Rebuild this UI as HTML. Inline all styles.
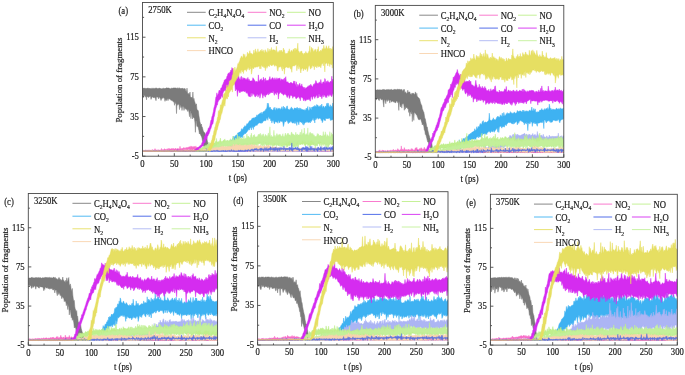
<!DOCTYPE html><html><head><meta charset="utf-8"><style>html,body{margin:0;padding:0;background:#fff;width:685px;height:375px;overflow:hidden;position:relative}</style></head><body><svg width="685" height="375" viewBox="0 0 685 375" style="position:absolute;left:0;top:0;filter:blur(0.5px)">
<rect width="685" height="375" fill="#fff"/>
<clipPath id="ca"><rect x="142.50" y="2.50" width="190.80" height="153.70"/></clipPath>
<g clip-path="url(#ca)">
<path transform="scale(0.1)" vector-effect="non-scaling-stroke" fill="#7b7b7b" stroke="#7b7b7b" stroke-width="0.5" d="M1425 880l5 0 5 3 5-2 5 2 5-1 5 2 5-2 5 3 5 1 5-6 5 1 5 2 5 3 5-1 5-4 5 6 5-3 5-2 5 5 5-4 5 3 5-3 5 1 5 0 5-2 5 0 5-1 5 0 5 4 5 1 5-2 5 0 5-3 5-1 5 5 5 1 5-1 5 3 5 2 5-6 5 4 5-8 5 4 5 3 5-7 5 6 5-3 5-6 5 4 5 0 5 0 5-1 5 0 5 3 5 5 5 0 5-5 5-1 5 0 5 1 5-4 5 0 5 0 5 0 5 0 5 1 5-1 5 5 5-6 5 6 5-7 5 7 5-2 5-3 5 3 5 5 5-6 5 5 5 2 5-5 5-3 5 16 5-11 5 3 5-4 5 11 5 20 5-1 5-33 5 43 5 16 5 2 5-11 5 21 5-32 4 50 5 3 5 8 5-11 5 26 5-76 5 85 5-22 5 25 5 14 5 17 5 12 5-13 5 49 5 18 5-4 5 11 5 44 5 29 5 32 5 16 5 18 5-10 5 30 5 2 5 22 5 21 5 1 5 7 5 7 5 21 5 3 5-20 5 56 5 21 5 18 5 33 5 25 5 9 5 10 5-1 5 2 5-2 5 1 5 0 5-1 5 1 5 0 5 0 5 0 5 0 5 0 5 0 5-1 5 1 5 0 5 0 5 0 5 0 5 0 5-1 5 1 5 0 5 0 5 0 5 0 5 0 5 0 5 0 5 0 5-1 5 1 5-2 5 2 5 0 5 0 5 0 5 0 5 0 5 0 5 0 5 0 5 0 5 0 5 0 5 0 5 0 5-1 5 1 5 0 5 0 5-1 5 1 5 0 5 0 5 0 5-1 5 1 5 0 5 0 5 0 5 0 5 0 5 0 5 0 5-1 5 0 5 0 5 1 5 0 5 0 5 0 5-1 5 1 5 0 5 0 5 0 5 0 5 0 5 0 5 0 5 0 5 0 5 1 5 0 5-1 5 1 5 0 5-1 5 1 5-1 5 0 5 0 5 0 5 0 5-1 5 1 5 0 5 0 5 0 5 0 5 0 5 0 5 0 5 0 5 0 5 0 5 0 5 0 5 0 5 0 5 0 5 0 5 0 5 0 5 0 5 0 5 0 5 0 5 0 5 0 5-1 5 1 5 0 5-1 5 1 5 0 5 0 5 0 5 0 5 0 5 0 5 0 5 0 5-1 5 1 5-1 5 1 5 0 5 0 5-1 5 1 5 0 5 0 5-1 5 1 5-1 5 1 5 0 5 0 5 0 4-1 5 1 5 0 5 0 5 0 5 0 5 0 5-1 5-1 5 2 5-2 5 1 5 1 5-1 5 1 5 0 5 0 5 0 5 0 5 0 5 0 5-1 5 1 5 0 5 0 5 0 5 0 5 0 5-1 5 1 5 0 5 0 5-1 5 1 5 0 5 0 5-1 5 1 5 0 5 0 5 0 5 1 5-1 5 0 5 0 5 0 5 0 5 1 5-1 5 1 5 0 5-1 5 1 5-1 5 1 5-1 5 0 5 0 5 1 5-1 5 0 5 0 5 0 5 0 5 0 5-1 5 1 5 0 5 1 5 0 5-1 5 1 5 0 5 0 5-1 5-1 5 1 5 1 5 0 5 0 5 0 5 0 5-1 5 0 5 0 5 1 5 0 5-1 5 0 5 1 5 0 5-1 5 0 5 1 5 0 5 0L3333 1512l-5 1 -5 1 -5-1 -5-1 -5 1 -5-1 -5 2 -5-1 -5-1 -5 0 -5 1 -5-1 -5 0 -5 0 -5 0 -5 1 -5 0 -5 0 -5 0 -5 0 -5 0 -5-1 -5 1 -5-1 -5 0 -5 1 -5-1 -5 0 -5 0 -5 1 -5-1 -5 2 -5-2 -5 1 -5 0 -5 1 -5-2 -5 1 -5-1 -5 2 -5-2 -5 1 -5 1 -5-2 -5 0 -5 1 -5 1 -5 0 -5-2 -5 0 -5 0 -5 0 -5 1 -5 1 -5-2 -5 0 -5 1 -5-1 -5 0 -5 0 -5 0 -5 1 -5 0 -5-1 -5 0 -5 1 -5-1 -5 0 -5 0 -5 0 -5 1 -5-1 -5 1 -5 0 -5 0 -5-1 -5 0 -5 1 -5-1 -5 0 -5 1 -5 0 -5-1 -5 1 -5-1 -5 0 -5 0 -5 1 -5-1 -5 1 -5-1 -5 0 -5 1 -5-1 -5 0 -4 1 -5-1 -5 0 -5 0 -5 0 -5 0 -5 0 -5 0 -5 0 -5 0 -5 0 -5 0 -5 2 -5-1 -5-1 -5 0 -5 1 -5-1 -5 0 -5 0 -5 0 -5 0 -5 0 -5 0 -5 0 -5 0 -5 2 -5-1 -5 1 -5-2 -5 0 -5 0 -5 1 -5-1 -5 1 -5-1 -5 0 -5 1 -5-1 -5 0 -5 0 -5 0 -5 0 -5 0 -5 0 -5 0 -5 2 -5-2 -5 1 -5 0 -5-1 -5 0 -5 0 -5 0 -5 0 -5 0 -5 2 -5-1 -5-1 -5 0 -5 2 -5-2 -5 1 -5-1 -5 1 -5 0 -5-1 -5 1 -5-1 -5 1 -5-1 -5 1 -5-1 -5 1 -5 0 -5-1 -5 0 -5 0 -5 0 -5 1 -5-1 -5 0 -5 0 -5 1 -5-1 -5 1 -5-1 -5 0 -5 0 -5 2 -5-2 -5 1 -5-1 -5 1 -5-1 -5 1 -5 0 -5-1 -5 0 -5 1 -5-1 -5 0 -5 0 -5 0 -5 1 -5-1 -5 1 -5 0 -5-1 -5 1 -5-1 -5 0 -5 0 -5 1 -5-1 -5 0 -5 0 -5 0 -5 0 -5 1 -5-1 -5 0 -5 1 -5-1 -5 0 -5 1 -5-1 -5 1 -5-1 -5 0 -5 0 -5 1 -5-1 -5 0 -5 0 -5 0 -5 1 -5-1 -5 1 -5 0 -5-1 -5 1 -5 0 -5 0 -5 0 -5 0 -5-1 -5 1 -5 1 -5-2 -5 2 -5-2 -5-1 -5 0 -5 0 -5 3 -5 0 -5-10 -5 3 -5 7 -5-10 -5-34 -5-14 -5 9 -5-6 -5-40 -5-15 -5-26 -5-14 -5-8 -5-12 -5-14 -5 10 -5-36 -5-20 -5-22 -5 3 -5-1 -5-48 -5-8 -5 115 -5-102 -5-36 -5-8 -5-1 -5-5 -5 19 -5-55 -5-6 -5 57 -5-73 -4 0 -5 54 -5-40 -5-28 -5-3 -5 18 -5-21 -5 1 -5-4 -5 1 -5-16 -5 4 -5 26 -5-34 -5-7 -5 3 -5 38 -5-48 -5 20 -5-19 -5-5 -5 43 -5-58 -5 7 -5-11 -5 19 -5-19 -5 102 -5-118 -5 18 -5-22 -5 39 -5-45 -5 14 -5-15 -5 5 -5-13 -5 3 -5 4 -5-13 -5 2 -5-9 -5 6 -5-10 -5 25 -5-23 -5 6 -5 16 -5-5 -5-9 -5 22 -5-25 -5-11 -5 0 -5 0 -5 2 -5 6 -5 5 -5 14 -5-17 -5-5 -5-13 -5 1 -5 18 -5-17 -5-2 -5-1 -5-1 -5 39 -5-20 -5-12 -5 1 -5-3 -5 6 -5-6 -5-5 -5 5 -5 9 -5 12 -5-32 -5 0 -5 6 -5-1 -5 9 -5-11 -5 5 -5-13 -5 41 -5-45 -5 19 -5-8 -5-9 -5-5 -5 24 -5-21 -5 7z"/>
<path transform="scale(0.1)" vector-effect="non-scaling-stroke" fill="#f86cc8" stroke="#f86cc8" stroke-width="0.5" d="M1425 1506l5-2 5 0 5 1 5 0 5-7 5 3 5 5 5-5 5 4 5-2 5 3 5-1 5-8 5 8 5-3 5 1 5-1 5 0 5-3 5-3 5 3 5 3 5 0 5-3 5-13 5 12 5 2 5 0 5 2 5-3 5 4 5-6 5 4 5 1 5 0 5-1 5-1 5-16 5 14 5 1 5-5 5 5 5-4 5-8 5 3 5 5 5 1 5 2 5-12 5 4 5 6 5-4 5-11 5 12 5-3 5 0 5-2 5-3 5 5 5 2 5-12 5 12 5-5 5 5 5-4 5-7 5 9 5 2 5-7 5 2 5-1 5 2 5 1 5 0 5-26 5 28 5-7 5 4 5-3 5 1 5-5 5-5 5 10 5-9 5 7 5-1 5-8 5 7 5-11 5 8 5-5 5-2 5-5 5 3 5-2 4 8 5-17 5 13 5-10 5 7 5 3 5-2 5-7 5 1 5 8 5 2 5-15 5 23 5-11 5 14 5-15 5 10 5 7 5 3 5-3 5 0 5 3 5 0 5 4 5 4 5 1 5-9 5 6 5-4 5 8 5 1 5-1 5-1 5 1 5 0 5-2 5 1 5 2 5-9 5 8 5-4 5 6 5-1 5 1 5 2 5-3 5 0 5 2 5-4 5 6 5 1 5-1 5 0 5-1 5 1 5-2 5 0 5 2 5-1 5 1 5 0 5 0 5-2 5 4 5-2 5 2 5-1 5 1 5 0 5 1 5-1 5-5 5 4 5 1 5-2 5 3 5 0 5-2 5 3 5 0 5-6 5 6 5 0 5 0 5-1 5-1 5 0 5 1 5 0 5 0 5 1 5 0 5-1 5 0 5 0 5-1 5 2 5-3 5 0 5 2 5 0 5 0 5 1 5-3 5 2 5 2 5-3 5-7 5 5 5 0 5 2 5 2 5-7 5 7 5-3 5 3 5-4 5-4 5 7 5-1 5 2 5 0 5-1 5-4 5 3 5-1 5 1 5 0 5-1 5 2 5-2 5 2 5 0 5-2 5 2 5 0 5 0 5-1 5-1 5 1 5 1 5-2 5 3 5 0 5-1 5 0 5 1 5-3 5-2 5 5 5 0 5-2 5 1 5-2 5 2 5 1 5-1 5-3 5 1 5 4 5-3 5-1 5 3 5 0 5-1 5 1 5 0 5-3 5 3 5 1 5 0 5-1 5 1 5-2 5 1 5 0 5 1 5-1 5 0 5 0 5-1 5 1 5 1 5 0 5-2 5 1 5 0 5-1 5-3 5 3 5 1 4-1 5 1 5-2 5 0 5 1 5 0 5-1 5 1 5-3 5 3 5 1 5-4 5 4 5-1 5 0 5 1 5 0 5-1 5-1 5 1 5 0 5-1 5 1 5-2 5 2 5 0 5-1 5 1 5 1 5 0 5 0 5 0 5-2 5 0 5 2 5-1 5-1 5 1 5 1 5-1 5 0 5 1 5-3 5 2 5-1 5 1 5 0 5 0 5-2 5 0 5 2 5-1 5 1 5-2 5 2 5 0 5 0 5 1 5 0 5 0 5 0 5-1 5-3 5 4 5-1 5 1 5-3 5 3 5-2 5 2 5-3 5 2 5 1 5-1 5-2 5 3 5-1 5 1 5 0 5 0 5-3 5 3 5-2 5 2 5-3 5 4 5-5 5 2 5 2 5-2 5 1 5 1 5-1 5 2 5 0 5-1L3333 1514l-5-2 -5 2 -5 0 -5 0 -5-2 -5 0 -5 2 -5-2 -5 2 -5-1 -5 1 -5-2 -5 1 -5 1 -5 0 -5 0 -5 0 -5-2 -5 0 -5 0 -5 0 -5 0 -5 2 -5 0 -5 0 -5-1 -5 1 -5-1 -5 0 -5 1 -5-2 -5 2 -5 0 -5-2 -5 1 -5-1 -5 0 -5 0 -5 2 -5-3 -5 3 -5-2 -5 2 -5-2 -5 2 -5-2 -5 1 -5 0 -5 0 -5 0 -5 0 -5-1 -5 0 -5-1 -5 2 -5-1 -5 0 -5 0 -5 0 -5 2 -5-1 -5 0 -5 1 -5-2 -5 2 -5-1 -5 1 -5-1 -5 0 -5 0 -5 1 -5-2 -5 1 -5 0 -5-1 -5 1 -5 0 -5-1 -5 0 -5 1 -5-1 -5-1 -5 1 -5 2 -5-1 -5 0 -5 0 -5 0 -5 0 -5 0 -5 1 -5 0 -5-1 -5 1 -5 0 -4 0 -5 0 -5-1 -5 0 -5 0 -5 0 -5 0 -5 0 -5 0 -5 0 -5 1 -5-1 -5 1 -5 0 -5-1 -5 0 -5 1 -5-1 -5 1 -5-1 -5 0 -5 0 -5 1 -5-1 -5 0 -5 1 -5 0 -5-1 -5-1 -5 1 -5 1 -5 0 -5-1 -5 1 -5-1 -5 1 -5-1 -5-1 -5 0 -5 2 -5 0 -5-1 -5-1 -5 2 -5-2 -5 2 -5-1 -5 0 -5-1 -5 0 -5 1 -5-2 -5 3 -5-1 -5-2 -5 0 -5 1 -5 2 -5-1 -5-1 -5 1 -5-2 -5 3 -5-1 -5 0 -5-1 -5 1 -5 1 -5-1 -5 0 -5-1 -5 2 -5-2 -5 0 -5 0 -5 0 -5 2 -5 0 -5 0 -5 0 -5 0 -5 0 -5 0 -5 0 -5-1 -5 1 -5-1 -5 0 -5 0 -5 1 -5 0 -5 0 -5-1 -5-1 -5 1 -5-1 -5 2 -5-2 -5 0 -5 2 -5-2 -5 0 -5 0 -5 2 -5-1 -5-1 -5 1 -5-1 -5 0 -5 2 -5 0 -5-2 -5 2 -5-2 -5 2 -5-2 -5 0 -5 2 -5-3 -5 3 -5 0 -5 0 -5 0 -5-2 -5 2 -5-1 -5-2 -5 3 -5-3 -5 0 -5 2 -5 0 -5 0 -5-2 -5 0 -5 2 -5-3 -5 2 -5-2 -5 0 -5 1 -5 0 -5 0 -5-1 -5 4 -5 0 -5-3 -5-1 -5 0 -5 1 -5 2 -5-7 -5 8 -5 0 -5-7 -5 0 -5 7 -5-7 -5 1 -5 5 -5-6 -5-1 -5 8 -5 0 -5 0 -5-5 -5 2 -5-3 -5 0 -5 5 -5-3 -5-7 -5 6 -5 0 -5-9 -5 1 -5 2 -5 0 -5-2 -5-6 -5 8 -5-4 -5 0 -5-7 -5-2 -5 16 -5-4 -5-12 -5 10 -5-1 -5 9 -4-6 -5-10 -5 2 -5-1 -5 5 -5 13 -5-12 -5-2 -5-3 -5 0 -5 6 -5-4 -5 2 -5-1 -5 3 -5 1 -5 4 -5 9 -5-14 -5 0 -5 1 -5 13 -5-14 -5 1 -5 2 -5-1 -5-3 -5 7 -5-3 -5 11 -5-9 -5 9 -5-9 -5-4 -5 6 -5 7 -5-11 -5-3 -5 6 -5 8 -5-9 -5-1 -5 6 -5-5 -5 3 -5 6 -5 0 -5-9 -5 5 -5-1 -5-2 -5 3 -5 1 -5-5 -5 7 -5-5 -5 6 -5 0 -5 0 -5-5 -5 4 -5-4 -5 5 -5-3 -5-1 -5 2 -5 0 -5-2 -5 4 -5-6 -5 5 -5-3 -5 0 -5-2 -5 3 -5-1 -5 0 -5 4 -5-5 -5 2 -5 2 -5-1 -5 2 -5-1 -5 1 -5-1 -5-2 -5 1 -5 2 -5-3 -5 3 -5-3 -5 1 -5 2 -5 0 -5 0z"/>
<path transform="scale(0.1)" vector-effect="non-scaling-stroke" fill="#3eb2f2" stroke="#3eb2f2" stroke-width="0.5" d="M1425 1510l5 0 5 0 5 0 5 0 5 0 5 0 5-2 5 2 5-1 5 1 5 0 5 0 5 0 5 0 5 0 5 0 5-1 5 0 5 0 5 0 5 0 5 0 5 0 5 0 5 0 5 0 5 0 5 0 5 0 5 0 5 0 5 0 5 0 5 0 5 1 5 0 5 0 5-1 5 0 5 1 5 0 5 0 5-1 5 0 5 0 5 0 5 0 5 0 5 0 5 0 5 0 5 0 5 0 5 0 5 0 5 0 5 0 5-1 5 1 5 0 5-1 5 1 5 0 5 0 5 0 5 0 5-1 5 1 5 0 5 0 5 0 5 0 5 0 5 0 5 0 5 0 5 0 5-1 5 1 5-1 5 1 5 0 5 0 5 0 5 0 5-1 5 1 5-1 5 1 5 0 5 0 5-1 5 1 5 0 5-1 4 0 5 0 5 0 5 1 5-1 5 0 5 0 5 0 5 0 5 0 5 0 5 1 5-1 5 0 5 0 5 0 5 0 5 0 5 0 5 0 5-1 5 1 5 0 5-1 5 1 5 0 5 0 5 0 5-1 5 0 5 1 5 0 5 0 5-1 5 1 5 0 5 0 5 0 5 0 5 0 5 0 5 0 5 0 5 0 5 0 5-1 5 1 5 0 5 0 5 0 5 0 5 0 5 0 5 0 5 0 5 0 5 0 5-1 5 1 5 0 5 0 5 0 5 0 5 0 5 0 5 0 5 0 5-1 5 0 5 1 5 0 5 0 5-1 5-12 5-17 5-10 5-12 5-13 5-4 5-9 5-2 5-25 5 0 5-6 5-5 5-14 5 0 5-18 5 18 5-9 5-11 5-3 5-5 5 2 5-11 5-13 5 1 5-4 5-5 5 0 5-4 5-4 5-19 5-7 5 11 5-4 5-12 5-12 5 2 5-15 5 12 5-9 5-6 5-16 5 5 5-9 5-4 5-8 5-12 5-2 5 1 5-5 5-6 5-10 5-8 5 9 5-10 5 3 5 2 5-11 5 1 5-3 5-2 5-20 5 16 5-15 5-5 5-2 5-3 5-6 5 3 5-10 5-2 5 15 5-5 5-14 5-3 5-2 5-2 5-7 5-1 5-16 5 3 5-18 5-43 5 43 5-41 5 44 5-4 5 5 5-6 5 24 5-6 5 9 5 4 5-6 5 4 5-24 5 22 5-27 5 33 5-7 5-14 5-6 5 14 5 3 5-11 5-2 5 0 5 10 5 2 5-9 5 6 5-24 5 18 5 16 5-40 5 35 5-21 5-2 5 19 4-3 5-6 5-21 5-3 5 29 5 8 5-4 5 6 5 1 5-15 5 11 5-26 5 15 5-2 5 11 5 4 5 0 5-18 5 1 5 8 5-7 5-3 5 15 5-20 5 21 5-14 5 17 5-2 5-17 5 22 5-18 5 20 5-11 5 10 5-7 5 7 5-2 5-3 5 8 5-2 5-7 5-15 5 21 5-14 5-22 5 43 5-6 5 1 5-34 5 11 5 10 5 9 5-29 5 6 5-8 5-1 5-1 5-2 5-10 5 7 5 4 5 2 5-23 5 14 5-7 5 8 5 12 5-6 5-3 5-9 5 16 5-9 5-20 5 31 5 6 5-16 5 1 5 16 5 0 5-15 5-3 5 8 5-35 5 23 5-26 5 3 5 26 5 11 5-3 5-20 5 24 5-2 5-11 5 20 5-48 5 51L3333 1191l-5 5 -5 5 -5-1 -5-3 -5 9 -5-5 -5-24 -5 5 -5 4 -5-6 -5 10 -5-13 -5 12 -5-8 -5 2 -5 24 -5-8 -5 5 -5-10 -5-6 -5 28 -5 11 -5-33 -5 12 -5-19 -5-2 -5-6 -5 5 -5 2 -5 7 -5-17 -5 7 -5 3 -5 0 -5 13 -5-21 -5 52 -5-35 -5 11 -5-20 -5-2 -5 17 -5 3 -5 10 -5-6 -5 21 -5-11 -5 4 -5 3 -5-1 -5-9 -5 8 -5 1 -5-6 -5-1 -5 11 -5 5 -5 3 -5 16 -5-29 -5 21 -5-21 -5 2 -5 1 -5-7 -5 1 -5-9 -5 9 -5 28 -5-22 -5-7 -5-7 -5 42 -5-33 -5-10 -5 24 -5-22 -5 22 -5-12 -5 7 -5 0 -5 1 -5-8 -5-7 -5-1 -5-5 -5 17 -5-8 -5 7 -5 11 -5-13 -5-11 -5-13 -5 8 -5 10 -4 1 -5-5 -5 4 -5 30 -5 17 -5-37 -5-12 -5-3 -5 1 -5-1 -5-5 -5 15 -5 6 -5-20 -5-4 -5 28 -5-16 -5 1 -5 5 -5-3 -5-7 -5 12 -5 14 -5-13 -5-20 -5 1 -5 0 -5 24 -5-28 -5 7 -5-19 -5-8 -5 4 -5-16 -5-4 -5 36 -5-15 -5-7 -5 7 -5 20 -5 0 -5-11 -5 12 -5-1 -5 5 -5 1 -5 15 -5-3 -5 7 -5 0 -5-4 -5 2 -5-3 -5 3 -5 2 -5 10 -5 0 -5 13 -5-5 -5 3 -5 2 -5 7 -5 6 -5-6 -5 32 -5-32 -5 13 -5-11 -5 35 -5-27 -5 4 -5 2 -5 22 -5-8 -5 4 -5 8 -5 8 -5 8 -5 3 -5 11 -5 0 -5 0 -5 4 -5 6 -5 4 -5 5 -5 21 -5 0 -5-10 -5 10 -5 3 -5 5 -5 0 -5 35 -5 1 -5-13 -5 7 -5 13 -5 10 -5 17 -5 3 -5 25 -5 33 -5-15 -5 15 -5-20 -5 0 -5 3 -5-2 -5 7 -5 9 -5 3 -5-2 -5-2 -5-3 -5 0 -5 0 -5 4 -5-1 -5 1 -5 0 -5 0 -5 0 -5 0 -5 1 -5-1 -5 0 -5 0 -5 0 -5 0 -5 0 -5 0 -5 0 -5 0 -5 0 -5 0 -5 0 -5 0 -5 0 -5 0 -5 0 -5 0 -5 0 -5 0 -5 0 -5 0 -5 1 -5-1 -5 0 -5 0 -5 0 -5 0 -5 0 -5 0 -5 0 -5 0 -5 0 -5 0 -5 0 -5-1 -5 0 -5 0 -5 1 -5 0 -5 0 -5 0 -5 0 -5-1 -5 1 -5 0 -5 0 -5 0 -5 0 -5 0 -5 0 -5 0 -5 0 -5 0 -5 0 -5 0 -5 0 -5 0 -5 0 -5 0 -5 0 -5 0 -5 0 -5 0 -5 0 -5 0 -5 0 -4 0 -5 0 -5 0 -5 0 -5 0 -5 0 -5 1 -5-1 -5 1 -5 0 -5-1 -5 1 -5-1 -5 1 -5 0 -5 0 -5 0 -5 0 -5 0 -5 0 -5 0 -5 0 -5 0 -5 0 -5 0 -5 0 -5 0 -5 0 -5 0 -5 0 -5 0 -5-1 -5 0 -5 0 -5 0 -5 1 -5 0 -5 0 -5 0 -5 0 -5 0 -5-1 -5 1 -5 0 -5 0 -5 0 -5 0 -5 0 -5 0 -5 0 -5 0 -5 0 -5 1 -5 0 -5-1 -5 0 -5 0 -5 0 -5 1 -5 0 -5-1 -5 0 -5 0 -5 0 -5 0 -5 0 -5 0 -5 0 -5 0 -5 0 -5 0 -5 0 -5 0 -5 0 -5 0 -5 1 -5-1 -5 0 -5 0 -5 0 -5 0 -5 0 -5 0 -5 0 -5 0 -5 0 -5 0 -5 1 -5 0 -5 0 -5 0 -5-1 -5 1 -5 0 -5 0 -5 0z"/>
<path transform="scale(0.1)" vector-effect="non-scaling-stroke" fill="#acb5f4" stroke="#acb5f4" stroke-width="0.5" d="M1425 1511l5-1 5 0 5-2 5 2 5 0 5 0 5-2 5 1 5 1 5-1 5 1 5 0 5 0 5-1 5 0 5 1 5 0 5 0 5 0 5-2 5 2 5-1 5 0 5 1 5 0 5-1 5 0 5 0 5-3 5 4 5-1 5 0 5 0 5-1 5 1 5 0 5-4 5 4 5 0 5-1 5 1 5 0 5 0 5-1 5 1 5 0 5 0 5 0 5-1 5 0 5 0 5 1 5 0 5-1 5 1 5-1 5 2 5-1 5 0 5-2 5 2 5 0 5-1 5 1 5-1 5 1 5 0 5 0 5-1 5 0 5 0 5 0 5 0 5-1 5 1 5 1 5 0 5 0 5 0 5 0 5 0 5-2 5 2 5-1 5 1 5-1 5 0 5 0 5 0 5 1 5 0 5 0 5-3 5 3 5 0 4-2 5 2 5-1 5 1 5 0 5 0 5 0 5-1 5 1 5 0 5-2 5-3 5 5 5 0 5-2 5 2 5 0 5 0 5-3 5-2 5 4 5 0 5 0 5-1 5 1 5 1 5-1 5-1 5 1 5-1 5 1 5 0 5 1 5 0 5 0 5-2 5 1 5 0 5-2 5 2 5 0 5 0 5-1 5 1 5 0 5 0 5-2 5 2 5-1 5 0 5 0 5 0 5-1 5 1 5 0 5-2 5 1 5-1 5 1 5-3 5 2 5-1 5 0 5 0 5 1 5-1 5 2 5-1 5 1 5-1 5-4 5 3 5-2 5-3 5 4 5 2 5-1 5 1 5 0 5-1 5 1 5 0 5 0 5-1 5-3 5 4 5 0 5 0 5-4 5 4 5-5 5 2 5 2 5 0 5 0 5 0 5 1 5-1 5-2 5 0 5 2 5-1 5 0 5-1 5 1 5-1 5 0 5-1 5-2 5 3 5-3 5 2 5 0 5 0 5 1 5-2 5-13 5 11 5 3 5-2 5 1 5 0 5 1 5 0 5-2 5-6 5 6 5 1 5-1 5-7 5 6 5 2 5-8 5 4 5-1 5 4 5-2 5-4 5 1 5 3 5-2 5 1 5-4 5 2 5 2 5-5 5 4 5 2 5 0 5 0 5-4 5 4 5 0 5-2 5-8 5 5 5-2 5 4 5-4 5 2 5 6 5 0 5-1 5-1 5-9 5 10 5 0 5-1 5 2 5-8 5 1 5 9 5-2 5-11 5 9 5-2 5 2 5-1 5-1 5-6 5 3 5 4 5 0 5-2 5 0 5 0 5-5 5 4 5 3 5-2 5-16 4 16 5-5 5 4 5-4 5 5 5-4 5 0 5 7 5-6 5-1 5 0 5 4 5-1 5-4 5 5 5 0 5 0 5-2 5 2 5-1 5 3 5-1 5-2 5 1 5-6 5 2 5 3 5 0 5 0 5 0 5-2 5-2 5 2 5-3 5 5 5-10 5 6 5-4 5-1 5 3 5-2 5-8 5 8 5 3 5-14 5 15 5 0 5-7 5 1 5 6 5-8 5 4 5 0 5 4 5-1 5 3 5-1 5 0 5-6 5-8 5-4 5 16 5-6 5 1 5 8 5-17 5 14 5-5 5 2 5-3 5 1 5 1 5-16 5 15 5 5 5 0 5-7 5 2 5 3 5-18 5 10 5 2 5 4 5-7 5-4 5-9 5 16 5-1 5 1 5-13 5 9 5 3 5 2 5-1 5 2 5-6L3333 1505l-5 1 -5 1 -5 7 -5-2 -5-3 -5 0 -5 5 -5-9 -5 4 -5 5 -5-5 -5-4 -5 2 -5 7 -5-6 -5 3 -5 3 -5-3 -5 2 -5-2 -5 3 -5-4 -5 0 -5 1 -5 1 -5 2 -5 0 -5-4 -5 4 -5 0 -5-1 -5 1 -5 0 -5 0 -5 0 -5-1 -5-1 -5 2 -5 0 -5-1 -5 1 -5-3 -5 2 -5-1 -5 1 -5 1 -5 0 -5 0 -5-3 -5-1 -5-1 -5 3 -5 2 -5 0 -5 0 -5 0 -5 0 -5 0 -5 0 -5 0 -5 0 -5 0 -5 0 -5-2 -5-1 -5 2 -5 1 -5 0 -5 0 -5-1 -5 0 -5 1 -5 0 -5 0 -5 0 -5 0 -5 0 -5-1 -5-1 -5 1 -5 1 -5-1 -5-1 -5-1 -5 3 -5 0 -5 0 -5 0 -5 0 -5-2 -5 0 -5-1 -5 3 -5 0 -5-2 -4 2 -5 0 -5 0 -5 0 -5 0 -5 0 -5 0 -5 0 -5 0 -5-1 -5 1 -5-1 -5 1 -5-1 -5 1 -5-1 -5 1 -5 0 -5 0 -5 0 -5 0 -5 0 -5 0 -5 0 -5 0 -5 0 -5 0 -5 0 -5 0 -5 0 -5 0 -5 0 -5 0 -5-1 -5 1 -5 0 -5 0 -5-1 -5 0 -5 1 -5-2 -5 0 -5 2 -5 0 -5 0 -5-2 -5-1 -5-2 -5 5 -5-4 -5 1 -5-1 -5 4 -5-2 -5 1 -5-2 -5 3 -5-2 -5-1 -5 1 -5 2 -5-2 -5 0 -5 0 -5 2 -5 0 -5 0 -5 0 -5-1 -5-2 -5 3 -5-2 -5-1 -5-1 -5 1 -5 0 -5 0 -5-1 -5 4 -5-4 -5 2 -5 2 -5 0 -5 0 -5 0 -5-1 -5 1 -5-3 -5 3 -5-2 -5 2 -5-3 -5 3 -5-2 -5 0 -5 0 -5 0 -5 1 -5-1 -5 0 -5 0 -5-1 -5 0 -5 2 -5-1 -5 2 -5-1 -5-1 -5 0 -5 0 -5 2 -5 0 -5-1 -5 1 -5-2 -5-1 -5 0 -5 1 -5 1 -5-1 -5 0 -5 0 -5 0 -5 1 -5-1 -5 1 -5 1 -5-2 -5 0 -5 0 -5 0 -5 0 -5 0 -5 1 -5 0 -5-1 -5 2 -5-1 -5 0 -5 1 -5 0 -5 0 -5 0 -5 0 -5 0 -5 0 -5 0 -5-1 -5 0 -5 1 -5-1 -5 1 -5 0 -5 0 -5 0 -5 0 -5 0 -5 0 -5 0 -5 0 -5 0 -5 0 -5 0 -5 0 -5 0 -5 0 -5 0 -5 0 -5 0 -5 0 -5 0 -5 0 -5 0 -5 0 -5 0 -5 0 -5 0 -5 0 -5 0 -5 0 -5 0 -5 0 -5 0 -5 0 -5 0 -5 0 -5 0 -5 0 -5 0 -5 0 -5-1 -4 1 -5 0 -5 0 -5-1 -5 1 -5-1 -5 0 -5 1 -5-1 -5 1 -5-1 -5 1 -5-1 -5 0 -5 0 -5 1 -5 0 -5-1 -5 1 -5 0 -5 0 -5 0 -5 0 -5 0 -5-1 -5 0 -5 0 -5 0 -5 0 -5 0 -5 0 -5 0 -5 0 -5 1 -5 0 -5 0 -5 0 -5 0 -5-1 -5 0 -5 1 -5-1 -5 1 -5 0 -5-1 -5 0 -5 0 -5 0 -5 1 -5-1 -5 1 -5-1 -5 0 -5 1 -5-1 -5 0 -5 0 -5 0 -5 0 -5 0 -5 1 -5-1 -5 0 -5 0 -5 1 -5-1 -5 0 -5 1 -5-1 -5 0 -5 0 -5 0 -5 0 -5 0 -5 0 -5 0 -5 1 -5-1 -5 1 -5 0 -5 0 -5-1 -5 0 -5 1 -5-1 -5 0 -5 0 -5 0 -5 1 -5 0 -5 0 -5 0 -5-1 -5 0 -5 1 -5 0z"/>
<path transform="scale(0.1)" vector-effect="non-scaling-stroke" fill="#bfef8c" stroke="#bfef8c" stroke-width="0.5" d="M1425 1511l5 0 5-3 5 2 5 0 5-2 5-2 5 4 5 0 5-2 5 2 5-1 5 0 5 1 5-2 5 2 5 0 5-1 5-3 5 2 5 1 5 1 5-1 5 0 5 1 5-1 5 0 5 1 5 0 5 0 5-1 5-1 5 1 5 0 5 0 5 1 5-6 5 5 5 0 5-3 5 3 5-2 5 2 5 0 5 0 5-1 5 1 5-1 5 0 5 0 5 0 5 0 5-1 5-1 5 1 5 0 5 0 5-1 5 1 5-2 5 3 5-1 5-1 5 1 5-2 5 1 5 0 5 0 5-1 5 2 5 1 5-2 5 1 5-5 5 3 5 1 5-1 5 0 5-2 5-4 5 6 5 0 5 1 5-4 5 2 5-1 5-1 5 3 5 0 5-1 5-2 5 2 5-1 5-4 5 4 5 1 4-2 5 1 5 0 5-2 5 3 5-1 5 1 5-1 5-5 5 1 5 4 5-1 5 0 5 1 5 0 5-1 5 1 5-2 5-3 5-6 5-5 5-6 5 3 5-4 5-8 5 0 5 1 5-8 5 2 5-10 5-3 5 0 5-1 5 0 5-14 5 6 5 3 5-27 5 13 5 8 5-13 5 12 5-13 5 8 5 1 5-18 5 16 5-4 5-2 5 2 5-18 5 15 5-44 5 32 5 5 5 2 5-9 5 8 5-7 5-14 5-20 5 28 5 5 5 6 5-1 5-6 5-14 5 11 5-11 5-10 5 27 5-6 5 1 5 1 5-6 5 12 5 1 5-4 5-9 5-6 5-13 5 23 5-2 5-8 5 14 5 2 5-32 5 24 5-1 5-6 5 2 5-8 5-3 5 12 5-9 5 17 5-16 5-10 5 13 5 15 5-11 5 13 5-5 5-7 5-10 5-3 5 14 5 6 5-4 5-6 5 0 5-6 5 7 5-12 5-3 5-4 5 0 5 2 5 16 5 0 5-10 5-3 5-56 5 53 5 12 5 3 5-15 5 11 5-4 5 7 5-2 5-19 5 8 5-5 5 10 5-14 5 17 5 2 5-4 5 2 5-6 5-35 5 38 5-11 5 16 5-4 5 5 5 0 5-13 5-13 5 0 5 8 5 17 5-9 5 6 5 9 5-28 5 29 5 2 5 1 5-13 5 5 5 1 5-20 5 21 5-10 5 16 5-9 5-28 5 20 5-5 5 23 5-9 5-5 5-2 5-7 5 20 5 2 5-3 5-11 5 14 5 2 5-13 5 10 5-1 5-2 5-10 5 6 5 8 5-3 5 2 4-1 5-7 5 13 5-2 5 1 5-10 5 6 5-17 5 18 5-3 5 4 5-19 5 10 5 5 5-12 5 15 5-13 5 16 5-13 5-3 5-29 5 34 5-22 5 13 5 11 5-18 5 6 5 8 5-12 5-30 5 21 5 15 5-26 5 34 5-27 5 26 5-8 5-23 5 31 5-2 5 2 5 4 5-2 5 0 5-1 5 0 5-15 5 14 5-7 5 13 5-4 5-30 5 1 5-2 5 32 5-9 5-11 5 9 5-1 5 12 5 0 5-3 5-9 5-14 5 6 5 9 5-17 5 10 5 1 5 1 5 2 5-2 5 9 5-5 5 5 5-23 5 18 5 1 5 3 5-22 5 20 5-7 5 3 5 8 5-8 5-2 5 12 5-1 5-3 5-9 5 7 5-13 5-6 5 20 5 7 5 2L3333 1441l-5 0 -5 6 -5 5 -5-9 -5-3 -5-3 -5 7 -5-5 -5 23 -5-9 -5 1 -5-8 -5 2 -5 3 -5-11 -5 1 -5 2 -5-5 -5 18 -5-21 -5 0 -5 4 -5 9 -5-18 -5 1 -5 20 -5 12 -5-18 -5-6 -5-4 -5 6 -5 14 -5 2 -5-7 -5 7 -5-4 -5 5 -5-15 -5 10 -5-6 -5 4 -5-11 -5 12 -5-7 -5 12 -5 3 -5-14 -5 29 -5-26 -5 0 -5 8 -5-15 -5-2 -5 0 -5 14 -5 7 -5-18 -5 11 -5-13 -5-5 -5 7 -5 1 -5-5 -5 0 -5 10 -5-7 -5 1 -5-4 -5 3 -5 33 -5-37 -5 25 -5-18 -5 21 -5-18 -5-3 -5 23 -5 0 -5-22 -5 32 -5-33 -5 16 -5-10 -5-4 -5 2 -5 1 -5-1 -5 10 -5-2 -5-7 -5 13 -5 9 -5 4 -5-19 -5-10 -4 2 -5 18 -5-23 -5 8 -5-5 -5 20 -5-13 -5 9 -5-2 -5-10 -5-6 -5-2 -5 11 -5 6 -5-8 -5-1 -5-7 -5 8 -5 0 -5-10 -5 11 -5-6 -5 10 -5-11 -5 13 -5-10 -5-7 -5 10 -5-10 -5 4 -5 0 -5-2 -5-1 -5 0 -5 18 -5-4 -5-15 -5 7 -5 12 -5-10 -5-12 -5-6 -5 1 -5-1 -5 22 -5-18 -5 5 -5 11 -5-14 -5-8 -5 2 -5 5 -5-3 -5 5 -5-6 -5 27 -5-27 -5 2 -5 18 -5-2 -5-14 -5 17 -5-10 -5 11 -5-17 -5 1 -5 14 -5-2 -5-2 -5-5 -5-3 -5 24 -5-27 -5 3 -5-3 -5 18 -5-8 -5-8 -5 47 -5-48 -5 1 -5 2 -5 13 -5-4 -5 10 -5-7 -5 3 -5-1 -5-2 -5 0 -5 0 -5 17 -5-15 -5 4 -5-14 -5 9 -5 48 -5-51 -5 3 -5-2 -5 0 -5-2 -5 48 -5-30 -5-16 -5 2 -5-3 -5-1 -5 30 -5 4 -5-24 -5-1 -5 47 -5-56 -5 3 -5 51 -5-49 -5-2 -5 0 -5 4 -5-6 -5 5 -5-2 -5-4 -5 35 -5-17 -5-14 -5 6 -5-1 -5-8 -5 3 -5 3 -5-5 -5 4 -5 24 -5-3 -5-19 -5 29 -5-20 -5-3 -5 25 -5-25 -5 0 -5 28 -5-19 -5-3 -5 4 -5-6 -5-1 -5 10 -5 2 -5-6 -5-3 -5 16 -5-10 -5 22 -5-21 -5 4 -5 2 -5 1 -5 0 -5 7 -5-5 -5 26 -5-23 -5 8 -5-3 -5 3 -5 1 -5 0 -5 6 -5 0 -5 0 -5 5 -5-1 -5 0 -5 1 -5 0 -5-1 -5-1 -5 2 -5 1 -5-2 -5 0 -5 1 -5-2 -5 1 -5 1 -5 0 -5 3 -5-3 -4 0 -5-1 -5 1 -5-1 -5 0 -5 4 -5-3 -5 0 -5-1 -5 1 -5 0 -5 0 -5 3 -5-3 -5 0 -5-1 -5 4 -5-2 -5 0 -5-1 -5 0 -5 1 -5 2 -5-3 -5 2 -5-1 -5 0 -5 1 -5 0 -5-1 -5 0 -5 0 -5 2 -5-2 -5 1 -5-1 -5 0 -5 1 -5-1 -5 0 -5 2 -5-2 -5 0 -5 1 -5 0 -5 0 -5-1 -5 1 -5 1 -5-1 -5 0 -5 0 -5 1 -5 0 -5 0 -5-1 -5 0 -5 0 -5 0 -5 1 -5 0 -5 0 -5 0 -5 0 -5 0 -5 0 -5 0 -5 0 -5 0 -5-1 -5 0 -5 1 -5 0 -5 0 -5 0 -5 0 -5 0 -5-1 -5 1 -5 0 -5-1 -5 1 -5 0 -5 0 -5-1 -5 1 -5-1 -5 1 -5 0 -5 0 -5 0 -5 0 -5 0 -5 0 -5 0 -5 0z"/>
<path transform="scale(0.1)" vector-effect="non-scaling-stroke" fill="#c3f09a" stroke="#c3f09a" stroke-width="0.5" d="M1425 1511l5 0 5 0 5 0 5 0 5 0 5 1 5-1 5 1 5-1 5 1 5-1 5 1 5-1 5-1 5 0 5 0 5 0 5 0 5 0 5-1 5-3 5 5 5-1 5 0 5-3 5 3 5 0 5-1 5 0 5 0 5 0 5 0 5 0 5-1 5 1 5-1 5 1 5-3 5 3 5 0 5-1 5 1 5-1 5 1 5-1 5 0 5 1 5 0 5 0 5-5 5 4 5-1 5 0 5-1 5 1 5-2 5 0 5 2 5 0 5 0 5 0 5 0 5-1 5-1 5 2 5-1 5 0 5 0 5 1 5 0 5-3 5 2 5 0 5-1 5 1 5-1 5-1 5-1 5 2 5 1 5 0 5-2 5 2 5-2 5 2 5 0 5 0 5 0 5 0 5 0 5-1 5 2 5 0 5 0 5 0 4-1 5 0 5-1 5 1 5 0 5-3 5 1 5 3 5-2 5 1 5-2 5 2 5-1 5 1 5 0 5-2 5 1 5 1 5-2 5 1 5 0 5 0 5-1 5 1 5 1 5-1 5-1 5-1 5-2 5-8 5 3 5-3 5 0 5-3 5-1 5-1 5-2 5-2 5-9 5-2 5 8 5-3 5-2 5-5 5-4 5 5 5-1 5-6 5-1 5-5 5 0 5-6 5 1 5-3 5 0 5-12 5 8 5-7 5-18 5-4 5 19 5-2 5-4 5-11 5-9 5 18 5-6 5-2 5 0 5-9 5 6 5-14 5 7 5 4 5-14 5 6 5 4 5-6 5 10 5 3 5-3 5 0 5-5 5-7 5 3 5-46 5 27 5 23 5 0 5-12 5-19 5 15 5-3 5-6 5-45 5 56 5-2 5-32 5 23 5-20 5 25 5-5 5 1 5-7 5 11 5-1 5 4 5-33 5 35 5-9 5-4 5 2 5-5 5-39 5 41 5-20 5 3 5 2 5 8 5 4 5 5 5-33 5 1 5 25 5 0 5-8 5-18 5 15 5-20 5 22 5 2 5 1 5-3 5 3 5-5 5-11 5-12 5 13 5-16 5 11 5-18 5 31 5 4 5-22 5 2 5 15 5-24 5 26 5 3 5-8 5-16 5 14 5-1 5 10 5-2 5-18 5-17 5 32 5-22 5-71 5 86 5 17 5-18 5 19 5-5 5 0 5-1 5-63 5 65 5-16 5 10 5 14 5-27 5-14 5 29 5-20 5 16 5-13 5-3 5 2 5 0 5 13 5 6 5-4 5-7 5-17 5 33 5-6 5 7 5-22 5-18 4 13 5 11 5 0 5-20 5 2 5-5 5 16 5 1 5 0 5 5 5-2 5-29 5-1 5 16 5 5 5-3 5 9 5 3 5-3 5 5 5-32 5 28 5 0 5-11 5 15 5-4 5 1 5 2 5-13 5-20 5 29 5 4 5-59 5 53 5-9 5-7 5 9 5-60 5 65 5-3 5 10 5-1 5-16 5 19 5-75 5 75 5-5 5-7 5-16 5-3 5 10 5 11 5-12 5 13 5-11 5 26 5-14 5 8 5 10 5 2 5-1 5-3 5 0 5-27 5 15 5-12 5 18 5 0 5 4 5-10 5 6 5 4 5 1 5-1 5-3 5-41 5 46 5-14 5 13 5-43 5 21 5 23 5 7 5-23 5 6 5 16 5-9 5 8 5-51 5 49 5 3 5-41 5 24 5-8 5 3 5 14L3333 1433l-5 16 -5-34 -5 9 -5 4 -5-1 -5 4 -5-4 -5 19 -5 5 -5 19 -5-36 -5 47 -5 13 -5-56 -5 2 -5 27 -5-32 -5-8 -5 7 -5-4 -5 12 -5 1 -5 24 -5-41 -5-5 -5-4 -5 3 -5-5 -5 3 -5-2 -5 6 -5 41 -5-44 -5 26 -5 2 -5 43 -5-45 -5-25 -5 7 -5-9 -5 2 -5-16 -5 3 -5-2 -5 5 -5-3 -5 7 -5 6 -5 10 -5-21 -5 4 -5 17 -5-9 -5 11 -5-12 -5-8 -5 11 -5-17 -5 3 -5 9 -5-9 -5-2 -5-7 -5 28 -5 1 -5-14 -5 31 -5-37 -5 36 -5-32 -5-2 -5 15 -5-13 -5 23 -5-16 -5 86 -5-62 -5-28 -5 45 -5-12 -5 8 -5-39 -5-1 -5 50 -5-29 -5-19 -5-4 -5-2 -5 2 -5 5 -5 1 -5 19 -5-11 -5-12 -5 22 -4-2 -5-4 -5-7 -5 38 -5-36 -5 3 -5 35 -5-45 -5 29 -5 16 -5-25 -5 25 -5-47 -5 13 -5 5 -5 19 -5-19 -5-1 -5 33 -5-30 -5-6 -5 1 -5-6 -5 8 -5-5 -5 18 -5 35 -5-47 -5-13 -5 38 -5-31 -5-2 -5 21 -5-21 -5-6 -5 4 -5 19 -5 4 -5-26 -5 1 -5 4 -5-1 -5 37 -5-46 -5-1 -5 38 -5 3 -5-17 -5-15 -5 31 -5-48 -5 13 -5-8 -5 9 -5-4 -5-2 -5 4 -5 22 -5-19 -5 11 -5-2 -5-12 -5 17 -5-15 -5 23 -5-19 -5-1 -5 3 -5 32 -5-31 -5 4 -5-3 -5 8 -5 74 -5-64 -5 1 -5-15 -5-1 -5 41 -5-44 -5 42 -5-36 -5 1 -5 10 -5-5 -5-12 -5 18 -5-8 -5 24 -5 5 -5-28 -5-2 -5-10 -5 22 -5-17 -5 1 -5 21 -5 40 -5-39 -5 6 -5 4 -5-16 -5 31 -5-22 -5-3 -5 6 -5-8 -5 3 -5-11 -5 10 -5 3 -5 17 -5-18 -5 2 -5 40 -5-48 -5-2 -5 19 -5-16 -5-4 -5 19 -5-1 -5-17 -5 7 -5 8 -5-4 -5 0 -5 13 -5-6 -5-1 -5 7 -5 1 -5-5 -5-1 -5 4 -5 5 -5-2 -5 6 -5-2 -5-3 -5 1 -5 8 -5 5 -5-9 -5 4 -5 4 -5 6 -5-8 -5 2 -5 2 -5 1 -5 1 -5 3 -5 0 -5-1 -5 2 -5 1 -5 5 -5-1 -5-1 -5 3 -5-1 -5 4 -5-1 -5 2 -5 0 -5 0 -5 0 -5 2 -5-1 -5-2 -5 1 -5 0 -5 2 -5 0 -5-2 -5 0 -5-1 -5 1 -5 0 -5 1 -5-1 -5-1 -5 1 -5 0 -5-1 -5 1 -5 1 -5-1 -5 1 -5-1 -4-1 -5 0 -5 3 -5-3 -5 0 -5 3 -5-2 -5-1 -5 0 -5 1 -5-1 -5 0 -5 0 -5 0 -5-1 -5 2 -5-1 -5 0 -5-1 -5 1 -5 1 -5 0 -5 0 -5-1 -5 0 -5 0 -5 1 -5 1 -5-2 -5 1 -5-1 -5 3 -5-2 -5 2 -5-2 -5-1 -5 0 -5 0 -5 2 -5 0 -5-1 -5 0 -5 0 -5 0 -5 0 -5 2 -5-1 -5 1 -5-1 -5 1 -5 0 -5-1 -5 0 -5 1 -5-1 -5 1 -5 0 -5 0 -5-1 -5 0 -5 0 -5 0 -5 1 -5-1 -5 1 -5-1 -5 0 -5 1 -5 0 -5 0 -5 0 -5 0 -5 0 -5 0 -5 0 -5 0 -5 0 -5 0 -5 0 -5 0 -5 0 -5 0 -5 0 -5 0 -5 0 -5 0 -5 0 -5 0 -5 0 -5 0 -5 0 -5 0 -5 0 -5 0 -5 0 -5 0z"/>
<path transform="scale(0.1)" vector-effect="non-scaling-stroke" fill="#f8d4ae" stroke="#f8d4ae" stroke-width="0.5" d="M1425 1511l5 0 5-2 5 2 5 0 5 0 5-1 5 0 5 0 5 0 5 0 5-1 5 1 5-1 5 1 5 0 5 0 5-1 5 0 5-2 5 1 5 0 5 1 5-1 5 1 5 0 5 0 5 0 5-1 5 1 5-1 5-1 5 1 5 0 5 1 5-1 5 0 5 0 5 0 5-1 5 0 5-1 5 0 5 0 5-1 5 1 5-1 5 1 5 0 5 0 5 1 5 0 5 0 5 0 5 0 5 1 5 0 5-1 5 0 5 0 5 0 5 0 5 0 5 0 5-2 5 1 5 0 5 0 5 1 5-1 5 0 5-1 5 2 5-1 5 0 5 0 5 0 5-1 5-1 5 2 5-2 5 1 5 0 5-4 5 3 5 1 5 0 5 0 5 1 5-1 5-4 5 4 5 0 5-1 5 1 5-1 4-2 5 2 5 1 5 0 5-1 5 1 5-2 5 1 5 1 5-1 5 0 5-1 5 0 5-1 5 0 5-2 5 1 5 1 5 0 5-3 5 2 5-4 5 2 5-1 5 0 5-3 5-4 5 4 5-3 5 2 5-1 5-4 5 3 5 0 5-5 5 1 5-1 5 2 5-1 5-6 5 1 5 0 5-4 5 3 5 0 5 0 5 0 5-5 5 0 5 1 5-1 5-2 5-2 5 3 5-1 5 0 5-1 5 0 5-1 5 1 5-5 5-1 5-6 5 10 5-5 5-9 5 10 5 0 5 0 5 2 5-3 5-3 5 4 5 0 5-2 5 0 5-3 5 5 5-5 5-3 5 6 5-1 5 2 5-11 5 7 5-4 5-18 5 20 5-4 5 2 5-6 5-12 5 5 5 8 5-3 5-3 5 6 5 1 5-2 5-11 5 12 5 4 5-3 5 0 5-1 5 6 5-6 5 4 5 1 5-12 5 14 5-14 5 6 5 4 5-1 5-2 5 1 5-8 5 3 5 1 5 7 5-7 5-8 5 7 5-2 5 9 5 1 5-8 5-5 5 8 5 5 5 0 5-3 5 2 5 5 5-5 5 5 5-1 5-1 5-3 5-7 5 10 5 2 5 1 5 2 5 1 5-8 5 6 5-6 5 0 5 7 5-3 5 2 5-11 5 9 5-13 5 12 5-4 5-3 5 7 5 5 5 4 5 2 5 1 5-3 5-1 5 2 5-6 5 8 5-5 5 1 5-1 5 8 5-2 5 3 5 2 5-3 5 0 5 3 5 1 5 3 5 0 5 2 5-1 5-3 5-3 5 4 5-2 5-4 5 0 5 4 4 2 5 0 5 3 5-2 5 2 5-3 5-4 5 8 5-2 5 6 5-7 5-2 5 3 5 4 5-2 5 2 5-4 5 4 5 0 5-1 5 0 5 1 5-7 5 3 5 3 5-2 5 1 5-8 5 6 5-1 5-2 5 0 5-4 5 5 5-1 5 2 5 0 5-1 5 2 5 1 5-1 5 1 5-2 5-1 5-5 5 1 5 4 5 0 5 0 5-1 5 1 5 3 5-1 5 1 5-2 5-3 5 5 5-8 5 4 5 4 5-1 5 0 5-4 5 3 5 2 5-4 5 4 5-6 5 4 5-2 5 1 5-3 5 4 5 0 5-1 5 1 5 1 5-2 5 2 5-1 5 3 5 2 5-2 5 0 5 0 5 2 5-5 5 4 5-3 5 4 5 0 5-1 5 5 5 2 5 0 5 0L3333 1512l-5 2 -5 0 -5-2 -5-1 -5-2 -5 5 -5-2 -5-1 -5-3 -5-1 -5 1 -5-2 -5 2 -5-2 -5 1 -5 3 -5 3 -5-8 -5-1 -5 1 -5 1 -5 0 -5-1 -5-2 -5 3 -5-3 -5 0 -5 2 -5-1 -5 0 -5 0 -5 0 -5 10 -5-9 -5 5 -5-2 -5-2 -5 2 -5-2 -5 2 -5-1 -5-1 -5 4 -5-4 -5 4 -5-4 -5-3 -5 0 -5 3 -5-1 -5-2 -5 7 -5-5 -5 1 -5 4 -5-3 -5 0 -5-1 -5 0 -5 1 -5-1 -5 3 -5-1 -5-4 -5 3 -5 2 -5-2 -5 5 -5-4 -5 1 -5 0 -5 0 -5 1 -5 1 -5 0 -5 2 -5-2 -5 1 -5 0 -5-2 -5 1 -5-1 -5 4 -5-1 -5 1 -5-1 -5-1 -5-2 -5-2 -5 3 -5 0 -5-4 -5 3 -5 0 -5 0 -4-4 -5 0 -5 0 -5 4 -5-3 -5 1 -5-1 -5 2 -5 3 -5 1 -5-4 -5 3 -5 0 -5-3 -5 3 -5-3 -5-2 -5 3 -5-1 -5-1 -5 6 -5-4 -5-3 -5 0 -5 3 -5-4 -5 1 -5 7 -5-3 -5 2 -5-7 -5 8 -5-9 -5-1 -5 2 -5-1 -5 5 -5 4 -5-3 -5 0 -5 1 -5 0 -5-2 -5 4 -5 0 -5 0 -5-2 -5 2 -5-3 -5-2 -5 5 -5-4 -5 0 -5 0 -5 0 -5 0 -5 2 -5-5 -5 7 -5-4 -5-3 -5-5 -5-2 -5 5 -5 0 -5 9 -5-8 -5 2 -5 6 -5-8 -5 8 -5 0 -5-12 -5 7 -5 0 -5-8 -5 0 -5 1 -5 1 -5 2 -5 9 -5-6 -5-4 -5 3 -5-2 -5 1 -5 1 -5-5 -5 2 -5 5 -5-2 -5-5 -5 1 -5 3 -5-4 -5-1 -5 7 -5-1 -5 7 -5-12 -5 12 -5 0 -5-10 -5 5 -5-5 -5 1 -5 4 -5 1 -5 3 -5 1 -5 0 -5-2 -5-3 -5 5 -5 0 -5-4 -5-5 -5 9 -5-9 -5 0 -5-1 -5 5 -5-2 -5-2 -5 0 -5-3 -5 9 -5-3 -5-1 -5 1 -5 0 -5 2 -5-3 -5-1 -5-1 -5 4 -5 5 -5-6 -5 0 -5 1 -5 5 -5-4 -5-5 -5 3 -5 1 -5 0 -5-2 -5 0 -5 4 -5-2 -5 5 -5-8 -5 3 -5-1 -5 0 -5 2 -5 1 -5-3 -5 2 -5-2 -5 3 -5 1 -5-4 -5 0 -5 1 -5 1 -5-1 -5 0 -5 0 -5 3 -5-2 -5 0 -5 1 -5 0 -5-1 -5 0 -5 1 -5 0 -5 0 -5 0 -5 1 -5 0 -5 0 -5 0 -5 0 -5 0 -5 1 -5 0 -5-1 -5 0 -5 2 -4-2 -5 0 -5 0 -5 1 -5 1 -5-1 -5 1 -5-1 -5 0 -5 0 -5-1 -5 2 -5 0 -5 0 -5-2 -5 0 -5 1 -5 0 -5 1 -5 0 -5-1 -5 0 -5 1 -5 0 -5 0 -5 0 -5-1 -5 0 -5 0 -5 1 -5-1 -5 0 -5 1 -5-1 -5 1 -5 0 -5 0 -5 0 -5 0 -5 0 -5 0 -5 0 -5 0 -5 0 -5-1 -5 1 -5 0 -5-1 -5 0 -5 1 -5-1 -5 1 -5 0 -5-1 -5 0 -5 1 -5-1 -5 1 -5 0 -5 0 -5 0 -5 0 -5 0 -5 0 -5 0 -5 0 -5 0 -5 0 -5 0 -5 0 -5 0 -5 0 -5 0 -5 0 -5 0 -5 0 -5 0 -5 0 -5 0 -5 0 -5 0 -5 0 -5 0 -5 0 -5 0 -5 0 -5 0 -5 0 -5 0 -5 0 -5 0 -5 0 -5 0 -5 0 -5 0 -5 0z"/>
<path transform="scale(0.1)" vector-effect="non-scaling-stroke" fill="#3f5fe6" stroke="#3f5fe6" stroke-width="0.5" opacity="0.85" d="M1425 1508l5 4 5 0 5 0 5 0 5-1 5-3 5 3 5 1 5 0 5-3 5 3 5-1 5 1 5 0 5 0 5-1 5 0 5 1 5-2 5 2 5-4 5 0 5 3 5-1 5-5 5 5 5 0 5-2 5 2 5-1 5 2 5-3 5 2 5-5 5 3 5 2 5 0 5-1 5 1 5 1 5-1 5-2 5 2 5-2 5 2 5-2 5 3 5-3 5 0 5 0 5 1 5 1 5-6 5 3 5 3 5-4 5 4 5-1 5 0 5 1 5-3 5 4 5 0 5-8 5 3 5 4 5-1 5-4 5-1 5-7 5 10 5 1 5 2 5-1 5-1 5 2 5 0 5-1 5 0 5-1 5-2 5 0 5-3 5 4 5 3 5 0 5 0 5 1 5-1 5-2 5 1 5-4 5 4 5-7 5 4 4 1 5 3 5-3 5 0 5 0 5 3 5-3 5 2 5-2 5 3 5-1 5-13 5 10 5-3 5 6 5 1 5-4 5 3 5-6 5 6 5-1 5-2 5 3 5-1 5 0 5-4 5 3 5 2 5-3 5 1 5 1 5-1 5-1 5-11 5 13 5-1 5 0 5-6 5 7 5-5 5 6 5-3 5 3 5-1 5 1 5 0 5-4 5 4 5-3 5 2 5-1 5 0 5-3 5 1 5-4 5 7 5 0 5 2 5 0 5-1 5 0 5 1 5-1 5-5 5 6 5-5 5 2 5-2 5 5 5 0 5-7 5 4 5 2 5-1 5-2 5 3 5-4 5 3 5-3 5-2 5 5 5 0 5-13 5 13 5 1 5-3 5-4 5 4 5 0 5 3 5 0 5-2 5 0 5 3 5 0 5 0 5-8 5 1 5 2 5 4 5-9 5 0 5 4 5 3 5-2 5 0 5 3 5-1 5-3 5-2 5-3 5 3 5 2 5-5 5 1 5 2 5-7 5 4 5 3 5 0 5-3 5 0 5-8 5 3 5-1 5-1 5 4 5-1 5-9 5 3 5 2 5-8 5 0 5 15 5-10 5 10 5-2 5-3 5 4 5-14 5 2 5-4 5-1 5 7 5 5 5-7 5 6 5 2 5-3 5-15 5 7 5 13 5-7 5-13 5 18 5-3 5 0 5-10 5 6 5-4 5-14 5 4 5 7 5 12 5-1 5-14 5 12 5-10 5 12 5-14 5 13 5-19 5 22 5-14 5 2 5 7 5-3 5-7 5 7 5-8 5 13 5-16 5 13 5-10 5 7 5 2 5 1 5-24 5 24 5-6 5 4 4 2 5-6 5 5 5-5 5 5 5 0 5 1 5-17 5 11 5-5 5 4 5 2 5-52 5 44 5 14 5-7 5-1 5 3 5-5 5-2 5 1 5 2 5 9 5-20 5 22 5-12 5 7 5 5 5-1 5 2 5 0 5-1 5-9 5-4 5 1 5-2 5-3 5 8 5 0 5 0 5-19 5 28 5-24 5 24 5-22 5 18 5-5 5 6 5 5 5-31 5 25 5 2 5-24 5 23 5-1 5 3 5-9 5 3 5 5 5 1 5-2 5 3 5-4 5 1 5-13 5-1 5 10 5 4 5-1 5-9 5-11 5 13 5 7 5-1 5-4 5 3 5-10 5 12 5-18 5 20 5-2 5-17 5 11 5 1 5 2 5 4 5-9 5-2 5 4 5 5 5-4 5-8 5 10 5-19 5 22 5-21L3333 1514l-5-17 -5-3 -5 1 -5 1 -5 18 -5-16 -5-7 -5-1 -5 6 -5-5 -5 5 -5 5 -5-9 -5-2 -5 2 -5 22 -5-15 -5-3 -5-1 -5 2 -5-8 -5 7 -5-3 -5 12 -5 0 -5-3 -5-5 -5 0 -5-1 -5 7 -5 10 -5 1 -5-15 -5 4 -5-10 -5 0 -5 21 -5-11 -5-10 -5 15 -5-10 -5-2 -5-4 -5 10 -5 4 -5-9 -5 0 -5 3 -5-3 -5 4 -5 13 -5-18 -5 18 -5-14 -5 8 -5-12 -5-4 -5 8 -5-3 -5-5 -5 3 -5 12 -5 7 -5-13 -5-3 -5-4 -5 13 -5 6 -5-12 -5 0 -5-7 -5 6 -5-3 -5-2 -5-3 -5-2 -5 0 -5 2 -5 5 -5-6 -5 23 -5-15 -5 6 -5-1 -5-9 -5-1 -5 17 -5-10 -5-8 -5-1 -5 10 -5-14 -5 13 -5-5 -5 2 -4 12 -5-17 -5-2 -5 10 -5-3 -5-2 -5-4 -5 3 -5 3 -5-5 -5 3 -5 17 -5-11 -5-7 -5 0 -5 19 -5-5 -5-12 -5 1 -5 9 -5-4 -5-5 -5 10 -5 0 -5-10 -5 6 -5-8 -5 2 -5-3 -5 10 -5-4 -5-4 -5 2 -5 5 -5-4 -5 8 -5-11 -5 13 -5-13 -5 6 -5 4 -5-11 -5 3 -5 15 -5 0 -5-15 -5-2 -5 7 -5-6 -5 16 -5-13 -5 3 -5-5 -5 0 -5 7 -5 2 -5-6 -5 4 -5-4 -5-1 -5 0 -5 0 -5 0 -5 3 -5 10 -5-8 -5 1 -5-4 -5 0 -5 10 -5 1 -5-9 -5 8 -5-7 -5-2 -5 5 -5 5 -5-1 -5-5 -5 6 -5-1 -5 1 -5 0 -5-5 -5 5 -5 0 -5-2 -5 1 -5 1 -5 0 -5-2 -5 2 -5 0 -5 0 -5 0 -5-2 -5 0 -5 2 -5 0 -5 0 -5 0 -5 0 -5 0 -5-3 -5 3 -5-3 -5 1 -5-1 -5 1 -5 2 -5 0 -5-2 -5 2 -5 0 -5-3 -5 3 -5-3 -5 3 -5-1 -5 1 -5 0 -5-1 -5-1 -5 0 -5 0 -5 1 -5-1 -5 0 -5 1 -5 1 -5-3 -5 3 -5-2 -5 0 -5 1 -5-1 -5 2 -5-3 -5 0 -5 3 -5-2 -5-2 -5 3 -5 0 -5-2 -5 1 -5 2 -5 0 -5 0 -5-3 -5 3 -5-3 -5 3 -5-1 -5 1 -5-4 -5 0 -5 1 -5 1 -5 2 -5-3 -5 2 -5-1 -5 2 -5-2 -5-1 -5 2 -5 1 -5-3 -5 3 -5-3 -5 3 -5 0 -5-3 -5 2 -5-1 -5-1 -5 1 -5 1 -5 1 -5-3 -5 2 -5 1 -5 0 -5-1 -5 0 -5 1 -5-3 -5 0 -5 3 -5-2 -4-1 -5 1 -5 2 -5-1 -5-1 -5 1 -5-1 -5 1 -5-1 -5 2 -5 0 -5-1 -5 1 -5 0 -5-2 -5 2 -5-1 -5-2 -5 3 -5-2 -5 0 -5 2 -5 0 -5-1 -5 0 -5 1 -5-2 -5 0 -5 1 -5 1 -5-2 -5 1 -5 1 -5 0 -5 0 -5 0 -5 0 -5 0 -5-2 -5 0 -5 1 -5 1 -5 0 -5-2 -5 1 -5 1 -5-2 -5 2 -5 0 -5 0 -5-1 -5-1 -5 2 -5 0 -5-1 -5 1 -5 0 -5 0 -5-2 -5 0 -5 1 -5 1 -5 0 -5 0 -5-1 -5 1 -5-2 -5 1 -5 1 -5 0 -5 0 -5 0 -5-1 -5 1 -5-2 -5 2 -5 0 -5 0 -5 0 -5 0 -5 0 -5 0 -5 0 -5 0 -5 0 -5 0 -5 0 -5 0 -5 0 -5 0 -5 0 -5 0 -5 0 -5 0 -5 0 -5 0z"/>
<path transform="scale(0.1)" vector-effect="non-scaling-stroke" fill="#d52cf0" stroke="#d52cf0" stroke-width="0.5" d="M1425 1510l5 0 5 0 5 0 5 0 5 0 5 0 5 0 5-1 5 1 5-1 5 1 5 0 5 0 5-1 5 1 5-1 5 1 5 0 5 0 5 0 5-1 5 0 5 0 5 0 5 0 5 0 5 0 5-1 5 1 5 0 5 0 5 0 5-1 5 0 5 1 5 0 5 0 5-1 5 0 5 0 5 1 5-1 5 1 5 0 5 0 5 0 5 0 5 0 5 0 5 0 5 0 5 0 5 0 5 0 5 0 5 0 5-1 5 1 5-1 5 1 5 0 5-1 5 0 5 0 5 0 5 1 5-1 5 0 5 0 5 0 5 0 5 0 5 0 5 0 5 0 5 0 5 0 5 0 5 0 5 0 5 0 5-1 5 1 5 0 5 0 5 0 5 0 5 0 5 0 5 0 5 0 5 0 5 0 5 0 5 0 4 0 5-1 5 1 5 0 5 0 5 0 5-1 5-4 5-3 5-3 5-3 5-4 5-4 5-3 5-4 5-2 5-6 5-2 5-6 5-3 5-8 5 2 5-10 5-14 5-9 5-8 5-19 5-5 5-19 5-14 5-3 5-15 5-15 5-6 5-5 5-13 5-19 5 3 5-14 5-14 5-27 5-25 5-5 5-30 5-10 5-23 5-19 5-35 5-16 5-19 5-42 5-34 5-6 5-36 5 33 5-16 5-9 5-28 5-8 5 8 5-4 5-25 5 1 5-7 5-25 5 1 5-21 5-8 5-21 5 4 5-10 5-3 5-2 5-24 5-6 5-21 5-4 5-2 5 3 5-15 5 0 5-19 5 11 5-35 5 9 5 3 5 25 5 21 5 8 5 9 5 12 5-25 5 41 5-54 5 64 5-1 5-38 5 20 5 17 5 6 5 4 5-28 5-6 5 33 5 0 5-21 5 8 5 4 5-6 5 1 5 6 5 10 5 1 5-14 5 14 5-25 5 38 5-23 5 12 5 10 5 0 5 0 5-3 5 2 5-4 5-29 5 9 5 4 5 16 5 0 5 20 5-13 5 3 5-1 5 1 5 10 5-77 5 72 5-13 5-4 5-10 5-5 5-1 5 22 5-10 5 5 5-33 5 15 5 5 5 33 5-46 5 28 5-3 5 1 5 3 5-7 5 6 5-12 5-9 5-20 5 31 5-3 5-2 5-8 5-7 5 0 5 11 5 9 5-2 5-18 5 16 5 1 5 1 5-18 5 10 5 9 5-9 5-6 5 9 5-12 5 26 5-2 5-14 5 14 5-4 5-5 5-1 5 14 5-27 5 36 5-37 4-11 5 51 5 1 5 4 5-7 5 11 5 4 5 5 5-5 5-1 5-8 5 6 5 0 5 8 5-1 5-5 5-21 5 34 5-33 5 45 5-14 5-23 5 49 5-2 5-23 5 22 5-15 5-6 5-11 5 26 5 4 5-2 5-21 5 28 5-1 5 4 5 10 5 12 5-21 5 21 5-12 5-1 5-3 5-8 5 1 5-12 5 10 5-13 5 0 5 2 5-14 5 15 5 1 5 10 5 1 5-22 5-5 5-6 5 15 5-23 5-23 5 9 5 14 5 15 5-12 5 6 5-11 5-4 5 4 5 4 5-35 5 30 5 14 5-1 5-16 5-1 5-3 5 17 5-50 5 10 5 39 5-14 5-8 5 18 5-24 5 20 5-9 5 12 5-7 5-5 5-7 5 12 5-60 5 57 5-29 5 17L3333 939l-5-4 -5 14 -5 19 -5-5 -5-23 -5 14 -5-8 -5 4 -5 15 -5-21 -5 11 -5-10 -5 31 -5-19 -5 19 -5-17 -5-10 -5 5 -5 17 -5-26 -5 7 -5 16 -5 20 -5-30 -5 12 -5-17 -5 14 -5-25 -5 1 -5 36 -5-27 -5 30 -5-31 -5 5 -5 11 -5 0 -5 18 -5-18 -5-4 -5 0 -5 11 -5 21 -5-24 -5-7 -5 10 -5 38 -5-10 -5-15 -5 10 -5-11 -5 11 -5-8 -5 13 -5-17 -5 21 -5 6 -5-21 -5 7 -5 11 -5-9 -5-28 -5 9 -5-11 -5 2 -5 1 -5 35 -5-31 -5 7 -5-19 -5 5 -5 3 -5 5 -5 5 -5 5 -5-3 -5-17 -5-6 -5 2 -5 4 -5-6 -5 21 -5-21 -5-2 -5-10 -5 4 -5-2 -5 27 -5 6 -5-27 -5-10 -5 14 -5 14 -5-9 -5-18 -5 1 -4-13 -5 1 -5 5 -5 8 -5 1 -5-11 -5 0 -5-8 -5 3 -5-15 -5 4 -5 1 -5 9 -5 8 -5 48 -5-61 -5-5 -5-6 -5 28 -5-12 -5-2 -5-8 -5 28 -5-13 -5-28 -5-1 -5 19 -5-13 -5 11 -5-10 -5 15 -5-13 -5 22 -5-18 -5 27 -5-8 -5-13 -5 18 -5 2 -5-6 -5 28 -5-8 -5-20 -5 13 -5-19 -5 44 -5-26 -5-17 -5-8 -5 5 -5 28 -5 18 -5-39 -5 10 -5 5 -5 13 -5-33 -5 8 -5 12 -5-2 -5 13 -5-2 -5-11 -5-21 -5 9 -5-15 -5 12 -5 23 -5-34 -5 2 -5 39 -5-9 -5 3 -5 0 -5-5 -5-19 -5-19 -5 12 -5-10 -5 2 -5-15 -5-4 -5 13 -5-10 -5-1 -5 3 -5 0 -5 1 -5 5 -5-10 -5 16 -5-5 -5 8 -5-20 -5-7 -5 15 -5 49 -5-64 -5-5 -5-7 -5 22 -5-64 -5-10 -5 7 -5-15 -5-14 -5-7 -5 2 -5 0 -5 5 -5 7 -5 15 -5 30 -5 12 -5-36 -5 4 -5 35 -5-15 -5 17 -5-2 -5 30 -5-17 -5 13 -5 2 -5 12 -5 9 -5 45 -5-18 -5 3 -5 21 -5 9 -5 4 -5 4 -5 2 -5 13 -5 8 -5 29 -5 1 -5 19 -5 12 -5 21 -5 27 -5 30 -5 12 -5 38 -5 27 -5 6 -5 6 -5 19 -5 16 -5 9 -5 20 -5 12 -5 16 -5 3 -5 16 -5-1 -5 36 -5-12 -5 13 -5 16 -5 18 -5-4 -5 10 -5 13 -5 11 -5 0 -5 6 -5 6 -5 3 -5 6 -5 1 -5 1 -5 4 -5 4 -5 9 -5-2 -5 2 -5 4 -5 5 -5-2 -5 2 -5 0 -5 1 -5 1 -5-1 -5 1 -5-1 -5 0 -5 1 -5-1 -4 1 -5 0 -5 0 -5 0 -5-1 -5 1 -5-1 -5 1 -5 0 -5-1 -5 1 -5 0 -5 0 -5 0 -5 0 -5-1 -5 1 -5 0 -5-1 -5 1 -5 0 -5 0 -5 0 -5 0 -5 0 -5 0 -5 0 -5 0 -5 0 -5 0 -5 0 -5 0 -5 0 -5 0 -5 0 -5 1 -5-1 -5 0 -5 1 -5 0 -5 0 -5-1 -5 0 -5 0 -5 1 -5 0 -5-1 -5 1 -5-1 -5 0 -5 2 -5-1 -5 0 -5-1 -5 0 -5 1 -5-1 -5 1 -5-1 -5 0 -5 0 -5 1 -5 0 -5-1 -5 0 -5 1 -5 0 -5 0 -5 0 -5 0 -5 0 -5 0 -5 0 -5 0 -5 0 -5 0 -5 1 -5-1 -5 0 -5 0 -5 0 -5 0 -5 0 -5 0 -5 1 -5 0 -5-1 -5 0 -5 1 -5 0 -5-1 -5 0 -5 1 -5 0 -5-1 -5 1z"/>
<path transform="scale(0.1)" vector-effect="non-scaling-stroke" fill="#e6df62" stroke="#e6df62" stroke-width="0.5" d="M1425 1510l5-1 5 1 5 0 5 0 5 0 5 0 5-1 5 1 5-1 5 0 5 1 5 0 5 0 5 0 5 0 5-1 5-1 5 1 5 1 5 0 5 0 5 0 5 0 5-1 5 1 5 0 5 0 5 0 5-1 5 0 5 0 5 1 5-1 5 0 5 0 5 0 5 1 5-1 5 0 5 0 5 0 5 0 5 0 5 0 5 0 5 0 5 0 5-2 5 2 5 0 5 0 5 0 5 0 5 0 5 0 5-1 5 1 5 0 5 0 5 0 5 0 5 0 5 0 5 0 5-1 5 0 5 0 5 1 5 0 5 0 5 0 5 0 5-1 5 1 5 0 5 0 5 0 5 0 5-1 5 1 5 0 5 0 5-1 5 0 5 1 5-1 5 1 5 0 5-1 5 0 5 0 5 1 5-1 5 0 5 1 4-1 5 0 5 1 5-1 5 0 5 0 5 0 5 0 5 0 5 0 5 0 5 0 5 0 5 0 5 0 5-1 5 1 5 0 5 0 5 0 5 0 5 0 5 0 5-1 5 1 5 0 5 0 5-1 5 1 5 0 5 0 5 0 5 0 5 0 5-2 5-9 5-10 5-11 5-14 5-2 5-16 5-12 5-25 5-8 5-23 5-23 5-8 5-35 5-11 5-29 5-8 5-28 5-15 5-10 5-34 5-4 5-64 5 20 5-28 5-1 5-51 5 9 5-9 5-20 5-25 5-8 5-30 5-26 5-3 5 1 5-20 5-15 5-2 5-50 5 30 5-11 5-4 5-14 5-42 5 5 5-10 5 3 5-11 5-10 5-36 5-4 5-64 5 59 5-29 5-40 5 38 5-6 5-13 5-9 5-19 5-26 5 6 5-17 5-10 5-12 5-23 5-3 5-18 5 5 5 11 5 7 5-44 5 8 5 25 5-27 5 35 5-3 5-12 5 0 5-41 5 8 5 7 5 5 5-18 5-18 5 33 5-10 5 4 5 7 5 10 5-14 5-5 5-31 5 32 5-2 5-42 5 20 5 8 5 10 5 1 5-40 5 38 5-8 5-1 5 5 5-19 5 3 5 15 5-28 5 21 5-5 5 17 5-27 5 29 5-1 5-30 5 13 5 11 5 5 5-2 5-41 5 25 5 9 5-8 5-18 5 16 5 1 5-33 5 29 5-5 5 4 5-7 5 5 5-1 5 2 5 2 5 14 5-55 5 61 5 0 5-9 5 3 5 9 5-23 5 20 5-20 5 11 5-15 5 17 5 4 5-6 5-34 5 19 5 0 5 32 5 7 4-7 5 2 5 0 5-3 5 3 5-26 5 21 5-41 5 28 5 10 5-11 5-13 5 3 5 18 5-14 5-18 5 4 5 22 5-36 5 31 5-30 5 20 5-10 5 4 5-64 5 83 5-5 5 20 5-2 5-14 5 17 5-20 5 0 5 30 5-11 5 10 5 7 5-16 5 2 5 2 5-21 5 19 5-6 5 8 5-3 5-5 5-14 5 0 5-55 5 71 5-9 5-47 5 6 5 27 5-22 5 28 5 2 5-5 5-13 5-4 5 5 5 20 5 5 5-31 5 21 5-46 5 58 5-12 5 5 5-4 5-13 5 16 5-12 5-18 5 8 5-8 5-33 5 24 5 12 5 2 5-10 5-24 5 14 5 13 5 3 5 1 5-31 5 41 5-15 5 19 5-21 5 15 5-3 5-1 5-27 5 26L3333 638l-5-4 -5 48 -5-43 -5 9 -5-5 -5-6 -5 29 -5-23 -5-7 -5-5 -5 29 -5-23 -5-8 -5-2 -5 14 -5-13 -5 91 -5-97 -5 2 -5 35 -5-24 -5 1 -5 2 -5 17 -5 24 -5-23 -5 11 -5-5 -5-8 -5 18 -5-10 -5-7 -5 24 -5-27 -5 18 -5-9 -5-8 -5 45 -5-40 -5 6 -5-9 -5 2 -5 24 -5-24 -5 34 -5-3 -5-28 -5-4 -5 2 -5 15 -5 29 -5 14 -5-37 -5 5 -5 3 -5 14 -5-17 -5 6 -5 0 -5 19 -5-30 -5 0 -5 12 -5 4 -5 35 -5-31 -5-30 -5-4 -5 27 -5-42 -5 11 -5 20 -5 26 -5-62 -5 3 -5 5 -5 3 -5 4 -5 1 -5-4 -5 2 -5 8 -5 56 -5-36 -5 2 -5-1 -5-23 -5 9 -5-2 -5 9 -5-4 -5-2 -5-4 -5 0 -5 5 -4-2 -5 6 -5 62 -5-64 -5 13 -5-34 -5 54 -5-18 -5-14 -5-19 -5 8 -5 1 -5 2 -5-4 -5 12 -5 33 -5-13 -5-37 -5-3 -5-7 -5-1 -5 13 -5-6 -5-7 -5-12 -5 9 -5 3 -5 9 -5-5 -5-3 -5-4 -5-6 -5 26 -5-14 -5 6 -5 4 -5 4 -5 15 -5-22 -5 8 -5 38 -5-35 -5 6 -5-23 -5 19 -5-7 -5-3 -5-10 -5-1 -5 38 -5-34 -5 33 -5-31 -5 0 -5 7 -5-1 -5 4 -5 3 -5-6 -5 8 -5-3 -5 0 -5-2 -5 14 -5 6 -5-12 -5 0 -5 45 -5 20 -5-85 -5 32 -5-15 -5 28 -5-23 -5-6 -5 22 -5-19 -5 15 -5 23 -5-13 -5-4 -5 0 -5 3 -5 5 -5 30 -5-37 -5 21 -5-17 -5-3 -5 36 -5-27 -5 14 -5 9 -5 26 -5 7 -5-6 -5 20 -5 5 -5 11 -5 12 -5 7 -5 8 -5 19 -5 6 -5 7 -5 7 -5 61 -5-31 -5 7 -5 7 -5 4 -5 9 -5 7 -5 10 -5 35 -5-14 -5 34 -5-2 -5-6 -5 10 -5 16 -5 55 -5-24 -5 15 -5 18 -5 16 -5 24 -5 22 -5 8 -5 18 -5 33 -5 7 -5 27 -5 8 -5 19 -5 16 -5 25 -5 9 -5 20 -5 27 -5 11 -5 40 -5 7 -5 15 -5 26 -5 7 -5 3 -5 24 -5 0 -5 13 -5 15 -5-5 -5 8 -5-8 -5 0 -5 2 -5 2 -5 0 -5 1 -5 0 -5-1 -5 0 -5 2 -5-2 -5 0 -5 1 -5-1 -5 1 -5 0 -5 0 -5 0 -5 0 -5 0 -5 0 -5 0 -5 0 -5 0 -5 0 -5 0 -5 0 -5 0 -5 0 -5 0 -5 0 -5 0 -5 0 -5 0 -5 0 -5 0 -5 0 -5 0 -4 0 -5 0 -5 0 -5 0 -5 0 -5 0 -5 0 -5 0 -5 0 -5 0 -5 0 -5 0 -5 0 -5 0 -5 0 -5 0 -5 1 -5-1 -5 0 -5 0 -5 0 -5 1 -5-1 -5 0 -5 1 -5-1 -5 1 -5 0 -5-1 -5 1 -5 0 -5 0 -5-1 -5 0 -5 1 -5-1 -5 1 -5-1 -5 0 -5 0 -5 1 -5 0 -5 0 -5 0 -5 0 -5 0 -5 0 -5 0 -5 0 -5 0 -5 0 -5-1 -5 0 -5 1 -5 0 -5 0 -5 0 -5 0 -5 0 -5 0 -5 0 -5 0 -5 0 -5 0 -5 0 -5 0 -5 0 -5 1 -5 0 -5-1 -5 1 -5-1 -5 0 -5 0 -5 0 -5 0 -5 0 -5 0 -5 0 -5 0 -5 0 -5 0 -5 0 -5 0 -5 0 -5 0 -5 1 -5-1 -5 0 -5 0 -5 0 -5 0 -5 0 -5 0 -5 0 -5 0z"/>
</g>
<rect x="142.50" y="2.50" width="190.80" height="153.70" fill="none" stroke="#484848" stroke-width="0.9"/>
<path d="M142.50 156.20v-3.0 M158.40 156.20v-1.6 M174.30 156.20v-3.0 M190.20 156.20v-1.6 M206.10 156.20v-3.0 M222.00 156.20v-1.6 M237.90 156.20v-3.0 M253.80 156.20v-1.6 M269.70 156.20v-3.0 M285.60 156.20v-1.6 M301.50 156.20v-3.0 M317.40 156.20v-1.6 M333.30 156.20v-3.0 M142.50 156.20h3.0 M142.50 136.37h1.6 M142.50 116.54h3.0 M142.50 96.70h1.6 M142.50 76.87h3.0 M142.50 57.04h1.6 M142.50 37.21h3.0 M142.50 17.37h1.6" stroke="#484848" stroke-width="0.9" fill="none"/>
<g font-family='"Liberation Serif", serif' fill="#1a1a1a" stroke="#1a1a1a" stroke-width="0.2"><text transform="translate(142.50,166.50) scale(0.84,1)" font-size="10.35" text-anchor="middle" >0</text><text transform="translate(174.30,166.50) scale(0.84,1)" font-size="10.35" text-anchor="middle" >50</text><text transform="translate(206.10,166.50) scale(0.84,1)" font-size="10.35" text-anchor="middle" >100</text><text transform="translate(237.90,166.50) scale(0.84,1)" font-size="10.35" text-anchor="middle" >150</text><text transform="translate(269.70,166.50) scale(0.84,1)" font-size="10.35" text-anchor="middle" >200</text><text transform="translate(301.50,166.50) scale(0.84,1)" font-size="10.35" text-anchor="middle" >250</text><text transform="translate(333.30,166.50) scale(0.84,1)" font-size="10.35" text-anchor="middle" >300</text><text transform="translate(138.90,159.20) scale(0.84,1)" font-size="10.35" text-anchor="end" >-5</text><text transform="translate(138.90,119.54) scale(0.84,1)" font-size="10.35" text-anchor="end" >35</text><text transform="translate(138.90,79.87) scale(0.84,1)" font-size="10.35" text-anchor="end" >75</text><text transform="translate(138.90,40.21) scale(0.84,1)" font-size="10.35" text-anchor="end" >115</text><text transform="translate(237.90,181.20) scale(0.84,1)" font-size="10.35" text-anchor="middle" >t (ps)</text><text x="0" y="0" font-size="8.3" text-anchor="middle" transform="translate(121.80,80.10) rotate(-90) scale(1.06,1)">Population of fragments</text><text transform="translate(123.20,14.30) scale(0.84,1)" font-size="10.35" text-anchor="middle" >(a)</text><text transform="translate(148.20,12.90) scale(0.84,1)" font-size="10.35" text-anchor="start" >2750K</text><path d="M187.00 12.30h18.7" stroke="#7b7b7b" stroke-width="0.9"/><text transform="translate(208.50,16.00) scale(0.84,1)" font-size="10.35"><tspan y="0">C</tspan><tspan font-size="6.67" y="2.2">2</tspan><tspan y="0">H</tspan><tspan font-size="6.67" y="2.2">4</tspan><tspan y="0">N</tspan><tspan font-size="6.67" y="2.2">4</tspan><tspan y="0">O</tspan><tspan font-size="6.67" y="2.2">4</tspan></text><path d="M247.70 12.30h18.7" stroke="#f86cc8" stroke-width="0.9"/><text transform="translate(269.20,16.00) scale(0.84,1)" font-size="10.35"><tspan y="0">NO</tspan><tspan font-size="6.67" y="2.2">2</tspan></text><path d="M287.00 12.30h18.7" stroke="#bfef8c" stroke-width="0.9"/><text transform="translate(308.50,16.00) scale(0.84,1)" font-size="10.35"><tspan y="0">NO</tspan></text><path d="M187.00 25.20h18.7" stroke="#3eb2f2" stroke-width="0.9"/><text transform="translate(208.50,28.90) scale(0.84,1)" font-size="10.35"><tspan y="0">CO</tspan><tspan font-size="6.67" y="2.2">2</tspan></text><path d="M247.70 25.20h18.7" stroke="#3f5fe6" stroke-width="0.9"/><text transform="translate(269.20,28.90) scale(0.84,1)" font-size="10.35"><tspan y="0">CO</tspan></text><path d="M287.00 25.20h18.7" stroke="#d52cf0" stroke-width="0.9"/><text transform="translate(308.50,28.90) scale(0.84,1)" font-size="10.35"><tspan y="0">H</tspan><tspan font-size="6.67" y="2.2">2</tspan><tspan y="0">O</tspan></text><path d="M187.00 37.80h18.7" stroke="#e6df62" stroke-width="0.9"/><text transform="translate(208.50,41.50) scale(0.84,1)" font-size="10.35"><tspan y="0">N</tspan><tspan font-size="6.67" y="2.2">2</tspan></text><path d="M247.70 37.80h18.7" stroke="#acb5f4" stroke-width="0.9"/><text transform="translate(269.20,41.50) scale(0.84,1)" font-size="10.35"><tspan y="0">H</tspan><tspan font-size="6.67" y="2.2">2</tspan></text><path d="M287.00 37.80h18.7" stroke="#c3f09a" stroke-width="0.9"/><text transform="translate(308.50,41.50) scale(0.84,1)" font-size="10.35"><tspan y="0">NH</tspan><tspan font-size="6.67" y="2.2">3</tspan></text><path d="M187.00 50.60h18.7" stroke="#f8d4ae" stroke-width="0.9"/><text transform="translate(208.50,54.30) scale(0.84,1)" font-size="10.35"><tspan y="0">HNCO</tspan></text></g>
<clipPath id="cb"><rect x="375.30" y="5.40" width="188.50" height="151.90"/></clipPath>
<g clip-path="url(#cb)">
<path transform="scale(0.1)" vector-effect="non-scaling-stroke" fill="#7b7b7b" stroke="#7b7b7b" stroke-width="0.5" d="M3753 898l5 2 5 1 5-1 5 0 5-5 5 6 5-2 5 2 5-5 5 3 5 1 5-1 5 1 5-4 5 1 5-2 5 0 5 3 5-2 5 3 5 0 5-1 5-2 5 2 5-4 5 0 5 4 5-3 5 5 5-2 5-2 5-2 5 1 5 6 5-2 5 0 5-4 5 1 5-3 5 2 5 0 5 3 5-4 5-1 5 0 5 3 5-3 5 0 5 2 5 0 5 2 5-2 5-1 5 11 5 9 5-19 5 12 5-14 5 31 5 7 5-14 5 20 5-4 5-3 5-28 5 23 5-5 5 0 5-1 5 24 5-4 5 10 5-17 5-1 5 8 5-7 5 4 5 3 5 8 5-28 5 8 5 39 5-33 5 38 5-3 5 9 5 3 5 4 5 11 5 25 5 14 5 16 5 3 5 36 5 9 5 17 5 4 5 31 5 33 5 5 5 28 5 23 5 30 5 2 5 32 5 19 5 22 5 14 5 20 5 11 5 23 5 16 5 3 5 41 5 17 5 16 5 4 5 4 5 4 5 2 5-1 5 0 5 1 5 0 5-1 5 0 5 1 5-1 5 1 5 0 5-1 5 1 5 0 5-1 5 1 5-1 5 0 5 0 5 1 5 0 5-1 5 0 5 0 5 1 5 0 5 0 5-1 5 1 5-1 5 1 5 0 5-1 5 1 5 0 5 0 5 0 5 0 5 0 5 0 5 0 5 0 5 0 5 0 5 0 5 0 5-1 5 1 5 0 5 0 5 0 5 0 5 0 5 0 5-1 5 1 5 0 5-1 5 1 5 0 5 0 5 0 5 0 5 0 5-1 5 1 5 0 5 0 5 0 5 0 5 0 5 0 5 0 5 0 5 0 5 0 5-1 5 1 5 0 5 0 5 0 5 0 5 0 5 0 5-1 5 1 5 0 5-1 5 1 5 0 5 0 5 0 5 0 5 0 5 0 5 0 5 0 5 0 5-1 5 1 5 0 5 0 5 0 5 0 5-2 5 2 5-3 5 3 5 0 5 0 5-1 5 1 5 0 5 0 5 0 5 0 5 0 5 0 5 0 5 0 5 0 5 0 5 0 5 0 5 0 5 0 5 0 5 0 5-1 5 0 5 1 5 0 5-1 5 1 5 0 5-1 5 1 5 0 5-1 5 1 5 0 5 0 5-1 5 0 5 0 5 1 5 0 5-1 5 1 5-1 5 0 5 1 5 0 5-1 5 0 5 1 5 0 5 0 5 0 5 0 5 0 5 0 5 0 5 0 5-1 5 1 5 0 5-1 5 1 5 0 5-1 5 0 5 1 5 0 5-1 5 1 5 0 5 0 5 0 5 0 5 0 5 0 5-1 5 1 5 0 5 0 5 0 5 0 5-1 5 0 5 1 5 0 5-1 5 1 5-1 5 1 5 0 5-1 5 1 5 0 5 0 5-1 5 0 5 1 5 0 5-2 5 2 5 0 5-1 5 0 5 0 5 1 5-1 5 0 5 0 5 0 5 1 5-1 5 1 5-1 5 1 5-1 5 0 5 1 5-1 5 0 5 0 5 0 5 0 5 0 5 0 5 0 5 0 5 1 5 0 5-1 5 1 5 0 5 0 5-1 5-1 5 1 5 1 5-1 5 1 5-1 5 1 5-1 5 1 5-1 5 0 5 1 5 0 5-1 5 1 5 0 5 0 5 0L5638 1523l-5 1 -5 0 -5 0 -5 0 -5 1 -5-1 -5-1 -5 1 -5 0 -5 0 -5 1 -5-1 -5 0 -5 0 -5 0 -5 0 -5-1 -5 1 -5 1 -5-1 -5 0 -5 0 -5-1 -5 1 -5-1 -5 1 -5 0 -5 1 -5 0 -5-2 -5 0 -5 0 -5 1 -5 0 -5-1 -5 1 -5-1 -5 1 -5 1 -5-2 -5 0 -5 0 -5 0 -5 2 -5-1 -5-1 -5 2 -5-2 -5 0 -5 1 -5-1 -5 2 -5-2 -5 0 -5 0 -5 2 -5-1 -5 1 -5-1 -5 0 -5 0 -5 0 -5-1 -5 1 -5-1 -5 1 -5-1 -5 1 -5 0 -5 0 -5 0 -5 0 -5 0 -5 0 -5 0 -5 1 -5-1 -5 0 -5 1 -5-1 -5 0 -5 0 -5 0 -5 0 -5 0 -5 0 -5 0 -5 0 -5 0 -5 1 -5-1 -5 0 -5 0 -5 1 -5 1 -5-2 -5 0 -5 0 -5 0 -5 0 -5 0 -5 1 -5-1 -5 1 -5-1 -5 0 -5 0 -5 0 -5 0 -5 0 -5 0 -5 0 -5 0 -5 0 -5 0 -5 0 -5 0 -5 0 -5 0 -5 0 -5 0 -5 0 -5 0 -5-1 -5 1 -5 0 -5 0 -5-1 -5 0 -5 0 -5 2 -5-1 -5 0 -5 0 -5 0 -5-1 -5 1 -5 1 -5-2 -5 1 -5 0 -5 0 -5 1 -5-2 -5 2 -5-2 -5 1 -5 0 -5 0 -5 0 -5 0 -5 0 -5 1 -5-1 -5 0 -5 0 -5 0 -5 1 -5-1 -5 2 -5 0 -5-2 -5 0 -5 0 -5 0 -5 0 -5 2 -5-1 -5 0 -5-1 -5 0 -5 0 -5 0 -5 0 -5 0 -5 0 -5 0 -5 1 -5-1 -5 0 -5 0 -5 1 -5-1 -5 0 -5 2 -5-1 -5-1 -5 0 -5 0 -5 0 -5 0 -5 0 -5 0 -5 0 -5 0 -5 0 -5 1 -5-1 -5 0 -5 0 -5 0 -5 0 -5 1 -5 0 -5-1 -5 0 -5 0 -5 1 -5 0 -5-1 -5 0 -5 0 -5 2 -5 0 -5-1 -5-1 -5 0 -5 1 -5 0 -5-1 -5 1 -5 1 -5-2 -5 2 -5-2 -5 0 -5 1 -5-1 -5 0 -5 0 -5 0 -5 0 -5 2 -5-3 -5 0 -5 1 -5 0 -5 1 -5-1 -5 0 -5 2 -5 0 -5-2 -5 2 -5-2 -5 0 -5 0 -5 0 -5 0 -5 0 -5 0 -5 1 -5-1 -5 0 -5 0 -5 0 -5 0 -5 1 -5-2 -5 0 -5 0 -5 3 -5-6 -5 6 -5-29 -5-13 -5-3 -5-29 -5-9 -5 3 -5-27 -5 1 -5-14 -5-23 -5-17 -5-23 -5 3 -5-41 -5-3 -5-40 -5-14 -5-13 -5 15 -5-26 -5-15 -5-17 -5-1 -5-1 -5 11 -5-9 -5 2 -5-16 -5-10 -5-25 -5 9 -5-19 -5 2 -5-7 -5-6 -5 82 -5-58 -5-30 -5 100 -5-113 -5 38 -5-20 -5-1 -5 43 -5-61 -5 23 -5-37 -5 1 -5-12 -5-2 -5 5 -5-19 -5 31 -5-31 -5 42 -5-55 -5-13 -5 4 -5-4 -5 46 -5-42 -5 19 -5 12 -5-41 -5-18 -5 93 -5-88 -5 11 -5-12 -5-5 -5 0 -5 19 -5-1 -5-17 -5 14 -5-18 -5 14 -5-11 -5 0 -5 8 -5 3 -5-20 -5 0 -5 30 -5-33 -5 8 -5-11 -5 2 -5 18 -5-12 -5-7 -5 41 -5-30 -5-5 -5-6 -5 75 -5-39 -5-39 -5 3 -5-1 -5 6 -5-13 -5-4 -5 2 -5 20 -5-3 -5-9 -5-10 -5 6 -5-6 -5 17 -5-11 -5-5z"/>
<path transform="scale(0.1)" vector-effect="non-scaling-stroke" fill="#f86cc8" stroke="#f86cc8" stroke-width="0.5" d="M3753 1515l5-1 5 0 5-2 5 2 5 0 5-3 5-3 5-1 5-9 5 13 5 1 5-1 5 0 5-12 5 12 5-3 5-6 5 8 5-1 5-2 5 1 5 1 5 0 5-4 5-2 5 6 5-2 5 1 5-2 5-3 5 2 5 2 5-5 5 4 5-3 5-10 5 11 5 1 5-2 5-3 5 3 5 1 5-3 5 2 5-17 5 15 5-3 5 4 5 0 5-6 5 5 5-42 5 40 5-4 5-2 5 5 5 0 5-22 5 19 5 4 5-5 5 1 5 6 5-3 5 4 5-12 5 9 5 2 5-5 5 4 5-1 5-14 5 16 5-14 5 10 5 5 5-5 5 3 5 0 5-21 5 0 5 7 5-13 5 23 5-5 5 8 5-2 5-8 5-3 5-3 5 12 5-18 5 5 5 13 5-1 5-4 5 3 5-21 5 13 5 11 5-8 5 12 5-7 5 8 5-3 5-1 5 8 5-8 5 15 5-1 5-1 5 4 5-1 5-3 5-1 5 6 5 0 5-1 5 0 5 1 5-5 5-5 5 7 5-1 5 5 5-1 5 1 5-6 5 6 5-1 5 1 5-6 5 5 5 0 5-3 5 4 5-1 5-1 5-1 5 1 5-2 5 2 5 0 5-5 5 2 5 0 5 4 5 0 5-3 5 2 5 1 5 1 5-3 5-1 5 3 5-2 5-6 5 9 5-4 5-1 5 3 5 2 5-1 5-1 5 3 5-2 5-4 5 5 5-7 5 6 5 0 5 0 5 1 5-4 5 2 5 0 5 3 5-3 5 3 5-4 5 3 5 1 5-4 5 3 5 1 5 0 5-1 5 0 5 1 5 0 5-6 5-2 5 8 5-1 5-1 5 2 5 0 5-1 5 1 5-2 5 3 5 0 5-4 5 2 5 0 5 1 5 2 5-1 5 1 5-1 5 1 5-4 5 1 5 1 5 1 5 0 5-1 5 0 5-4 5 4 5 1 5-4 5 4 5 0 5-1 5-5 5 5 5 0 5 0 5-1 5 2 5 0 5-1 5 0 5 1 5-1 5 1 5-1 5-1 5-3 5 5 5 0 5 0 5-3 5-1 5 4 5 0 5 1 5 0 5-5 5 3 5 2 5-1 5 0 5 1 5-5 5 4 5 1 5-2 5 2 5 0 5 0 5 0 5-6 5 6 5 1 5-3 5 2 5 1 5 0 5-2 5 2 5 0 5-1 5 1 5-3 5 3 5-1 5 0 5 0 5 0 5-4 5 5 5 0 5-3 5 2 5 0 5 1 5-1 5 0 5-1 5-1 5-1 5 2 5 0 5 2 5 0 5-1 5 1 5 0 5-3 5 1 5-1 5 3 5 0 5-1 5 1 5-2 5 2 5-2 5-1 5 3 5-4 5 4 5-5 5 5 5-1 5-1 5 3 5-1 5-3 5 4 5-5 5 5 5-2 5 2 5 0 5 0 5 0 5-1 5 1 5 0 5 0 5 0 5-1 5 1 5 0 5-3 5-1 5 0 5 2 5 3 5-3 5-2 5 4 5 0 5 1 5-3 5 1 5 1 5-3 5 2 5 2 5-1 5 0 5 0 5 0 5 1 5-1 5 1 5-1 5 0 5-4 5 2 5 2 5-1 5 0 5 1 5 0 5 0 5-2 5 0 5 2 5 0 5 0 5-1 5-1L5638 1524l-5 1 -5-1 -5 1 -5-1 -5 0 -5-1 -5 3 -5-3 -5 3 -5-2 -5 0 -5 1 -5-1 -5 1 -5 0 -5 1 -5-1 -5 1 -5-2 -5 2 -5-2 -5 1 -5 1 -5-1 -5-1 -5 2 -5-1 -5 1 -5-2 -5 1 -5 1 -5 0 -5-2 -5 0 -5 2 -5 0 -5-2 -5 0 -5 0 -5 1 -5 1 -5 0 -5-1 -5 0 -5-1 -5 0 -5 1 -5-1 -5 0 -5 0 -5 1 -5-1 -5 2 -5-1 -5 1 -5-2 -5 0 -5 0 -5 1 -5-1 -5 1 -5 1 -5-1 -5-1 -5 0 -5 0 -5 1 -5-1 -5 2 -5-2 -5-1 -5 3 -5-1 -5-1 -5 1 -5-1 -5-1 -5 3 -5-2 -5 1 -5-2 -5 0 -5 1 -5 0 -5-1 -5 0 -5 1 -5 1 -5 0 -5 0 -5-1 -5 0 -5 2 -5-2 -5-1 -5 0 -5 2 -5-2 -5 0 -5 3 -5-3 -5 2 -5-1 -5 0 -5 0 -5 0 -5 1 -5-1 -5 1 -5 0 -5 1 -5-2 -5-1 -5 3 -5-3 -5 1 -5 1 -5-1 -5 1 -5 0 -5-1 -5-1 -5 1 -5 1 -5-1 -5 0 -5 2 -5-2 -5 1 -5 0 -5 1 -5-4 -5 1 -5 1 -5-2 -5 0 -5 3 -5 1 -5-2 -5 0 -5 1 -5-3 -5 3 -5-1 -5-2 -5 1 -5 1 -5 0 -5-1 -5-2 -5 0 -5 1 -5 1 -5-1 -5 4 -5-3 -5 0 -5 0 -5-1 -5 1 -5 0 -5-1 -5 1 -5 0 -5 0 -5 2 -5 1 -5-3 -5 3 -5-2 -5 2 -5-3 -5 0 -5 1 -5-1 -5 0 -5-2 -5 1 -5-1 -5 5 -5-4 -5-1 -5 1 -5 4 -5-4 -5 0 -5-1 -5 3 -5-2 -5-1 -5 1 -5 0 -5-1 -5 0 -5 1 -5 1 -5-1 -5-1 -5 2 -5 3 -5-2 -5-1 -5-1 -5-1 -5 0 -5 0 -5-1 -5 6 -5-5 -5 0 -5 1 -5-2 -5 1 -5 0 -5 0 -5 0 -5 1 -5-2 -5 0 -5 1 -5 1 -5 4 -5-5 -5 1 -5-1 -5 5 -5-5 -5-1 -5 0 -5 1 -5-1 -5 3 -5-2 -5 1 -5 4 -5-3 -5-3 -5 1 -5 4 -5 1 -5-6 -5 2 -5 1 -5 1 -5 1 -5-4 -5 5 -5-1 -5-2 -5-2 -5 2 -5 1 -5-1 -5 1 -5 2 -5-4 -5 3 -5-2 -5 0 -5 3 -5 0 -5-1 -5-2 -5 0 -5-1 -5 0 -5 4 -5-2 -5 2 -5-7 -5 7 -5-9 -5 5 -5-3 -5 5 -5-8 -5-3 -5-4 -5 8 -5 5 -5-4 -5 6 -5 1 -5-5 -5-1 -5-3 -5 1 -5-3 -5 12 -5-14 -5 12 -5-8 -5 1 -5-2 -5 11 -5-7 -5 7 -5-4 -5 4 -5-8 -5 5 -5-7 -5 10 -5-13 -5 7 -5 1 -5-6 -5 0 -5 0 -5 3 -5 8 -5-7 -5-5 -5 1 -5-2 -5-1 -5 5 -5-4 -5-2 -5 13 -5-6 -5-1 -5-5 -5 6 -5-6 -5 1 -5-2 -5 8 -5-5 -5 2 -5-2 -5 6 -5-6 -5 5 -5-2 -5-5 -5 3 -5 6 -5-2 -5-1 -5-5 -5 2 -5 0 -5-1 -5 3 -5 8 -5-7 -5-1 -5 2 -5-4 -5 6 -5 0 -5-2 -5-2 -5 3 -5 1 -5 5 -5-11 -5 8 -5-7 -5-1 -5 1 -5 1 -5 1 -5-1 -5 6 -5 3 -5-7 -5 3 -5-3 -5 1 -5 0 -5 0 -5 0 -5 3 -5 1 -5-2z"/>
<path transform="scale(0.1)" vector-effect="non-scaling-stroke" fill="#3eb2f2" stroke="#3eb2f2" stroke-width="0.5" d="M3753 1521l5 0 5 0 5 0 5-1 5 1 5-1 5 0 5 1 5-1 5 0 5 0 5 0 5 0 5-1 5 1 5 0 5 0 5 0 5 0 5 0 5 0 5 0 5 0 5 0 5-1 5 0 5 1 5-1 5 0 5 1 5-1 5 0 5 0 5 0 5 1 5 0 5 0 5 0 5 0 5 0 5 0 5 0 5-1 5 1 5 0 5-1 5 0 5 1 5-1 5 0 5 0 5 0 5-1 5 2 5-1 5 0 5 1 5-1 5 0 5 0 5 0 5-1 5 1 5 0 5 0 5 0 5-1 5 0 5 0 5 1 5-1 5 0 5 0 5 0 5 0 5 0 5 1 5-1 5 0 5 0 5 0 5 0 5 0 5 0 5 0 5 0 5 0 5 0 5-1 5 0 5 1 5-1 5 1 5 0 5 0 5-1 5 0 5 0 5 0 5 0 5 0 5 0 5 0 5-1 5 1 5 0 5 0 5-1 5 1 5 0 5-1 5 0 5 0 5 0 5 0 5 0 5 0 5 0 5 0 5 0 5-1 5 1 5 0 5 0 5-1 5 1 5 0 5 0 5 0 5 0 5 0 5 0 5-1 5 0 5 0 5 0 5 0 5 0 5 0 5 0 5 0 5 0 5 0 5 0 5-1 5 0 5 1 5 0 5 0 5-1 5 1 5 0 5 0 5 0 5 0 5 0 5 0 5-10 5-3 5-9 5-10 5-6 5-10 5-5 5-12 5-7 5 2 5-48 5 38 5-17 5 4 5-1 5-4 5-16 5-3 5-16 5 13 5-6 5-7 5 2 5-10 5-8 5-4 5 5 5-2 5-7 5-13 5-1 5-3 5-5 5-2 5-1 5-9 5-4 5 1 5-6 5-2 5-3 5-23 5 18 5-2 5-8 5-28 5 20 5-1 5-23 5 10 5-5 5-20 5-14 5 11 5 1 5-8 5-23 5 3 5-12 5 30 5-6 5-10 5 2 5-3 5 4 5 1 5-6 5-5 5-4 5-8 5-69 5 55 5 24 5-11 5 10 5-4 5-11 5 6 5-23 5 19 5 0 5-2 5 5 5-6 5-10 5-12 5 0 5-11 5 5 5 7 5 0 5-1 5-24 5 18 5-3 5-8 5-24 5 37 5-10 5-34 5 20 5 19 5-8 5-4 5-16 5 10 5-19 5 16 5-3 5-9 5 5 5 2 5-21 5 14 5 6 5-10 5 8 5 0 5-1 5-5 5-9 5 10 5 3 5 0 5-3 5-4 5-20 5 7 5 3 5 2 5-8 5 3 5-3 5 1 5 4 5 5 5 0 5-19 5 17 5-15 5 8 5 9 5-5 5-6 5 7 5-8 5 7 5-5 5 7 5 0 5-12 5-5 5 11 5-3 5-4 5-33 5 29 5 11 5-2 5-24 5 24 5-11 5-8 5 34 5 0 5-2 5 4 5-9 5 5 5-2 5-6 5-13 5 1 5 2 5-6 5-12 5 15 5 0 5 5 5-9 5 4 5-15 5 13 5-2 5-13 5 8 5 4 5-20 5 15 5 10 5-59 5 23 5 40 5-24 5 21 5-6 5 8 5-14 5 2 5 6 5 4 5-9 5 6 5-3 5-14 5 3 5 7 5 1 5 0 5-7 5 10 5-4 5-13 5 12 5-3 5 3 5 0 5-3 5-6 5-6L5638 1179l-5 10 -5 6 -5-4 -5 6 -5-3 -5 10 -5 7 -5 17 -5-11 -5-19 -5-3 -5 2 -5 10 -5-4 -5 7 -5-3 -5 1 -5-1 -5-7 -5 1 -5 2 -5 5 -5 13 -5-1 -5 4 -5-13 -5 15 -5-20 -5 9 -5-10 -5 3 -5 2 -5 3 -5 2 -5 14 -5-11 -5-13 -5-5 -5 1 -5 85 -5-68 -5-8 -5 17 -5-9 -5 9 -5-1 -5-6 -5 8 -5 1 -5 0 -5 3 -5-5 -5 36 -5-13 -5-23 -5 12 -5-9 -5-11 -5 18 -5-5 -5-6 -5 6 -5 32 -5-45 -5 0 -5-4 -5 15 -5 11 -5-16 -5 5 -5 8 -5 68 -5-74 -5-14 -5 23 -5-14 -5 6 -5-9 -5 24 -5-24 -5 2 -5-6 -5-5 -5-1 -5-5 -5-6 -5 1 -5 10 -5-8 -5 27 -5-20 -5 22 -5 13 -5-32 -5-2 -5 7 -5 3 -5 1 -5 12 -5-18 -5 23 -5-7 -5 6 -5-11 -5 4 -5-9 -5 1 -5-2 -5 3 -5 0 -5-4 -5 7 -5 7 -5 3 -5 17 -5-10 -5 1 -5 8 -5 16 -5-8 -5 1 -5 6 -5-9 -5 20 -5-18 -5-5 -5 7 -5-1 -5 13 -5 47 -5-56 -5 52 -5-47 -5 18 -5-17 -5 26 -5 1 -5 8 -5 13 -5-25 -5 17 -5-6 -5 12 -5-15 -5 9 -5 2 -5 11 -5-7 -5-8 -5 2 -5-1 -5 12 -5-7 -5 26 -5-13 -5 14 -5-13 -5 7 -5-4 -5 4 -5-1 -5-7 -5 22 -5-10 -5 22 -5-23 -5 27 -5 2 -5-7 -5-2 -5 16 -5-11 -5-1 -5 2 -5 8 -5 14 -5 1 -5 4 -5-17 -5 12 -5 2 -5-3 -5 4 -5-1 -5 0 -5 4 -5 5 -5-3 -5 8 -5-1 -5 5 -5 7 -5 5 -5 0 -5-5 -5 2 -5 9 -5 8 -5-6 -5 1 -5 5 -5 11 -5 3 -5 14 -5 7 -5 9 -5 24 -5-5 -5 10 -5 4 -5-2 -5 3 -5-3 -5 3 -5 0 -5 2 -5 3 -5-1 -5 0 -5-1 -5 0 -5 0 -5 0 -5 0 -5 0 -5 0 -5 0 -5 0 -5 0 -5 0 -5 0 -5 0 -5 0 -5 0 -5 0 -5 0 -5 0 -5 0 -5 0 -5 0 -5 0 -5 0 -5 0 -5 0 -5 0 -5 1 -5-1 -5 0 -5 0 -5 0 -5 0 -5 0 -5 1 -5 0 -5 0 -5 0 -5 0 -5 0 -5 0 -5 0 -5 0 -5 0 -5 0 -5 0 -5 0 -5 0 -5 0 -5 1 -5 0 -5 0 -5 0 -5 0 -5-1 -5 1 -5 0 -5 1 -5-1 -5 0 -5 0 -5 0 -5 0 -5 0 -5 1 -5-1 -5 0 -5 1 -5 0 -5 0 -5 0 -5 0 -5 0 -5 0 -5 1 -5-1 -5 0 -5 0 -5 0 -5 0 -5 0 -5 1 -5 0 -5-1 -5 0 -5 1 -5 0 -5-1 -5 1 -5-1 -5 1 -5 0 -5 0 -5 0 -5 0 -5 0 -5 0 -5 0 -5 0 -5 0 -5 0 -5 0 -5 0 -5 1 -5-1 -5 0 -5 1 -5-1 -5 1 -5 0 -5-1 -5 0 -5 1 -5-1 -5 1 -5-1 -5 0 -5 0 -5 1 -5 0 -5 0 -5 0 -5 0 -5 0 -5-1 -5 0 -5 0 -5 0 -5 0 -5 1 -5 0 -5 0 -5-1 -5 1 -5 0 -5 0 -5 0 -5 0 -5 0 -5 0 -5 1 -5-1 -5 0 -5 0 -5 0 -5 0 -5 0 -5 1 -5 0 -5-1 -5 0 -5 0 -5 0 -5 0 -5 1 -5-1 -5 1 -5-1 -5 1z"/>
<path transform="scale(0.1)" vector-effect="non-scaling-stroke" fill="#acb5f4" stroke="#acb5f4" stroke-width="0.5" d="M3753 1522l5 1 5-2 5 1 5 1 5 0 5 0 5-1 5 1 5 0 5-1 5 1 5 0 5-1 5 1 5 0 5-1 5-1 5 1 5-3 5 3 5-2 5 1 5 0 5 0 5 1 5-1 5-1 5 0 5 1 5-5 5 4 5-2 5 3 5 0 5-2 5 1 5 1 5-1 5-1 5 1 5-1 5 1 5 0 5 0 5 0 5-1 5-1 5 0 5 1 5-1 5 2 5 0 5-1 5 1 5 0 5-2 5 0 5-2 5-2 5 2 5 2 5-5 5 4 5 2 5-3 5 1 5 1 5 1 5 0 5-2 5 0 5 1 5-3 5 1 5 2 5-4 5 4 5-2 5 0 5 1 5 1 5-1 5-1 5 0 5 1 5-3 5 0 5 1 5 1 5 1 5-5 5 3 5-1 5 2 5-2 5 2 5 0 5 1 5-1 5-3 5 2 5-3 5 3 5 0 5 1 5 0 5 0 5 0 5 0 5-1 5 0 5 1 5 0 5 0 5-1 5-2 5 1 5 2 5-3 5 2 5-5 5 4 5 0 5 1 5 1 5-1 5-1 5 1 5 0 5 0 5-1 5-2 5 2 5 1 5-3 5 3 5-1 5 0 5 0 5-1 5 2 5 0 5 0 5-1 5-1 5 1 5-1 5 1 5 0 5-2 5 2 5 1 5 0 5-1 5-1 5-1 5 2 5 0 5-1 5 1 5 0 5-5 5 2 5 3 5-2 5-3 5 5 5-2 5 0 5 1 5 0 5-2 5-3 5 3 5 0 5 0 5-2 5 1 5-9 5 4 5 6 5-4 5 0 5-1 5 1 5 2 5-5 5 7 5 0 5 1 5 0 5 0 5-5 5 3 5 1 5 1 5 0 5-9 5 8 5-2 5 0 5-10 5 6 5-2 5-7 5 3 5 4 5-3 5-5 5-3 5 3 5-9 5 8 5-7 5 0 5-24 5 14 5 8 5-4 5-26 5 18 5 7 5 2 5 0 5-4 5-13 5 0 5 7 5-3 5 1 5-8 5 4 5-12 5 1 5 3 5 3 5 1 5-22 5 14 5 2 5 0 5-6 5 2 5-8 5-7 5 10 5-3 5-1 5-4 5-6 5-1 5-14 5-19 5 22 5 1 5-3 5-7 5-11 5 13 5-6 5-18 5 5 5-17 5 7 5 1 5 5 5-11 5-11 5-14 5 6 5-6 5 14 5-3 5-3 5-18 5 19 5-24 5 18 5 1 5-2 5-16 5 14 5-6 5-9 5 12 5-4 5 6 5 2 5-1 5 1 5-1 5-6 5-1 5-3 5 1 5-5 5 0 5-8 5 2 5 10 5 13 5-15 5-2 5 9 5 5 5-2 5-10 5 4 5-6 5 11 5 3 5-5 5 2 5-6 5-12 5 22 5 0 5-11 5 6 5-5 5 11 5 1 5-2 5-41 5 25 5 11 5 14 5-3 5-1 5 3 5-14 5 9 5-10 5 18 5-4 5-21 5 26 5 5 5-7 5 8 5 1 5-5 5-12 5 10 5 9 5-4 5 0 5-23 5 16 5 1 5-1 5 1 5-4 5 0 5 3 5-5 5 8 5 0 5-8 5 5 5-1 5-1 5-1 5 0 5 3 5-35 5 33 5 6 5 1 5-10 5 2 5 5 5-12 5 17 5-4 5-11 5 1L5638 1426l-5-3 -5 15 -5-5 -5-9 -5 3 -5 1 -5-1 -5-9 -5 10 -5-11 -5 3 -5 2 -5 0 -5-1 -5 6 -5-7 -5 5 -5 4 -5-9 -5 5 -5 19 -5-13 -5-8 -5-1 -5-4 -5 30 -5-32 -5 8 -5 20 -5-19 -5 21 -5-8 -5-12 -5 37 -5-27 -5-14 -5 10 -5-3 -5 4 -5-8 -5 4 -5 3 -5 17 -5-19 -5 0 -5-6 -5-9 -5 16 -5-17 -5 0 -5 1 -5-3 -5 14 -5-16 -5 7 -5-2 -5-8 -5-3 -5 9 -5-7 -5-3 -5 49 -5-34 -5-16 -5-2 -5 5 -5-1 -5 3 -5 1 -5 1 -5-5 -5-4 -5 4 -5 9 -5-10 -5 57 -5-56 -5-2 -5 11 -5-6 -5-5 -5 5 -5-1 -5 20 -5 4 -5-14 -5 11 -5-22 -5-1 -5-1 -5 6 -5 2 -5 30 -5-43 -5 4 -5 8 -5-6 -5 8 -5-2 -5 2 -5 4 -5-8 -5 3 -5 4 -5-3 -5 6 -5 40 -5-28 -5-10 -5 11 -5 10 -5 5 -5-3 -5 0 -5 7 -5 7 -5 9 -5-3 -5 9 -5 8 -5-5 -5-7 -5 6 -5-4 -5 1 -5 9 -5-3 -5 15 -5-10 -5 2 -5 23 -5-19 -5 9 -5-2 -5 4 -5 2 -5-8 -5 25 -5-16 -5-4 -5-2 -5 1 -5-4 -5 5 -5 5 -5-6 -5 26 -5-3 -5-17 -5 13 -5-10 -5 9 -5-8 -5 1 -5 18 -5-15 -5 5 -5-5 -5 0 -5-1 -5 1 -5 2 -5 6 -5 7 -5 0 -5-9 -5 1 -5 2 -5 6 -5-7 -5 1 -5 2 -5-1 -5 0 -5 2 -5 3 -5-1 -5 0 -5 1 -5 0 -5-1 -5 1 -5-2 -5 2 -5 0 -5 0 -5-1 -5-1 -5 2 -5-1 -5 1 -5 0 -5-3 -5-1 -5 2 -5 1 -5-1 -5 1 -5 1 -5-4 -5 2 -5 2 -5-2 -5-1 -5 3 -5 0 -5 0 -5-2 -5 2 -5 0 -5 0 -5 0 -5-1 -5 0 -5 1 -5-1 -5 1 -5-1 -5 1 -5-1 -5 0 -5 1 -5 0 -5 0 -5 0 -5-1 -5 1 -5-1 -5 1 -5-2 -5 2 -5 0 -5-1 -5 1 -5 0 -5 0 -5 0 -5 0 -5 0 -5-1 -5 1 -5-2 -5 2 -5-1 -5 1 -5 0 -5 0 -5-1 -5 1 -5 0 -5 0 -5-1 -5 1 -5 0 -5 0 -5-1 -5 1 -5 0 -5 0 -5 0 -5-1 -5 0 -5 1 -5-1 -5 1 -5-1 -5-1 -5 1 -5-1 -5 1 -5 0 -5-1 -5 2 -5 0 -5-1 -5-1 -5 2 -5 0 -5-1 -5-1 -5 2 -5-3 -5 0 -5 2 -5 1 -5-1 -5 0 -5 1 -5-2 -5 1 -5-1 -5 2 -5-1 -5 0 -5-1 -5 2 -5-1 -5 0 -5 1 -5 0 -5 0 -5 0 -5 0 -5 0 -5-1 -5 0 -5 1 -5 0 -5 0 -5-1 -5 1 -5 0 -5 0 -5 0 -5 0 -5 0 -5-1 -5 0 -5 0 -5 0 -5 0 -5 1 -5-1 -5 1 -5-1 -5 1 -5-1 -5 1 -5 0 -5 0 -5 0 -5 0 -5-1 -5 0 -5 0 -5 0 -5 1 -5 0 -5-1 -5 0 -5 0 -5 0 -5 0 -5 1 -5 0 -5 0 -5 0 -5-1 -5 1 -5 0 -5 0 -5 0 -5-1 -5 1 -5-1 -5 1 -5 0 -5 0 -5 0 -5 0 -5 0 -5 0 -5 0 -5 0 -5 0 -5 0 -5 0 -5 0 -5 0 -5 0 -5 0 -5-1 -5 1 -5 0 -5 0 -5 0 -5 0z"/>
<path transform="scale(0.1)" vector-effect="non-scaling-stroke" fill="#bfef8c" stroke="#bfef8c" stroke-width="0.5" d="M3753 1522l5 1 5 0 5-1 5 1 5 0 5 0 5-1 5-2 5 2 5 0 5-1 5 1 5 0 5 0 5-4 5 1 5 2 5 0 5-2 5 2 5 0 5-1 5-1 5-3 5 4 5-4 5 4 5-1 5 1 5 0 5 0 5-1 5 0 5-1 5-1 5 2 5-1 5 0 5 0 5-1 5 2 5-1 5 1 5-1 5 0 5 0 5-1 5 0 5 1 5 0 5-1 5 1 5-2 5 0 5 1 5-1 5 2 5 0 5 1 5-1 5 0 5-1 5 0 5 0 5 0 5 0 5-1 5 1 5 0 5-1 5 1 5 0 5-1 5 1 5 0 5 0 5-1 5 0 5 1 5 0 5-3 5 4 5-1 5-3 5 4 5-4 5 4 5 0 5-6 5 6 5-1 5 0 5 0 5 0 5-3 5 3 5 1 5-3 5-2 5 1 5 2 5-3 5-4 5-2 5-7 5 0 5-3 5-1 5-3 5-6 5-8 5 2 5-1 5-6 5 2 5-4 5-1 5-10 5-4 5 5 5-10 5 13 5-4 5 4 5-4 5-4 5-5 5 7 5-3 5-5 5-1 5-12 5 15 5-7 5 3 5-14 5 4 5 9 5 2 5-12 5 8 5-4 5 3 5-5 5-1 5 0 5 2 5-3 5-22 5 22 5-1 5-8 5 1 5-4 5 7 5-2 5 0 5-5 5-27 5 25 5 5 5-2 5-6 5-3 5-9 5 18 5-6 5-21 5 21 5 5 5-6 5-3 5-35 5 49 5-7 5-21 5 14 5 2 5 1 5-37 5 32 5-18 5-64 5 77 5 1 5 2 5-3 5 0 5-15 5 26 5-10 5 6 5-27 5 1 5 13 5 9 5 0 5-17 5 12 5-3 5 3 5 3 5-18 5 19 5-13 5 12 5-12 5 2 5 6 5-8 5-6 5-9 5-51 5 74 5-27 5 8 5 12 5-1 5-61 5 56 5-17 5-10 5 18 5-24 5 23 5 11 5-4 5-10 5 14 5-1 5-3 5-2 5-8 5-4 5 13 5 4 5-34 5 26 5-4 5-41 5 55 5-12 5 0 5 3 5-17 5 26 5 4 5-11 5 9 5-2 5-23 5 13 5-1 5-8 5-3 5 12 5-2 5 2 5-19 5 2 5-3 5 22 5-8 5 5 5 5 5-5 5-14 5 18 5 7 5-19 5 5 5 2 5 1 5-4 5-8 5 22 5-13 5-16 5-39 5 73 5 5 5-20 5 21 5-8 5-8 5 11 5-21 5 19 5-2 5 4 5-15 5 3 5 2 5 2 5 3 5 5 5-5 5-14 5-28 5 24 5 22 5-12 5-42 5 47 5 1 5 8 5 0 5-21 5-2 5 20 5-10 5 12 5-2 5-37 5 11 5 16 5 17 5-28 5 26 5-17 5 12 5 3 5-27 5 5 5-1 5 17 5-20 5-28 5-17 5 45 5 0 5 23 5-23 5 29 5 2 5-9 5-13 5 17 5 0 5 4 5 4 5-20 5 23 5-2 5-7 5-17 5 22 5 2 5-8 5-8 5 5 5-10 5 19 5-12 5-8 5 17 5-21 5 23 5-12 5 11 5-6 5-2 5-11 5 11 5-6 5-34 5 34 5-2 5-16 5 1 5 25 5-24 5-4 5 15 5 17 5-2 5 9L5638 1465l-5-7 -5-10 -5-3 -5 8 -5-6 -5 60 -5-64 -5 0 -5 71 -5-76 -5 16 -5-14 -5 7 -5 13 -5-17 -5 20 -5-16 -5-2 -5 12 -5-6 -5 25 -5-21 -5-2 -5-2 -5 11 -5-4 -5-6 -5 7 -5 4 -5 2 -5-7 -5 15 -5-10 -5-5 -5 16 -5-17 -5-4 -5 25 -5-16 -5 7 -5-17 -5 11 -5-9 -5 2 -5-3 -5-2 -5-1 -5 2 -5-5 -5 19 -5-8 -5-12 -5 4 -5 15 -5-16 -5 17 -5-15 -5 6 -5-2 -5 6 -5-9 -5 6 -5 24 -5-12 -5-20 -5 7 -5 17 -5-6 -5-7 -5-6 -5 2 -5-12 -5 5 -5-4 -5 2 -5-4 -5 9 -5-15 -5 30 -5-6 -5 21 -5-35 -5 4 -5-9 -5 13 -5-10 -5 20 -5 13 -5-26 -5 49 -5-46 -5-4 -5-4 -5 74 -5-72 -5 25 -5-29 -5 16 -5-10 -5-5 -5 6 -5-12 -5 6 -5 32 -5-33 -5-4 -5 7 -5 7 -5-6 -5-6 -5-6 -5 23 -5 30 -5-48 -5 4 -5-7 -5 4 -5-11 -5 30 -5-24 -5 6 -5-3 -5-3 -5 6 -5-4 -5 10 -5 0 -5-2 -5 17 -5-8 -5 0 -5 12 -5-11 -5 45 -5-33 -5 0 -5-13 -5-8 -5 3 -5-10 -5 4 -5 0 -5-8 -5 15 -5 20 -5-18 -5-3 -5 17 -5 9 -5-33 -5 7 -5-8 -5 9 -5-9 -5 12 -5-3 -5 4 -5 30 -5-37 -5 32 -5-25 -5 0 -5 1 -5 17 -5-18 -5 1 -5 1 -5 11 -5 6 -5 8 -5-21 -5-4 -5 6 -5-4 -5 1 -5-9 -5 6 -5-6 -5 2 -5 2 -5 2 -5-2 -5-1 -5 0 -5 21 -5-5 -5-13 -5 7 -5-2 -5 14 -5-27 -5 1 -5 5 -5 4 -5-8 -5 14 -5-9 -5 19 -5-11 -5 19 -5-12 -5-8 -5 1 -5 5 -5-8 -5 8 -5-8 -5 9 -5-10 -5 8 -5 8 -5 17 -5-36 -5 32 -5-17 -5-11 -5 3 -5-5 -5 12 -5-10 -5 3 -5-5 -5 21 -5-13 -5 15 -5-14 -5 30 -5-30 -5 7 -5 12 -5-8 -5-10 -5 21 -5-8 -5 0 -5-3 -5-1 -5 0 -5 1 -5 2 -5 20 -5-19 -5-4 -5 1 -5-1 -5 7 -5 19 -5-22 -5 2 -5 4 -5 1 -5-2 -5 6 -5-2 -5 4 -5-3 -5 10 -5-8 -5 5 -5-6 -5 9 -5 3 -5-8 -5 25 -5-23 -5 3 -5 3 -5 6 -5-3 -5 10 -5-3 -5 2 -5 0 -5-1 -5 5 -5 2 -5 0 -5-3 -5 1 -5 0 -5 1 -5-1 -5-1 -5 2 -5-2 -5 3 -5-1 -5-1 -5 0 -5-1 -5 2 -5-1 -5 2 -5-1 -5-2 -5 3 -5-3 -5-1 -5 0 -5 1 -5-1 -5 0 -5 1 -5 1 -5-2 -5 1 -5 0 -5 0 -5-1 -5 0 -5 4 -5-3 -5 1 -5-1 -5 0 -5 3 -5 0 -5-2 -5 0 -5 1 -5-1 -5 2 -5-3 -5 0 -5 0 -5 0 -5-1 -5 2 -5-1 -5 0 -5 1 -5 2 -5-2 -5 0 -5 0 -5-1 -5 2 -5-2 -5 0 -5 0 -5 1 -5-1 -5 1 -5 0 -5 1 -5-1 -5 2 -5-2 -5 0 -5 0 -5 0 -5 0 -5 2 -5-1 -5-1 -5 2 -5-1 -5 1 -5-1 -5 0 -5 1 -5 0 -5 0 -5-1 -5 1 -5 0 -5-1 -5 1 -5-1 -5 0 -5 1 -5 0 -5 0 -5 0 -5 0 -5 0 -5 0z"/>
<path transform="scale(0.1)" vector-effect="non-scaling-stroke" fill="#c3f09a" stroke="#c3f09a" stroke-width="0.5" d="M3753 1522l5 0 5 0 5-1 5-2 5 3 5 1 5-3 5 3 5 0 5-2 5 0 5 1 5 0 5 0 5-1 5 1 5-2 5 2 5 0 5 0 5-2 5 0 5 1 5 0 5 0 5 0 5 1 5-3 5 1 5 1 5 0 5 0 5-2 5 2 5-5 5 4 5 1 5-1 5 1 5-5 5 5 5-1 5-1 5 1 5-1 5 1 5 0 5-2 5 0 5 1 5 0 5-1 5 1 5-1 5 0 5-1 5-1 5 2 5-2 5 2 5 0 5-3 5 3 5-1 5-1 5 3 5-1 5-1 5 2 5-1 5-1 5 2 5-1 5 0 5 1 5-4 5 1 5 0 5 2 5-8 5 7 5 0 5-4 5 3 5 1 5 1 5-1 5 1 5 0 5-4 5 4 5-3 5 2 5-2 5 1 5 0 5 1 5-1 5 0 5-2 5 1 5 2 5-1 5 1 5-1 5 0 5 0 5 1 5-1 5-1 5 2 5-4 5 4 5-1 5-6 5 4 5-1 5-3 5-4 5 1 5-1 5 1 5 0 5-4 5 1 5 0 5-12 5 5 5 4 5-1 5-12 5 6 5 3 5-2 5-5 5 2 5-6 5-3 5 0 5 5 5-6 5 4 5-6 5-9 5 9 5-5 5-11 5 10 5-4 5 0 5 4 5-8 5-2 5-3 5-3 5 2 5 6 5-6 5-2 5-15 5 1 5 19 5-5 5 4 5-15 5 1 5 8 5 1 5-11 5 4 5-4 5-12 5-8 5 14 5-19 5 25 5-1 5 2 5-9 5-3 5 5 5 6 5-10 5 6 5-7 5-13 5 21 5-8 5-12 5-10 5 16 5-5 5 9 5-38 5 24 5-1 5 3 5 4 5-3 5 1 5 2 5-6 5 7 5-6 5-3 5 1 5-4 5 1 5 1 5-15 5 3 5 7 5 1 5-38 5 20 5-3 5-8 5 8 5 5 5 9 5 0 5-13 5 3 5-23 5 22 5-5 5 10 5 9 5-24 5-10 5 23 5 10 5 0 5-8 5-23 5 8 5 15 5 4 5-1 5 3 5 2 5-1 5-14 5 7 5 6 5-4 5 2 5 3 5-5 5-21 5 24 5-3 5 5 5-16 5 10 5 5 5-15 5 6 5 2 5-6 5-9 5 4 5-13 5 30 5-7 5-13 5 22 5 0 5-5 5 7 5-17 5 0 5 18 5-10 5-37 5 29 5 10 5 9 5 3 5-6 5-5 5 12 5 0 5 5 5-16 5-27 5 24 5 2 5 8 5-6 5 9 5-2 5 0 5 1 5-7 5-9 5 4 5 4 5-11 5 10 5-35 5 40 5-3 5-19 5 10 5 6 5-9 5 11 5-1 5-17 5 22 5-7 5 4 5-29 5 13 5 11 5 2 5 5 5 2 5-16 5 16 5 9 5 5 5 2 5-11 5 4 5-11 5 1 5-4 5-3 5-13 5 5 5 4 5 11 5-12 5 8 5 2 5-14 5 7 5-23 5 29 5-11 5-16 5 18 5 4 5 4 5-8 5-7 5-5 5 23 5-24 5 13 5 4 5-25 5 34 5-12 5-5 5 1 5-14 5 22 5-22 5 19 5-20 5 12 5-9 5 20 5-4 5-23 5 29 5-3 5-24 5-12 5 38 5-11 5 9 5-18 5-4L5638 1465l-5-3 -5 27 -5-5 -5-29 -5-4 -5 28 -5-24 -5-2 -5-5 -5 25 -5-22 -5 0 -5 7 -5 13 -5-24 -5 21 -5-4 -5 33 -5-44 -5 8 -5 3 -5-7 -5 7 -5 7 -5 2 -5-9 -5-5 -5 7 -5-2 -5-7 -5 1 -5 10 -5-15 -5-2 -5 17 -5-6 -5-4 -5-7 -5 20 -5 5 -5 12 -5-17 -5-6 -5-4 -5-2 -5 1 -5 4 -5 1 -5-1 -5-2 -5 14 -5-5 -5 4 -5-9 -5 3 -5 4 -5-10 -5 9 -5 10 -5-7 -5-15 -5 14 -5-13 -5 8 -5-12 -5 13 -5-7 -5-3 -5 4 -5-13 -5-4 -5 11 -5 22 -5-12 -5-2 -5 21 -5-36 -5 0 -5 0 -5 15 -5 30 -5-34 -5 1 -5 0 -5 1 -5 7 -5-13 -5-2 -5 8 -5 31 -5-15 -5-22 -5 9 -5 6 -5-10 -5 24 -5-18 -5 7 -5-18 -5 23 -5-18 -5 10 -5-10 -5-8 -5 6 -5 4 -5 14 -5 6 -5-32 -5-4 -5 19 -5-20 -5 40 -5-29 -5 6 -5-9 -5-4 -5-9 -5 12 -5 20 -5-16 -5-10 -5 19 -5-18 -5 12 -5-11 -5 0 -5-3 -5 35 -5-37 -5 3 -5 15 -5-2 -5-14 -5 13 -5-14 -5 2 -5 25 -5-6 -5-13 -5 13 -5-16 -5 1 -5 12 -5-14 -5 10 -5-1 -5 6 -5-14 -5 13 -5-1 -5-8 -5-6 -5 8 -5 3 -5-9 -5 0 -5-5 -5 0 -5 7 -5-2 -5 10 -5-5 -5 12 -5-7 -5-8 -5 9 -5 18 -5-24 -5 4 -5 9 -5-11 -5 9 -5-1 -5-1 -5 0 -5 0 -5 0 -5-2 -5 12 -5-10 -5 29 -5-22 -5-3 -5 33 -5-33 -5 5 -5 7 -5-3 -5 8 -5-5 -5 4 -5-7 -5 2 -5 1 -5 9 -5-9 -5 5 -5-4 -5 1 -5 22 -5-28 -5 4 -5 19 -5-15 -5-3 -5 2 -5 11 -5-6 -5 4 -5 4 -5-4 -5 2 -5 5 -5-6 -5 0 -5-1 -5 3 -5 4 -5-2 -5-3 -5 1 -5 4 -5-3 -5 14 -5-5 -5-8 -5 19 -5-10 -5-5 -5 7 -5 3 -5 1 -5-9 -5 1 -5 2 -5 5 -5-5 -5 4 -5 0 -5-1 -5 1 -5 1 -5 4 -5 1 -5 0 -5-2 -5 7 -5 0 -5 3 -5-8 -5-2 -5 3 -5 0 -5 2 -5-4 -5 3 -5 2 -5-2 -5 2 -5-1 -5 2 -5 0 -5-1 -5 2 -5-2 -5 1 -5-1 -5 4 -5 0 -5-5 -5 0 -5 0 -5 4 -5-2 -5 3 -5-5 -5 4 -5 1 -5-2 -5-1 -5 0 -5 2 -5-1 -5-1 -5 0 -5-1 -5 1 -5 0 -5-1 -5 0 -5 1 -5 0 -5 0 -5 0 -5 2 -5-2 -5-1 -5 1 -5 0 -5 0 -5 2 -5-2 -5 0 -5 0 -5-1 -5 1 -5 0 -5 1 -5-1 -5 1 -5 2 -5-3 -5 0 -5-1 -5 0 -5 2 -5-1 -5 1 -5 0 -5-1 -5 3 -5-3 -5 0 -5 0 -5 1 -5-1 -5 0 -5 0 -5 1 -5 0 -5 1 -5-1 -5 0 -5 0 -5 2 -5 0 -5-2 -5 2 -5 0 -5 0 -5-1 -5 0 -5 0 -5 0 -5 1 -5 0 -5 0 -5-1 -5 1 -5-1 -5 1 -5-1 -5 0 -5 0 -5 1 -5-1 -5 0 -5 1 -5 0 -5-1 -5 0 -5 0 -5 1 -5 0 -5 0 -5-1 -5 1 -5 0 -5 0 -5 0 -5 0 -5 0 -5 0 -5 0 -5 0 -5 0z"/>
<path transform="scale(0.1)" vector-effect="non-scaling-stroke" fill="#f8d4ae" stroke="#f8d4ae" stroke-width="0.5" d="M3753 1522l5 1 5-1 5 0 5 0 5-1 5 1 5 0 5 0 5-1 5 1 5 0 5 0 5 0 5 0 5 0 5 0 5-1 5 0 5 0 5 0 5-1 5 1 5-1 5 0 5-1 5 2 5 0 5-2 5 0 5 1 5 0 5 0 5 0 5 1 5-1 5 0 5 0 5-1 5 1 5-1 5 1 5-1 5 1 5 0 5 0 5-4 5 3 5-1 5 2 5-1 5 0 5 0 5 0 5-1 5 1 5 0 5-1 5 0 5 1 5-1 5-2 5 3 5 0 5-1 5 0 5 1 5-1 5 1 5-1 5-1 5 1 5 0 5 0 5 0 5 0 5 0 5 1 5 0 5-1 5-1 5 1 5 0 5 0 5 1 5-4 5 3 5 0 5-2 5 2 5 0 5-1 5-1 5 0 5 0 5 0 5 1 5-3 5 1 5 2 5 0 5-1 5 0 5 1 5-3 5 2 5 0 5 0 5-2 5 2 5 0 5 0 5 0 5-1 5-5 5 5 5 0 5 0 5 0 5-2 5-2 5 0 5 2 5-2 5 1 5-1 5 0 5 0 5-3 5 3 5-2 5 0 5 2 5-5 5 3 5-4 5 4 5-1 5-2 5 1 5 0 5-5 5 4 5-4 5 4 5 0 5-2 5 0 5-1 5-2 5 2 5-1 5 0 5 1 5-2 5 0 5 0 5 0 5-4 5 3 5-8 5 5 5 2 5 1 5-2 5-2 5-1 5-2 5 3 5 0 5-2 5 1 5-2 5-1 5 0 5 0 5 0 5-2 5-1 5-1 5 0 5-2 5-4 5 3 5-1 5-6 5 3 5 1 5-1 5 1 5-1 5 0 5-1 5 0 5-1 5-2 5 1 5-4 5 5 5-13 5 8 5-17 5 19 5-2 5-3 5 7 5-11 5-3 5 12 5 4 5-1 5 0 5-8 5 9 5 0 5 0 5-8 5 1 5 7 5 0 5-3 5 6 5-3 5-7 5 6 5 2 5 1 5-1 5-6 5 0 5 2 5 2 5 0 5-2 5-6 5-2 5 7 5 2 5 3 5-6 5 7 5-3 5 3 5 1 5-8 5 3 5 4 5-7 5 2 5 5 5-1 5-4 5 5 5-12 5 14 5-1 5 2 5-2 5-1 5 0 5 3 5-3 5-1 5 3 5-16 5 13 5-1 5 3 5-1 5 0 5 0 5-10 5 7 5-1 5 6 5-8 5 5 5 1 5 0 5 0 5-3 5-5 5-1 5 4 5-1 5 1 5-8 5 10 5-3 5 2 5 2 5-2 5 4 5 0 5-1 5 0 5 5 5-3 5 1 5 2 5 0 5 0 5 0 5-1 5 2 5-3 5-3 5-6 5 8 5 0 5 1 5-2 5-1 5 1 5-5 5 0 5-18 5 20 5-3 5-6 5 3 5-14 5 17 5 2 5-5 5 0 5 1 5 0 5 3 5 2 5 1 5-7 5 2 5 5 5-1 5 0 5 1 5 2 5 5 5-7 5 6 5 1 5 0 5-2 5 1 5 1 5 1 5 1 5-1 5-3 5-1 5 1 5-5 5 5 5 1 5 1 5-9 5 10 5 1 5-1 5-7 5 5 5 3 5-2 5-2 5-1 5 0 5-7 5 2 5 1 5 0 5-14 5 17 5 1 5-7 5 5 5 3 5-6L5638 1523l-5-2 -5 5 -5-6 -5 1 -5 1 -5-4 -5 8 -5-5 -5 4 -5-9 -5 5 -5 1 -5 1 -5 0 -5 0 -5 3 -5-1 -5 1 -5 0 -5-1 -5-3 -5 4 -5 0 -5-7 -5 2 -5 1 -5 1 -5 2 -5-3 -5 1 -5 2 -5 0 -5 0 -5-2 -5 3 -5 0 -5 0 -5-4 -5 3 -5 1 -5-1 -5-7 -5-1 -5-1 -5 10 -5-13 -5 7 -5 0 -5-2 -5 3 -5 1 -5-9 -5 5 -5 0 -5 3 -5-7 -5 1 -5-2 -5 4 -5-3 -5 3 -5 2 -5 0 -5-2 -5 2 -5 7 -5-3 -5 3 -5-4 -5 1 -5 0 -5 3 -5 0 -5-4 -5 4 -5 0 -5 0 -5-4 -5-1 -5 5 -5-5 -5-2 -5 3 -5-3 -5 5 -5-7 -5 0 -5 9 -5-11 -5 11 -5-12 -5-1 -5 5 -5 4 -5-2 -5-2 -5 0 -5 6 -5-5 -5-2 -5 9 -5-9 -5 2 -5-2 -5 2 -5-3 -5 7 -5-4 -5 0 -5 2 -5 0 -5-2 -5-2 -5 1 -5 1 -5 2 -5 2 -5-2 -5 4 -5-4 -5-1 -5 6 -5 0 -5 0 -5-9 -5 0 -5 1 -5 7 -5-6 -5-2 -5 0 -5-1 -5 3 -5 6 -5-5 -5 1 -5-3 -5 5 -5 3 -5-4 -5-2 -5 3 -5 1 -5-8 -5 3 -5 7 -5-8 -5 6 -5 2 -5 0 -5-9 -5 5 -5-4 -5 2 -5 5 -5-7 -5-2 -5 0 -5-1 -5 0 -5 4 -5 1 -5 1 -5-6 -5 2 -5 0 -5 2 -5 1 -5 1 -5-5 -5-3 -5 1 -5 0 -5-1 -5 1 -5 1 -5-5 -5 7 -5-3 -5 3 -5-5 -5 9 -5 1 -5-11 -5 5 -5-3 -5 13 -5-16 -5 3 -5 2 -5 5 -5-8 -5 1 -5-1 -5 2 -5-1 -5-1 -5 4 -5-2 -5 2 -5 5 -5-7 -5 0 -5 7 -5-5 -5-1 -5 4 -5-4 -5 0 -5-1 -5 1 -5-1 -5 1 -5 1 -5 0 -5-1 -5-1 -5 4 -5-3 -5 2 -5 0 -5 0 -5 1 -5-1 -5 0 -5 2 -5-2 -5 4 -5-2 -5-1 -5 1 -5 0 -5 0 -5-1 -5 1 -5-1 -5 2 -5 0 -5-1 -5 0 -5 1 -5 0 -5 3 -5 0 -5-1 -5 3 -5-3 -5 1 -5-1 -5 4 -5-4 -5 2 -5-2 -5 1 -5 1 -5 0 -5-1 -5 0 -5 0 -5 0 -5 0 -5 2 -5-1 -5 0 -5 2 -5 0 -5-1 -5-1 -5 0 -5 0 -5 0 -5 0 -5 0 -5 1 -5 0 -5-1 -5 1 -5-1 -5 0 -5 0 -5 2 -5 0 -5-2 -5 1 -5 0 -5 0 -5 0 -5 1 -5-1 -5 0 -5 1 -5 0 -5 0 -5 0 -5 0 -5 0 -5 0 -5 0 -5 0 -5 0 -5-1 -5 0 -5 0 -5 1 -5-1 -5 1 -5-1 -5 1 -5 0 -5 0 -5-1 -5 1 -5 0 -5-1 -5 1 -5-1 -5 0 -5 1 -5 0 -5-1 -5 1 -5-1 -5 0 -5 1 -5 0 -5-1 -5 1 -5-1 -5 1 -5 0 -5 0 -5 0 -5 0 -5 0 -5 0 -5 0 -5 0 -5 0 -5 0 -5 0 -5 0 -5 0 -5 0 -5 0 -5 0 -5 0 -5 0 -5 0 -5 0 -5 0 -5 0 -5 0 -5 0 -5 0 -5 0 -5 0 -5 0 -5 0 -5 0 -5 0 -5 0 -5 0 -5 0 -5 0 -5 0 -5 0 -5 0 -5 0 -5 0 -5 0 -5 0 -5 0 -5 0 -5 0 -5 0 -5 0 -5 0z"/>
<path transform="scale(0.1)" vector-effect="non-scaling-stroke" fill="#3f5fe6" stroke="#3f5fe6" stroke-width="0.5" opacity="0.85" d="M3753 1521l5 2 5 0 5-1 5 0 5 1 5-2 5 2 5-1 5 1 5-2 5 2 5-4 5 3 5-2 5 2 5-3 5-5 5 8 5 0 5-2 5-3 5 4 5 1 5-1 5-7 5 6 5 2 5 0 5 0 5 0 5-2 5 2 5-1 5 1 5-1 5-2 5 2 5-1 5 1 5 0 5 1 5-2 5 1 5-5 5 5 5 0 5 1 5-5 5-2 5 6 5-1 5 0 5 0 5-2 5 1 5 3 5-10 5 5 5 4 5 0 5-2 5 2 5 0 5-7 5 8 5-6 5 5 5-1 5-2 5 3 5-2 5-1 5 2 5 1 5-3 5 3 5-3 5-4 5 6 5-2 5 3 5 0 5-2 5-5 5-12 5 9 5 8 5-2 5 1 5-2 5 1 5-5 5-1 5 7 5 0 5-1 5-1 5-3 5 6 5 0 5-5 5 4 5-4 5 5 5-3 5 3 5-5 5 0 5 3 5 0 5 0 5-5 5 6 5-5 5-12 5 8 5 7 5 0 5-2 5 0 5 3 5-3 5 3 5 0 5 0 5-11 5 11 5-2 5-3 5 4 5-6 5 7 5-9 5 4 5-1 5 5 5-1 5 0 5-2 5 2 5 2 5-3 5-9 5 11 5-7 5 2 5-1 5 5 5-3 5 3 5-5 5-6 5 10 5-1 5 1 5 2 5 1 5 0 5-5 5 2 5 3 5-2 5 1 5-3 5-1 5 1 5 3 5-2 5-2 5-11 5 11 5-7 5 9 5-17 5 17 5-1 5 1 5-2 5 1 5-1 5-2 5-5 5-2 5 8 5-5 5-1 5 8 5-1 5 2 5-4 5 4 5-2 5-5 5 6 5-3 5-11 5 13 5 1 5-1 5-7 5 5 5 4 5-20 5 2 5-5 5 21 5-3 5-1 5-3 5 5 5-2 5-12 5 12 5 4 5-3 5-16 5 13 5-6 5 7 5-1 5 4 5-2 5 0 5-5 5-13 5 16 5-1 5-4 5 3 5 2 5-3 5-25 5 18 5 13 5-4 5 3 5 0 5 0 5 0 5 1 5-13 5 6 5-12 5 17 5-11 5 4 5 6 5-4 5 2 5-16 5 11 5 4 5 2 5-1 5 3 5-9 5-1 5 8 5-1 5-24 5 22 5 0 5 0 5 4 5-8 5 7 5-1 5-26 5 28 5-2 5 0 5-2 5-6 5 1 5-17 5 10 5 9 5-11 5 14 5-4 5-2 5 5 5-4 5 0 5 3 5-16 5 17 5-7 5 0 5 8 5-7 5 4 5 2 5-11 5 11 5-3 5-2 5 1 5-1 5 2 5 1 5 1 5-1 5-12 5-4 5 11 5 3 5-4 5-6 5 10 5 3 5-11 5-15 5 27 5-7 5 1 5 0 5 3 5-8 5 7 5 4 5-2 5-15 5 11 5-4 5 8 5-1 5 0 5 2 5-7 5 7 5-4 5 4 5 1 5 0 5-9 5 0 5-9 5-2 5 6 5 10 5 2 5 0 5 1 5-11 5 9 5 1 5-2 5 3 5-1 5-3 5-3 5 4 5-3 5 4 5-13 5 7 5 6 5 3 5 2 5-4 5-12 5 16 5 1 5-14 5 1 5 8 5 0 5 0 5-9 5 5 5-2 5-4 5 7 5 1 5 5 5-7L5638 1508l-5-3 -5 10 -5-3 -5 9 -5 4 -5-17 -5-1 -5-1 -5 12 -5-5 -5 12 -5-13 -5 14 -5-16 -5 3 -5-2 -5 7 -5-8 -5-1 -5 5 -5-7 -5 1 -5-3 -5-1 -5 3 -5 3 -5-2 -5-4 -5 1 -5-1 -5-1 -5 2 -5 7 -5-3 -5-3 -5 3 -5-3 -5 3 -5 11 -5-17 -5 6 -5-6 -5 1 -5 2 -5-3 -5 3 -5-3 -5 13 -5-4 -5-7 -5 0 -5 0 -5 10 -5-9 -5 4 -5 7 -5 6 -5-18 -5 10 -5-12 -5 1 -5 9 -5-4 -5 0 -5-1 -5 6 -5 0 -5 1 -5 0 -5-13 -5 23 -5-22 -5 0 -5 1 -5 4 -5-6 -5 11 -5-10 -5 2 -5-1 -5 3 -5-2 -5-1 -5 9 -5 0 -5-7 -5 2 -5 2 -5 0 -5 0 -5 7 -5-4 -5-6 -5 5 -5-5 -5 10 -5-12 -5 11 -5-10 -5 19 -5-16 -5-1 -5-2 -5 4 -5 3 -5 1 -5 6 -5-11 -5 17 -5-18 -5 12 -5-11 -5 1 -5-1 -5 1 -5 9 -5-10 -5 6 -5 3 -5-7 -5 3 -5-1 -5-1 -5-2 -5 3 -5 0 -5-2 -5 4 -5-1 -5-4 -5 12 -5-11 -5 8 -5-8 -5 2 -5-2 -5 3 -5-3 -5 0 -5 10 -5-7 -5 1 -5 1 -5 5 -5-2 -5 7 -5-12 -5-3 -5 0 -5 3 -5-2 -5 0 -5-1 -5 6 -5-5 -5 4 -5-1 -5 1 -5 0 -5 2 -5-5 -5 13 -5 0 -5-12 -5 10 -5-4 -5-2 -5-4 -5 0 -5 12 -5-10 -5 0 -5 10 -5-10 -5 10 -5-4 -5-4 -5 0 -5 5 -5 2 -5 1 -5-4 -5-7 -5 2 -5 9 -5-3 -5-7 -5 0 -5 8 -5-7 -5 0 -5 9 -5-10 -5 10 -5-5 -5 5 -5-7 -5-3 -5 0 -5 4 -5 0 -5 0 -5 5 -5-9 -5 6 -5-6 -5 0 -5 10 -5 0 -5-8 -5 0 -5 1 -5 2 -5 3 -5 2 -5-3 -5-5 -5 1 -5 2 -5 1 -5-3 -5 0 -5 0 -5 7 -5-3 -5-5 -5 8 -5 0 -5 0 -5-7 -5 1 -5 0 -5 6 -5-8 -5 7 -5-1 -5-5 -5 6 -5 1 -5-8 -5 8 -5-7 -5 7 -5-7 -5 0 -5 7 -5-4 -5 1 -5-1 -5-2 -5 0 -5 3 -5-4 -5 6 -5-2 -5-4 -5 7 -5-7 -5 2 -5-2 -5 0 -5 0 -5 1 -5 6 -5-3 -5-1 -5 0 -5 0 -5-2 -5 4 -5-1 -5 1 -5-2 -5 0 -5 1 -5-2 -5 0 -5 4 -5-2 -5 3 -5-4 -5 4 -5-2 -5-2 -5 0 -5 3 -5-3 -5 0 -5 4 -5-2 -5-2 -5 2 -5 0 -5 0 -5 2 -5-1 -5-2 -5-1 -5 1 -5 3 -5-3 -5 3 -5 0 -5 0 -5-3 -5 3 -5-2 -5 1 -5 0 -5 0 -5-1 -5 1 -5-2 -5 3 -5-2 -5 2 -5-2 -5-1 -5 2 -5 1 -5-2 -5 0 -5-1 -5 3 -5 0 -5 0 -5 0 -5-3 -5 3 -5-2 -5-1 -5 2 -5 1 -5-1 -5-1 -5 0 -5 2 -5-1 -5 1 -5-3 -5 3 -5-2 -5 1 -5-1 -5 2 -5-3 -5 1 -5 1 -5-1 -5 2 -5 0 -5 0 -5-2 -5 2 -5-1 -5-1 -5 2 -5 0 -5-2 -5 0 -5 0 -5 0 -5 2 -5-2 -5 2 -5 0 -5 0 -5-1 -5 1 -5 0 -5 0 -5 0 -5-1 -5 1 -5-1 -5 1 -5-1z"/>
<path transform="scale(0.1)" vector-effect="non-scaling-stroke" fill="#d52cf0" stroke="#d52cf0" stroke-width="0.5" d="M3753 1521l5 0 5 0 5 0 5 0 5 0 5-1 5 1 5 0 5 0 5 0 5 0 5 0 5 0 5 0 5 0 5 1 5-1 5 1 5-1 5 0 5 0 5 1 5-1 5 1 5 0 5-1 5 1 5 0 5 0 5-1 5 1 5 0 5-1 5 1 5-1 5 0 5 0 5 0 5 0 5 0 5 0 5 0 5 0 5 0 5 0 5-1 5 1 5 0 5 0 5 0 5 0 5 0 5 0 5 0 5 0 5 0 5 0 5 0 5 0 5 1 5-1 5 1 5-1 5 0 5 0 5 0 5 0 5-1 5 1 5 0 5 0 5 0 5 0 5 0 5 0 5 0 5 0 5 0 5 0 5 0 5 0 5 0 5-1 5 0 5 1 5 0 5 0 5 0 5 0 5 0 5-1 5 1 5 0 5 0 5 0 5 0 5 0 5 0 5 0 5-8 5-9 5-10 5-10 5-17 5-8 5-12 5-6 5-10 5-12 5-12 5-12 5-8 5-14 5-9 5-34 5 9 5-27 5-5 5-3 5-25 5-7 5-22 5-3 5-22 5-7 5-29 5-8 5-12 5-24 5-20 5-32 5-19 5 2 5-15 5-17 5-9 5-10 5-7 5-29 5 0 5-10 5-8 5-16 5-3 5-14 5-40 5 3 5-10 5-6 5-15 5-29 5 9 5-18 5-14 5-13 5-35 5 15 5-20 5-7 5-8 5-16 5-8 5-5 5-26 5 22 5 22 5-5 5 20 5-2 5 1 5-13 5 31 5 12 5 11 5-12 5 8 5-14 5 17 5 8 5 23 5-8 5-4 5 5 5-6 5 9 5-8 5 3 5-15 5 17 5 3 5-9 5 39 5-3 5 1 5 5 5 11 5-7 5 6 5 9 5-32 5-37 5 40 5 8 5 30 5-6 5-3 5 3 5-33 5 36 5-12 5 19 5-4 5 1 5-20 5 20 5-4 5 8 5 1 5-23 5 19 5-2 5 18 5 6 5 3 5-2 5 3 5-17 5 26 5-6 5 0 5-25 5 25 5-6 5-9 5 10 5-16 5 12 5-9 5-28 5-8 5 39 5 20 5 1 5 0 5 0 5 5 5 3 5-26 5 19 5 1 5-8 5 5 5-5 5 2 5 7 5-3 5-6 5-9 5-15 5 6 5 9 5-39 5 54 5 0 5-3 5-13 5-3 5 14 5-1 5-7 5 16 5-11 5 2 5 6 5-12 5-5 5 1 5 13 5-2 5-4 5 11 5-5 5-17 5 23 5-8 5 2 5 1 5-11 5-3 5 7 5-1 5 0 5 5 5-22 5 27 5-4 5-25 5 25 5-14 5 23 5-14 5 14 5-4 5-12 5 10 5 2 5-10 5-5 5 6 5-5 5 4 5-5 5-1 5 10 5-13 5 7 5 2 5 11 5 2 5 2 5-11 5 9 5-13 5 9 5 5 5-6 5-18 5 21 5 0 5-8 5-30 5 44 5-67 5 38 5 13 5 9 5-17 5 13 5-2 5-6 5 3 5 3 5-5 5 8 5-8 5-47 5 47 5 8 5-11 5 12 5-4 5 0 5-9 5 7 5-8 5 11 5-3 5-14 5 15 5-41 5 36 5 4 5-12 5 4 5-5 5 5 5 9 5-22 5 20 5 0 5-6 5-2 5 12 5 0 5-1 5-7 5-10L5638 1066l-5-53 -5 5 -5 24 -5-27 -5 11 -5-12 -5 2 -5 6 -5 12 -5-20 -5 6 -5-11 -5-6 -5 5 -5 3 -5 3 -5 5 -5-7 -5 2 -5-8 -5 5 -5 21 -5-26 -5 2 -5 1 -5-5 -5 5 -5 4 -5-3 -5-2 -5 6 -5-11 -5 1 -5-1 -5-1 -5 1 -5-2 -5 3 -5 1 -5-1 -5 2 -5 4 -5-3 -5 16 -5-16 -5 1 -5 2 -5 15 -5-15 -5 16 -5-18 -5 43 -5-35 -5-8 -5 4 -5 1 -5-3 -5-2 -5 4 -5-7 -5 5 -5 0 -5-1 -5 1 -5-4 -5 31 -5-41 -5 3 -5-3 -5 7 -5 4 -5 2 -5 1 -5 9 -5 21 -5-22 -5 2 -5-3 -5 7 -5 12 -5-13 -5 9 -5-13 -5 10 -5-16 -5 18 -5-19 -5 12 -5 0 -5 13 -5-16 -5-4 -5 4 -5 1 -5 20 -5-22 -5 35 -5-37 -5 16 -5-12 -5-5 -5 10 -5 13 -5 14 -5-27 -5 18 -5-4 -5-26 -5 15 -5-2 -5-7 -5 1 -5 18 -5-16 -5 16 -5-9 -5-3 -5 5 -5 15 -5-20 -5 2 -5 16 -5-3 -5 3 -5-19 -5 15 -5-16 -5 1 -5 14 -5-7 -5-3 -5 6 -5-8 -5-1 -5-5 -5 4 -5-10 -5 24 -5-28 -5 1 -5 15 -5-8 -5 17 -5-22 -5 13 -5-11 -5 7 -5 9 -5-7 -5 15 -5-20 -5 6 -5-8 -5 14 -5-6 -5 18 -5-38 -5-6 -5 3 -5-5 -5 24 -5-25 -5 2 -5-6 -5 5 -5 9 -5-15 -5 11 -5-13 -5 6 -5 8 -5-18 -5 18 -5 14 -5-23 -5-7 -5-7 -5 3 -5 3 -5-2 -5 35 -5-53 -5-5 -5 13 -5-12 -5-15 -5-3 -5-13 -5 24 -5-6 -5-18 -5 31 -5-33 -5-6 -5-1 -5 17 -5-8 -5-13 -5-30 -5 0 -5 1 -5 14 -5-17 -5-2 -5-21 -5 18 -5-17 -5-15 -5 3 -5-4 -5 6 -5-21 -5-2 -5 2 -5 12 -5-5 -5 31 -5-3 -5 10 -5 21 -5 2 -5 20 -5 53 -5-49 -5 22 -5-5 -5 23 -5 4 -5 10 -5 9 -5 36 -5-16 -5 18 -5 7 -5 6 -5 18 -5 17 -5-5 -5 11 -5 17 -5 8 -5 5 -5 14 -5 25 -5 13 -5 20 -5 19 -5 18 -5 19 -5 24 -5 12 -5 6 -5 19 -5 5 -5 6 -5 12 -5 11 -5 21 -5 12 -5 8 -5 25 -5 6 -5 12 -5 8 -5 13 -5 14 -5 13 -5 0 -5 12 -5 10 -5 13 -5 8 -5 7 -5 0 -5 2 -5 3 -5 0 -5 1 -5 0 -5 0 -5 0 -5 0 -5 0 -5 0 -5 0 -5 0 -5 0 -5 0 -5 0 -5-1 -5 0 -5 0 -5 0 -5 0 -5 0 -5 0 -5 1 -5 0 -5 0 -5-1 -5 1 -5 0 -5 0 -5 0 -5 0 -5 0 -5-1 -5 1 -5 0 -5 0 -5 0 -5 0 -5 0 -5 0 -5 0 -5 0 -5 0 -5 0 -5 0 -5 0 -5 0 -5 0 -5 0 -5 0 -5 0 -5 0 -5 0 -5 0 -5 0 -5 0 -5 0 -5 0 -5 0 -5 0 -5 0 -5 0 -5 0 -5 0 -5 0 -5 0 -5 0 -5 0 -5 0 -5 0 -5 0 -5 0 -5 0 -5 0 -5 0 -5 0 -5 0 -5 0 -5 0 -5 0 -5 0 -5 0 -5 0 -5 0 -5 0 -5 0 -5 0 -5 0 -5 0 -5 0 -5 0 -5 0 -5 0 -5 0 -5 0 -5 0 -5 0 -5 1 -5-1 -5 0 -5 0 -5 0 -5 0z"/>
<path transform="scale(0.1)" vector-effect="non-scaling-stroke" fill="#e6df62" stroke="#e6df62" stroke-width="0.5" d="M3753 1521l5 0 5 1 5-1 5 0 5 0 5 1 5 0 5 0 5 0 5-1 5 0 5 0 5 1 5-1 5 0 5 0 5 0 5 0 5 0 5 0 5 0 5 0 5 0 5 0 5 0 5 0 5 0 5 0 5 0 5 0 5 0 5 0 5 0 5 0 5 0 5 0 5 0 5 0 5 0 5 0 5 0 5 0 5-1 5 1 5 0 5 0 5 0 5-1 5 1 5 0 5 0 5 0 5 0 5-1 5 0 5 0 5 0 5 0 5 1 5-1 5 0 5 0 5 0 5 0 5 0 5 0 5 0 5-1 5 1 5 0 5 0 5-1 5 1 5 0 5 0 5 0 5-1 5 1 5 0 5-1 5 1 5 0 5 0 5-1 5 1 5-1 5 1 5-2 5 1 5 1 5 0 5 0 5-1 5 0 5 1 5-1 5 1 5-1 5 0 5 1 5 0 5-1 5 0 5 0 5 0 5 1 5 0 5-1 5 1 5 0 5 0 5 0 5-1 5 0 5 1 5-1 5-1 5-12 5-12 5-10 5-13 5-15 5-15 5-19 5-15 5-5 5-11 5-26 5-6 5-6 5-15 5-28 5 6 5-13 5-12 5-18 5-8 5-15 5-27 5-5 5-48 5 12 5-19 5-20 5-15 5-13 5-12 5-16 5-51 5 30 5-26 5-1 5-56 5 23 5-13 5-23 5 0 5-17 5-29 5 7 5-21 5 0 5-12 5-22 5-10 5-11 5-17 5-19 5-22 5-8 5-45 5 4 5-7 5-25 5-3 5-14 5-1 5-9 5-2 5-9 5-9 5-40 5 15 5-3 5-34 5 10 5 15 5-22 5 3 5-3 5-32 5 20 5-5 5-9 5 11 5-8 5-47 5 34 5 11 5 12 5 5 5-48 5 4 5 25 5-20 5 2 5 14 5 0 5-25 5-27 5 34 5-1 5-20 5 24 5 6 5-11 5-25 5 33 5 3 5-71 5 56 5 28 5-47 5 21 5-13 5 29 5 13 5 2 5-5 5-13 5 17 5-6 5-9 5-42 5 60 5-15 5-9 5 19 5-8 5 3 5 28 5-21 5 3 5 24 5-20 5 20 5-18 5-29 5 1 5 15 5 6 5-15 5 18 5 9 5-19 5 24 5-17 5 3 5 24 5-5 5 7 5-39 5 13 5 19 5-1 5-25 5-1 5 17 5-11 5 3 5 2 5 0 5-44 5 11 5-73 5 73 5 0 5 22 5-3 5 9 5-3 5-23 5 23 5-27 5-16 5 27 5 1 5-12 5 22 5-47 5 39 5-11 5 13 5-11 5-39 5 26 5-10 5 2 5 22 5-43 5-3 5 40 5-22 5 13 5 2 5 0 5 8 5-58 5 39 5 13 5-5 5-43 5 4 5 38 5-51 5 50 5-36 5 16 5 2 5 14 5 6 5 4 5-50 5 37 5 11 5 18 5-4 5 6 5-26 5 19 5 1 5 1 5-3 5-53 5 45 5-6 5 20 5-3 5 8 5-3 5-3 5-43 5 47 5 6 5 2 5 6 5 2 5 1 5-6 5-5 5-3 5 14 5-3 5-1 5 0 5-1 5-5 5 3 5-9 5 28 5-16 5 23 5-27 5 29 5-23 5 18 5-21 5 26 5-1 5-18 5 10 5 0 5-39 5 35 5-3 5 2 5-1L5638 758l-5-26 -5 21 -5-8 -5 6 -5 0 -5 5 -5-14 -5 2 -5-1 -5 7 -5 33 -5-37 -5 19 -5-18 -5 16 -5 38 -5 30 -5-102 -5 34 -5-13 -5-1 -5-14 -5-6 -5-2 -5 1 -5 9 -5 17 -5-13 -5-10 -5 0 -5 13 -5-16 -5 7 -5 8 -5-11 -5 19 -5-31 -5 25 -5-33 -5-1 -5 4 -5 0 -5-1 -5-6 -5 0 -5 9 -5-4 -5 2 -5 10 -5-4 -5-6 -5-4 -5-2 -5-2 -5 18 -5-17 -5 0 -5 2 -5-17 -5 10 -5-4 -5 2 -5 2 -5 13 -5 9 -5-8 -5 21 -5 9 -5-31 -5 12 -5 12 -5-4 -5-17 -5 10 -5-6 -5 52 -5-63 -5 9 -5 33 -5 1 -5-29 -5 26 -5-6 -5-11 -5 49 -5-37 -5-9 -5 3 -5 3 -5-8 -5 44 -5-26 -5-6 -5 131 -5-131 -5 17 -5-12 -5 33 -5-34 -5 94 -5-66 -5 4 -5 14 -5 3 -5-32 -5-9 -5 13 -5 14 -5 0 -5-2 -5-7 -5 31 -5-14 -5 2 -5 9 -5-23 -5 7 -5 33 -5-44 -5 23 -5-17 -5-2 -5 16 -5 0 -5-34 -5 6 -5 0 -5-2 -5 25 -5-9 -5 12 -5-4 -5-11 -5 5 -5 1 -5 7 -5-10 -5 4 -5-17 -5-8 -5 2 -5 29 -5-15 -5-28 -5 69 -5-55 -5 37 -5-32 -5 15 -5-12 -5-10 -5-4 -5 26 -5 1 -5-18 -5 28 -5-31 -5-21 -5-4 -5 12 -5-17 -5 2 -5 1 -5 2 -5-12 -5 18 -5-3 -5 42 -5-47 -5 8 -5-3 -5 9 -5-10 -5 40 -5-38 -5 32 -5-5 -5-12 -5-2 -5-14 -5 3 -5-3 -5 22 -5 1 -5-5 -5 9 -5-23 -5 22 -5-24 -5 4 -5 14 -5-11 -5 35 -5-26 -5 14 -5 7 -5 15 -5-3 -5 17 -5 14 -5-4 -5 11 -5 2 -5 19 -5 5 -5 17 -5 21 -5-3 -5 19 -5 27 -5 31 -5-15 -5 34 -5-3 -5 18 -5-6 -5 22 -5 2 -5 25 -5 8 -5 13 -5-7 -5 22 -5 24 -5 15 -5 23 -5 9 -5 12 -5 9 -5 32 -5 11 -5 2 -5 20 -5 8 -5 17 -5 13 -5 15 -5 36 -5-13 -5 26 -5 6 -5 11 -5 21 -5 5 -5 9 -5 23 -5 2 -5 17 -5 7 -5 23 -5 14 -5 14 -5 10 -5 21 -5-1 -5 1 -5-4 -5-1 -5 3 -5-1 -5-1 -5 0 -5 0 -5 1 -5-1 -5 0 -5 0 -5 1 -5-1 -5 0 -5 0 -5 0 -5 0 -5 0 -5 0 -5 0 -5 0 -5 0 -5 0 -5 0 -5 0 -5 0 -5 0 -5 0 -5 0 -5 1 -5 0 -5-1 -5 0 -5 0 -5 0 -5 0 -5 1 -5-1 -5 1 -5 0 -5-1 -5 0 -5 0 -5 0 -5 0 -5 0 -5 0 -5 0 -5 0 -5 0 -5 1 -5-1 -5 1 -5 0 -5 0 -5 0 -5 0 -5 0 -5 0 -5 0 -5 0 -5 0 -5 0 -5 0 -5 0 -5 0 -5 0 -5 0 -5 0 -5 0 -5 0 -5 0 -5 1 -5-1 -5 1 -5 0 -5 0 -5-1 -5 1 -5 0 -5 0 -5 0 -5 0 -5 0 -5 0 -5 1 -5-1 -5 0 -5 0 -5 0 -5-1 -5 1 -5 0 -5 0 -5 0 -5 0 -5 0 -5 0 -5 0 -5 0 -5 0 -5 0 -5 0 -5 0 -5 0 -5 0 -5 0 -5 0 -5 0 -5 1 -5-1 -5 0 -5 1 -5-1 -5 1 -5-1 -5 0 -5 0 -5 1 -5 0 -5-1z"/>
</g>
<rect x="375.30" y="5.40" width="188.50" height="151.90" fill="none" stroke="#484848" stroke-width="0.9"/>
<path d="M375.30 157.30v-3.0 M391.01 157.30v-1.6 M406.72 157.30v-3.0 M422.43 157.30v-1.6 M438.13 157.30v-3.0 M453.84 157.30v-1.6 M469.55 157.30v-3.0 M485.26 157.30v-1.6 M500.97 157.30v-3.0 M516.67 157.30v-1.6 M532.38 157.30v-3.0 M548.09 157.30v-1.6 M563.80 157.30v-3.0 M375.30 157.30h3.0 M375.30 137.70h1.6 M375.30 118.10h3.0 M375.30 98.50h1.6 M375.30 78.90h3.0 M375.30 59.30h1.6 M375.30 39.70h3.0 M375.30 20.10h1.6" stroke="#484848" stroke-width="0.9" fill="none"/>
<g font-family='"Liberation Serif", serif' fill="#1a1a1a" stroke="#1a1a1a" stroke-width="0.2"><text transform="translate(375.30,167.60) scale(0.84,1)" font-size="10.35" text-anchor="middle" >0</text><text transform="translate(406.72,167.60) scale(0.84,1)" font-size="10.35" text-anchor="middle" >50</text><text transform="translate(438.13,167.60) scale(0.84,1)" font-size="10.35" text-anchor="middle" >100</text><text transform="translate(469.55,167.60) scale(0.84,1)" font-size="10.35" text-anchor="middle" >150</text><text transform="translate(500.97,167.60) scale(0.84,1)" font-size="10.35" text-anchor="middle" >200</text><text transform="translate(532.38,167.60) scale(0.84,1)" font-size="10.35" text-anchor="middle" >250</text><text transform="translate(563.80,167.60) scale(0.84,1)" font-size="10.35" text-anchor="middle" >300</text><text transform="translate(371.70,160.30) scale(0.84,1)" font-size="10.35" text-anchor="end" >-5</text><text transform="translate(371.70,121.10) scale(0.84,1)" font-size="10.35" text-anchor="end" >35</text><text transform="translate(371.70,81.90) scale(0.84,1)" font-size="10.35" text-anchor="end" >75</text><text transform="translate(371.70,42.70) scale(0.84,1)" font-size="10.35" text-anchor="end" >115</text><text transform="translate(469.55,182.30) scale(0.84,1)" font-size="10.35" text-anchor="middle" >t (ps)</text><text x="0" y="0" font-size="8.3" text-anchor="middle" transform="translate(354.60,82.10) rotate(-90) scale(1.06,1)">Population of fragments</text><text transform="translate(358.70,17.20) scale(0.84,1)" font-size="10.35" text-anchor="middle" >(b)</text><text transform="translate(381.00,15.80) scale(0.84,1)" font-size="10.35" text-anchor="start" >3000K</text><path d="M419.26 15.20h18.7" stroke="#7b7b7b" stroke-width="0.9"/><text transform="translate(440.76,18.90) scale(0.84,1)" font-size="10.35"><tspan y="0">C</tspan><tspan font-size="6.67" y="2.2">2</tspan><tspan y="0">H</tspan><tspan font-size="6.67" y="2.2">4</tspan><tspan y="0">N</tspan><tspan font-size="6.67" y="2.2">4</tspan><tspan y="0">O</tspan><tspan font-size="6.67" y="2.2">4</tspan></text><path d="M479.23 15.20h18.7" stroke="#f86cc8" stroke-width="0.9"/><text transform="translate(500.73,18.90) scale(0.84,1)" font-size="10.35"><tspan y="0">NO</tspan><tspan font-size="6.67" y="2.2">2</tspan></text><path d="M518.06 15.20h18.7" stroke="#bfef8c" stroke-width="0.9"/><text transform="translate(539.56,18.90) scale(0.84,1)" font-size="10.35"><tspan y="0">NO</tspan></text><path d="M419.26 28.10h18.7" stroke="#3eb2f2" stroke-width="0.9"/><text transform="translate(440.76,31.80) scale(0.84,1)" font-size="10.35"><tspan y="0">CO</tspan><tspan font-size="6.67" y="2.2">2</tspan></text><path d="M479.23 28.10h18.7" stroke="#3f5fe6" stroke-width="0.9"/><text transform="translate(500.73,31.80) scale(0.84,1)" font-size="10.35"><tspan y="0">CO</tspan></text><path d="M518.06 28.10h18.7" stroke="#d52cf0" stroke-width="0.9"/><text transform="translate(539.56,31.80) scale(0.84,1)" font-size="10.35"><tspan y="0">H</tspan><tspan font-size="6.67" y="2.2">2</tspan><tspan y="0">O</tspan></text><path d="M419.26 40.70h18.7" stroke="#e6df62" stroke-width="0.9"/><text transform="translate(440.76,44.40) scale(0.84,1)" font-size="10.35"><tspan y="0">N</tspan><tspan font-size="6.67" y="2.2">2</tspan></text><path d="M479.23 40.70h18.7" stroke="#acb5f4" stroke-width="0.9"/><text transform="translate(500.73,44.40) scale(0.84,1)" font-size="10.35"><tspan y="0">H</tspan><tspan font-size="6.67" y="2.2">2</tspan></text><path d="M518.06 40.70h18.7" stroke="#c3f09a" stroke-width="0.9"/><text transform="translate(539.56,44.40) scale(0.84,1)" font-size="10.35"><tspan y="0">NH</tspan><tspan font-size="6.67" y="2.2">3</tspan></text><path d="M419.26 53.50h18.7" stroke="#f8d4ae" stroke-width="0.9"/><text transform="translate(440.76,57.20) scale(0.84,1)" font-size="10.35"><tspan y="0">HNCO</tspan></text></g>
<clipPath id="cc"><rect x="28.30" y="193.50" width="189.30" height="151.70"/></clipPath>
<g clip-path="url(#cc)">
<path transform="scale(0.1)" vector-effect="non-scaling-stroke" fill="#7b7b7b" stroke="#7b7b7b" stroke-width="0.5" d="M283 2781l5-2 5 2 5-2 5 2 5-2 5-6 5 3 5-2 5 3 5 0 5 4 5-3 5 2 5-3 5-2 5 0 5 2 5 0 5 1 5-3 5 2 5-1 5 4 5-3 5 0 5 5 5-1 5-3 5 0 5 1 5-2 5 1 5-3 5 1 5-3 5 2 5 0 5-1 5 3 5 0 5-3 5 0 5 0 5 2 5 3 5 0 5-4 5 4 5 0 5-6 5-2 5 11 5-7 5-1 5 10 5 6 5-5 5 7 5 4 5-4 5-16 5 1 5 17 5-3 5 12 5 3 5-9 5-3 5-24 5 36 5-4 5 11 5 4 5 8 5-23 5 18 5-42 5 30 5 9 5-32 5-10 5 80 5-8 5-8 5 23 5 55 5-23 5-10 5 66 5 41 5 16 5-2 5 63 5 28 4 0 5 37 5-27 5 63 5-7 5 57 5 14 5-15 5 25 5 25 5-20 5 36 5 18 5 17 5 8 5 11 5 6 5 17 5 25 5 11 5 1 5-1 5 0 5 1 5 0 5 0 5-1 5-1 5 2 5 0 5-2 5 2 5 0 5 0 5 0 5 0 5 0 5 0 5 0 5 0 5 0 5 0 5-1 5 1 5-1 5 1 5 0 5 0 5 0 5 0 5 0 5 0 5 0 5 0 5-1 5 1 5-1 5 0 5 0 5 1 5 0 5-2 5 2 5 0 5 0 5 0 5 0 5 0 5 0 5 0 5 0 5 0 5 0 5 0 5 0 5 0 5-1 5 1 5-1 5 1 5 0 5-1 5 1 5 0 5 0 5 0 5 0 5-1 5 1 5 0 5 0 5-1 5 1 5 0 5 0 5 0 5-1 5 1 5 0 5-1 5 1 5 0 5 0 5 0 5-1 5 0 5 1 5 0 5 0 5 0 5 0 5-1 5 1 5-1 5 1 5-1 5 1 5 0 5 0 5 0 5 0 5 0 5 0 5 0 5 0 5 0 5 0 5-1 5 1 5 0 5 0 5 0 5-1 5 1 5 0 5 0 5 0 5 0 5 0 5 0 5 0 5 0 5-1 5 1 5-1 5 1 5-2 5 2 5-1 5 1 5-1 5 0 5 1 5 0 5 0 5-1 5 1 5-1 5 1 5-1 5 1 5-1 5 1 5-1 5 0 5 1 5 0 5-1 5 1 5 0 5 0 5 0 5 0 5-1 5 0 5 0 5 1 5 0 5 0 5 0 5-1 5 1 5 0 5 0 5-1 5 0 5 1 5-2 5 1 5 0 4 0 5 1 5-1 5-1 5 1 5 0 5 0 5 1 5 0 5-1 5 0 5 0 5 1 5 0 5 0 5 0 5 0 5 0 5 0 5-1 5 1 5 0 5 0 5 0 5 0 5-3 5 3 5 0 5 0 5 0 5 0 5-1 5 1 5 0 5 0 5 0 5 0 5-1 5 0 5 0 5 1 5 0 5 0 5 0 5 0 5 0 5-1 5 1 5 0 5 0 5 0 5 0 5 0 5 0 5-1 5 0 5 1 5 0 5-1 5 1 5 0 5-1 5 1 5 0 5 0 5 0 5-1 5 1 5 0 5-1 5 1 5 0 5 0 5-1 5 1 5 0 5 0 5 0 5-1 5 0 5 0 5 1 5 0 5 0 5 0 5 0 5-1 5 0 5 0 5 0 5 1 5 0 5-1 5 0 5 0L2176 3402l-5 1 -5-1 -5 0 -5 0 -5 1 -5 0 -5 2 -5-3 -5 0 -5 0 -5 0 -5 0 -5 2 -5 0 -5 0 -5-1 -5 0 -5 0 -5 0 -5 0 -5 0 -5 1 -5-1 -5-1 -5 2 -5 0 -5-1 -5 0 -5 0 -5 0 -5-1 -5 0 -5 3 -5-2 -5 0 -5 1 -5 0 -5-1 -5 0 -5-1 -5 0 -5 1 -5 0 -5 1 -5 0 -5 0 -5-1 -5-1 -5 0 -5 1 -5 0 -5 0 -5 0 -5 0 -5 1 -5-1 -5-1 -5 3 -5 0 -5-1 -5-1 -5 0 -5 0 -5 0 -5 0 -5 0 -5 1 -5-1 -5 1 -5 0 -5-1 -5 0 -5 0 -5 0 -5 0 -5 0 -5 0 -5 0 -5 0 -5 0 -5 0 -5 0 -5 0 -5-1 -5 0 -5 1 -5 0 -5 0 -5 0 -5 1 -5-1 -5 1 -5-2 -5 1 -4-1 -5 0 -5 0 -5 2 -5-2 -5 1 -5 0 -5 0 -5-1 -5 1 -5 1 -5-1 -5 2 -5-2 -5 0 -5-1 -5 1 -5 0 -5 0 -5 0 -5 0 -5 0 -5 1 -5-1 -5 0 -5 0 -5 0 -5 0 -5 0 -5-1 -5 0 -5 0 -5 1 -5 0 -5 1 -5-1 -5-1 -5 1 -5 0 -5 0 -5 0 -5 0 -5 0 -5 2 -5-2 -5 0 -5 0 -5 0 -5 0 -5 0 -5 0 -5 1 -5-1 -5 0 -5 0 -5 0 -5 0 -5 0 -5 0 -5 1 -5 0 -5 0 -5-1 -5 0 -5 1 -5-1 -5 0 -5 1 -5-1 -5 2 -5-2 -5 0 -5 0 -5 0 -5 0 -5 0 -5-1 -5 1 -5 0 -5-1 -5 2 -5 0 -5-1 -5-1 -5 1 -5 0 -5-1 -5 2 -5 0 -5 0 -5-1 -5 2 -5-1 -5-1 -5 1 -5-1 -5 1 -5-2 -5 2 -5 1 -5-1 -5-1 -5 0 -5 0 -5 0 -5-1 -5 2 -5-1 -5-1 -5 1 -5 0 -5 0 -5 0 -5 0 -5 1 -5-1 -5 1 -5-1 -5 0 -5 1 -5-1 -5-1 -5 1 -5 0 -5 0 -5-1 -5 1 -5 1 -5 0 -5-1 -5 0 -5 0 -5 0 -5 0 -5 0 -5-1 -5 1 -5 1 -5-1 -5 1 -5-1 -5 0 -5 0 -5 1 -5 0 -5 0 -5 1 -5-1 -5-1 -5 0 -5 0 -5 0 -5 0 -5 0 -5 0 -5 1 -5-1 -5 0 -5 0 -5 0 -5 0 -5 0 -5-1 -5 1 -5 2 -5-2 -5 0 -5 0 -5 2 -5-2 -5 0 -5-1 -5-1 -5 0 -5-1 -5 5 -5 0 -5-9 -5 9 -5-15 -5-8 -5-5 -5-8 -5-5 -5-13 -5-16 -5 70 -5-76 -5-19 -5-29 -4-4 -5-12 -5 15 -5-53 -5-25 -5-18 -5 19 -5-46 -5 21 -5-38 -5-39 -5 3 -5 45 -5-79 -5-17 -5 43 -5-44 -5-25 -5 30 -5-39 -5-4 -5-15 -5 18 -5-33 -5-3 -5-14 -5 3 -5 18 -5-21 -5-24 -5 14 -5-13 -5-14 -5-7 -5 22 -5-32 -5 44 -5-22 -5-34 -5 0 -5-2 -5 30 -5-38 -5 3 -5 7 -5-2 -5-12 -5-6 -5 10 -5-8 -5 4 -5 6 -5-14 -5 8 -5-5 -5 2 -5-8 -5 3 -5 2 -5-10 -5-2 -5 26 -5-14 -5 27 -5-26 -5-13 -5 2 -5-2 -5 0 -5 0 -5-2 -5-5 -5 20 -5-5 -5 1 -5-20 -5 12 -5-11 -5 6 -5 27 -5-23 -5-12 -5 2 -5 9 -5 6 -5-20 -5 17 -5 13 -5-4 -5-27 -5 6 -5-2 -5-1 -5-6 -5 0z"/>
<path transform="scale(0.1)" vector-effect="non-scaling-stroke" fill="#f86cc8" stroke="#f86cc8" stroke-width="0.5" d="M283 3393l5-2 5 1 5-7 5 5 5 2 5-3 5 3 5-5 5 4 5-2 5 1 5-1 5-1 5-1 5-5 5 7 5-2 5 1 5-6 5 0 5 7 5-8 5 7 5 0 5-1 5-6 5 3 5 2 5-2 5-2 5-5 5 7 5 2 5-6 5-1 5-1 5 2 5 4 5-1 5-2 5 1 5 1 5-3 5-2 5-2 5 6 5-7 5-5 5 9 5-4 5-2 5 10 5-3 5 3 5-5 5-7 5-5 5 16 5-17 5 12 5 2 5-2 5-3 5-1 5-21 5 29 5-13 5 13 5-1 5-10 5 3 5 8 5-6 5-24 5 21 5 4 5-6 5-1 5 8 5-5 5 1 5-19 5 15 5 9 5 2 5-12 5 1 5 12 5-8 5 11 5-3 5 4 5 2 5 0 4 2 5 1 5-2 5 2 5 1 5 2 5-3 5 3 5 0 5-1 5-4 5 1 5-2 5 3 5-7 5 9 5-1 5-1 5 3 5-8 5 4 5-5 5-8 5 17 5-5 5 4 5 1 5-1 5-4 5 5 5-1 5-2 5 1 5-5 5-1 5 0 5 2 5 5 5 1 5 0 5-1 5-1 5 3 5 0 5-3 5 0 5 0 5-1 5 0 5 0 5-4 5-1 5 6 5-8 5 8 5 2 5-2 5-1 5-9 5 4 5 6 5-2 5 3 5-2 5-7 5 10 5-2 5 2 5-15 5 15 5-4 5 3 5 1 5 0 5 0 5 0 5-4 5 4 5 0 5 0 5-2 5 2 5 0 5-1 5-4 5 4 5-4 5 3 5 0 5 0 5 0 5-2 5 5 5-3 5 3 5 0 5-1 5 1 5-3 5 1 5 1 5-7 5 4 5 0 5 3 5 1 5-5 5 3 5-7 5 7 5-3 5 1 5 3 5-1 5-3 5 3 5 0 5-3 5 5 5 0 5-2 5 2 5-7 5 3 5 0 5 4 5-2 5 2 5 0 5-2 5-1 5 0 5 2 5-3 5 1 5-4 5-2 5 9 5 0 5-1 5-2 5 2 5-5 5 6 5 1 5 0 5-8 5 6 5 2 5 0 5-7 5 2 5 3 5 3 5 0 5-3 5 3 5-2 5 0 5 3 5-2 5-1 5 2 5 0 5 1 5-1 5-2 5 3 5-1 5-3 5 4 5-1 5-4 5 5 5-4 5 2 5 2 5 1 5-1 5 1 5-1 5 1 5-2 5 2 5-2 5 1 5 1 5-4 5 3 5-1 4-1 5 1 5-2 5 4 5 1 5-2 5-1 5 0 5 3 5-2 5 1 5 0 5 1 5-2 5 1 5-1 5 0 5-1 5 2 5 0 5 0 5 0 5-1 5 0 5-2 5 3 5 0 5 0 5 1 5-1 5 0 5 0 5-2 5 1 5 1 5 1 5 0 5 0 5 0 5 0 5-5 5 5 5 0 5-1 5 1 5 0 5 1 5-2 5 0 5-1 5-4 5 5 5 1 5-4 5 3 5 1 5 0 5 0 5-3 5 3 5-1 5 0 5 0 5 0 5-3 5 4 5-1 5-1 5 2 5 0 5 0 5 0 5-3 5 0 5 3 5 1 5 0 5 0 5 0 5-2 5 2 5-1 5 1 5 0 5-2 5-1 5 3 5-1 5-2 5 0 5 3 5-1 5-1 5 1 5 1L2176 3404l-5-2 -5 1 -5-1 -5 1 -5 1 -5-1 -5 0 -5 2 -5-1 -5 1 -5-2 -5 0 -5 0 -5 0 -5 0 -5 0 -5 2 -5-2 -5 2 -5-2 -5 2 -5 0 -5-1 -5 0 -5-1 -5 0 -5 2 -5-2 -5 2 -5-3 -5 0 -5 1 -5-1 -5 1 -5-1 -5 3 -5-1 -5-2 -5 1 -5 0 -5-1 -5 2 -5 0 -5-2 -5 0 -5 1 -5 2 -5-2 -5 1 -5 0 -5-1 -5 0 -5 0 -5 2 -5-3 -5 0 -5 2 -5-1 -5 2 -5-1 -5-1 -5 0 -5 0 -5 0 -5 1 -5-2 -5 0 -5 0 -5 0 -5 0 -5 0 -5 0 -5 0 -5 0 -5 0 -5 0 -5 3 -5-2 -5 0 -5 0 -5 0 -5 1 -5 0 -5-2 -5 1 -5 0 -5-1 -5 3 -5-2 -5 2 -5 0 -5-3 -5 2 -5 1 -4-2 -5-1 -5 0 -5 1 -5 2 -5 0 -5-3 -5 1 -5 0 -5-2 -5 1 -5 1 -5-1 -5 0 -5 0 -5 3 -5-3 -5 2 -5-2 -5 1 -5-1 -5 2 -5-1 -5-2 -5 0 -5 1 -5 3 -5-3 -5-1 -5 0 -5 4 -5-2 -5-2 -5 3 -5 1 -5 0 -5-5 -5 0 -5 1 -5 1 -5-1 -5 1 -5-1 -5-2 -5 3 -5 3 -5-4 -5-1 -5 1 -5-1 -5-1 -5 4 -5-4 -5 0 -5-1 -5 2 -5 0 -5 1 -5-2 -5 2 -5 0 -5-3 -5 0 -5 1 -5 4 -5-2 -5-2 -5-1 -5 1 -5 0 -5 0 -5 0 -5 0 -5 1 -5-2 -5 0 -5 0 -5 0 -5-1 -5 1 -5 0 -5 1 -5 6 -5-5 -5-1 -5 6 -5-4 -5-2 -5 1 -5 1 -5-1 -5 0 -5 0 -5 0 -5-1 -5 0 -5 1 -5 3 -5-3 -5-1 -5 0 -5 0 -5-1 -5-1 -5 1 -5-1 -5 1 -5 7 -5 0 -5-6 -5 6 -5-3 -5 1 -5 0 -5-2 -5-1 -5 0 -5 0 -5 1 -5-1 -5-2 -5 1 -5 3 -5 3 -5-4 -5 4 -5-5 -5 3 -5-3 -5-2 -5 3 -5 3 -5-6 -5 1 -5 2 -5-1 -5 1 -5-1 -5-1 -5 0 -5 1 -5 1 -5 2 -5-4 -5 0 -5 4 -5-4 -5 0 -5 3 -5-3 -5 6 -5-6 -5 0 -5 3 -5 3 -5-4 -5 2 -5-2 -5-3 -5 3 -5 4 -5-2 -5-3 -5-1 -5 2 -5 4 -5-2 -5-3 -5 0 -5 5 -5-4 -5 2 -5 0 -5-2 -5 0 -5-1 -5 1 -5 1 -5 3 -5 0 -5-5 -5 5 -5-1 -5-5 -5 4 -5 2 -5-5 -5 1 -5-3 -5 4 -4-5 -5 5 -5-5 -5 4 -5 4 -5-7 -5 5 -5-2 -5-5 -5-4 -5 7 -5-3 -5-3 -5 1 -5 2 -5-5 -5 14 -5-6 -5-10 -5 16 -5-13 -5 13 -5-11 -5 11 -5 0 -5 0 -5-10 -5-2 -5 12 -5-12 -5-1 -5 13 -5-15 -5 6 -5 4 -5-9 -5 1 -5 2 -5-1 -5 0 -5-1 -5 9 -5 0 -5 0 -5-3 -5-5 -5 12 -5 0 -5-9 -5 1 -5-4 -5 8 -5-7 -5 1 -5 7 -5-3 -5-5 -5 4 -5-6 -5 1 -5 1 -5 1 -5-1 -5-1 -5-2 -5 3 -5 5 -5-5 -5 2 -5 1 -5-2 -5 6 -5 4 -5-8 -5 3 -5-5 -5 2 -5 0 -5 0 -5 5 -5-2 -5-1 -5-3 -5 4 -5 5 -5-7 -5 3 -5-3 -5-1 -5 2 -5 0 -5-1 -5 2 -5-2 -5 5z"/>
<path transform="scale(0.1)" vector-effect="non-scaling-stroke" fill="#3eb2f2" stroke="#3eb2f2" stroke-width="0.5" d="M283 3400l5 0 5 0 5 0 5 0 5 0 5 0 5 0 5 0 5 0 5 0 5 0 5 0 5 0 5 0 5 0 5 0 5 0 5 0 5 0 5 0 5 0 5 0 5-3 5 3 5 0 5-1 5 0 5 1 5-1 5 0 5 0 5 1 5-1 5 0 5 0 5 0 5 0 5 0 5 0 5 0 5 0 5 0 5 0 5 0 5 0 5 0 5-1 5 1 5 1 5 0 5 0 5 0 5 0 5 0 5 0 5 0 5 0 5 0 5 0 5 0 5 0 5 0 5 0 5-1 5 0 5 0 5-1 5 1 5 0 5 0 5 0 5 0 5 0 5 0 5 0 5 0 5-1 5 1 5 0 5 0 5 0 5 0 5 0 5 0 5 0 5 0 5 0 5 0 5-1 5 1 5 0 5 0 5 0 5 0 4 0 5 0 5 0 5-1 5 1 5-1 5 0 5 1 5-1 5 0 5 0 5 0 5 0 5 0 5 0 5 0 5 0 5-1 5 1 5-1 5 0 5 1 5 0 5 0 5 0 5 0 5 0 5 0 5 0 5 0 5 0 5 0 5 0 5 0 5 0 5 0 5 0 5 0 5 0 5 0 5-1 5 1 5 0 5 0 5 0 5 0 5 0 5-6 5-12 5-13 5-19 5-11 5-20 5-9 5-23 5-29 5 21 5-8 5-8 5-22 5 6 5-7 5-19 5 2 5-18 5 2 5-34 5 9 5-15 5 5 5 0 5-19 5-11 5 14 5-11 5-3 5-4 5-13 5-37 5 3 5-13 5 0 5-3 5-8 5-27 5 8 5-3 5-34 5 30 5-60 5 11 5 36 5 0 5 3 5 4 5-21 5 1 5 20 5 3 5 6 5-1 5-15 5 5 5 12 5 8 5 2 5 4 5 5 5-16 5 9 5-5 5 10 5-20 5-9 5 25 5-64 5 56 5 10 5 1 5-3 5 2 5-49 5 36 5 2 5-13 5-1 5 22 5 1 5-1 5-9 5 3 5-6 5-8 5 8 5-5 5 4 5-33 5 29 5-12 5 5 5-7 5 5 5 0 5-61 5 60 5-25 5-12 5 16 5-10 5 24 5-7 5-36 5 42 5-27 5 3 5 16 5-14 5-14 5 25 5-76 5 67 5-14 5 8 5-4 5-21 5 23 5-25 5 22 5 7 5 4 5-24 5 28 5-5 5 0 5 10 5-2 5 6 5-20 5-60 5 62 5 8 5-3 5 5 5 0 5-28 5 14 5 10 5 7 5 6 5-12 4 11 5-19 5 13 5-28 5 4 5 22 5-5 5 0 5-18 5 11 5 14 5-36 5 37 5 11 5-18 5 1 5 14 5-34 5 39 5-1 5-14 5 15 5-38 5 40 5 12 5-8 5 10 5-12 5-8 5 5 5 8 5 3 5-16 5 15 5-13 5-3 5-20 5 11 5 6 5 3 5-40 5 40 5 9 5 5 5-21 5-35 5 41 5-2 5-9 5 3 5-29 5 13 5-10 5 25 5 7 5-3 5-2 5 3 5-1 5 1 5 5 5-20 5 26 5-6 5-45 5 43 5-7 5-9 5 20 5 2 5-7 5-13 5-1 5-59 5 27 5 11 5-15 5 41 5-21 5-27 5 12 5 29 5-5 5 15 5 5 5-1 5 2 5 7 5-3 5 2 5-6 5 5 5-5 5-8 5-2L2176 3141l-5 1 -5-4 -5 24 -5-19 -5 11 -5-2 -5 5 -5 2 -5-11 -5-1 -5-3 -5-25 -5 23 -5 8 -5-26 -5 10 -5 13 -5 5 -5 1 -5-9 -5-22 -5 13 -5 5 -5 51 -5-38 -5-8 -5-3 -5-4 -5 16 -5-18 -5 17 -5 9 -5-19 -5 57 -5-56 -5-8 -5 9 -5-17 -5 50 -5-2 -5-37 -5 11 -5-17 -5 2 -5 9 -5-4 -5 21 -5-29 -5 49 -5-45 -5 13 -5 7 -5 40 -5-53 -5-2 -5 9 -5-3 -5-13 -5 19 -5-14 -5 9 -5 12 -5-14 -5 5 -5-6 -5 7 -5-6 -5 3 -5 4 -5 1 -5-17 -5 51 -5-41 -5-14 -5 7 -5 12 -5 2 -5-14 -5-1 -5 2 -5 6 -5-22 -5 5 -5 1 -5-5 -5-11 -5-5 -5 45 -5-27 -5-14 -5-5 -5 15 -5-2 -5 15 -4-20 -5 6 -5-5 -5-4 -5-17 -5 5 -5 29 -5-23 -5-8 -5 1 -5 27 -5-31 -5 9 -5 28 -5-2 -5-23 -5-5 -5 1 -5 3 -5-3 -5-1 -5 11 -5 3 -5 2 -5-14 -5-1 -5-2 -5 10 -5 11 -5 8 -5-25 -5 13 -5-3 -5 10 -5 5 -5 2 -5-7 -5 9 -5 44 -5-34 -5-1 -5-10 -5 34 -5-29 -5 1 -5 11 -5-19 -5 6 -5 4 -5 28 -5-12 -5-5 -5-18 -5 5 -5-3 -5 15 -5-13 -5 35 -5-19 -5 15 -5-19 -5 6 -5 9 -5 22 -5 26 -5-44 -5-6 -5-3 -5 12 -5 11 -5-9 -5 5 -5-11 -5-5 -5 14 -5 5 -5-14 -5 30 -5-21 -5 1 -5-2 -5 2 -5 2 -5-4 -5-6 -5 1 -5-14 -5 29 -5-31 -5 57 -5-51 -5 4 -5-15 -5 2 -5 13 -5-6 -5-13 -5 8 -5 1 -5-1 -5 8 -5 2 -5 6 -5 0 -5 10 -5-10 -5 42 -5 28 -5-32 -5-5 -5 52 -5-26 -5 24 -5-10 -5-6 -5 14 -5 18 -5-24 -5 10 -5 8 -5-8 -5 5 -5 6 -5 7 -5 21 -5-3 -5-13 -5 6 -5 12 -5 5 -5 10 -5 14 -5 21 -5 21 -5 5 -5 6 -5-3 -5 12 -5-3 -5 4 -5 4 -5 3 -5 2 -5 2 -5 0 -5-1 -5 1 -5 0 -5 0 -5 0 -5 0 -5 0 -5 0 -5 0 -5 0 -5 1 -5-1 -5 1 -5-1 -5 0 -5 0 -5 0 -5 0 -5 0 -5 0 -5 0 -5 1 -5-2 -5 1 -5 0 -5 0 -5 0 -5 0 -5 0 -5 0 -5 0 -5 0 -5 1 -5-1 -5 0 -5 0 -5 0 -5 1 -5 0 -5 0 -5 0 -5 0 -5 0 -5 0 -5 0 -4 0 -5 0 -5 0 -5 0 -5 0 -5 0 -5-1 -5 1 -5-1 -5 0 -5 1 -5 0 -5-1 -5 1 -5 0 -5 0 -5-1 -5 0 -5 1 -5 0 -5 0 -5 0 -5 0 -5 0 -5 0 -5 0 -5 0 -5 0 -5 0 -5 0 -5 0 -5 0 -5 0 -5 0 -5 1 -5-1 -5 1 -5 0 -5-1 -5 0 -5 1 -5-1 -5 0 -5 0 -5 0 -5 0 -5 0 -5 0 -5 0 -5 0 -5 1 -5-1 -5 0 -5 0 -5 0 -5 0 -5 0 -5 1 -5-1 -5 0 -5 0 -5 0 -5 0 -5 0 -5 0 -5 0 -5 0 -5 0 -5 0 -5 0 -5 0 -5 1 -5 0 -5 0 -5 0 -5-1 -5 1 -5-1 -5 1 -5-1 -5 1 -5-1 -5 1 -5-1 -5 0 -5 1 -5 0 -5 0 -5 0 -5 0 -5 0 -5 1 -5-1 -5 0 -5 0z"/>
<path transform="scale(0.1)" vector-effect="non-scaling-stroke" fill="#acb5f4" stroke="#acb5f4" stroke-width="0.5" d="M283 3402l5-1 5 0 5 0 5-1 5 2 5-1 5 0 5-1 5 1 5 0 5 0 5-1 5 1 5-2 5 1 5 1 5 0 5-1 5 0 5 0 5 1 5 0 5 0 5 0 5 0 5 0 5 0 5-1 5 1 5 0 5-2 5-1 5 3 5-1 5 0 5 0 5 0 5-3 5 3 5 0 5 0 5-4 5 3 5 1 5 0 5 0 5 0 5 0 5 0 5 0 5-2 5 3 5-1 5 0 5-2 5 1 5 1 5 0 5 0 5 0 5-1 5 1 5 0 5-2 5 1 5 1 5-1 5-1 5 1 5-3 5 4 5-1 5-1 5 1 5 0 5 0 5 0 5-1 5 1 5-1 5 1 5 0 5-1 5 1 5-1 5 1 5 0 5-1 5-3 5 2 5 1 5 0 5-3 5 2 4 0 5 0 5 1 5 0 5 0 5 0 5 1 5 0 5 0 5 0 5-2 5 2 5-1 5 0 5 0 5-4 5 2 5 3 5-3 5-1 5 1 5 1 5 1 5-3 5 1 5 1 5-1 5-3 5 2 5 1 5-1 5 0 5 0 5 0 5 0 5 0 5 0 5-2 5 2 5-5 5 5 5 0 5-3 5 3 5 0 5-1 5 2 5-2 5 2 5-7 5 6 5-6 5 6 5 0 5 1 5-3 5 3 5-2 5 1 5-3 5 1 5 0 5-3 5 2 5-6 5 3 5-2 5 1 5-2 5 0 5-1 5-3 5 2 5-1 5-1 5-5 5 3 5-3 5-2 5 1 5 4 5-3 5-6 5 2 5 5 5 0 5 0 5-5 5 5 5-7 5 3 5 2 5-2 5 0 5-9 5 5 5 0 5-15 5 13 5 5 5-1 5-6 5-2 5 4 5-17 5-6 5 18 5-5 5 3 5-4 5 0 5-22 5 27 5-4 5 5 5-26 5 17 5 2 5 4 5 0 5-4 5 0 5-2 5-10 5 15 5-5 5 1 5-11 5-2 5-2 5 5 5-6 5 9 5-22 5-6 5-2 5 13 5-3 5-26 5 16 5 4 5-8 5-3 5 0 5-14 5 9 5-15 5-15 5 26 5-15 5 5 5-2 5-1 5-11 5 3 5-5 5-7 5-35 5 36 5-10 5 6 5-6 5-20 5 22 5-1 5-5 5-30 5-2 5 10 5-32 5 21 5 0 5 3 5 2 5-20 5-20 5 4 5 26 5 11 5-9 5-18 5 21 5 3 5-18 5 20 5-7 5 6 5-27 5 4 5-10 4 24 5-5 5 6 5 0 5-6 5 3 5-4 5 5 5 0 5-7 5 7 5-8 5 8 5-1 5 5 5-2 5-1 5 0 5-1 5 3 5-8 5 3 5-36 5 40 5-26 5 12 5 10 5-21 5 17 5 1 5 2 5 0 5 2 5-16 5 11 5 3 5-19 5 18 5 3 5-14 5 9 5 7 5-18 5-24 5 44 5-20 5-19 5 16 5 21 5-16 5 4 5 12 5-1 5-10 5 11 5-10 5 3 5 7 5-56 5 56 5-28 5 24 5 11 5-9 5-21 5 16 5-8 5 15 5-5 5 2 5 1 5-46 5 41 5-18 5 9 5-8 5 15 5-11 5 20 5-34 5 27 5-15 5 4 5 5 5 12 5-4 5-9 5 5 5-5 5 17 5-5 5-9 5 14 5 0 5 1L2176 3279l-5 12 -5 2 -5 63 -5-52 -5-17 -5-4 -5-5 -5 38 -5 7 -5-44 -5-2 -5-5 -5 13 -5 6 -5-19 -5 33 -5-37 -5 41 -5-38 -5-4 -5 14 -5-3 -5-9 -5 10 -5 0 -5 2 -5 44 -5-42 -5 7 -5-7 -5 12 -5 12 -5-31 -5 4 -5-9 -5 8 -5-6 -5 45 -5-34 -5 0 -5-8 -5 10 -5-13 -5 9 -5-5 -5 13 -5 18 -5-30 -5-4 -5-1 -5 2 -5 26 -5-25 -5 9 -5-15 -5 7 -5-7 -5 4 -5 4 -5 2 -5 1 -5 19 -5-31 -5 26 -5-21 -5-3 -5 6 -5-1 -5-8 -5 1 -5 3 -5 3 -5 34 -5-34 -5-2 -5 0 -5 6 -5 3 -5 7 -5-15 -5 5 -5-8 -5-4 -5 5 -5-4 -5 11 -5-7 -5 4 -5-9 -5 14 -5 25 -5-37 -5 10 -5 26 -4-29 -5 7 -5-10 -5 6 -5 3 -5 6 -5 10 -5-20 -5 0 -5 0 -5 1 -5 11 -5-12 -5 7 -5 3 -5-10 -5 21 -5-16 -5-5 -5 10 -5-2 -5 16 -5-9 -5 5 -5 8 -5 5 -5-4 -5 1 -5 15 -5 0 -5 0 -5-2 -5-2 -5 1 -5 15 -5 2 -5-10 -5 34 -5-25 -5 25 -5-9 -5 1 -5-6 -5 16 -5 13 -5-24 -5 1 -5 7 -5 18 -5-11 -5 5 -5 4 -5 0 -5-1 -5 10 -5-6 -5 12 -5-4 -5 5 -5 5 -5 0 -5-9 -5 4 -5 1 -5-2 -5 14 -5-13 -5 6 -5 0 -5 0 -5 4 -5-6 -5 7 -5 0 -5-6 -5 0 -5 8 -5-12 -5 2 -5 10 -5-7 -5-5 -5 4 -5-1 -5 2 -5 7 -5-7 -5 3 -5 4 -5-10 -5 1 -5 6 -5-1 -5 4 -5 0 -5-5 -5-1 -5 6 -5-6 -5 2 -5-4 -5 0 -5 2 -5-1 -5-1 -5 7 -5-7 -5 0 -5 0 -5-1 -5 3 -5 6 -5-9 -5 0 -5 2 -5 7 -5-7 -5 0 -5 1 -5 0 -5 0 -5 4 -5 2 -5-4 -5-1 -5 0 -5 1 -5 4 -5-4 -5 2 -5 2 -5-2 -5 0 -5 0 -5-1 -5 3 -5-3 -5 0 -5 0 -5 1 -5 0 -5 1 -5 0 -5-1 -5 2 -5 0 -5-3 -5 1 -5-2 -5 1 -5 0 -5 0 -5 1 -5-1 -5 0 -5 0 -5 2 -5-3 -5 4 -5 0 -5-1 -5 1 -5-3 -5 0 -5 1 -5-1 -5 3 -5-1 -5 1 -5-1 -5 0 -5 0 -5 1 -5 0 -5-1 -5 0 -5 1 -5-1 -5 1 -5-1 -5 1 -5 0 -5-1 -5 0 -5 1 -5-1 -5 0 -5 1 -5-2 -5 0 -4 2 -5 0 -5-2 -5 1 -5-1 -5 2 -5-2 -5 1 -5 0 -5 1 -5-1 -5 0 -5 0 -5 0 -5 0 -5 1 -5-1 -5 0 -5 0 -5 1 -5-1 -5 0 -5 0 -5 0 -5 0 -5 1 -5 0 -5 0 -5-1 -5 1 -5-1 -5 1 -5-1 -5 1 -5 0 -5 0 -5-1 -5 0 -5 0 -5 1 -5 0 -5 0 -5 0 -5 0 -5 0 -5 0 -5 0 -5-1 -5 0 -5 1 -5 0 -5 0 -5-1 -5 0 -5 1 -5-1 -5 1 -5 0 -5-1 -5 0 -5 0 -5 1 -5-1 -5 0 -5 1 -5 0 -5 0 -5 0 -5 0 -5-1 -5 0 -5 1 -5 0 -5-1 -5 0 -5 0 -5 0 -5 0 -5 0 -5 0 -5 0 -5 0 -5 0 -5 0 -5 1 -5 0 -5 0 -5 0 -5 0 -5 0 -5-1 -5 0 -5 1 -5 0 -5 0z"/>
<path transform="scale(0.1)" vector-effect="non-scaling-stroke" fill="#bfef8c" stroke="#bfef8c" stroke-width="0.5" d="M283 3401l5 1 5-1 5 1 5 0 5-1 5 1 5-2 5 1 5 0 5-1 5 1 5 0 5-1 5-2 5 3 5 0 5 0 5-2 5 1 5 0 5-1 5 1 5-3 5 2 5 0 5-1 5 0 5 1 5 1 5 0 5-2 5 2 5-1 5 0 5-1 5-4 5 2 5 2 5-1 5 1 5-1 5-5 5 6 5 0 5-1 5-3 5 1 5 3 5-1 5-3 5 2 5 1 5-2 5 1 5 1 5 1 5-1 5 1 5 0 5-1 5 0 5-4 5 4 5 0 5 0 5-1 5-2 5 2 5-1 5 2 5 0 5-1 5-2 5 3 5-1 5-1 5 1 5-2 5 3 5 0 5-2 5 0 5 2 5-3 5 2 5 0 5-2 5 2 5-6 5-3 5 1 5-12 5 4 5-6 4-1 5 0 5-3 5-11 5 1 5 1 5-23 5-10 5 22 5-17 5-2 5 11 5-10 5 2 5-7 5 2 5 6 5-2 5-1 5-13 5-4 5 5 5 1 5 1 5-12 5 0 5 7 5-19 5 12 5-3 5-7 5 10 5-8 5 9 5-2 5-3 5-22 5 17 5 7 5-4 5-12 5 1 5 11 5-8 5 9 5-4 5 3 5-11 5 10 5-3 5 3 5-5 5-8 5 12 5 2 5-23 5 20 5 3 5-1 5 1 5 0 5-24 5 22 5 1 5-44 5 48 5-2 5-21 5 20 5-1 5-5 5-26 5 21 5-9 5 11 5-13 5 13 5-16 5 8 5 15 5-51 5-9 5 56 5-6 5 5 5 0 5-5 5-6 5-4 5 13 5 5 5-22 5 19 5-2 5 0 5-28 5 16 5 2 5-5 5 3 5 13 5-11 5 8 5-5 5-2 5-9 5 5 5 21 5 2 5-18 5-13 5 32 5-37 5 4 5 27 5-8 5 3 5-11 5 12 5-22 5 24 5-5 5 0 5-1 5-21 5-7 5 1 5 23 5-9 5-5 5 0 5-5 5 17 5-8 5 11 5-8 5 5 5-32 5 31 5-29 5 26 5-13 5 1 5 14 5-3 5-4 5-17 5-8 5 18 5 2 5-10 5 11 5 9 5-1 5-13 5 16 5-25 5 23 5-23 5 19 5-1 5 5 5-5 5 0 5 3 5-9 5 11 5-40 5 23 5 6 5-22 5 14 5 14 5-4 5 0 5-1 5-6 5 5 5-32 5 15 5 13 5-19 5 19 5-9 5 14 5 2 5 0 5-8 5 17 5 1 4-10 5-31 5 29 5 3 5-28 5 13 5 15 5-6 5-13 5 5 5 17 5-26 5 23 5-17 5 18 5-3 5 0 5-6 5 16 5-12 5-3 5 3 5 2 5 8 5-11 5 7 5-44 5 27 5 18 5-6 5 9 5-33 5 28 5-2 5-13 5 20 5 2 5-16 5 15 5-11 5 5 5 3 5-4 5 11 5-24 5 16 5-1 5 3 5-70 5 52 5 27 5-18 5 18 5-3 5-69 5 51 5 14 5-6 5 4 5-51 5 62 5-37 5 39 5-11 5-7 5-13 5 9 5 7 5-11 5 23 5 6 5-6 5 3 5-13 5-28 5 34 5-2 5-2 5 10 5-9 5 7 5-5 5 9 5-4 5 0 5 6 5-4 5 0 5 9 5-4 5-4 5-10 5 5 5-4 5 2L2176 3337l-5 15 -5-3 -5 17 -5 17 -5-38 -5 34 -5-33 -5 0 -5 2 -5-4 -5 10 -5-1 -5 23 -5-25 -5 2 -5 2 -5-10 -5 8 -5 11 -5-10 -5-8 -5 41 -5-42 -5 60 -5-48 -5-11 -5-6 -5 15 -5 25 -5-41 -5 0 -5 8 -5-7 -5 2 -5-3 -5 30 -5-25 -5-1 -5 15 -5-10 -5-5 -5-3 -5-2 -5 21 -5-23 -5-3 -5 4 -5 4 -5-3 -5 13 -5 15 -5-7 -5-5 -5-15 -5-8 -5 13 -5-12 -5-1 -5 74 -5-77 -5 13 -5 5 -5-2 -5-11 -5 8 -5-15 -5 0 -5 7 -5-8 -5 10 -5 13 -5-20 -5 10 -5-7 -5 23 -5 1 -5-27 -5-2 -5-2 -5 18 -5-8 -5 12 -5 1 -5-15 -5-8 -5 23 -5-23 -5 6 -5 12 -5-21 -5 20 -5 10 -5-20 -5 2 -4 65 -5-71 -5 12 -5-19 -5-2 -5 27 -5-19 -5 6 -5-9 -5 4 -5 6 -5-6 -5 57 -5-57 -5-4 -5 18 -5-11 -5-2 -5 7 -5-6 -5-2 -5 32 -5 8 -5-40 -5 8 -5-3 -5-1 -5 4 -5-6 -5 7 -5 13 -5-15 -5-11 -5 12 -5-5 -5 3 -5-1 -5 10 -5-5 -5 5 -5-13 -5 24 -5 2 -5-24 -5 14 -5-5 -5-9 -5-3 -5 11 -5 0 -5 2 -5 5 -5-10 -5 25 -5-17 -5-1 -5 4 -5 3 -5 35 -5-52 -5 8 -5-2 -5 30 -5-36 -5 6 -5 2 -5-1 -5 23 -5-24 -5 7 -5 6 -5 2 -5 20 -5-22 -5 10 -5-17 -5 2 -5 5 -5-4 -5 6 -5 4 -5 2 -5 10 -5-12 -5 11 -5-8 -5-11 -5 16 -5-17 -5-7 -5 7 -5-10 -5 61 -5-48 -5-1 -5-6 -5 3 -5-4 -5 25 -5-25 -5 18 -5-20 -5 19 -5-3 -5-13 -5 32 -5-15 -5-19 -5 1 -5 20 -5 5 -5-9 -5 12 -5-30 -5 30 -5-30 -5 20 -5-16 -5 3 -5 11 -5-17 -5 3 -5 0 -5 17 -5-9 -5-8 -5 3 -5-3 -5 20 -5-18 -5 6 -5 9 -5 7 -5-3 -5-23 -5 7 -5 2 -5-10 -5 4 -5-2 -5 10 -5-10 -5 0 -5 16 -5 5 -5-22 -5 7 -5-5 -5 0 -5-3 -5 11 -5-6 -5-3 -5 3 -5 0 -5 12 -5-13 -5 2 -5 11 -5-7 -5 16 -5-10 -5-11 -5 2 -5 3 -5 15 -5-6 -5 2 -5 13 -5-10 -5 11 -5-17 -5 40 -5-38 -5 1 -5 7 -5-7 -5 41 -5-33 -5-2 -5 8 -5-3 -5 2 -5 5 -5 6 -5-6 -5 10 -5-4 -5 3 -5 0 -4 1 -5 3 -5 1 -5 3 -5 0 -5 1 -5 4 -5-2 -5 1 -5-1 -5 2 -5-1 -5 0 -5-1 -5 0 -5 2 -5-1 -5 1 -5-2 -5 0 -5 3 -5-1 -5-1 -5 0 -5 1 -5 1 -5 0 -5-3 -5 1 -5 0 -5-1 -5 0 -5 3 -5-2 -5 2 -5-2 -5 1 -5-1 -5-1 -5 1 -5-1 -5 1 -5 1 -5-1 -5 2 -5-3 -5 0 -5 0 -5 3 -5-2 -5-1 -5 0 -5 0 -5 1 -5-1 -5 1 -5 0 -5 2 -5-2 -5 0 -5 2 -5-2 -5 2 -5-1 -5 0 -5 1 -5-2 -5 1 -5-1 -5 1 -5 1 -5-1 -5 1 -5 0 -5-1 -5 1 -5-1 -5 1 -5-1 -5 1 -5 0 -5 0 -5 0 -5-1 -5 1 -5 0 -5 0 -5 0 -5 0 -5 0 -5 0 -5 0 -5 0 -5 0 -5 0z"/>
<path transform="scale(0.1)" vector-effect="non-scaling-stroke" fill="#c3f09a" stroke="#c3f09a" stroke-width="0.5" d="M283 3402l5 0 5-2 5 1 5 0 5 0 5 0 5 0 5-1 5-1 5 2 5-2 5 1 5-2 5 3 5 0 5 0 5 0 5-2 5 1 5 1 5-2 5 0 5 1 5 0 5-1 5 1 5-2 5 1 5 0 5 1 5-1 5 1 5 0 5-2 5 2 5 0 5 0 5 0 5 0 5 0 5 0 5 0 5 0 5 0 5-1 5 1 5-1 5-5 5 4 5 2 5 0 5-1 5-1 5 1 5-2 5 1 5 0 5 0 5 0 5-4 5 3 5 0 5 0 5-1 5 1 5 1 5-3 5 3 5-1 5 0 5 0 5 0 5-2 5 1 5 1 5-1 5-2 5 0 5 0 5 3 5-2 5 1 5 1 5-2 5 1 5 0 5 0 5 0 5 0 5-4 5 3 5-1 5 0 5-1 4 0 5 1 5-4 5 4 5 0 5 0 5 1 5-2 5-2 5 0 5-8 5 4 5-3 5 0 5-2 5-8 5 3 5-1 5 2 5-3 5 2 5-2 5-5 5 0 5 3 5-6 5 4 5 0 5-2 5-9 5 7 5-2 5-1 5-9 5-8 5 14 5-10 5 0 5 2 5 3 5-4 5 3 5-6 5-3 5 3 5 2 5-3 5-15 5 9 5 4 5-25 5 16 5 3 5-1 5-32 5 30 5-3 5-11 5 10 5-2 5-17 5 14 5-6 5-1 5 4 5-9 5-2 5-53 5 60 5 3 5-1 5 0 5-1 5-13 5 11 5-7 5-4 5 2 5 5 5-2 5-1 5 1 5-4 5-19 5 15 5-5 5 4 5 3 5 4 5-10 5 9 5-19 5 10 5 8 5-8 5 9 5-12 5 4 5 9 5-24 5 10 5 0 5-7 5 7 5 4 5-9 5-26 5 16 5 18 5-33 5 25 5 3 5 2 5-4 5-9 5 3 5-6 5 2 5 8 5-4 5-27 5 13 5 5 5 3 5-41 5 37 5 11 5-18 5-24 5 14 5 20 5 1 5-33 5 42 5-34 5-5 5 29 5 0 5-11 5 17 5-19 5-1 5 15 5 3 5-4 5 4 5-3 5-4 5 8 5-15 5-4 5 16 5 0 5-38 5 29 5 8 5 1 5-33 5 23 5-37 5 33 5 6 5-7 5 16 5-12 5 8 5-12 5 13 5-43 5 30 5 3 5-3 5-2 5 8 5-3 5 12 5 1 5-7 5-7 5 12 5-4 5 12 5-5 5 1 5-27 5 12 5 10 5 3 5-23 5 13 4 4 5-11 5 8 5-20 5 22 5-14 5-22 5 35 5-38 5 33 5-4 5-10 5-4 5 29 5-22 5 4 5 10 5-9 5 15 5 4 5-23 5 18 5-14 5 17 5-17 5-4 5 14 5-12 5-6 5 10 5-16 5-13 5 18 5-36 5 43 5-10 5-1 5 8 5 8 5-58 5 50 5-26 5 32 5-6 5 1 5-5 5-26 5 35 5-8 5 7 5-2 5 0 5-17 5 11 5 2 5-17 5 8 5 5 5-26 5-27 5 59 5 4 5-9 5 9 5-24 5 12 5-23 5 30 5-28 5-4 5 29 5-27 5 26 5-2 5 9 5-28 5 19 5-23 5 31 5-1 5 0 5-16 5 11 5-23 5 36 5-1 5-5 5 3 5-11 5-7 5 8 5 5 5-17 5 16 5 5L2176 3309l-5 3 -5 2 -5 9 -5-12 -5 28 -5-2 -5-9 -5-17 -5 1 -5 1 -5 3 -5 11 -5-9 -5 8 -5 38 -5-55 -5-4 -5 7 -5 1 -5-1 -5 0 -5-6 -5 6 -5-6 -5 7 -5-2 -5 4 -5 11 -5 12 -5-26 -5 26 -5-6 -5-8 -5-15 -5-1 -5-2 -5 7 -5-3 -5-5 -5 14 -5-9 -5 0 -5 3 -5-3 -5 35 -5-28 -5 7 -5-11 -5 60 -5-49 -5 6 -5 13 -5-28 -5 24 -5-10 -5 10 -5-12 -5 10 -5-7 -5-8 -5-10 -5 18 -5-17 -5 18 -5 0 -5-11 -5 4 -5 37 -5-36 -5 15 -5-9 -5 3 -5 5 -5-5 -5 6 -5 0 -5-12 -5 22 -5-4 -5-18 -5 4 -5 17 -5-16 -5 9 -5-13 -5-2 -5 15 -5-20 -5 10 -5-5 -5 6 -5-4 -5 12 -5-10 -4 14 -5-2 -5-12 -5 1 -5 32 -5-9 -5-21 -5 31 -5-31 -5 30 -5-3 -5-33 -5 2 -5 1 -5-2 -5 4 -5-9 -5 7 -5 0 -5 2 -5-6 -5 23 -5-19 -5 3 -5-1 -5 5 -5-3 -5 2 -5-11 -5 11 -5-8 -5 6 -5-8 -5 6 -5 31 -5-30 -5 5 -5 14 -5-9 -5-10 -5 25 -5-13 -5-16 -5 8 -5 13 -5-20 -5-1 -5 28 -5-20 -5-2 -5 20 -5-14 -5 1 -5-7 -5 23 -5-21 -5 2 -5 7 -5 8 -5-17 -5 9 -5-9 -5 12 -5-10 -5 18 -5-25 -5-4 -5 4 -5 15 -5-16 -5 6 -5 5 -5-2 -5-8 -5 15 -5-11 -5 3 -5 8 -5 7 -5 14 -5-28 -5 1 -5 12 -5 5 -5-5 -5 10 -5-8 -5-7 -5 14 -5 7 -5-6 -5-10 -5 14 -5-10 -5 7 -5 21 -5-33 -5 49 -5-54 -5 1 -5 1 -5 0 -5 4 -5 8 -5-11 -5-5 -5 7 -5-5 -5 0 -5 7 -5 7 -5-1 -5-10 -5 15 -5-12 -5 3 -5 2 -5 21 -5-23 -5 7 -5 24 -5-26 -5-2 -5 1 -5 9 -5-14 -5 46 -5-38 -5-2 -5 3 -5-5 -5 10 -5 6 -5-13 -5 14 -5-12 -5 3 -5 30 -5-15 -5-9 -5 1 -5-2 -5-1 -5 6 -5-5 -5 10 -5-4 -5-5 -5 8 -5 3 -5-3 -5-4 -5 1 -5 2 -5 0 -5 0 -5 1 -5 1 -5 5 -5-3 -5 0 -5 14 -5-13 -5 4 -5-1 -5 1 -5-2 -5-1 -5 18 -5-16 -5 1 -5 0 -5 1 -5 2 -5-1 -5 1 -5 3 -5 2 -5-2 -5 0 -5 3 -5 0 -5-1 -5 4 -5-2 -5 1 -5 0 -5 0 -5 0 -5 2 -4-4 -5 1 -5 0 -5 2 -5-1 -5-1 -5 2 -5-1 -5 0 -5 0 -5 1 -5-1 -5 2 -5-1 -5-1 -5 1 -5-1 -5 0 -5 0 -5 0 -5 4 -5-4 -5 0 -5 1 -5 0 -5 0 -5 1 -5-1 -5 1 -5-1 -5 3 -5-3 -5 2 -5-2 -5 1 -5 0 -5 0 -5 1 -5 0 -5 0 -5-1 -5 1 -5-1 -5 2 -5 0 -5-1 -5 1 -5 0 -5-1 -5 0 -5 1 -5 0 -5 0 -5-1 -5 0 -5 0 -5 0 -5 1 -5 0 -5-1 -5 0 -5-1 -5 2 -5-1 -5 0 -5 1 -5 0 -5 0 -5 0 -5 0 -5 0 -5-1 -5 1 -5 0 -5 0 -5-1 -5 0 -5 0 -5 0 -5 0 -5 0 -5 0 -5 1 -5-1 -5 1 -5-1 -5 1 -5 0 -5 0 -5 0 -5-1 -5 1 -5 0 -5 0 -5 0z"/>
<path transform="scale(0.1)" vector-effect="non-scaling-stroke" fill="#f8d4ae" stroke="#f8d4ae" stroke-width="0.5" d="M283 3401l5 0 5 0 5 0 5 0 5-1 5 1 5 0 5 0 5 0 5-1 5 0 5 0 5 0 5-1 5 1 5 1 5-1 5 1 5 0 5-1 5 1 5 0 5 0 5 0 5 0 5-1 5 1 5-1 5-1 5 1 5-1 5 0 5-1 5 0 5-1 5 2 5 0 5-1 5 0 5 1 5 0 5-1 5 1 5 0 5 0 5-1 5 1 5-1 5 0 5 0 5-1 5 1 5 0 5-1 5-1 5 1 5-1 5-1 5 2 5-1 5 1 5-1 5-3 5 3 5 1 5 0 5 0 5-1 5 0 5 0 5 0 5 1 5 0 5 0 5-2 5 2 5-1 5-1 5 1 5 0 5-1 5-1 5 3 5-2 5 1 5 0 5-1 5 0 5 0 5 0 5-1 5-2 5-1 5 1 4-2 5 0 5 0 5-1 5-1 5-2 5-1 5 0 5-1 5-1 5 0 5 1 5-2 5 0 5 0 5-2 5 1 5-3 5-17 5 10 5-2 5 3 5 0 5-6 5 4 5-1 5-9 5 5 5-1 5-5 5 7 5-5 5-1 5-4 5-6 5 8 5 5 5 0 5-5 5-3 5 5 5-4 5-3 5 10 5-11 5 9 5 4 5-4 5 0 5 2 5-7 5-7 5 9 5 4 5-7 5 8 5-9 5-2 5 10 5 0 5-1 5-1 5 1 5-2 5-3 5 2 5-5 5-3 5 2 5 2 5 1 5-4 5 4 5-10 5 10 5 0 5 0 5 0 5 1 5-1 5 4 5-9 5 6 5 0 5 3 5-3 5 5 5-18 5 18 5-1 5-11 5 1 5 2 5 5 5 0 5 3 5-2 5 0 5-8 5 7 5 0 5 3 5 2 5-6 5 3 5-1 5 2 5-4 5 3 5 2 5-1 5 2 5 0 5 0 5 1 5-5 5 3 5 1 5-2 5 1 5 0 5-2 5-5 5-1 5 1 5-2 5-1 5 8 5-2 5 0 5-5 5 8 5-2 5-5 5 5 5 0 5-7 5 5 5 2 5-9 5 7 5-6 5 3 5 1 5-2 5 2 5-2 5-39 5 35 5 5 5 0 5-1 5 1 5-3 5 1 5-2 5 1 5-3 5 3 5-32 5 35 5-4 5-2 5-8 5 10 5-4 5 3 5-4 5 2 5-5 5 8 5-3 5 3 5-24 5 20 5 10 5-4 5 4 5 2 5 0 5 2 5-1 5-12 5 14 5-1 5-6 5 3 5-2 5 3 5-1 4-1 5-11 5 10 5-7 5 7 5-4 5-5 5 7 5 3 5-7 5 11 5 6 5-2 5-6 5 7 5-9 5 5 5 2 5-6 5 1 5-3 5 2 5 1 5 1 5 1 5 2 5-4 5 3 5-5 5 2 5-2 5 5 5-5 5 4 5 0 5-29 5 33 5 1 5-7 5-1 5-2 5-2 5 8 5-4 5-2 5-1 5-2 5 7 5-3 5 0 5 1 5-5 5 1 5 6 5-2 5-6 5-1 5 9 5-2 5-1 5 10 5 0 5-9 5 8 5-5 5 6 5-3 5-2 5-19 5 14 5 3 5-7 5 4 5-16 5 17 5 1 5 1 5-2 5 0 5 4 5 5 5 2 5-4 5-2 5 2 5-8 5 7 5-5 5 6 5-2 5-3 5 4 5 2 5-8 5 2L2176 3399l-5 6 -5-1 -5 1 -5-1 -5-1 -5 0 -5 2 -5-1 -5 1 -5-3 -5 3 -5 0 -5 0 -5-3 -5 3 -5 0 -5 0 -5-4 -5-4 -5-2 -5-1 -5 3 -5-2 -5 1 -5 1 -5 4 -5 1 -5 3 -5-3 -5 3 -5-3 -5 3 -5 0 -5 0 -5-1 -5-3 -5-1 -5 5 -5-9 -5 9 -5-6 -5-1 -5 1 -5 0 -5 6 -5-6 -5 4 -5-8 -5 1 -5 5 -5-4 -5 4 -5 4 -5 0 -5-2 -5 2 -5-2 -5 2 -5 0 -5-1 -5-4 -5 5 -5-1 -5 1 -5-2 -5-4 -5 0 -5 4 -5-3 -5 5 -5-7 -5 3 -5-7 -5-1 -5 2 -5 2 -5 6 -5 2 -5-6 -5 6 -5 0 -5 0 -5 0 -5-5 -5 5 -5-6 -5 0 -5 1 -5-6 -5 8 -5-7 -5 0 -5-5 -5 5 -4 3 -5 0 -5 0 -5-3 -5 6 -5 2 -5-2 -5 0 -5-3 -5 1 -5-3 -5 1 -5 1 -5 0 -5 1 -5-1 -5-2 -5 6 -5-13 -5-1 -5 12 -5-7 -5-2 -5 7 -5-11 -5 0 -5 0 -5 17 -5-12 -5 1 -5-3 -5 7 -5-5 -5 9 -5-7 -5 4 -5-9 -5 3 -5 4 -5-6 -5 0 -5 6 -5-7 -5 1 -5 13 -5-13 -5 6 -5-1 -5 1 -5 4 -5-3 -5-2 -5-1 -5 2 -5 1 -5 7 -5-3 -5 3 -5 1 -5-11 -5 6 -5-3 -5 2 -5 3 -5-4 -5 1 -5-4 -5 10 -5 0 -5-5 -5 0 -5 3 -5 2 -5-2 -5 2 -5-4 -5 0 -5 4 -5-3 -5 2 -5-2 -5 3 -5-5 -5 3 -5-1 -5 0 -5 3 -5 0 -5-5 -5-3 -5 3 -5-4 -5 2 -5 6 -5-6 -5-1 -5 6 -5-1 -5-2 -5 4 -5-6 -5 7 -5-3 -5-2 -5 5 -5-7 -5 1 -5 4 -5-3 -5-2 -5-2 -5 3 -5 3 -5-7 -5 6 -5-2 -5-4 -5 1 -5-1 -5-2 -5 5 -5-2 -5 0 -5-1 -5 5 -5 1 -5 4 -5-1 -5-6 -5 7 -5 0 -5-2 -5 1 -5 1 -5-7 -5 0 -5 1 -5-1 -5 2 -5-2 -5 3 -5-3 -5 3 -5-3 -5 1 -5 0 -5 3 -5-9 -5 1 -5 11 -5-7 -5-2 -5 5 -5-6 -5-2 -5 7 -5-7 -5 0 -5 8 -5-6 -5 2 -5-3 -5 1 -5 1 -5 8 -5-7 -5 2 -5-1 -5 7 -5-5 -5-1 -5 2 -5 1 -5 3 -5-4 -5 0 -5 2 -5-2 -5 2 -5-1 -5 0 -5 2 -5 1 -5 0 -5-3 -5 1 -5 1 -5-1 -5 0 -5 1 -4-1 -5 0 -5 0 -5 1 -5 0 -5 1 -5 0 -5 0 -5-1 -5 0 -5 1 -5 0 -5 0 -5 0 -5-1 -5 1 -5-1 -5 0 -5 0 -5 0 -5 0 -5 0 -5 0 -5 0 -5 0 -5 1 -5-1 -5 0 -5 0 -5 0 -5 0 -5 0 -5-1 -5 1 -5 0 -5 1 -5-1 -5 1 -5-1 -5 0 -5 1 -5 0 -5 0 -5 0 -5 0 -5 0 -5-1 -5 1 -5 0 -5 0 -5 0 -5 0 -5 0 -5 0 -5 0 -5 0 -5 0 -5 0 -5 0 -5 0 -5 0 -5 0 -5 0 -5 0 -5 0 -5 0 -5 0 -5 0 -5 0 -5 0 -5 0 -5 0 -5 0 -5 0 -5 0 -5 0 -5 0 -5 0 -5 0 -5 0 -5 0 -5 0 -5 0 -5 0 -5 0 -5 0 -5 0 -5 0 -5 0 -5 0 -5 0 -5 0 -5 0 -5 0 -5 0z"/>
<path transform="scale(0.1)" vector-effect="non-scaling-stroke" fill="#3f5fe6" stroke="#3f5fe6" stroke-width="0.5" opacity="0.85" d="M283 3396l5 3 5 1 5 2 5-6 5 6 5-1 5 1 5 0 5 0 5-4 5 4 5 0 5-1 5-3 5 5 5-3 5 3 5-5 5 4 5-1 5-2 5 1 5 1 5-1 5-2 5 4 5-2 5 1 5 0 5 1 5 0 5-2 5 0 5 1 5-2 5 1 5 1 5-1 5-1 5 1 5 1 5-4 5 2 5 1 5 1 5-1 5 1 5 0 5 0 5-1 5 1 5-6 5 5 5-4 5 4 5-2 5 0 5 0 5 1 5-3 5 1 5 2 5-3 5 4 5 1 5-2 5 1 5 0 5-4 5 2 5 0 5-2 5 3 5-1 5-14 5 14 5-1 5 1 5-3 5 1 5 2 5-3 5 3 5-3 5-2 5-15 5 20 5-7 5 6 5-1 5 0 5 0 5 0 5-3 4 1 5 2 5-5 5 4 5 2 5-2 5 0 5 1 5-3 5 0 5 3 5-3 5-4 5 2 5 5 5 0 5-7 5 0 5-3 5 10 5-3 5 2 5 0 5-1 5 0 5 1 5-2 5 1 5-3 5 3 5-3 5 3 5 0 5 1 5-4 5 0 5 1 5-1 5 1 5 3 5-2 5-3 5 4 5-10 5 11 5-1 5-1 5-1 5 3 5-2 5-4 5 3 5 2 5-1 5 0 5 0 5-5 5-2 5 6 5-3 5 2 5-1 5 2 5-3 5-13 5 10 5 6 5-2 5 0 5 0 5 2 5-6 5 7 5-8 5 3 5 3 5 1 5-2 5 0 5-6 5 6 5 1 5-8 5 5 5-3 5 0 5 6 5-2 5-1 5-4 5 5 5 2 5-17 5 9 5 4 5-3 5 4 5-9 5 1 5 5 5 3 5-4 5 4 5 1 5-5 5 4 5-13 5 7 5-1 5 1 5 7 5-1 5-8 5 7 5-20 5 6 5 8 5 7 5-7 5 6 5 1 5-1 5-16 5 16 5-4 5-8 5 4 5 6 5-1 5-1 5 2 5-11 5 10 5 3 5-6 5 4 5-1 5 1 5-3 5-9 5 7 5 4 5-1 5-5 5 4 5-15 5 18 5-2 5-2 5 2 5-11 5 5 5-3 5-9 5 6 5 7 5-16 5-10 5 28 5-14 5 8 5 3 5 3 5-19 5 19 5-1 5 5 5-3 5 0 5 1 5 1 5 0 5-13 5 9 5-5 5 2 5 8 5-17 5 13 5-7 5 9 5-3 5-4 5 4 5-9 5 8 5-12 5 12 5 2 5 1 4-4 5 3 5 2 5-2 5-16 5 12 5-8 5 8 5 7 5 1 5-6 5 5 5-6 5 2 5 5 5-9 5-3 5 3 5 5 5 0 5-3 5-3 5-26 5 23 5 10 5-5 5 5 5-3 5-5 5 6 5 4 5-6 5 1 5 5 5-6 5 4 5 2 5-4 5-12 5 14 5-1 5-2 5 1 5-5 5-4 5 3 5-21 5 27 5-6 5 4 5 3 5-1 5 0 5-10 5 10 5-7 5 9 5-3 5-3 5 2 5-1 5-14 5 16 5-6 5 7 5-11 5-9 5 23 5-11 5 2 5 8 5-2 5-4 5 1 5 3 5-1 5-7 5 8 5-18 5 12 5 5 5 0 5-2 5 1 5 2 5-4 5 1 5-17 5 21 5-10 5-5 5 16 5-14 5 11 5-9L2176 3385l-5 0 -5 1 -5 0 -5 12 -5-13 -5 10 -5-5 -5 7 -5-13 -5 1 -5-1 -5 14 -5-14 -5 1 -5 4 -5 5 -5-5 -5-5 -5 0 -5 0 -5 2 -5 0 -5-2 -5 3 -5 11 -5-6 -5-6 -5 1 -5 2 -5 8 -5 1 -5-12 -5 16 -5-16 -5 10 -5-10 -5-1 -5 6 -5-1 -5 6 -5-7 -5-6 -5 2 -5 18 -5-18 -5 0 -5 4 -5-2 -5 4 -5 12 -5-5 -5 1 -5-10 -5-4 -5 3 -5 1 -5-1 -5 7 -5-7 -5-1 -5 2 -5 11 -5 5 -5 0 -5-19 -5 7 -5-7 -5 6 -5-4 -5 9 -5 0 -5-2 -5 0 -5-5 -5 2 -5-4 -5-1 -5 3 -5 1 -5 1 -5-4 -5 0 -5 0 -5 1 -5-1 -5 6 -5-8 -5 0 -5 4 -5-2 -5 11 -5-11 -5 17 -5-20 -4 12 -5-4 -5-1 -5-7 -5 5 -5 1 -5-2 -5 1 -5 15 -5-16 -5 1 -5-2 -5 1 -5-2 -5 2 -5-2 -5 8 -5-4 -5 1 -5 0 -5 5 -5-7 -5 2 -5-2 -5 15 -5-18 -5-1 -5-1 -5 1 -5 19 -5-14 -5-7 -5 1 -5 3 -5-1 -5 4 -5 2 -5-7 -5 3 -5 9 -5-11 -5-1 -5 8 -5 2 -5-8 -5-1 -5 1 -5 15 -5-13 -5-2 -5 4 -5 6 -5-3 -5-6 -5 8 -5-5 -5-1 -5 7 -5 1 -5-4 -5 10 -5-13 -5 2 -5-3 -5 5 -5-5 -5 7 -5-8 -5 0 -5 4 -5 2 -5-2 -5 1 -5-4 -5-1 -5 4 -5-1 -5-2 -5 0 -5 2 -5-3 -5 1 -5 1 -5-2 -5 4 -5-1 -5 1 -5 4 -5 0 -5-3 -5 4 -5-5 -5 0 -5 4 -5-3 -5-2 -5 3 -5 7 -5 1 -5-9 -5 0 -5-1 -5 1 -5 0 -5-2 -5 8 -5 4 -5-9 -5 7 -5-5 -5 2 -5-4 -5-2 -5 4 -5-3 -5 2 -5-2 -5 4 -5 6 -5-2 -5-8 -5 9 -5-3 -5-4 -5 7 -5-10 -5 2 -5 4 -5-2 -5 1 -5 3 -5-3 -5-4 -5 9 -5-3 -5 4 -5-8 -5 6 -5-7 -5 0 -5 0 -5 9 -5-6 -5-2 -5 0 -5 2 -5-2 -5 4 -5-3 -5 1 -5-1 -5 2 -5 3 -5 0 -5-5 -5 2 -5-3 -5-1 -5 3 -5 0 -5 5 -5 1 -5-8 -5 2 -5-2 -5 1 -5-1 -5 0 -5 3 -5 3 -5 2 -5-7 -5 2 -5-2 -5 6 -5 0 -5-3 -5-2 -5 1 -5-2 -5 1 -5 2 -5-1 -5 5 -5 0 -5-1 -5 1 -5-5 -5 3 -5 0 -4-3 -5 5 -5-6 -5 3 -5-1 -5-2 -5 4 -5-1 -5 3 -5-2 -5 0 -5-1 -5-2 -5 2 -5-2 -5 1 -5 3 -5 0 -5-3 -5 3 -5-3 -5 0 -5 4 -5-4 -5 2 -5 2 -5 0 -5-1 -5-1 -5 0 -5 0 -5 1 -5-1 -5 0 -5-2 -5 4 -5-1 -5-1 -5 0 -5-1 -5 3 -5-2 -5 2 -5-1 -5 0 -5 1 -5-2 -5 2 -5-3 -5 3 -5 0 -5-1 -5 1 -5-2 -5 0 -5 2 -5 0 -5-2 -5 2 -5-1 -5 1 -5-2 -5 0 -5 2 -5 0 -5-2 -5 0 -5 2 -5 0 -5 0 -5-1 -5 1 -5-2 -5 2 -5 0 -5 0 -5 0 -5 0 -5 0 -5 0 -5 0 -5-1 -5 1 -5-1 -5 0 -5 1 -5 0 -5-1 -5 1 -5 0 -5 0 -5 0 -5 0 -5-1 -5 1z"/>
<path transform="scale(0.1)" vector-effect="non-scaling-stroke" fill="#d52cf0" stroke="#d52cf0" stroke-width="0.5" d="M283 3400l5 0 5 0 5 1 5-1 5 0 5 0 5 0 5 0 5 0 5-1 5 1 5 0 5 0 5 0 5 0 5 0 5 0 5 0 5 0 5-1 5 0 5 0 5 0 5 0 5 1 5 0 5 0 5 0 5 0 5 0 5 0 5-1 5 0 5 0 5 1 5-1 5 1 5 0 5-1 5 0 5 1 5-1 5 0 5 0 5 0 5 0 5 0 5 0 5 0 5 0 5 0 5 0 5 0 5 0 5 0 5 0 5 0 5 0 5 0 5 1 5-1 5 0 5 0 5 0 5 0 5 0 5 0 5 0 5 0 5 0 5 0 5-1 5 1 5-1 5 1 5 0 5 0 5-1 5 1 5 0 5-1 5 1 5 0 5-1 5-1 5 1 5-6 5-2 5-10 5 0 5-9 5-10 5-20 5-2 4-18 5-25 5-1 5-12 5-14 5-19 5-23 5 6 5-18 5-13 5-20 5-6 5-29 5 0 5-12 5-18 5-13 5-16 5-11 5-18 5-12 5-20 5-14 5-13 5-16 5-9 5-14 5-28 5 0 5-6 5-34 5 4 5-29 5 3 5-22 5-4 5-20 5-4 5-37 5 12 5-7 5-10 5-20 5-15 5 6 5-18 5-8 5-14 5-5 5-25 5 4 5-23 5-33 5 15 5 1 5 1 5 5 5 7 5-1 5-25 5 21 5-5 5 35 5 5 5-16 5 12 5-37 5 37 5 5 5 11 5-3 5-1 5 5 5 2 5 2 5-8 5 11 5-27 5 34 5 2 5 3 5-23 5 27 5 4 5-22 5 36 5-24 5-1 5 27 5 4 5 8 5 2 5 10 5 2 5-8 5 3 5-5 5 4 5 5 5-2 5-12 5-9 5 15 5-38 5 38 5 15 5-8 5 5 5-5 5 0 5-4 5 17 5-4 5 0 5-15 5 10 5 5 5 4 5-6 5 6 5-6 5 0 5-4 5 6 5-32 5 40 5-3 5 7 5 0 5-16 5 7 5 23 5 2 5-8 5 7 5 14 5-10 5-8 5-12 5 11 5 10 5-11 5-2 5-12 5-2 5-6 5 11 5 0 5 9 5 4 5-6 5 0 5-32 5 42 5-7 5-9 5 13 5-13 5 16 5 6 5 2 5-22 5 22 5-35 5 43 5-17 5 17 5-20 5 15 5 3 5-13 5 7 5-13 5 1 5 7 5-14 5 13 5-4 5-23 5 11 5-28 5 29 5-5 5-9 5 15 5-1 5-4 5 13 5-35 5 26 4-8 5-8 5 5 5-13 5 1 5-1 5 1 5-32 5 39 5 3 5-6 5-16 5 15 5-2 5-2 5 2 5 4 5-17 5-8 5 17 5-6 5-33 5 5 5 23 5 4 5 5 5 1 5-29 5 34 5 6 5-35 5 13 5 29 5-17 5 18 5-2 5-20 5 10 5 1 5 12 5-19 5 22 5 3 5-39 5 15 5-29 5 30 5 5 5-5 5 7 5-14 5 24 5 11 5-6 5-2 5 14 5 0 5-23 5 9 5 26 5-9 5 3 5-19 5 10 5-2 5 11 5 4 5-6 5-10 5 11 5-16 5-17 5 31 5-22 5 22 5-11 5-43 5-5 5 21 5 10 5-22 5-3 5 21 5-38 5 14 5 9 5-14 5 5 5 10 5-54 5 51 5-7 5-12 5-5 5-29L2176 2873l-5 23 -5-6 -5-13 -5 11 -5 11 -5 14 -5 10 -5-30 -5 26 -5-27 -5 31 -5-15 -5 39 -5-33 -5 10 -5-22 -5 5 -5 37 -5-28 -5 16 -5 6 -5 3 -5-11 -5 2 -5 3 -5-2 -5 38 -5-1 -5-18 -5-22 -5 8 -5-12 -5 14 -5-6 -5 13 -5-10 -5 3 -5-8 -5 1 -5-10 -5 5 -5-7 -5-4 -5 52 -5-52 -5-11 -5-2 -5-5 -5 5 -5 13 -5-8 -5 7 -5 5 -5-1 -5 14 -5-19 -5 10 -5-20 -5 10 -5 16 -5 1 -5 7 -5 86 -5-105 -5-1 -5-23 -5 24 -5-25 -5 5 -5 1 -5-12 -5-2 -5 10 -5-2 -5 2 -5-15 -5 23 -5-11 -5 6 -5-11 -5 12 -5 67 -5-48 -5-27 -5 4 -5 33 -5-47 -5 7 -5 27 -5 4 -5-18 -5 8 -5-4 -5 13 -4 6 -5 10 -5-8 -5 6 -5-18 -5 9 -5-17 -5 2 -5 9 -5 19 -5-11 -5 12 -5 25 -5-15 -5-16 -5-6 -5-4 -5 8 -5 8 -5-5 -5 12 -5-8 -5 40 -5-36 -5 20 -5-27 -5 33 -5-23 -5-6 -5 1 -5 0 -5-11 -5-10 -5-10 -5 16 -5 10 -5-27 -5 8 -5 6 -5-20 -5 2 -5 5 -5-9 -5-3 -5-6 -5 9 -5 2 -5-7 -5 11 -5-5 -5 27 -5-32 -5 14 -5 1 -5-3 -5 18 -5-31 -5 3 -5-3 -5-7 -5-8 -5 1 -5 17 -5-15 -5-7 -5 16 -5-14 -5-3 -5-4 -5 7 -5-6 -5 22 -5 0 -5 15 -5-36 -5 8 -5 3 -5-11 -5 7 -5 22 -5-24 -5-9 -5-7 -5 7 -5 9 -5 3 -5 6 -5-18 -5-11 -5-1 -5 4 -5 7 -5-12 -5 38 -5-36 -5 23 -5-17 -5 16 -5-11 -5-5 -5-5 -5-14 -5 5 -5 7 -5-9 -5-14 -5 20 -5-11 -5-17 -5-10 -5 4 -5 2 -5-11 -5-1 -5 7 -5 0 -5 1 -5 0 -5-19 -5-8 -5 18 -5-25 -5 44 -5-53 -5 8 -5 17 -5 8 -5-31 -5 32 -5-46 -5-3 -5-5 -5 27 -5-26 -5-9 -5 1 -5 0 -5 18 -5-6 -5 21 -5 10 -5 7 -5 13 -5 19 -5 4 -5-3 -5 12 -5 3 -5 14 -5 37 -5-18 -5 17 -5 0 -5 22 -5 12 -5-1 -5 8 -5 13 -5 9 -5 41 -5-15 -5 13 -5 11 -5 10 -5 10 -5 18 -5 13 -5 12 -5 25 -5 9 -5 12 -5 20 -5 13 -5 11 -5 17 -5 16 -5 9 -5 18 -5 13 -5 13 -5 15 -5 22 -5 8 -5 9 -5 12 -5 21 -5 11 -5 11 -5 8 -5 26 -4-9 -5 9 -5 6 -5 1 -5 1 -5 2 -5-1 -5 2 -5-1 -5 0 -5 0 -5 0 -5 0 -5 0 -5 1 -5-1 -5 1 -5-1 -5 0 -5 0 -5 0 -5 0 -5 1 -5 0 -5-1 -5 1 -5 0 -5-1 -5 0 -5 1 -5 0 -5 1 -5-1 -5 0 -5 0 -5 1 -5-1 -5 0 -5 0 -5 0 -5 0 -5 0 -5 0 -5 0 -5 0 -5 0 -5 0 -5-1 -5 0 -5 1 -5 0 -5 0 -5 0 -5 0 -5 0 -5 0 -5 1 -5-1 -5 0 -5 0 -5 0 -5 0 -5 1 -5 0 -5 0 -5-1 -5 0 -5 0 -5 0 -5 0 -5 0 -5 1 -5-1 -5 0 -5 0 -5 1 -5 0 -5 0 -5-1 -5 1 -5 0 -5 0 -5 0 -5 0 -5 0 -5 0 -5 0 -5 0 -5 0 -5 0 -5 0 -5 0 -5 0 -5 0 -5 0z"/>
<path transform="scale(0.1)" vector-effect="non-scaling-stroke" fill="#e6df62" stroke="#e6df62" stroke-width="0.5" d="M283 3400l5 0 5 0 5 0 5 0 5 0 5 0 5 0 5-1 5 1 5 0 5 0 5 1 5-1 5 1 5-1 5 0 5 1 5 0 5-1 5 0 5 0 5 0 5 0 5 0 5 0 5 0 5 0 5 0 5 0 5 0 5 0 5 0 5-1 5 0 5 1 5 0 5 0 5 0 5-1 5 1 5 0 5 0 5 0 5 0 5 0 5 0 5-1 5 1 5 0 5 0 5 0 5 0 5 0 5 0 5-2 5 2 5-1 5 0 5 1 5 0 5-1 5 1 5 0 5 0 5 0 5 0 5 0 5-1 5 1 5 0 5 0 5 0 5-1 5 1 5 0 5-1 5 0 5 0 5 0 5 0 5 0 5 0 5 0 5 0 5 0 5 0 5 0 5 0 5 0 5 0 5 0 5 0 5 0 5-1 4 1 5 0 5 0 5 0 5-1 5 1 5-1 5 1 5-1 5 0 5 0 5 1 5-1 5 0 5 0 5 0 5 0 5 0 5 0 5 0 5 1 5-1 5 1 5 0 5-6 5-25 5-19 5-37 5-16 5-17 5-16 5-60 5 11 5-28 5-24 5-57 5 14 5-29 5-12 5-21 5-20 5-21 5-26 5-21 5-30 5-16 5-21 5-12 5-15 5-32 5-10 5-19 5-29 5-26 5 2 5-26 5-21 5-18 5-20 5-16 5-23 5-8 5-10 5-13 5-29 5-3 5 1 5-26 5 6 5-19 5-19 5-22 5-8 5-1 5 4 5 29 5-28 5 5 5 14 5-26 5 30 5-7 5-19 5 5 5 10 5-5 5 11 5 5 5-8 5 2 5 4 5-24 5 29 5-44 5 29 5 15 5-7 5 1 5-10 5-10 5 13 5-3 5-27 5 26 5 0 5-4 5-3 5-26 5 25 5-9 5 17 5-24 5 35 5-57 5 36 5 9 5-14 5-15 5 30 5-17 5 20 5 2 5 2 5-30 5 28 5-10 5-20 5 3 5 5 5 3 5 3 5-5 5 3 5 4 5-32 5 25 5-3 5 12 5-13 5-11 5 29 5-15 5 5 5-37 5 36 5 2 5-1 5-9 5-15 5-29 5-5 5 28 5 26 5-16 5 24 5 4 5 10 5-2 5-2 5-23 5 0 5 28 5-19 5-5 5-36 5 19 5 40 5-11 5-4 5-22 5 19 5-87 5 16 5 70 5-12 5 8 5-45 5 43 5-4 5-8 5-1 5 6 5 13 5-12 5 1 5 11 5-2 5 3 5 6 5-6 4-5 5-24 5-16 5 17 5 7 5-6 5-31 5 51 5-11 5 5 5-16 5 18 5-10 5-23 5-3 5 21 5-32 5 21 5-36 5 33 5-46 5 59 5-27 5 9 5 17 5-47 5 17 5 14 5-7 5-25 5 30 5-12 5-6 5 14 5 1 5-26 5 22 5 1 5 6 5 5 5-58 5 55 5 7 5 7 5-16 5-2 5-33 5 16 5 16 5-12 5 10 5-1 5-6 5-13 5-14 5 13 5 16 5-23 5-12 5 27 5-1 5 19 5 2 5 2 5-21 5 8 5-1 5 9 5-27 5 25 5-18 5 15 5-21 5 24 5-1 5-10 5 6 5 0 5-34 5 47 5 8 5-20 5 28 5-1 5-83 5 67 5 24 5-11 5-80 5 75 5-14 5-44 5 67 5-38 5-23L2176 2676l-5-57 -5 0 -5-12 -5 8 -5 12 -5 37 -5 0 -5-22 -5 23 -5-40 -5 16 -5 12 -5-31 -5-9 -5 3 -5 7 -5-18 -5-6 -5 14 -5-12 -5 3 -5-12 -5 19 -5-5 -5-1 -5 5 -5 45 -5-40 -5 15 -5-28 -5 6 -5 18 -5-18 -5-5 -5 13 -5-14 -5 11 -5 38 -5-56 -5 30 -5 53 -5-84 -5 10 -5 29 -5-37 -5 1 -5 39 -5-18 -5 10 -5 15 -5-14 -5 28 -5-41 -5-1 -5 32 -5-18 -5 6 -5-26 -5 0 -5-10 -5 31 -5-23 -5 6 -5 7 -5-14 -5 4 -5 3 -5 1 -5 2 -5 15 -5 14 -5-5 -5-16 -5-5 -5 7 -5 52 -5-32 -5-24 -5 7 -5 0 -5 0 -5 6 -5 14 -5-3 -5 51 -5-54 -5 5 -5 38 -5-23 -5 9 -5 18 -5-48 -5 6 -5 8 -4 13 -5-12 -5 58 -5-28 -5-26 -5-4 -5 14 -5-1 -5 54 -5-78 -5 5 -5 18 -5-19 -5-3 -5 31 -5-15 -5-11 -5 6 -5 9 -5-2 -5 0 -5 8 -5 12 -5 6 -5-23 -5 16 -5-21 -5 20 -5-9 -5 26 -5-32 -5-6 -5 2 -5 17 -5-23 -5-6 -5-4 -5 0 -5-8 -5 7 -5 16 -5-28 -5-6 -5 24 -5 11 -5-28 -5 14 -5 35 -5 4 -5-42 -5 16 -5-18 -5-14 -5 13 -5 7 -5-17 -5-4 -5 37 -5-36 -5 10 -5-1 -5 0 -5-3 -5 26 -5-19 -5 9 -5 0 -5-13 -5 45 -5-30 -5-2 -5 8 -5-21 -5 14 -5-25 -5 3 -5 9 -5-6 -5 4 -5-11 -5 9 -5-13 -5 21 -5-20 -5 19 -5-20 -5-3 -5 15 -5-13 -5 1 -5 41 -5-36 -5 8 -5-5 -5 20 -5-14 -5-6 -5 2 -5 5 -5 13 -5 12 -5-33 -5 21 -5-10 -5-10 -5 3 -5-8 -5 23 -5-26 -5 7 -5-3 -5 12 -5-9 -5 13 -5 10 -5-8 -5-18 -5 22 -5-24 -5 16 -5 20 -5 14 -5-1 -5 9 -5 50 -5-28 -5 5 -5 7 -5 11 -5 21 -5 12 -5 35 -5 17 -5-4 -5 20 -5 20 -5 15 -5 23 -5 16 -5 28 -5 40 -5-11 -5 20 -5 15 -5 28 -5 29 -5 22 -5 55 -5-7 -5 39 -5 1 -5 25 -5 48 -5-1 -5 27 -5 23 -5 19 -5 24 -5 63 -5-16 -5 30 -5-3 -5-5 -5 6 -5-3 -5 0 -5 1 -5 0 -5 1 -5-1 -5 0 -5 0 -5 0 -5 0 -5 0 -5 0 -5 0 -5 0 -5 0 -5 0 -5 0 -5 0 -5 0 -5 0 -5 0 -5 0 -5 1 -5-1 -5 1 -5-1 -4 1 -5 0 -5-1 -5 0 -5 1 -5 0 -5 0 -5 0 -5 1 -5-1 -5 0 -5 0 -5 0 -5 0 -5 0 -5 0 -5 0 -5 0 -5 0 -5 0 -5 0 -5 1 -5-1 -5 0 -5 0 -5 0 -5 0 -5 0 -5 0 -5 1 -5-1 -5 0 -5 1 -5 0 -5 0 -5-1 -5 0 -5 0 -5 1 -5-1 -5 0 -5 1 -5-1 -5 1 -5-1 -5 0 -5 0 -5 1 -5-1 -5 1 -5 0 -5 0 -5 0 -5 0 -5 0 -5 0 -5 0 -5-1 -5 0 -5 1 -5-1 -5 1 -5-1 -5 1 -5 0 -5 0 -5 0 -5-1 -5 1 -5-1 -5 1 -5 0 -5 0 -5 0 -5 0 -5 0 -5 0 -5 0 -5 1 -5-1 -5 0 -5 0 -5 0 -5 0 -5 0 -5 0 -5 0 -5 0 -5 0 -5 0 -5 0 -5 0 -5 0 -5 0 -5 0z"/>
</g>
<rect x="28.30" y="193.50" width="189.30" height="151.70" fill="none" stroke="#484848" stroke-width="0.9"/>
<path d="M28.30 345.20v-3.0 M44.07 345.20v-1.6 M59.85 345.20v-3.0 M75.62 345.20v-1.6 M91.40 345.20v-3.0 M107.17 345.20v-1.6 M122.95 345.20v-3.0 M138.72 345.20v-1.6 M154.50 345.20v-3.0 M170.27 345.20v-1.6 M186.05 345.20v-3.0 M201.82 345.20v-1.6 M217.60 345.20v-3.0 M28.30 345.20h3.0 M28.30 325.63h1.6 M28.30 306.05h3.0 M28.30 286.48h1.6 M28.30 266.90h3.0 M28.30 247.33h1.6 M28.30 227.75h3.0 M28.30 208.18h1.6" stroke="#484848" stroke-width="0.9" fill="none"/>
<g font-family='"Liberation Serif", serif' fill="#1a1a1a" stroke="#1a1a1a" stroke-width="0.2"><text transform="translate(28.30,355.50) scale(0.84,1)" font-size="10.35" text-anchor="middle" >0</text><text transform="translate(59.85,355.50) scale(0.84,1)" font-size="10.35" text-anchor="middle" >50</text><text transform="translate(91.40,355.50) scale(0.84,1)" font-size="10.35" text-anchor="middle" >100</text><text transform="translate(122.95,355.50) scale(0.84,1)" font-size="10.35" text-anchor="middle" >150</text><text transform="translate(154.50,355.50) scale(0.84,1)" font-size="10.35" text-anchor="middle" >200</text><text transform="translate(186.05,355.50) scale(0.84,1)" font-size="10.35" text-anchor="middle" >250</text><text transform="translate(217.60,355.50) scale(0.84,1)" font-size="10.35" text-anchor="middle" >300</text><text transform="translate(24.70,348.20) scale(0.84,1)" font-size="10.35" text-anchor="end" >-5</text><text transform="translate(24.70,309.05) scale(0.84,1)" font-size="10.35" text-anchor="end" >35</text><text transform="translate(24.70,269.90) scale(0.84,1)" font-size="10.35" text-anchor="end" >75</text><text transform="translate(24.70,230.75) scale(0.84,1)" font-size="10.35" text-anchor="end" >115</text><text transform="translate(122.95,370.20) scale(0.84,1)" font-size="10.35" text-anchor="middle" >t (ps)</text><text x="0" y="0" font-size="8.3" text-anchor="middle" transform="translate(7.60,270.10) rotate(-90) scale(1.06,1)">Population of fragments</text><text transform="translate(9.00,205.30) scale(0.84,1)" font-size="10.35" text-anchor="middle" >(c)</text><text transform="translate(34.00,203.90) scale(0.84,1)" font-size="10.35" text-anchor="start" >3250K</text><path d="M72.45 203.30h18.7" stroke="#7b7b7b" stroke-width="0.9"/><text transform="translate(93.95,207.00) scale(0.84,1)" font-size="10.35"><tspan y="0">C</tspan><tspan font-size="6.67" y="2.2">2</tspan><tspan y="0">H</tspan><tspan font-size="6.67" y="2.2">4</tspan><tspan y="0">N</tspan><tspan font-size="6.67" y="2.2">4</tspan><tspan y="0">O</tspan><tspan font-size="6.67" y="2.2">4</tspan></text><path d="M132.67 203.30h18.7" stroke="#f86cc8" stroke-width="0.9"/><text transform="translate(154.17,207.00) scale(0.84,1)" font-size="10.35"><tspan y="0">NO</tspan><tspan font-size="6.67" y="2.2">2</tspan></text><path d="M171.66 203.30h18.7" stroke="#bfef8c" stroke-width="0.9"/><text transform="translate(193.16,207.00) scale(0.84,1)" font-size="10.35"><tspan y="0">NO</tspan></text><path d="M72.45 216.20h18.7" stroke="#3eb2f2" stroke-width="0.9"/><text transform="translate(93.95,219.90) scale(0.84,1)" font-size="10.35"><tspan y="0">CO</tspan><tspan font-size="6.67" y="2.2">2</tspan></text><path d="M132.67 216.20h18.7" stroke="#3f5fe6" stroke-width="0.9"/><text transform="translate(154.17,219.90) scale(0.84,1)" font-size="10.35"><tspan y="0">CO</tspan></text><path d="M171.66 216.20h18.7" stroke="#d52cf0" stroke-width="0.9"/><text transform="translate(193.16,219.90) scale(0.84,1)" font-size="10.35"><tspan y="0">H</tspan><tspan font-size="6.67" y="2.2">2</tspan><tspan y="0">O</tspan></text><path d="M72.45 228.80h18.7" stroke="#e6df62" stroke-width="0.9"/><text transform="translate(93.95,232.50) scale(0.84,1)" font-size="10.35"><tspan y="0">N</tspan><tspan font-size="6.67" y="2.2">2</tspan></text><path d="M132.67 228.80h18.7" stroke="#acb5f4" stroke-width="0.9"/><text transform="translate(154.17,232.50) scale(0.84,1)" font-size="10.35"><tspan y="0">H</tspan><tspan font-size="6.67" y="2.2">2</tspan></text><path d="M171.66 228.80h18.7" stroke="#c3f09a" stroke-width="0.9"/><text transform="translate(193.16,232.50) scale(0.84,1)" font-size="10.35"><tspan y="0">NH</tspan><tspan font-size="6.67" y="2.2">3</tspan></text><path d="M72.45 241.60h18.7" stroke="#f8d4ae" stroke-width="0.9"/><text transform="translate(93.95,245.30) scale(0.84,1)" font-size="10.35"><tspan y="0">HNCO</tspan></text></g>
<clipPath id="cd"><rect x="257.60" y="191.70" width="190.40" height="153.30"/></clipPath>
<g clip-path="url(#cd)">
<path transform="scale(0.1)" vector-effect="non-scaling-stroke" fill="#7b7b7b" stroke="#7b7b7b" stroke-width="0.5" d="M2576 2770l5 3 5 3 5-4 5-2 5 7 5-4 5 0 5-3 5 0 5 1 5-1 5 2 5 4 5-1 5-5 5 0 5 4 5-5 5 1 5 1 5-2 5 1 5 0 5 3 5 2 5-2 5 0 5-4 5 3 5 0 5 5 5-5 5 2 5 3 5-3 5-1 5-1 5 0 5 2 5 3 5-1 5-5 5 1 5-3 5 5 5-3 5-1 5-3 5 2 5 4 5-4 5 2 5-4 5 1 5 2 5-2 5 0 5 2 5 4 5-6 5 3 5 14 5-8 5-3 5 0 5 6 5 16 5-14 5-6 5 35 5-39 5 47 5 9 5-10 5 0 5 18 5-38 5 45 5 9 5-5 5 36 5-1 5 26 5 17 5-18 5 53 5 19 5 40 5 10 5 39 5 24 5 25 5 22 5 19 5 42 5 22 5 28 5-11 5 51 5 13 5 36 5 10 5 30 5 6 5 8 5 2 5 1 5 0 5-1 5 0 5-1 5 2 5 0 5-1 5 0 5 1 5-1 5 0 5 1 5-1 5 0 5-2 5 3 5 0 5-1 5 0 5 0 5 0 5 0 5 0 5 0 5 0 5 0 5 0 5 0 5 0 5 0 5 0 5 0 5 0 5 0 5 0 5 0 5 0 5 0 5-1 5 1 5 0 5 0 5 0 5 0 5 0 5 0 5-1 5 1 5 0 5 0 5 0 5 0 5 0 5 0 5 0 5 0 5 0 5-1 5 1 5 0 5-1 5 1 5 0 5-1 5 1 5 0 5 0 5 0 5 0 5-1 5 1 5 0 5 0 5 0 5 0 5 0 5 0 5 0 5 0 5 0 5 0 5 0 5 0 4 0 5 0 5 0 5 0 5 0 5 0 5 0 5 1 5-1 5 0 5 1 5-1 5 0 5 0 5 0 5 0 5 0 5 0 5 0 5 0 5 0 5-1 5 0 5 1 5 1 5-1 5 0 5 0 5 0 5 1 5-1 5 0 5 1 5-1 5 0 5-1 5 1 5 0 5 0 5 0 5 0 5 0 5 0 5 0 5 0 5 0 5 0 5 0 5 0 5-1 5 1 5 0 5 0 5 1 5 0 5-1 5 0 5 1 5 0 5-1 5 1 5 0 5-2 5 2 5 0 5-1 5 1 5 0 5 0 5-1 5 1 5-1 5 0 5 1 5 0 5-1 5 1 5 0 5-1 5 1 5 0 5-1 5 0 5 0 5-1 5 1 5 0 5 1 5 0 5 0 5-1 5 0 5 0 5 0 5 0 5 0 5 0 5-1 5 2 5-1 5 0 5 0 5 1 5 0 5-1 5 0 5 0 5 0 5 0 5 0 5 0 5 0 5-1 5 1 5 1 5-1 5 1 5-1 5 0 5 0 5 0 5 0 5 0 5 1 5-3 5 2 5 1 5-1 5 1 5-1 5 1 5 0 5 0 5-1 5 1 5-1 5 0 5-1 5 1 5 1 5-1 5-2 5 2 5 0 5 1 5-1 5 1 5 0 5-1 5 0 5 1 5 0 5-1 5 0 5 0 5 1 5-1 5 1 5-1 5 0 5 0 5 0 5 0 5 1 5 0 5-1 5 1 5-1 5 0 5 0 5 0 5 0 5 0 5-1 5 1 5 0 5 0 5 0 5 0 5 0 5 0 5 0 5 0 5-3 5-1 5 4 5 0 5-2 5 1 5 1 5 0L4480 3402l-5-2 -5 0 -5 0 -5 0 -5 0 -5 1 -5 0 -5 2 -5-3 -5 0 -5 0 -5 1 -5-1 -5 0 -5 1 -5-1 -5 0 -5 0 -5 0 -5 0 -5 0 -5 1 -5-1 -5 2 -5-1 -5 0 -5 0 -5 0 -5-1 -5 2 -5-1 -5 0 -5 2 -5-2 -5 0 -5-1 -5 0 -5 1 -5 0 -5-1 -5 1 -5 0 -5-1 -5 0 -5 1 -5 0 -5 0 -5 2 -5-2 -5 0 -5-1 -5 0 -5 1 -5 0 -5 0 -5 0 -5-1 -5 0 -5 1 -5-1 -5 0 -5 1 -5-1 -5 0 -5 0 -5 0 -5 0 -5 0 -5 0 -5 0 -5 0 -5 0 -5 0 -5 2 -5-1 -5 1 -5-1 -5 0 -5 0 -5-1 -5 3 -5-3 -5 1 -5 1 -5-2 -5 0 -5 1 -5-1 -5 2 -5-2 -5 0 -5 0 -5 0 -5 0 -5 0 -5 1 -5 0 -5-1 -5 1 -5-1 -5 1 -5 0 -5-1 -5 0 -5 0 -5 0 -5 0 -5 0 -5 1 -5-1 -5 0 -5 0 -5 0 -5 1 -5 0 -5 0 -5-1 -5 1 -5-1 -5 0 -5 1 -5 0 -5 2 -5-3 -5 1 -5 0 -5-1 -5 1 -5 0 -5-1 -5 0 -5 0 -5 0 -5 2 -5-1 -5 0 -5 0 -5 0 -5 0 -5-1 -5 0 -5 0 -5 0 -5 1 -5 0 -5 0 -5 1 -5 0 -5-1 -5-1 -5 0 -5 0 -5 0 -5 0 -5 0 -5 1 -5-1 -5 0 -5 0 -5 3 -5-3 -5 0 -5 0 -5 0 -5 1 -5 1 -5-2 -5 1 -5 2 -5-2 -5-1 -5 1 -5-1 -5 0 -5 0 -5 0 -5 1 -5-1 -5 0 -5 0 -5 1 -5-1 -5 1 -5 0 -5 0 -5 0 -5 0 -5-1 -5 0 -5 0 -4 2 -5-2 -5 0 -5 0 -5 1 -5-1 -5 0 -5 0 -5 1 -5-1 -5 0 -5 0 -5 0 -5 1 -5 0 -5 0 -5-1 -5 0 -5 3 -5-3 -5 0 -5 0 -5 1 -5 2 -5-2 -5-1 -5 0 -5 2 -5-2 -5 0 -5 0 -5 1 -5-1 -5 1 -5 0 -5-1 -5 2 -5-2 -5 0 -5 1 -5-1 -5 0 -5 1 -5-1 -5 1 -5 0 -5-1 -5 1 -5 1 -5-2 -5 1 -5 0 -5 0 -5-1 -5 0 -5 0 -5 0 -5 0 -5 0 -5 0 -5 0 -5 0 -5 0 -5 1 -5 0 -5-1 -5 0 -5 0 -5 0 -5 0 -5 3 -5-3 -5 0 -5 0 -5 2 -5-2 -5 0 -5 0 -5 1 -5-1 -5 0 -5 0 -5 0 -5 0 -5 0 -5 0 -5 2 -5-1 -5-2 -5-6 -5-3 -5-14 -5-9 -5-19 -5-7 -5-20 -5-25 -5-14 -5-24 -5-15 -5-10 -5-29 -5 61 -5-99 -5 1 -5-53 -5 1 -5-36 -5-8 -5-21 -5-32 -5 20 -5-7 -5-35 -5 13 -5-6 -5-32 -5 10 -5-1 -5-6 -5-14 -5-15 -5-5 -5 37 -5-14 -5-19 -5-16 -5 5 -5-11 -5-13 -5 37 -5-3 -5-44 -5 26 -5-21 -5-17 -5 5 -5 13 -5 3 -5 17 -5-25 -5-17 -5 7 -5-3 -5-5 -5 73 -5-76 -5 8 -5 2 -5-6 -5 46 -5-48 -5-3 -5 27 -5 3 -5-26 -5-4 -5 6 -5-3 -5 5 -5-4 -5 5 -5-18 -5 1 -5 4 -5-10 -5 31 -5-27 -5-3 -5 13 -5-2 -5-11 -5 1 -5 5 -5-11 -5 6 -5 7 -5 0 -5-11 -5-6 -5 11 -5-14 -5 3 -5 39 -5-1 -5-12 -5-27 -5-1 -5 11 -5-13 -5-1z"/>
<path transform="scale(0.1)" vector-effect="non-scaling-stroke" fill="#f86cc8" stroke="#f86cc8" stroke-width="0.5" d="M2576 3387l5 4 5-4 5-3 5 7 5-1 5 0 5-2 5 0 5-8 5 6 5 3 5-6 5 3 5 3 5-3 5 2 5 0 5-3 5 2 5 1 5-3 5 1 5-7 5 3 5 4 5-3 5 4 5-8 5 1 5 3 5-6 5 4 5 3 5-22 5 21 5-6 5 4 5 0 5-1 5-7 5 8 5 1 5-3 5 2 5 0 5-1 5 0 5-1 5-9 5 4 5 3 5-9 5 3 5 8 5-18 5 10 5 2 5 2 5-9 5-13 5 17 5-7 5 7 5-3 5 3 5-4 5 2 5-2 5-12 5 16 5-4 5 1 5-9 5 10 5 1 5 0 5-2 5-1 5 3 5-2 5 3 5-1 5 6 5 0 5 2 5 0 5 1 5-1 5-11 5 13 5 8 5-20 5 5 5 15 5 1 5 1 5 2 5-3 5 2 5-5 5 4 5-1 5-3 5 3 5 1 5-10 5 12 5-7 5 1 5 5 5 0 5-2 5 3 5 0 5-1 5-3 5 3 5 2 5 1 5-4 5 4 5 1 5-12 5 11 5-2 5 2 5-6 5 5 5-4 5-9 5 11 5 0 5-5 5 7 5-1 5-8 5 8 5-3 5 1 5 3 5-2 5 1 5-1 5-1 5 1 5 2 5 0 5-9 5 7 5 3 5 1 5-4 5 0 5 0 5 2 5 1 5 1 5-2 5-1 5 4 5-1 5-5 5 4 5-7 5 7 5 0 5-3 5 0 5-2 5 4 5-8 5 4 5 2 5 4 5 1 5 0 5-2 5 2 5-2 5 1 5-5 5 2 5-3 5 5 5-5 5 7 5-3 5 2 5 0 5-2 4-9 5 9 5 2 5-1 5 1 5 0 5-5 5 6 5-1 5-1 5-1 5 3 5-2 5 2 5-10 5 7 5 1 5-2 5-5 5 7 5-3 5-1 5 2 5 3 5-6 5 2 5 2 5 0 5 0 5-7 5 3 5 5 5-1 5 1 5 1 5-14 5 13 5-1 5 2 5-4 5 1 5 3 5 0 5 0 5-2 5 0 5 2 5-4 5 4 5-5 5 4 5 1 5-4 5 4 5-1 5 1 5-2 5 1 5 0 5-1 5-1 5 2 5-6 5 6 5 0 5-3 5 0 5 2 5 1 5-2 5-1 5-1 5 4 5 0 5-3 5 2 5 0 5-3 5 5 5-1 5-1 5 1 5-1 5-9 5 9 5-5 5 6 5 1 5-4 5 3 5-2 5 2 5 1 5 1 5 0 5-3 5 1 5 1 5-8 5 6 5 2 5-2 5 0 5 2 5-1 5 2 5-2 5 1 5-1 5-1 5 0 5 2 5-3 5 3 5-1 5 0 5-13 5 15 5-1 5-3 5 2 5 2 5-3 5 2 5 0 5-3 5 1 5 2 5 1 5 0 5 0 5-1 5-2 5 0 5 3 5-1 5 0 5-1 5-2 5 2 5 2 5-2 5 2 5-2 5 4 5-2 5 2 5 0 5-3 5 2 5-2 5 1 5 0 5 0 5 1 5-1 5-3 5 4 5-3 5 2 5 1 5-5 5 4 5-2 5 1 5 1 5 1 5-2 5 2 5-1 5 2 5 0 5-1 5-8 5 9 5-1 5-1 5 1 5 0 5 1 5 1 5-3 5 1 5 1 5 0 5-1 5 1 5-3 5 3 5 0 5 0L4480 3400l-5 2 -5-2 -5 1 -5-1 -5 0 -5 2 -5-2 -5 1 -5-1 -5 1 -5 0 -5-1 -5 1 -5 0 -5-1 -5 0 -5-1 -5 1 -5 0 -5 0 -5 2 -5-2 -5 0 -5 1 -5 1 -5-2 -5-1 -5 3 -5 0 -5 0 -5-3 -5 0 -5 0 -5-1 -5 3 -5-3 -5 1 -5 0 -5 4 -5 0 -5-3 -5 0 -5 3 -5-3 -5 1 -5 2 -5-1 -5-2 -5-1 -5 0 -5 3 -5-3 -5 1 -5-1 -5 0 -5-1 -5 0 -5 0 -5 2 -5-1 -5 0 -5 2 -5-3 -5 0 -5 1 -5 0 -5-1 -5 0 -5 2 -5-1 -5 0 -5 2 -5 2 -5-5 -5 3 -5-3 -5 0 -5 2 -5-1 -5-1 -5 2 -5 1 -5-2 -5-1 -5 5 -5-5 -5 1 -5 0 -5 0 -5 0 -5 4 -5-4 -5 3 -5-2 -5-1 -5 0 -5 1 -5 3 -5 0 -5-5 -5 2 -5-2 -5 3 -5-1 -5 1 -5-3 -5 2 -5-1 -5-2 -5 6 -5-5 -5 1 -5-1 -5 0 -5 3 -5-2 -5-1 -5 0 -5 1 -5 0 -5 0 -5-1 -5 5 -5-4 -5-1 -5 1 -5-1 -5 1 -5 1 -5-1 -5-1 -5 0 -5 3 -5-3 -5 1 -5 0 -5 2 -5 0 -5 1 -5 1 -5-5 -5 5 -5-4 -5 0 -5 3 -5-3 -5 1 -5-1 -5 0 -5 4 -5 0 -5-5 -5 0 -5 0 -5 5 -5 0 -5-4 -5-1 -5 0 -5 2 -5 3 -5 0 -5-5 -5 5 -5-5 -5 0 -5 2 -5 3 -5-4 -5 4 -5-4 -5 4 -5-3 -5 2 -5 0 -5 1 -5-1 -5-1 -5 2 -5-3 -5 2 -5 0 -5 1 -5 0 -5-3 -5 3 -5-3 -5 3 -5-4 -5 1 -4 0 -5 1 -5 0 -5 2 -5 0 -5-3 -5 2 -5-1 -5 1 -5 1 -5-1 -5-2 -5 0 -5 2 -5 1 -5 0 -5-1 -5-2 -5 2 -5 1 -5-2 -5-1 -5 0 -5 1 -5-1 -5 3 -5-5 -5 3 -5 1 -5 1 -5-3 -5 2 -5-2 -5 3 -5-4 -5 4 -5-4 -5 2 -5 1 -5-1 -5 2 -5-2 -5-2 -5 0 -5 1 -5 3 -5-5 -5 5 -5-6 -5 0 -5 3 -5-3 -5 6 -5 0 -5 0 -5-4 -5 1 -5 2 -5-4 -5 0 -5 1 -5 4 -5-5 -5 1 -5 4 -5-2 -5-2 -5 4 -5-3 -5 0 -5 3 -5-2 -5-1 -5 0 -5-1 -5 4 -5-6 -5 0 -5 4 -5-3 -5 0 -5-1 -5 6 -5 0 -5-5 -5 5 -5-1 -5 1 -5-2 -5-3 -5 0 -5 3 -5-3 -5 3 -5 2 -5-5 -5 0 -5 2 -5-1 -5-2 -5 6 -5-11 -5 11 -5-7 -5-7 -5 0 -5 2 -5 8 -5-3 -5-9 -5 6 -5 4 -5-7 -5-1 -5 3 -5 5 -5-11 -5 6 -5-1 -5 1 -5-6 -5 17 -5-8 -5-12 -5 9 -5 2 -5-3 -5-9 -5 1 -5 1 -5 16 -5-7 -5-4 -5 13 -5-12 -5 2 -5-3 -5 3 -5-3 -5 4 -5-4 -5 4 -5 2 -5-2 -5 6 -5-5 -5-2 -5 5 -5 0 -5-2 -5 0 -5-2 -5 3 -5 0 -5-4 -5 11 -5-3 -5-4 -5 0 -5-3 -5 1 -5-2 -5 1 -5 0 -5 2 -5-1 -5 3 -5-3 -5 7 -5 2 -5-7 -5-2 -5 3 -5-3 -5 5 -5 4 -5-6 -5 0 -5-1 -5 0 -5 5 -5-2 -5-3 -5 1 -5 0 -5 6 -5-8 -5 8 -5-7 -5 7 -5-5z"/>
<path transform="scale(0.1)" vector-effect="non-scaling-stroke" fill="#3eb2f2" stroke="#3eb2f2" stroke-width="0.5" d="M2576 3397l5 0 5 1 5-1 5 0 5 0 5 0 5 0 5 0 5 0 5 0 5 1 5 0 5 0 5 0 5 0 5 0 5-1 5 1 5-1 5 0 5 1 5 0 5-1 5 0 5 0 5 0 5 0 5 0 5 0 5 0 5 0 5 0 5 0 5 0 5 0 5 0 5 0 5 0 5 0 5 0 5 0 5 0 5 0 5 0 5 0 5 0 5 0 5 0 5 0 5 0 5 0 5 0 5-1 5 1 5 0 5 0 5 0 5 0 5-1 5 1 5 0 5 0 5-1 5 0 5 1 5 0 5-1 5 1 5 0 5 0 5 0 5-1 5-1 5 2 5 0 5-1 5 0 5 0 5 1 5-1 5 1 5-1 5 1 5-1 5 0 5 0 5 0 5 0 5 0 5 0 5 0 5 0 5 0 5 0 5 0 5 0 5 0 5 0 5-1 5 1 5 0 5 0 5 0 5 0 5 0 5 0 5 0 5 0 5 0 5 0 5 0 5 0 5 0 5 1 5-1 5 0 5 1 5 0 5-1 5 0 5 0 5-1 5 1 5 0 5 0 5-1 5 1 5 0 5-1 5 1 5 0 5-1 5 0 5 0 5 1 5 0 5 0 5 0 5-1 5 0 5 0 5 0 5 1 5 0 5 0 5 0 5 0 5 0 5-4 5-9 5-9 5-12 5-2 5-12 5-2 5-22 5 7 5-9 5-8 5-9 5-5 5-12 5-14 5 7 5-5 5-11 5-13 5 4 5-22 5 0 5 7 5-60 5 39 5-4 5-12 5-42 5 25 5 0 5-18 5 14 5-6 5-5 5-9 5-1 5-16 5-32 5 27 5-10 5-23 5 3 4-16 5 3 5 3 5-32 5-14 5 15 5-2 5 3 5-6 5 0 5-26 5 15 5-12 5 11 5-8 5-9 5 12 5-9 5-8 5 9 5-19 5 16 5-38 5 41 5-24 5-3 5 18 5-2 5-9 5-2 5-17 5 11 5-7 5-10 5 2 5 0 5-28 5-31 5 55 5 15 5-8 5-14 5 25 5-42 5 49 5 1 5-13 5 16 5-29 5 30 5-27 5 10 5-3 5-2 5-43 5 31 5-9 5 6 5 1 5-19 5 19 5 0 5-8 5 8 5 1 5-1 5 15 5-12 5 7 5 5 5 3 5 8 5-23 5 21 5-43 5 13 5 8 5 15 5-13 5 15 5-4 5-17 5 0 5 22 5 2 5 0 5-43 5 50 5-18 5 11 5-16 5 3 5-6 5 18 5-21 5-20 5 56 5 1 5 5 5 2 5-4 5 0 5 1 5-1 5-22 5 4 5 12 5-6 5-2 5-17 5 11 5-10 5 16 5 2 5-51 5 48 5 6 5-2 5-7 5 4 5 3 5-2 5-6 5-17 5 5 5 11 5-9 5-2 5 15 5-9 5-14 5 14 5 11 5 0 5 5 5-24 5 14 5-61 5 45 5-8 5-23 5 34 5-2 5 11 5 5 5-15 5-6 5-19 5 45 5-3 5-4 5-15 5 29 5-10 5 10 5-9 5 3 5-17 5 10 5 2 5 4 5-14 5-36 5 34 5 2 5-8 5 12 5-4 5-26 5 1 5 29 5-49 5 31 5-10 5 19 5-7 5-12 5-3 5 20 5 10 5 4 5 6 5 1 5-16 5-7 5-4 5 21 5 6 5-1 5-16 5 6L4480 3144l-5 9 -5 8 -5-9 -5 12 -5-20 -5 12 -5-1 -5-7 -5-4 -5 17 -5 9 -5 14 -5-53 -5-5 -5 15 -5-10 -5 13 -5-14 -5 3 -5 11 -5 6 -5 5 -5 32 -5-17 -5-15 -5 14 -5-16 -5 4 -5-11 -5-3 -5 4 -5-2 -5 11 -5 7 -5-4 -5-7 -5 12 -5-10 -5 36 -5-41 -5 5 -5 17 -5-17 -5 28 -5-15 -5-25 -5 3 -5 19 -5-20 -5 27 -5-24 -5 11 -5-15 -5 22 -5-7 -5 5 -5-8 -5 46 -5-46 -5 2 -5-17 -5 3 -5 2 -5 4 -5 23 -5-7 -5 7 -5-19 -5 15 -5 1 -5-15 -5 2 -5 10 -5-20 -5 22 -5-20 -5 9 -5 27 -5-24 -5-10 -5 7 -5 6 -5 10 -5-12 -5 10 -5-6 -5 4 -5 7 -5-22 -5 11 -5 11 -5 15 -5-35 -5 8 -5 2 -5-7 -5-14 -5 51 -5-52 -5 8 -5 3 -5-3 -5 22 -5-31 -5 4 -5 10 -5-7 -5-6 -5 37 -5-42 -5 5 -5-10 -5 9 -5-9 -5 8 -5 8 -5-9 -5 0 -5 11 -5 22 -5-30 -5 11 -5 41 -5-42 -5-20 -5 0 -5 12 -5-14 -5-15 -5 24 -5-20 -5-4 -5 41 -5-28 -5-5 -5 3 -5 51 -5 12 -5-46 -5 3 -5 19 -5-27 -5 7 -5 29 -5 4 -5-24 -5-8 -5 5 -5 1 -5-16 -5-4 -5 0 -5-5 -5 12 -5-7 -5 15 -5-8 -5 4 -5 1 -5 11 -5-19 -5 12 -5 20 -5-14 -5 26 -5-27 -5 11 -5-12 -5 2 -5 14 -5-7 -5 28 -5 16 -5-34 -5 5 -5 14 -5-17 -5 4 -5 0 -5 12 -5 12 -5 25 -5 5 -5-20 -5-18 -5 16 -5-6 -5 16 -5 4 -5 9 -4-8 -5 6 -5 7 -5 12 -5-3 -5 13 -5-5 -5 6 -5-1 -5 10 -5 9 -5-3 -5 6 -5-8 -5 3 -5 8 -5 1 -5 12 -5 5 -5 12 -5-1 -5 23 -5-16 -5-3 -5 12 -5-1 -5 12 -5 7 -5-4 -5 8 -5 0 -5 10 -5 22 -5-4 -5 18 -5-7 -5 1 -5 8 -5-1 -5 0 -5-1 -5-1 -5 1 -5-1 -5 1 -5-1 -5 0 -5 0 -5 1 -5-1 -5 0 -5 0 -5 1 -5 0 -5 0 -5 0 -5-1 -5 1 -5-1 -5 0 -5 0 -5 0 -5 0 -5 1 -5-1 -5 1 -5 0 -5 0 -5 0 -5 0 -5 1 -5-1 -5 0 -5 1 -5-1 -5 0 -5 0 -5 0 -5 0 -5 0 -5 1 -5-1 -5 0 -5 0 -5 0 -5 0 -5 0 -5 0 -5 0 -5 0 -5 0 -5 0 -5 0 -5 0 -5 0 -5 0 -5 0 -5 0 -5 0 -5 0 -5 0 -5 0 -5 0 -5 0 -5 1 -5-1 -5 1 -5-1 -5 0 -5 0 -5 0 -5 0 -5 0 -5 0 -5 0 -5 0 -5 0 -5 0 -5 0 -5 0 -5 0 -5 0 -5 0 -5 1 -5 0 -5 0 -5-1 -5 1 -5-1 -5 1 -5 0 -5-1 -5 0 -5 0 -5 0 -5 1 -5-1 -5 0 -5 0 -5 0 -5 1 -5-1 -5 0 -5 1 -5 0 -5 0 -5 0 -5 0 -5 1 -5-1 -5 0 -5 0 -5 0 -5 1 -5-1 -5 0 -5 0 -5 0 -5 0 -5 0 -5 0 -5 0 -5 0 -5 0 -5 0 -5 0 -5 0 -5 0 -5 0 -5 1 -5-1 -5 1 -5-1 -5 0 -5 1 -5-1 -5 0 -5 1 -5-1 -5 0 -5 0 -5 0 -5 0 -5 0 -5 0 -5 0 -5 0 -5 0 -5 0 -5 0 -5 0z"/>
<path transform="scale(0.1)" vector-effect="non-scaling-stroke" fill="#acb5f4" stroke="#acb5f4" stroke-width="0.5" d="M2576 3399l5 0 5 0 5 0 5-2 5 1 5 1 5-1 5 0 5-1 5 0 5 1 5 0 5 0 5-2 5 2 5-1 5-1 5 1 5-1 5-1 5 2 5-1 5 1 5-2 5 0 5 1 5-1 5-1 5 0 5 1 5-1 5 2 5 0 5 0 5-2 5 0 5 2 5-1 5 0 5 0 5-3 5 3 5 0 5-8 5 7 5-2 5 1 5-2 5 1 5 0 5-4 5 4 5 0 5-4 5 3 5 0 5-1 5-1 5 2 5-1 5 1 5-2 5 3 5-2 5 1 5 0 5-1 5 1 5-1 5 2 5-2 5 1 5 0 5-1 5 0 5-3 5 1 5 1 5 0 5 0 5 1 5-1 5-1 5 0 5-2 5 2 5 0 5-1 5-2 5-4 5 4 5 0 5 2 5-1 5-2 5 2 5-3 5 4 5-4 5 1 5 3 5-1 5 1 5 0 5-7 5 4 5 3 5-5 5 6 5-5 5 6 5 0 5 0 5-5 5 5 5-1 5-1 5-2 5 1 5-6 5 5 5-7 5 7 5-1 5 0 5 0 5 0 5 0 5-2 5-4 5 3 5-2 5 5 5-1 5-3 5-1 5 4 5 1 5-1 5 2 5-5 5 4 5-1 5-4 5 3 5 3 5-2 5 0 5-2 5 0 5 4 5-1 5-6 5 0 5-5 5-5 5-4 5-2 5-9 5-6 5 0 5-3 5-8 5 1 5-19 5-2 5 4 5-13 5-8 5 1 5-8 5 3 5-5 5-23 5 12 5-4 5 5 5-31 5 23 5-2 5 0 5-12 5-5 5 5 5 0 5-5 5-26 5-26 5 16 5 18 4 2 5-14 5 1 5 13 5-22 5 16 5 10 5-9 5-5 5-21 5 12 5 9 5-4 5 15 5 0 5 1 5-9 5 6 5 4 5 2 5 0 5-6 5-1 5-24 5 24 5-40 5 26 5-7 5 4 5 9 5 4 5 2 5-16 5 2 5 22 5-36 5-1 5 24 5 15 5-16 5 0 5 11 5 1 5-26 5 29 5 4 5 1 5-17 5 2 5-21 5 29 5-3 5-11 5 1 5-16 5 12 5-14 5 36 5-16 5-25 5 28 5 11 5-40 5 12 5-25 5 42 5-2 5-11 5 8 5 2 5-29 5 32 5-10 5-1 5-10 5 13 5 4 5-3 5-5 5-17 5 9 5-2 5 8 5 3 5-19 5 27 5-8 5-9 5 10 5 1 5-1 5 2 5-30 5 19 5 9 5-15 5 10 5-6 5 8 5 3 5-13 5 2 5 12 5-11 5 1 5 3 5 4 5-6 5 4 5-12 5 3 5 4 5-12 5-9 5 10 5 4 5-20 5-32 5 39 5 6 5-25 5 20 5-15 5-22 5 53 5 0 5 3 5-11 5-11 5-3 5 19 5 4 5-11 5 7 5-3 5-36 5 44 5-9 5-2 5 14 5-10 5 13 5-27 5 26 5-16 5 16 5 6 5-14 5 10 5-2 5-8 5 4 5 3 5-3 5-7 5-30 5 32 5-3 5 0 5-1 5-3 5-9 5-1 5 27 5 7 5-2 5-2 5 2 5-11 5 5 5-21 5 17 5-3 5 14 5-10 5-13 5 6 5-3 5 1 5 9 5-17 5 20 5-4 5-16 5 10 5 11 5-2 5-19 5 5 5-4 5 21L4480 3270l-5 8 -5 5 -5-13 -5-2 -5 6 -5-7 -5 2 -5 21 -5-21 -5 1 -5 14 -5 17 -5-33 -5 5 -5-4 -5 12 -5 18 -5-7 -5-19 -5 4 -5 13 -5 3 -5-18 -5 24 -5-1 -5-12 -5 4 -5-9 -5-7 -5 4 -5 7 -5 6 -5-23 -5 5 -5 16 -5-8 -5-5 -5-7 -5 17 -5-8 -5 34 -5-31 -5 11 -5-17 -5 3 -5 2 -5 8 -5-2 -5 4 -5 22 -5-16 -5-10 -5-6 -5-9 -5-3 -5 2 -5 7 -5 3 -5-7 -5 14 -5-9 -5-7 -5 13 -5-16 -5 20 -5-15 -5-1 -5 22 -5-28 -5-4 -5 19 -5-12 -5-12 -5 7 -5 1 -5 15 -5 14 -5-14 -5-8 -5 1 -5 9 -5 52 -5-49 -5 8 -5-5 -5-9 -5 20 -5-11 -5 4 -5-9 -5 17 -5-9 -5 1 -5-10 -5 0 -5 30 -5-24 -5 20 -5-7 -5 14 -5-26 -5 0 -5-1 -5 14 -5 2 -5-9 -5-2 -5 24 -5-29 -5 6 -5-5 -5 17 -5-11 -5-2 -5 23 -5-20 -5 20 -5-23 -5 4 -5 21 -5-18 -5-8 -5 13 -5-1 -5 10 -5-12 -5 2 -5 7 -5 1 -5 26 -5-14 -5-18 -5 1 -5 16 -5-16 -5-1 -5 6 -5 4 -5 0 -5-3 -5 6 -5 28 -5-37 -5 4 -5 16 -5 14 -5-20 -5 2 -5-11 -5 3 -5 0 -5 18 -5-25 -5 44 -5-42 -5-2 -5-4 -5 7 -5-11 -5 30 -5-24 -5 0 -5 7 -5 47 -5-51 -5 2 -5 31 -5-29 -5 37 -5-10 -5-27 -5-3 -5-2 -5 5 -5 24 -5-28 -5 17 -5-1 -5 12 -5 1 -5-21 -5-10 -5 52 -5-49 -5-5 -5 21 -5-7 -5-1 -5 5 -5-7 -4-7 -5 4 -5 11 -5 7 -5 0 -5 6 -5-5 -5 68 -5-75 -5 12 -5-9 -5 13 -5-10 -5-3 -5 4 -5 20 -5-3 -5 0 -5 37 -5-44 -5 16 -5-3 -5 7 -5-1 -5 6 -5-1 -5 10 -5-1 -5 4 -5-3 -5 2 -5 17 -5-6 -5-4 -5 2 -5 3 -5 4 -5-1 -5 1 -5 1 -5-1 -5 3 -5-2 -5 5 -5-4 -5-2 -5 0 -5 6 -5-5 -5 1 -5-1 -5 5 -5-6 -5-2 -5 2 -5-2 -5 2 -5-1 -5-1 -5 4 -5-3 -5 3 -5-3 -5 0 -5 0 -5 0 -5 3 -5 1 -5-2 -5-2 -5 1 -5 4 -5-1 -5 0 -5-2 -5 5 -5-3 -5-1 -5 0 -5 3 -5-2 -5 0 -5 2 -5 1 -5-3 -5-1 -5-1 -5 2 -5-2 -5 0 -5 3 -5-1 -5-1 -5-2 -5-1 -5 7 -5-8 -5 2 -5 0 -5 0 -5 1 -5-1 -5 5 -5-6 -5 3 -5 1 -5 0 -5-2 -5-1 -5 4 -5-3 -5 3 -5-1 -5-3 -5 0 -5 5 -5-4 -5 1 -5 0 -5 4 -5-3 -5 0 -5 1 -5-1 -5 1 -5 2 -5-2 -5-1 -5-1 -5 1 -5-1 -5 0 -5 3 -5-3 -5 0 -5 1 -5 3 -5-4 -5 0 -5-1 -5 2 -5-1 -5 0 -5 1 -5-1 -5 0 -5 1 -5 1 -5-1 -5 3 -5-2 -5 0 -5 1 -5 0 -5-1 -5 0 -5 0 -5 0 -5 2 -5-2 -5 1 -5-1 -5 1 -5 1 -5-1 -5-1 -5 1 -5-1 -5 1 -5 0 -5-1 -5 1 -5-1 -5 1 -5 1 -5-2 -5 1 -5 0 -5 0 -5 1 -5-1 -5 1 -5-1 -5 0 -5 1 -5-1 -5 1 -5-1 -5 0 -5 0 -5 0z"/>
<path transform="scale(0.1)" vector-effect="non-scaling-stroke" fill="#bfef8c" stroke="#bfef8c" stroke-width="0.5" d="M2576 3398l5 0 5 1 5-3 5 2 5 0 5 0 5 0 5-1 5 1 5-1 5 1 5 0 5 0 5 0 5 0 5-2 5 0 5 0 5 1 5 0 5 0 5-1 5-1 5 2 5-1 5 1 5-1 5 0 5 0 5 1 5-1 5 0 5-1 5-1 5 2 5-5 5 5 5 0 5 0 5-1 5-1 5 0 5 1 5 1 5 0 5-1 5 0 5-3 5-5 5 7 5 1 5 0 5 0 5 0 5 0 5-2 5 1 5 0 5-4 5 4 5-1 5 1 5-1 5 1 5-1 5-1 5 2 5 0 5-4 5 3 5-2 5 1 5 1 5 0 5 0 5 0 5 0 5-1 5 0 5-1 5 3 5-2 5 0 5-3 5-1 5-3 5-12 5-4 5 3 5 0 5-5 5-2 5-6 5-3 5-1 5-8 5 1 5-4 5 0 5 1 5-6 5-7 5-8 5-10 5 11 5-1 5 1 5-2 5-20 5 4 5-6 5 3 5-7 5 13 5-39 5 40 5-20 5 14 5-3 5 0 5-14 5 1 5 10 5 1 5-12 5-6 5 1 5 8 5-13 5 3 5 19 5-16 5 12 5 2 5-3 5 4 5-40 5 28 5 10 5-2 5-8 5-25 5 41 5-3 5-3 5-5 5 6 5-6 5-11 5 23 5-20 5 16 5-2 5-43 5 33 5 1 5 11 5 2 5-38 5 38 5-24 5 8 5 21 5-1 5-29 5 28 5 2 5 0 5-2 5-3 5 6 5 1 5-2 5-12 5 8 5 7 5-1 5 1 5-9 5-5 5-2 5 14 5-4 5 3 5 5 5 3 5-5 5 3 5-5 5 2 4-6 5 4 5 9 5-17 5 12 5-15 5 5 5 3 5-13 5-6 5 27 5-16 5 14 5-1 5 3 5 2 5-17 5-26 5 23 5 19 5-19 5-1 5 20 5-25 5 23 5-1 5 5 5-42 5 40 5-22 5 22 5-9 5-18 5 24 5-29 5 27 5-6 5 7 5-4 5 2 5-3 5 0 5-4 5 6 5-12 5-14 5 24 5-3 5 2 5 3 5-11 5-9 5 13 5-4 5-17 5 19 5-7 5-24 5 23 5-16 5 15 5 10 5-8 5-28 5 26 5-13 5-11 5 26 5 0 5-46 5 36 5-14 5 23 5-8 5 10 5-7 5-1 5 5 5 8 5 4 5-10 5 14 5-5 5-24 5-20 5 35 5 10 5-53 5 48 5-44 5 34 5 4 5 1 5-5 5-28 5 13 5 17 5-12 5 7 5-9 5 20 5-7 5-28 5 30 5-3 5 8 5-13 5 14 5 0 5-1 5-4 5-47 5-4 5 56 5-1 5-9 5 5 5 5 5-3 5-2 5-20 5 12 5 8 5-22 5 21 5 3 5 2 5-2 5-9 5 5 5-17 5 9 5 5 5-10 5 18 5-14 5 11 5-2 5 1 5 3 5-4 5 8 5-7 5-20 5 14 5 13 5-2 5-22 5 20 5-5 5 5 5-2 5 4 5-67 5 38 5 27 5 1 5-14 5 6 5 2 5 3 5 0 5-13 5 11 5 4 5-11 5 9 5 6 5-7 5-1 5 10 5-4 5-2 5-1 5-14 5 12 5-8 5 0 5 8 5-4 5-8 5-12 5 24 5-14 5-7 5-28 5 51 5 3 5-5 5 7 5-7L4480 3362l-5-28 -5-2 -5 6 -5 5 -5-13 -5 0 -5 5 -5-4 -5 15 -5-18 -5 21 -5-19 -5-2 -5 29 -5-22 -5-5 -5 2 -5 1 -5 1 -5 34 -5-18 -5-9 -5 0 -5 17 -5-26 -5 9 -5 11 -5-23 -5 7 -5-2 -5 8 -5-14 -5 38 -5-28 -5-8 -5 6 -5-7 -5 8 -5-7 -5 14 -5 3 -5-10 -5 9 -5-15 -5 1 -5-1 -5 30 -5-24 -5-4 -5 27 -5-6 -5-3 -5-17 -5 18 -5-19 -5-4 -5 10 -5 37 -5-37 -5-10 -5 20 -5 8 -5-27 -5 3 -5 8 -5-2 -5-6 -5-3 -5 6 -5-8 -5 4 -5 2 -5-1 -5 37 -5-22 -5-11 -5 47 -5-37 -5-13 -5 0 -5 4 -5 12 -5-5 -5-5 -5-4 -5 30 -5-23 -5 6 -5-14 -5-1 -5 11 -5-17 -5 1 -5 11 -5 46 -5-43 -5 10 -5-17 -5 6 -5-4 -5 5 -5-2 -5 18 -5 4 -5-21 -5 11 -5-7 -5 3 -5-8 -5 5 -5-9 -5 3 -5-4 -5-1 -5 3 -5-5 -5-2 -5 10 -5-10 -5-1 -5 15 -5 0 -5 8 -5-26 -5 1 -5 28 -5-21 -5 5 -5 0 -5 7 -5 10 -5 1 -5-19 -5 2 -5 4 -5 1 -5 39 -5-41 -5 6 -5-7 -5 14 -5-1 -5-5 -5-7 -5 1 -5 11 -5 0 -5-2 -5 8 -5-1 -5-10 -5 1 -5 10 -5-10 -5-1 -5-3 -5 17 -5 8 -5-19 -5 2 -5 28 -5-13 -5-4 -5-3 -5-9 -5-2 -5 16 -5 2 -5-6 -5 1 -5-11 -5 30 -5-21 -5-14 -5 2 -5-3 -5 15 -5 34 -5-40 -5-7 -5 1 -5 46 -5-37 -5-10 -5 8 -5 6 -5 11 -5-12 -5 10 -5-8 -4-14 -5 3 -5 24 -5-23 -5-5 -5-1 -5 2 -5 9 -5-4 -5-6 -5 4 -5-1 -5 4 -5-1 -5-8 -5 14 -5-15 -5 4 -5 11 -5-14 -5 11 -5 25 -5-18 -5-17 -5 6 -5-5 -5-2 -5 3 -5-4 -5-3 -5-3 -5 6 -5-8 -5 2 -5 11 -5-8 -5-5 -5 13 -5-7 -5-5 -5 6 -5-7 -5 10 -5-5 -5 1 -5-2 -5-3 -5 12 -5-4 -5-9 -5-2 -5 42 -5-41 -5 10 -5-5 -5 34 -5-38 -5 5 -5 14 -5-18 -5 12 -5-11 -5 21 -5 27 -5-52 -5 3 -5 9 -5-7 -5 4 -5 4 -5-9 -5 5 -5 5 -5 1 -5-6 -5-1 -5 6 -5 13 -5-16 -5 15 -5-9 -5-1 -5 20 -5-20 -5 7 -5 25 -5-26 -5 13 -5 19 -5-24 -5 7 -5-4 -5 5 -5 5 -5 13 -5 9 -5-25 -5 4 -5 5 -5-1 -5 8 -5 0 -5-1 -5 1 -5 1 -5 3 -5 0 -5 2 -5 0 -5 0 -5-1 -5 0 -5 0 -5 0 -5 4 -5 0 -5-4 -5 3 -5-1 -5 0 -5-1 -5 0 -5 3 -5-4 -5 2 -5-1 -5 1 -5-1 -5-1 -5 2 -5-1 -5 0 -5 0 -5 1 -5-1 -5 0 -5 3 -5-2 -5 1 -5 0 -5 0 -5-2 -5 0 -5 3 -5-1 -5 1 -5-3 -5 3 -5 0 -5-3 -5 0 -5 2 -5-2 -5 2 -5-1 -5 0 -5 0 -5 2 -5-1 -5-2 -5 2 -5-1 -5-1 -5 3 -5-2 -5 2 -5 0 -5-2 -5 1 -5-1 -5 0 -5 1 -5-1 -5 2 -5 0 -5-1 -5 0 -5 0 -5-1 -5 1 -5 0 -5 1 -5-1 -5 0 -5 0 -5 0 -5 0 -5 0 -5 1 -5 0 -5-1z"/>
<path transform="scale(0.1)" vector-effect="non-scaling-stroke" fill="#c3f09a" stroke="#c3f09a" stroke-width="0.5" d="M2576 3400l5-1 5 1 5-1 5 0 5-2 5 3 5-2 5 1 5 0 5 0 5-1 5 0 5 1 5-3 5 2 5 0 5 0 5 0 5-1 5 0 5 1 5-1 5-1 5 2 5-6 5 5 5 1 5-1 5-1 5 1 5-1 5 1 5-2 5 2 5 0 5 0 5 0 5-2 5 1 5 0 5 0 5-1 5 0 5 0 5 0 5 0 5 0 5-4 5 4 5-2 5 1 5 1 5-1 5-2 5 4 5 0 5-1 5-1 5 1 5-1 5-1 5 1 5 1 5-2 5 0 5-2 5 3 5-3 5 2 5 1 5 0 5 0 5 0 5 0 5 1 5 0 5-1 5-1 5 1 5 0 5-1 5 0 5 0 5 0 5 0 5 1 5 0 5-1 5-1 5 1 5-2 5 2 5 0 5-1 5 0 5-1 5-2 5 1 5-2 5 0 5-3 5 2 5-4 5 1 5-2 5-1 5-2 5-2 5-1 5-3 5-1 5 1 5 0 5-2 5-6 5 2 5-8 5-4 5 7 5-1 5 3 5-4 5-5 5 5 5-3 5 0 5-13 5 8 5-3 5-20 5 10 5 5 5-16 5 8 5 5 5-10 5-5 5 10 5 3 5 1 5-7 5 1 5-1 5-2 5 1 5-2 5-25 5 27 5-2 5-11 5 6 5-23 5 16 5 13 5-9 5-10 5 4 5 4 5 3 5 1 5-8 5-2 5 7 5 7 5-5 5-21 5 18 5-7 5-2 5-22 5 29 5 4 5 3 5 0 5 2 5-33 5 27 5 5 5 3 5-15 5 1 5 9 5-6 5-52 5 46 5 6 5-1 5 2 5-6 5 5 4-10 5 10 5-5 5-1 5 6 5-11 5-10 5 12 5-6 5 8 5 4 5-1 5 0 5-10 5 1 5-7 5-8 5 2 5-41 5 43 5 0 5-1 5 3 5 4 5-11 5 5 5-1 5 6 5 5 5-17 5 12 5-6 5-7 5 16 5 1 5-23 5 18 5-10 5 14 5-5 5 0 5 0 5 4 5-12 5 0 5 11 5-21 5 22 5-15 5 11 5-5 5-19 5 23 5-10 5 8 5 3 5 0 5-7 5 10 5 3 5-51 5 42 5 9 5 3 5-5 5-2 5-9 5 4 5-23 5 30 5-1 5-10 5 10 5-8 5-43 5 52 5 7 5-2 5-12 5 10 5-1 5 11 5-2 5-24 5 18 5-12 5-23 5 25 5-16 5 17 5 1 5-50 5-8 5 46 5-2 5-20 5 25 5 2 5-7 5 4 5 8 5-12 5 8 5-6 5 4 5-4 5-47 5 39 5 14 5-4 5-17 5 17 5-10 5 3 5 1 5-9 5-15 5 15 5 6 5-4 5 6 5-22 5 4 5 10 5 12 5-10 5 13 5-6 5 7 5-11 5 2 5 3 5 5 5-6 5-6 5 3 5-2 5 5 5 4 5 0 5-3 5 0 5-1 5 5 5 7 5-2 5-3 5 3 5-4 5 6 5-9 5 8 5-8 5 3 5 10 5-4 5-2 5-19 5 12 5-4 5 7 5-6 5 2 5-3 5 14 5-20 5 20 5-6 5-22 5 18 5 1 5-4 5 11 5-4 5-3 5 3 5-12 5 14 5-13 5 8 5-11 5 12 5-11 5 4 5-1 5-21 5 32 5 1 5-6 5-18 5 18L4480 3334l-5-5 -5 22 -5-8 -5-14 -5 9 -5-7 -5 7 -5-10 -5 13 -5-13 -5 9 -5-2 -5 4 -5-5 -5 2 -5-9 -5 9 -5-5 -5 26 -5-18 -5-7 -5 35 -5-34 -5 5 -5 29 -5-5 -5-21 -5-5 -5 0 -5 22 -5-6 -5-13 -5-1 -5-6 -5 37 -5-33 -5 19 -5 0 -5-20 -5-4 -5 2 -5 0 -5 6 -5-6 -5-3 -5 9 -5 30 -5-40 -5-2 -5 1 -5-6 -5 17 -5 1 -5-16 -5 0 -5 14 -5-5 -5 1 -5 4 -5-8 -5 0 -5 0 -5 0 -5-3 -5 18 -5-20 -5 8 -5-1 -5-15 -5 2 -5 0 -5 1 -5 1 -5 13 -5-14 -5 16 -5-4 -5 12 -5-1 -5-4 -5-8 -5 1 -5-3 -5 20 -5-11 -5 4 -5-8 -5 2 -5-4 -5-1 -5 9 -5 2 -5 6 -5-9 -5-4 -5 33 -5-37 -5 16 -5-12 -5 11 -5-2 -5 8 -5-8 -5 14 -5 2 -5-7 -5-1 -5-2 -5 11 -5-1 -5-9 -5 2 -5-7 -5 13 -5-2 -5-3 -5-4 -5 13 -5-19 -5-1 -5-4 -5 9 -5-3 -5 0 -5 28 -5-21 -5-9 -5 7 -5-5 -5-6 -5 5 -5 1 -5-9 -5 1 -5-2 -5 14 -5 28 -5-35 -5 4 -5-5 -5-6 -5 2 -5 11 -5-11 -5 3 -5 1 -5 7 -5-7 -5 27 -5-27 -5 6 -5-1 -5-5 -5 37 -5-27 -5-8 -5 19 -5-26 -5 3 -5-1 -5 42 -5-24 -5-6 -5 13 -5-17 -5 5 -5 2 -5-13 -5-4 -5-2 -5 17 -5 5 -5-12 -5-5 -5 1 -5 5 -5 8 -5 10 -5 12 -5-15 -5-10 -5 0 -5 2 -5 0 -5-2 -5 3 -5 4 -5-2 -5 0 -5 3 -4 13 -5-9 -5-4 -5 5 -5 9 -5 5 -5-8 -5 4 -5-14 -5 6 -5 26 -5-27 -5-5 -5 14 -5-5 -5-4 -5-5 -5-3 -5 16 -5-1 -5-8 -5 10 -5-18 -5 6 -5-3 -5 12 -5-10 -5 7 -5 10 -5-18 -5-2 -5 6 -5 11 -5-10 -5 1 -5-6 -5 4 -5-2 -5 24 -5-26 -5-1 -5 2 -5 10 -5-7 -5 30 -5-11 -5-13 -5-3 -5-1 -5 14 -5-14 -5 2 -5 7 -5-9 -5-1 -5-1 -5 3 -5 0 -5 5 -5 3 -5-4 -5 3 -5 7 -5 23 -5-17 -5-9 -5 0 -5 2 -5 5 -5 11 -5-14 -5 6 -5-5 -5 2 -5-1 -5 6 -5 1 -5-5 -5 2 -5 5 -5-2 -5 6 -5-5 -5 4 -5-3 -5 3 -5-1 -5 1 -5 3 -5 0 -5-1 -5 3 -5 0 -5-3 -5 2 -5 3 -5-4 -5 0 -5 0 -5 0 -5 2 -5 3 -5-4 -5 0 -5 0 -5 2 -5-1 -5-1 -5 0 -5 4 -5-3 -5 0 -5 1 -5 1 -5-2 -5-1 -5 1 -5-1 -5 0 -5 1 -5 0 -5-1 -5 3 -5-4 -5 1 -5 3 -5-3 -5 1 -5 3 -5-4 -5 1 -5 0 -5 0 -5 0 -5 0 -5-1 -5 2 -5-1 -5 2 -5-2 -5-1 -5 0 -5 0 -5 1 -5-1 -5 1 -5-1 -5 1 -5 0 -5 2 -5-1 -5-1 -5 0 -5 0 -5 1 -5-1 -5 2 -5-1 -5 0 -5 0 -5 0 -5 0 -5 0 -5 0 -5 0 -5 0 -5 0 -5 1 -5 1 -5 0 -5 0 -5-1 -5 0 -5 1 -5-1 -5 0 -5 1 -5-1 -5 1 -5-1 -5 0 -5 1 -5-1 -5 0 -5 0 -5 0 -5 1 -5 0 -5 0 -5 0 -5 0z"/>
<path transform="scale(0.1)" vector-effect="non-scaling-stroke" fill="#f8d4ae" stroke="#f8d4ae" stroke-width="0.5" d="M2576 3398l5 0 5 0 5-1 5 1 5 0 5 0 5-1 5 0 5 1 5-1 5 1 5 0 5-1 5 0 5 0 5 0 5 0 5-1 5 0 5-6 5 6 5 0 5-1 5-2 5 0 5 3 5 0 5-1 5 1 5 0 5-1 5 0 5 0 5 0 5 0 5-1 5 1 5-1 5 0 5 1 5-2 5 1 5 0 5 1 5-1 5-1 5 0 5 1 5 0 5-1 5 0 5-3 5 3 5-1 5-1 5 2 5 0 5 0 5 0 5-1 5 1 5-1 5 0 5 0 5 0 5 1 5 0 5 0 5-4 5 4 5-1 5 0 5 0 5-2 5 1 5 0 5 1 5 0 5 0 5 0 5 0 5-1 5-1 5 1 5-3 5 1 5 2 5 0 5-2 5 2 5 0 5-2 5 0 5-2 5 0 5-2 5 0 5-1 5 0 5-2 5 0 5-6 5 4 5 1 5-1 5-8 5 7 5-1 5 2 5-1 5-3 5 1 5-1 5 1 5 0 5-1 5 1 5 0 5-10 5 7 5 0 5-1 5-1 5-3 5-2 5-3 5 5 5-10 5 7 5-12 5 10 5 0 5 5 5-12 5 8 5-1 5-1 5-7 5 6 5 0 5-7 5-1 5 4 5-10 5 6 5 3 5-9 5 7 5-7 5 9 5 2 5-2 5-6 5 8 5-2 5 1 5-14 5 6 5 1 5 12 5 0 5-2 5-5 5 4 5-4 5 3 5-2 5-1 5 3 5-2 5 1 5-1 5-4 5 1 5-5 5 6 5-9 5 5 5-9 5 11 5-4 5-21 5 25 5-2 5-15 5 13 5-7 5 7 5 3 5-4 4 2 5-10 5 9 5 0 5-5 5 7 5-8 5 11 5-4 5-3 5 1 5 5 5-1 5 2 5 2 5 1 5-1 5-5 5-6 5 10 5 0 5-2 5-4 5 4 5-1 5-14 5 7 5 6 5 4 5-10 5 6 5 7 5 0 5-1 5-4 5 3 5-4 5 3 5 3 5 1 5-21 5 23 5 0 5-3 5 4 5-1 5-3 5 5 5-4 5-16 5 18 5 1 5-3 5 0 5-6 5-7 5 13 5 3 5-4 5 4 5-3 5 3 5-1 5-4 5 3 5-3 5 7 5 0 5 2 5 1 5-14 5 7 5 6 5-6 5-12 5 13 5 3 5-1 5-4 5-1 5 0 5-5 5 2 5 11 5-15 5 13 5-2 5 3 5-3 5 4 5-2 5 3 5-4 5 3 5 2 5-3 5 2 5-3 5 2 5-9 5 6 5-7 5 3 5-5 5 6 5-1 5 2 5 1 5 0 5 1 5-5 5-7 5-5 5 15 5-1 5 1 5-7 5 7 5-3 5-1 5-3 5 3 5-2 5-1 5-5 5 1 5 6 5 0 5 0 5-2 5-2 5 4 5 3 5 4 5 1 5-8 5 3 5-3 5-6 5-4 5 10 5-6 5 10 5-3 5 0 5-1 5-1 5 0 5 1 5-8 5 7 5-5 5 3 5 1 5-7 5 0 5-2 5 8 5 0 5 1 5 2 5-8 5 6 5-3 5-2 5 4 5-4 5-6 5 5 5 4 5-1 5 1 5-2 5 1 5-3 5 3 5 3 5-4 5 2 5-2 5 2 5 1 5-2 5 6 5-19 5 11 5-1 5 4 5-5 5 6 5-1L4480 3393l-5-1 -5 1 -5-4 -5 2 -5 7 -5 3 -5-2 -5-1 -5-4 -5 0 -5 2 -5 0 -5-4 -5 2 -5 1 -5 0 -5-3 -5 1 -5 2 -5 0 -5 8 -5-11 -5-1 -5 6 -5-3 -5 2 -5 5 -5 2 -5-5 -5 3 -5-7 -5-1 -5-2 -5-2 -5 2 -5 1 -5 1 -5 2 -5-3 -5 3 -5-1 -5 9 -5 0 -5-6 -5 6 -5-5 -5-1 -5 5 -5 0 -5-5 -5 4 -5 2 -5-2 -5 2 -5 0 -5-1 -5-1 -5 2 -5-4 -5 0 -5 0 -5 1 -5 3 -5-7 -5 0 -5-1 -5 4 -5-2 -5 0 -5 6 -5-3 -5-2 -5 5 -5 0 -5 0 -5 0 -5 0 -5 0 -5 0 -5 0 -5 0 -5-3 -5 3 -5-2 -5-1 -5-1 -5 4 -5 0 -5 0 -5 0 -5 0 -5 0 -5 0 -5 0 -5 0 -5 0 -5 0 -5 0 -5 0 -5 0 -5 0 -5 0 -5 0 -5 0 -5 0 -5 0 -5 0 -5 0 -5 0 -5 0 -5 0 -5 0 -5 0 -5 0 -5-1 -5-1 -5 2 -5 0 -5 0 -5 0 -5 0 -5 0 -5 0 -5-1 -5 1 -5 0 -5 0 -5 0 -5 0 -5 0 -5-1 -5 1 -5 0 -5 0 -5-1 -5 1 -5 0 -5 0 -5 0 -5 0 -5 0 -5-1 -5 1 -5 0 -5 0 -5 0 -5-1 -5 1 -5-3 -5 0 -5-3 -5 6 -5-6 -5-1 -5 2 -5 5 -5 0 -5-2 -5-5 -5-1 -5-2 -5 8 -5-6 -5-3 -5 0 -5 0 -5 4 -5-2 -5 9 -5-9 -5 0 -5 0 -5-1 -5 1 -5 6 -5 0 -5-4 -5 0 -5-2 -5 7 -5-11 -5 3 -5 0 -5-2 -5-1 -5 5 -5-3 -5 1 -5 5 -5-3 -4-2 -5 8 -5-8 -5 3 -5-4 -5-1 -5 1 -5 2 -5 3 -5-2 -5 8 -5-8 -5-4 -5 7 -5-3 -5 0 -5 2 -5-1 -5-1 -5 4 -5-2 -5 0 -5 5 -5 1 -5-4 -5 1 -5 0 -5-2 -5 5 -5-2 -5 2 -5 0 -5 0 -5 0 -5-1 -5-3 -5-3 -5 1 -5 0 -5-1 -5 7 -5-2 -5 2 -5-9 -5 9 -5-7 -5-2 -5 0 -5 8 -5-5 -5 4 -5-3 -5-3 -5 8 -5-3 -5-1 -5 3 -5 0 -5-2 -5 3 -5-1 -5-3 -5 2 -5 2 -5-1 -5-1 -5 0 -5 2 -5-2 -5 2 -5 0 -5-1 -5 1 -5-1 -5 1 -5 0 -5-2 -5 1 -5 1 -5 0 -5-1 -5 0 -5-3 -5 3 -5-3 -5 0 -5-1 -5 3 -5-4 -5 1 -5 1 -5-1 -5 1 -5 3 -5 0 -5-2 -5 2 -5-1 -5 0 -5 0 -5-1 -5 0 -5 0 -5-1 -5 1 -5 1 -5-1 -5 1 -5-1 -5 0 -5 2 -5-3 -5 1 -5 0 -5-1 -5 2 -5-1 -5 1 -5-1 -5 2 -5-2 -5 0 -5 0 -5 0 -5 2 -5-2 -5 0 -5 1 -5-1 -5 2 -5 0 -5-2 -5 1 -5-1 -5 0 -5 0 -5 0 -5 0 -5 0 -5 0 -5 0 -5 0 -5 0 -5 1 -5 1 -5-1 -5 0 -5 0 -5 0 -5 0 -5 1 -5-1 -5 0 -5 0 -5 0 -5 0 -5 0 -5 0 -5 0 -5 1 -5 0 -5 0 -5 1 -5-1 -5 0 -5 1 -5-1 -5 1 -5-1 -5-1 -5 1 -5 1 -5-1 -5 1 -5 0 -5 0 -5-1 -5 1 -5 0 -5 0 -5 0 -5 0 -5-1 -5 0 -5 1 -5 0 -5 0 -5 0 -5 0 -5 0 -5 0z"/>
<path transform="scale(0.1)" vector-effect="non-scaling-stroke" fill="#3f5fe6" stroke="#3f5fe6" stroke-width="0.5" opacity="0.85" d="M2576 3400l5 1 5-1 5-1 5-1 5 1 5 0 5 0 5-1 5 2 5-1 5-3 5 2 5 2 5-1 5-1 5 0 5 1 5-1 5-2 5-5 5 7 5 1 5-2 5-2 5-7 5 10 5-2 5 0 5 2 5-2 5-6 5 6 5 0 5 2 5-3 5 1 5 2 5-3 5 2 5 0 5-1 5-7 5 6 5 0 5 2 5 0 5-4 5 3 5-9 5 5 5 4 5-3 5 3 5 0 5-1 5-1 5-9 5 4 5 7 5-2 5-1 5 1 5 2 5-1 5-2 5 3 5-1 5 2 5-4 5 5 5-1 5 0 5-4 5-8 5 12 5-1 5-10 5 11 5-3 5 0 5 3 5-8 5 2 5 4 5-5 5 4 5 0 5-4 5 1 5-4 5 6 5 2 5-1 5 0 5-4 5 4 5 0 5 1 5-1 5-3 5 3 5 2 5 0 5-1 5-3 5 0 5 2 5 0 5-8 5 7 5 1 5-13 5 14 5-9 5 8 5 1 5-2 5-8 5 7 5-2 5-3 5 2 5 2 5-9 5 10 5-5 5 6 5-3 5-4 5 7 5 0 5-1 5-8 5 10 5-1 5-4 5 1 5-5 5 7 5 0 5-5 5 5 5-2 5-3 5 2 5 2 5 1 5-1 5-2 5-4 5 2 5 5 5-1 5-6 5 4 5 2 5 0 5 1 5-3 5-1 5 3 5 1 5-4 5 3 5-4 5 2 5 1 5 1 5-4 5 1 5 0 5-22 5 19 5 3 5-4 5 4 5 0 5-4 5-4 5 5 5-18 5 14 5 4 5-13 5 6 5 8 5 0 5 1 5 1 5-14 4-6 5 16 5-4 5 2 5-4 5 2 5 4 5-2 5 0 5-2 5 0 5 2 5-2 5 2 5-1 5 1 5-2 5-1 5-1 5-3 5 6 5-1 5 0 5 3 5-8 5 7 5-1 5-2 5-20 5 18 5-2 5-8 5 5 5 5 5-2 5 5 5-5 5-17 5 5 5 9 5 7 5-1 5-3 5-1 5 6 5 0 5-22 5 10 5 3 5 4 5-1 5-1 5-7 5 10 5 2 5-3 5-3 5 3 5 1 5-2 5 3 5-4 5 1 5 0 5 1 5-1 5-2 5-8 5 6 5 2 5-4 5 4 5-2 5 2 5-1 5-14 5 16 5-9 5 12 5-3 5 0 5 0 5-1 5-2 5-5 5-5 5 12 5-7 5 0 5-10 5 20 5-18 5 11 5 0 5 3 5-9 5 12 5-38 5 26 5 12 5 0 5-2 5 3 5 3 5-5 5 1 5-2 5-7 5 8 5 1 5-1 5 3 5-5 5 6 5-1 5-6 5-8 5 17 5-1 5-1 5-6 5 6 5-3 5 4 5 0 5-4 5 3 5 2 5-7 5 1 5 0 5 1 5-4 5 5 5 2 5-6 5 5 5-1 5 1 5-9 5 3 5-1 5 5 5-5 5-3 5 9 5 2 5-18 5 9 5 10 5 1 5-12 5 7 5-3 5 5 5-5 5 6 5-9 5 1 5-7 5 16 5-2 5-1 5-5 5 6 5 0 5 2 5-2 5-10 5 11 5 0 5-6 5-14 5 19 5-9 5 6 5 2 5-15 5-9 5 12 5 16 5 0 5 0 5-5 5 5 5-10 5 10 5-5 5 3 5-2 5 1L4480 3386l-5 5 -5-2 -5-6 -5 4 -5 8 -5-10 -5-3 -5 1 -5 5 -5-5 -5 20 -5-9 -5-10 -5 17 -5-19 -5 4 -5 4 -5-10 -5 2 -5 3 -5-4 -5 0 -5 14 -5-11 -5-2 -5 4 -5-5 -5 3 -5 10 -5 8 -5-13 -5-3 -5-3 -5 1 -5 1 -5-2 -5 7 -5-1 -5-4 -5 3 -5 4 -5-5 -5 2 -5-1 -5-2 -5-2 -5 1 -5-3 -5 14 -5-12 -5 4 -5-3 -5-4 -5 2 -5 0 -5 1 -5 4 -5 2 -5-4 -5-2 -5 17 -5-19 -5 3 -5-1 -5 7 -5-9 -5 21 -5-13 -5-6 -5 17 -5-12 -5 0 -5-3 -5 7 -5-10 -5 19 -5-11 -5-11 -5 2 -5 1 -5-2 -5 9 -5-1 -5 4 -5-8 -5-5 -5 1 -5 5 -5-4 -5 3 -5 3 -5 8 -5-8 -5 10 -5-14 -5-1 -5-3 -5 6 -5-4 -5-3 -5 16 -5 7 -5-18 -5-2 -5 1 -5-5 -5 0 -5 1 -5 2 -5-4 -5 1 -5 14 -5-14 -5-1 -5 0 -5 5 -5-4 -5 2 -5 7 -5-7 -5-1 -5 17 -5-7 -5 3 -5-13 -5 3 -5 5 -5 11 -5-13 -5 9 -5-10 -5 0 -5-3 -5 1 -5 7 -5-2 -5 8 -5-10 -5 9 -5 1 -5-15 -5 16 -5-15 -5 5 -5 3 -5 1 -5-7 -5 14 -5-15 -5 7 -5-7 -5 8 -5-7 -5 20 -5-19 -5 0 -5 4 -5-4 -5-1 -5 2 -5 18 -5-18 -5 1 -5 7 -5 3 -5-11 -5 2 -5 16 -5-3 -5-13 -5 16 -5-16 -5 1 -5 4 -5 0 -5 4 -5-9 -5 0 -5 0 -5 1 -5 1 -5 0 -5-1 -5 2 -5 6 -5-2 -5 0 -5-1 -5-1 -5-2 -4 6 -5-6 -5 2 -5-2 -5 2 -5-3 -5 8 -5 1 -5-4 -5 9 -5-9 -5 1 -5 8 -5-9 -5 5 -5-2 -5 5 -5-10 -5 11 -5-10 -5 2 -5 5 -5-6 -5 6 -5 1 -5-7 -5 9 -5 0 -5 0 -5 0 -5-9 -5 2 -5 2 -5-4 -5 7 -5-3 -5 5 -5-9 -5 3 -5-3 -5 0 -5 5 -5 4 -5 0 -5 0 -5-5 -5 2 -5 2 -5-5 -5 5 -5-5 -5-1 -5 0 -5 1 -5 2 -5 1 -5-1 -5-2 -5 0 -5-2 -5 1 -5-1 -5 6 -5-5 -5 0 -5-1 -5 8 -5-8 -5 2 -5 6 -5 0 -5-6 -5 2 -5 3 -5 1 -5-7 -5 2 -5 2 -5-2 -5 0 -5 5 -5-4 -5 0 -5-2 -5 1 -5 0 -5 1 -5 2 -5 0 -5-1 -5 3 -5-1 -5-2 -5 3 -5-3 -5 3 -5-5 -5 2 -5-3 -5 1 -5 0 -5 5 -5-5 -5 4 -5-1 -5 1 -5-4 -5 0 -5 5 -5 0 -5 0 -5-1 -5-3 -5 4 -5 0 -5-4 -5 4 -5-2 -5-2 -5 0 -5 4 -5-4 -5 4 -5-4 -5 4 -5 0 -5 0 -5-1 -5-3 -5 4 -5-3 -5 3 -5 0 -5-4 -5 2 -5-1 -5-2 -5 5 -5 0 -5 0 -5-4 -5 1 -5 1 -5-3 -5 5 -5-4 -5 0 -5 0 -5 4 -5-4 -5 0 -5 1 -5 3 -5-2 -5-1 -5 3 -5-3 -5-1 -5 2 -5 1 -5 1 -5-3 -5 3 -5-1 -5-2 -5 3 -5 0 -5-2 -5 2 -5-3 -5 3 -5 0 -5-3 -5 1 -5 0 -5 2 -5-1 -5 1 -5 0 -5 0 -5 0 -5 0 -5 0 -5-2 -5 1 -5 0 -5 1 -5 0 -5-1 -5 1 -5-1z"/>
<path transform="scale(0.1)" vector-effect="non-scaling-stroke" fill="#d52cf0" stroke="#d52cf0" stroke-width="0.5" d="M2576 3398l5 0 5-1 5 1 5 0 5-1 5 0 5 0 5 0 5 0 5 0 5-1 5 1 5 1 5-1 5 0 5 1 5-1 5 0 5 0 5 0 5 0 5 1 5-1 5 0 5 0 5 0 5-1 5 1 5 0 5 0 5-1 5 1 5 0 5 0 5 0 5 0 5 0 5 0 5-1 5 1 5 0 5 0 5 0 5 0 5-1 5 1 5 0 5 0 5 0 5 0 5 0 5-1 5 1 5-1 5 1 5-1 5 1 5-1 5 1 5 0 5-1 5 0 5 0 5 0 5 0 5 0 5-1 5 1 5 0 5 0 5 0 5 0 5 0 5 0 5 0 5 0 5 0 5 0 5 0 5 0 5 0 5 0 5 0 5 0 5 0 5-8 5-8 5-10 5-8 5-10 5-21 5-4 5-16 5-13 5-29 5 8 5-16 5-17 5-8 5-19 5-15 5-20 5-30 5-15 5 4 5-14 5-13 5-22 5-9 5-16 5-15 5-16 5-8 5-11 5-35 5-5 5-6 5-17 5-16 5-21 5-6 5-13 5-11 5-53 5 10 5-2 5-26 5-8 5-6 5-16 5-14 5-20 5-20 5-9 5-28 5 3 5-1 5-11 5-8 5-6 5-28 5 13 5 0 5 8 5-6 5-8 5 1 5 6 5 1 5-8 5 6 5 17 5-3 5-53 5 68 5-5 5 7 5-8 5 4 5 14 5 4 5 4 5-11 5-10 5 19 5 1 5 17 5-2 5-40 5 45 5-5 5-31 5 42 5-17 5 7 5 27 5-7 5 10 5-1 5 11 5 15 5-33 5 17 5 10 5-25 5 36 5 16 5-5 5-4 5 7 4-14 5 14 5 3 5 9 5-36 5 1 5 22 5 7 5-3 5 0 5 13 5-4 5-23 5 44 5-22 5 20 5-6 5-28 5 29 5 10 5-7 5-13 5 19 5-2 5-4 5 4 5 0 5-11 5 3 5-1 5 17 5-9 5 7 5-3 5-8 5-2 5 1 5 5 5-6 5 4 5-40 5 22 5 12 5 12 5-3 5-18 5 8 5 6 5-6 5 6 5 9 5-13 5 8 5-24 5 44 5-14 5 5 5-11 5 13 5-8 5-2 5-2 5 1 5-18 5-79 5 95 5-23 5 32 5-1 5 8 5-27 5-2 5 24 5-7 5 11 5 6 5-11 5 4 5-26 5 11 5-8 5 18 5-17 5-11 5-2 5-6 5 28 5-19 5-1 5 21 5-17 5-3 5 19 5-13 5 21 5-14 5 12 5-2 5 3 5 0 5 16 5-15 5 3 5 0 5-45 5 37 5 4 5-10 5-14 5-28 5 33 5 3 5-25 5 21 5-4 5 1 5 3 5 4 5-2 5-4 5-9 5-2 5-23 5 38 5 0 5 6 5-11 5 6 5-13 5-14 5 8 5 21 5-3 5-25 5 2 5 12 5 0 5 13 5 1 5-9 5-21 5 27 5-8 5-45 5 51 5-15 5-24 5 11 5 6 5-10 5-25 5 47 5 1 5-27 5 19 5 10 5 2 5-11 5-7 5-3 5 9 5 3 5 3 5-10 5 0 5-11 5-1 5 7 5 12 5 5 5-11 5 6 5-6 5 1 5 1 5 5 5-7 5-1 5 6 5-20 5 6 5 5 5-15 5 18 5-13 5-8 5-1 5-10 5 19 5 1 5-7L4480 2923l-5-28 -5 63 -5-57 -5 9 -5-4 -5 8 -5 1 -5-7 -5 7 -5-2 -5 15 -5 2 -5-17 -5 5 -5 6 -5 0 -5-16 -5 5 -5 2 -5 40 -5-40 -5 1 -5 27 -5-21 -5-2 -5 23 -5-28 -5 18 -5-16 -5-2 -5-3 -5 2 -5-1 -5 5 -5 3 -5-2 -5-2 -5 29 -5-16 -5 6 -5 16 -5-27 -5-5 -5 13 -5 63 -5-71 -5-7 -5 23 -5 7 -5-5 -5-12 -5 17 -5 19 -5-15 -5-25 -5-2 -5 12 -5-2 -5 5 -5-3 -5-8 -5-2 -5 19 -5-7 -5-4 -5 19 -5-9 -5 28 -5-53 -5 2 -5 4 -5 13 -5 19 -5-27 -5 5 -5-1 -5 33 -5-28 -5 7 -5-2 -5 1 -5 6 -5-5 -5 13 -5-12 -5 19 -5-14 -5 3 -5 9 -5-3 -5 1 -5-6 -5 3 -5 17 -5-27 -5 43 -5-41 -5 48 -5-21 -5-14 -5 25 -5 4 -5-32 -5 13 -5-10 -5-17 -5 21 -5-15 -5 23 -5 1 -5-15 -5 5 -5 12 -5-12 -5-5 -5 20 -5-4 -5 12 -5-23 -5 15 -5-19 -5-7 -5 10 -5-1 -5-12 -5-1 -5 5 -5 25 -5-21 -5 7 -5 37 -5-28 -5-11 -5 2 -5 0 -5 8 -5-11 -5-1 -5 0 -5 3 -5-13 -5 8 -5-15 -5 0 -5 11 -5-2 -5 6 -5 20 -5 3 -5-11 -5-6 -5 0 -5 61 -5-56 -5 20 -5-18 -5-11 -5 15 -5 10 -5-17 -5-11 -5 30 -5-26 -5-2 -5 4 -5 5 -5-7 -5 11 -5 21 -5-26 -5-6 -5 10 -5-6 -5-7 -5 1 -5 18 -5-4 -5 28 -5-29 -5-11 -5 12 -5-23 -5-11 -5 17 -5 9 -5-21 -5 6 -5-4 -5 34 -5 25 -4-20 -5 2 -5-43 -5 45 -5-52 -5-9 -5 6 -5 5 -5-2 -5-15 -5 32 -5-36 -5-6 -5-13 -5 12 -5-12 -5-30 -5 0 -5-2 -5 26 -5-20 -5-24 -5-3 -5 8 -5 4 -5-17 -5-17 -5-2 -5-7 -5-1 -5-13 -5-13 -5-10 -5 1 -5 10 -5-11 -5-7 -5-3 -5-1 -5 14 -5-22 -5 0 -5-9 -5-1 -5 13 -5-2 -5-1 -5 8 -5 22 -5-26 -5 6 -5 19 -5 5 -5 9 -5-4 -5 9 -5 14 -5 8 -5 11 -5 26 -5 0 -5 16 -5 18 -5 8 -5 18 -5-4 -5 17 -5 19 -5 7 -5 9 -5 20 -5 4 -5 23 -5 8 -5 21 -5 26 -5 2 -5 8 -5 17 -5 15 -5 11 -5 13 -5 21 -5 16 -5 14 -5 11 -5 17 -5 12 -5 12 -5 14 -5 17 -5 17 -5 14 -5 13 -5 15 -5 18 -5 4 -5 10 -5 12 -5 7 -5 2 -5 10 -5-6 -5 4 -5-3 -5 1 -5-1 -5 0 -5 1 -5 0 -5 0 -5 0 -5 0 -5 0 -5 0 -5 0 -5 0 -5 1 -5-1 -5 0 -5 1 -5-1 -5 0 -5 1 -5-1 -5 0 -5 0 -5 0 -5 0 -5 0 -5 0 -5 1 -5-1 -5 0 -5 0 -5 0 -5 0 -5 2 -5-2 -5 1 -5 0 -5-1 -5 0 -5 1 -5 0 -5 0 -5 0 -5-1 -5 1 -5 0 -5-1 -5 0 -5 0 -5 0 -5 1 -5-1 -5 0 -5 0 -5 0 -5 0 -5 1 -5 0 -5 0 -5 0 -5 0 -5 0 -5 0 -5 0 -5 0 -5 0 -5 0 -5 0 -5 0 -5 0 -5 0 -5 0 -5 0 -5 0 -5 0 -5 1 -5-1 -5 0 -5 0 -5 0 -5 0 -5 0 -5 0 -5 0 -5 1 -5-1 -5 0z"/>
<path transform="scale(0.1)" vector-effect="non-scaling-stroke" fill="#e6df62" stroke="#e6df62" stroke-width="0.5" d="M2576 3397l5 0 5 0 5 0 5 0 5 0 5 0 5 0 5 0 5 0 5 0 5 0 5 0 5 0 5 0 5 0 5 0 5 0 5 0 5 0 5 0 5 0 5 0 5 0 5 0 5 0 5 0 5 0 5 0 5 0 5 0 5 0 5-1 5 1 5 0 5 0 5 0 5 0 5 0 5 0 5 0 5 0 5 0 5 0 5 0 5 0 5 0 5-1 5 1 5 0 5 0 5 0 5 0 5 0 5 0 5 0 5 0 5 0 5 0 5 0 5 0 5-1 5 1 5 0 5-1 5 0 5 0 5 0 5-1 5 1 5-1 5 1 5-1 5 1 5 0 5-1 5 1 5 0 5 0 5 0 5 0 5 0 5 0 5 0 5 0 5 0 5 0 5 0 5 0 5 0 5 0 5 0 5 0 5 0 5 0 5 0 5 0 5 0 5 0 5-1 5-1 5 2 5 0 5 0 5-1 5 0 5-10 5-12 5-22 5-37 5 12 5-22 5-21 5-18 5-19 5-29 5-21 5-16 5-16 5-25 5-11 5-18 5-46 5-16 5-11 5-19 5-33 5-25 5-7 5-43 5-2 5-19 5-9 5-17 5-38 5-7 5-23 5-20 5 3 5-33 5-7 5-21 5-23 5-22 5-14 5-38 5-7 5-8 5-31 5-41 5 0 5-23 5-20 5 10 5-3 5-36 5 37 5-11 5 4 5 5 5-35 5 22 5 2 5-9 5-12 5 14 5 0 5 1 5 2 5-100 5 96 5 0 5-2 5-3 5-1 5 2 5 22 5-21 5 8 5 6 5-25 5-24 5 44 5 20 5-7 5-28 5 24 5-12 5 19 5-1 5 3 4 6 5 7 5-7 5-9 5 3 5 6 5-8 5 2 5 4 5-6 5-12 5 4 5-5 5-14 5 12 5-14 5 1 5-7 5 8 5-105 5 99 5 3 5-10 5-3 5-97 5 108 5-29 5 11 5-2 5 18 5-46 5 9 5 24 5-34 5-30 5 48 5 28 5-9 5 6 5-13 5-3 5-45 5 32 5-14 5 12 5 14 5 2 5-2 5-26 5 36 5-63 5 44 5 17 5-46 5 46 5 15 5 0 5-4 5-28 5 25 5 5 5-16 5 8 5-46 5 51 5 6 5-51 5 39 5-77 5 111 5-17 5-13 5 22 5 15 5 2 5-2 5-1 5-3 5-5 5 3 5-7 5-4 5 5 5 9 5-63 5 58 5 1 5 30 5 3 5-10 5 2 5 4 5-5 5-6 5-39 5-10 5-1 5 17 5 1 5 13 5 17 5 9 5-14 5 20 5-5 5-68 5 70 5-9 5 2 5-2 5 20 5-33 5 14 5-24 5-4 5 18 5 16 5-88 5 98 5-4 5-1 5-38 5-9 5 38 5 14 5-20 5-29 5 20 5-27 5 12 5 5 5-107 5 86 5-15 5 43 5 7 5 2 5-30 5 31 5-24 5-66 5 63 5 27 5-32 5-4 5 32 5 15 5-3 5-23 5 30 5-4 5-15 5 16 5-3 5 7 5-14 5 3 5-11 5-56 5 44 5 9 5-14 5 17 5 12 5-34 5 19 5 2 5-12 5 22 5-11 5-3 5-2 5-2 5-11 5-14 5 31 5-6 5 7 5 2 5 7 5-3 5 9 5-7 5-8 5-14 5-3 5 0 5 23 5 3 5-17 5-29L4480 2685l-5-20 -5 57 -5-58 -5 0 -5 12 -5-13 -5 7 -5 40 -5-30 -5-8 -5 3 -5-15 -5-4 -5 14 -5-9 -5 4 -5 5 -5 18 -5-13 -5-20 -5 47 -5-30 -5 7 -5-10 -5-4 -5 9 -5 10 -5 13 -5-30 -5 21 -5-21 -5 57 -5-50 -5 2 -5 30 -5-21 -5 85 -5-57 -5 19 -5-29 -5-26 -5 38 -5-33 -5-6 -5 10 -5-8 -5 3 -5-8 -5 16 -5-26 -5 8 -5 10 -5-11 -5-6 -5 13 -5 1 -5 39 -5-61 -5 7 -5-2 -5 1 -5 34 -5 15 -5-33 -5 6 -5 31 -5-29 -5 82 -5-76 -5 67 -5-47 -5-20 -5-4 -5 8 -5 38 -5-41 -5 63 -5-58 -5 5 -5 14 -5-21 -5 0 -5 86 -5-90 -5-15 -5 17 -5 5 -5-19 -5 78 -5-74 -5 17 -5-36 -5 4 -5 6 -5 1 -5-10 -5 5 -5 18 -5 37 -5-29 -5-1 -5 6 -5-22 -5 16 -5-12 -5-14 -5-15 -5 6 -5 40 -5-44 -5 29 -5-29 -5 8 -5-2 -5 38 -5-20 -5-7 -5-4 -5-13 -5-6 -5 18 -5-8 -5-25 -5-2 -5 2 -5 15 -5-15 -5 49 -5-43 -5-14 -5 30 -5-20 -5 33 -5-24 -5-10 -5-7 -5 13 -5-26 -5 3 -5 6 -5 20 -5-32 -5 11 -5 1 -5-10 -5 1 -5 5 -5 12 -5 12 -5 21 -5-41 -5 25 -5 7 -5-26 -5 14 -5-3 -5-3 -5 1 -5-12 -5-3 -5-3 -5 21 -5-29 -5 6 -5 8 -5 38 -5-13 -5-18 -5 6 -5 11 -5 19 -5-7 -5-2 -5-8 -5 8 -5-15 -5 1 -5 46 -5-16 -5 20 -5-30 -5 3 -5 4 -5-2 -5 15 -5 18 -5-5 -5-15 -5-5 -5-18 -4 26 -5 34 -5-51 -5-12 -5 10 -5-7 -5 11 -5-4 -5 25 -5-19 -5-15 -5-4 -5 0 -5 3 -5 10 -5-7 -5 8 -5 32 -5-51 -5-1 -5 10 -5 27 -5-5 -5-34 -5 6 -5-9 -5-4 -5 4 -5-22 -5 12 -5-24 -5 6 -5-3 -5-10 -5 14 -5-14 -5 39 -5-24 -5 23 -5-2 -5 13 -5 16 -5 15 -5 21 -5 21 -5 29 -5 0 -5 17 -5 18 -5 22 -5 12 -5 19 -5 25 -5 46 -5-14 -5 30 -5 8 -5 14 -5 20 -5 18 -5 40 -5 11 -5 7 -5 15 -5 22 -5 26 -5 27 -5 15 -5 20 -5 29 -5 62 -5-29 -5 24 -5 19 -5 18 -5 16 -5 29 -5 20 -5 15 -5 9 -5-2 -5 1 -5 8 -5-1 -5 7 -5-2 -5 1 -5-1 -5 0 -5 1 -5-1 -5 0 -5 1 -5 0 -5 0 -5 0 -5 0 -5 0 -5 0 -5 0 -5 0 -5 0 -5 0 -5 0 -5 0 -5 0 -5 0 -5 0 -5 0 -5 0 -5 0 -5 0 -5 0 -5 0 -5 0 -5 0 -5 0 -5 0 -5 0 -5 0 -5 0 -5 0 -5 0 -5 0 -5 0 -5 0 -5 0 -5 0 -5 0 -5 1 -5 0 -5 0 -5 0 -5 0 -5 0 -5-1 -5 0 -5 1 -5 0 -5 0 -5 0 -5 0 -5-1 -5 1 -5 0 -5 0 -5 0 -5 0 -5 0 -5 0 -5 0 -5 0 -5 0 -5 0 -5 0 -5-1 -5 1 -5-1 -5 1 -5 0 -5 0 -5 0 -5 0 -5 0 -5 0 -5 0 -5 0 -5 0 -5 0 -5 0 -5 1 -5 0 -5-1 -5 0 -5 0 -5 0 -5 0 -5 0 -5 0 -5 0 -5 0 -5 0 -5 0 -5 1 -5-1 -5 0 -5 0 -5 0 -5 0 -5 0 -5 0z"/>
</g>
<rect x="257.60" y="191.70" width="190.40" height="153.30" fill="none" stroke="#484848" stroke-width="0.9"/>
<path d="M257.60 345.00v-3.0 M273.47 345.00v-1.6 M289.33 345.00v-3.0 M305.20 345.00v-1.6 M321.07 345.00v-3.0 M336.93 345.00v-1.6 M352.80 345.00v-3.0 M368.67 345.00v-1.6 M384.53 345.00v-3.0 M400.40 345.00v-1.6 M416.27 345.00v-3.0 M432.13 345.00v-1.6 M448.00 345.00v-3.0 M257.60 345.00h3.0 M257.60 325.22h1.6 M257.60 305.44h3.0 M257.60 285.66h1.6 M257.60 265.88h3.0 M257.60 246.10h1.6 M257.60 226.32h3.0 M257.60 206.54h1.6" stroke="#484848" stroke-width="0.9" fill="none"/>
<g font-family='"Liberation Serif", serif' fill="#1a1a1a" stroke="#1a1a1a" stroke-width="0.2"><text transform="translate(257.60,355.30) scale(0.84,1)" font-size="10.35" text-anchor="middle" >0</text><text transform="translate(289.33,355.30) scale(0.84,1)" font-size="10.35" text-anchor="middle" >50</text><text transform="translate(321.07,355.30) scale(0.84,1)" font-size="10.35" text-anchor="middle" >100</text><text transform="translate(352.80,355.30) scale(0.84,1)" font-size="10.35" text-anchor="middle" >150</text><text transform="translate(384.53,355.30) scale(0.84,1)" font-size="10.35" text-anchor="middle" >200</text><text transform="translate(416.27,355.30) scale(0.84,1)" font-size="10.35" text-anchor="middle" >250</text><text transform="translate(448.00,355.30) scale(0.84,1)" font-size="10.35" text-anchor="middle" >300</text><text transform="translate(254.00,348.00) scale(0.84,1)" font-size="10.35" text-anchor="end" >-5</text><text transform="translate(254.00,308.44) scale(0.84,1)" font-size="10.35" text-anchor="end" >35</text><text transform="translate(254.00,268.88) scale(0.84,1)" font-size="10.35" text-anchor="end" >75</text><text transform="translate(254.00,229.32) scale(0.84,1)" font-size="10.35" text-anchor="end" >115</text><text transform="translate(352.80,370.00) scale(0.84,1)" font-size="10.35" text-anchor="middle" >t (ps)</text><text x="0" y="0" font-size="8.3" text-anchor="middle" transform="translate(236.90,269.10) rotate(-90) scale(1.06,1)">Population of fragments</text><text transform="translate(238.30,203.50) scale(0.84,1)" font-size="10.35" text-anchor="middle" >(d)</text><text transform="translate(263.30,202.10) scale(0.84,1)" font-size="10.35" text-anchor="start" >3500K</text><path d="M302.01 201.50h18.7" stroke="#7b7b7b" stroke-width="0.9"/><text transform="translate(323.51,205.20) scale(0.84,1)" font-size="10.35"><tspan y="0">C</tspan><tspan font-size="6.67" y="2.2">2</tspan><tspan y="0">H</tspan><tspan font-size="6.67" y="2.2">4</tspan><tspan y="0">N</tspan><tspan font-size="6.67" y="2.2">4</tspan><tspan y="0">O</tspan><tspan font-size="6.67" y="2.2">4</tspan></text><path d="M362.58 201.50h18.7" stroke="#f86cc8" stroke-width="0.9"/><text transform="translate(384.08,205.20) scale(0.84,1)" font-size="10.35"><tspan y="0">NO</tspan><tspan font-size="6.67" y="2.2">2</tspan></text><path d="M401.80 201.50h18.7" stroke="#bfef8c" stroke-width="0.9"/><text transform="translate(423.30,205.20) scale(0.84,1)" font-size="10.35"><tspan y="0">NO</tspan></text><path d="M302.01 214.40h18.7" stroke="#3eb2f2" stroke-width="0.9"/><text transform="translate(323.51,218.10) scale(0.84,1)" font-size="10.35"><tspan y="0">CO</tspan><tspan font-size="6.67" y="2.2">2</tspan></text><path d="M362.58 214.40h18.7" stroke="#3f5fe6" stroke-width="0.9"/><text transform="translate(384.08,218.10) scale(0.84,1)" font-size="10.35"><tspan y="0">CO</tspan></text><path d="M401.80 214.40h18.7" stroke="#d52cf0" stroke-width="0.9"/><text transform="translate(423.30,218.10) scale(0.84,1)" font-size="10.35"><tspan y="0">H</tspan><tspan font-size="6.67" y="2.2">2</tspan><tspan y="0">O</tspan></text><path d="M302.01 227.00h18.7" stroke="#e6df62" stroke-width="0.9"/><text transform="translate(323.51,230.70) scale(0.84,1)" font-size="10.35"><tspan y="0">N</tspan><tspan font-size="6.67" y="2.2">2</tspan></text><path d="M362.58 227.00h18.7" stroke="#acb5f4" stroke-width="0.9"/><text transform="translate(384.08,230.70) scale(0.84,1)" font-size="10.35"><tspan y="0">H</tspan><tspan font-size="6.67" y="2.2">2</tspan></text><path d="M401.80 227.00h18.7" stroke="#c3f09a" stroke-width="0.9"/><text transform="translate(423.30,230.70) scale(0.84,1)" font-size="10.35"><tspan y="0">NH</tspan><tspan font-size="6.67" y="2.2">3</tspan></text><path d="M302.01 239.80h18.7" stroke="#f8d4ae" stroke-width="0.9"/><text transform="translate(323.51,243.50) scale(0.84,1)" font-size="10.35"><tspan y="0">HNCO</tspan></text></g>
<clipPath id="ce"><rect x="490.40" y="194.30" width="186.90" height="150.80"/></clipPath>
<g clip-path="url(#ce)">
<path transform="scale(0.1)" vector-effect="non-scaling-stroke" fill="#7b7b7b" stroke="#7b7b7b" stroke-width="0.5" d="M4904 2779l5 0 5 2 5 0 5 0 5-3 5 1 5-3 5 0 5 4 5-4 5 3 5 1 5-2 5-3 5 4 5-3 5-2 5 1 5-3 5 6 5-2 5-3 5 0 5 1 5 4 5-5 5 0 5 3 5-3 5 0 5 3 5-3 5 2 5-1 5 2 5-3 5-1 5 0 5 3 5 1 5 2 5 1 5-7 5 9 5 1 5 7 5 2 5-14 5 21 5-1 5-19 5 11 5 13 5-20 5 29 5-24 5 31 5-6 5 1 5 4 5 17 5-34 5 38 5-4 5-2 5 24 5 5 5-4 5 12 5 6 5-25 5 50 5-18 5 37 5-29 5 30 5 23 5 14 5 12 5 40 5-5 5 41 5 15 5-9 5 74 5 19 5 13 5 44 5 23 5 61 5 27 5 23 5 34 5 16 5 6 5 6 5 0 5-1 5 1 5 0 5 0 5 0 5 0 5 0 5 1 5 0 5-1 5 0 5 0 5 0 5 0 5 0 5 0 5 0 5 0 5 0 5 0 5 0 5 0 5-1 5 1 5 0 5 0 5 0 5 0 5-1 5 1 5-1 5 1 5 0 5 0 5-1 5 1 5 0 5 0 5 0 5 0 5 0 5 0 5 1 5-1 5 0 5 0 5 0 5 0 5 0 5 0 5 0 5 0 5-1 5 1 5-2 5 2 5 0 5 0 5 0 5 0 5 0 5 0 5 0 5 0 5 0 5 0 5 0 5 0 5 0 5 0 5 0 5 0 5 0 5 0 5 0 5 0 5 0 5 0 5 0 5 0 5 0 5 0 5 0 5 0 5 0 5 0 5 0 5 0 5 0 4 0 5 0 5 0 5 0 5 0 5-1 5 1 5 0 5 0 5-3 5 3 5 0 5 0 5 0 5 0 5 0 5-1 5 1 5 0 5-2 5 2 5 0 5 0 5 0 5 0 5 0 5 0 5 0 5-1 5 1 5 0 5-1 5 0 5 1 5-1 5 1 5-1 5 0 5 1 5 0 5 0 5 0 5 0 5 0 5-1 5 1 5-4 5 4 5 0 5-1 5 1 5 0 5 0 5 0 5 0 5 0 5 0 5 0 5 0 5 0 5 0 5-1 5 1 5 0 5-1 5 1 5 0 5-2 5 2 5 0 5-1 5-2 5 3 5 0 5 0 5 0 5 0 5-1 5 1 5 0 5 0 5 0 5 0 5 0 5 0 5 0 5 0 5 0 5 0 5 0 5-1 5 1 5-1 5 1 5 0 5 0 5-2 5 2 5 0 5 0 5 0 5 0 5 0 5 0 5 0 5 0 5 0 5 0 5 0 5-2 5 2 5 0 5-1 5 1 5 0 5-1 5 1 5 0 5 0 5 0 5-2 5 2 5 0 5 0 5 0 5 0 5 0 5 0 5 0 5 0 5 0 5 0 5 0 5 0 5-1 5 1 5 0 5 0 5 0 5 0 5 0 5 0 5 0 5-1 5 0 5 1 5-1 5 1 5 0 5 0 5 0 5 0 5-1 5 1 5 0 5 0 5 0 5 0 5 0 5 0 5 0 5 0 5-1 5 0 5 1 5 0 5-1 5 1 5 0 5 0 5 0 5 0 5 0 5 0 5 0 5 0 5 0 5 0 5-1 5 1 5 0 5 0 5 0 5 0 5 0 5 0 5 0 5 0L6773 3402l-5 1 -5 0 -5-1 -5 1 -5-1 -5 0 -5 0 -5 0 -5 1 -5-1 -5 1 -5 1 -5-1 -5 0 -5 0 -5-1 -5 0 -5 0 -5 0 -5 0 -5 0 -5 0 -5 0 -5 0 -5 0 -5 0 -5 0 -5 0 -5 0 -5 2 -5-2 -5 1 -5-1 -5 1 -5 0 -5-1 -5 1 -5 0 -5-1 -5 0 -5 0 -5 0 -5 2 -5-3 -5 1 -5 1 -5-1 -5 0 -5 0 -5 0 -5 0 -5 0 -5 0 -5 0 -5 1 -5 1 -5-2 -5 2 -5-2 -5 1 -5-1 -5 1 -5 0 -5-1 -5 0 -5 0 -5 0 -5 0 -5 1 -5-1 -5 0 -5 1 -5-1 -5 0 -5 0 -5 0 -5 1 -5-1 -5 0 -5 0 -5 0 -5 0 -5 0 -5 0 -5 0 -5 1 -5-1 -5 1 -5 0 -5 0 -5-1 -5 0 -5 0 -5 1 -5-1 -5 0 -5 0 -5 0 -5 0 -5 1 -5 0 -5 0 -5-1 -5 1 -5-1 -5 0 -5 0 -5 1 -5-1 -5 0 -5 0 -5 0 -5 2 -5-2 -5 0 -5 1 -5-1 -5 0 -5 0 -5 1 -5-1 -5 0 -5 2 -5-2 -5 1 -5-1 -5 0 -5 0 -5 1 -5-1 -5 1 -5-2 -5 1 -5 0 -5 0 -5 0 -5 0 -5 0 -5 1 -5-1 -5 0 -5 0 -5-1 -5 1 -5 1 -5-1 -5 1 -5 1 -5-2 -5-1 -5 1 -5 0 -5 0 -5 0 -5 0 -5 1 -5 0 -5-1 -5 1 -5-1 -5 2 -5-2 -5 1 -5-1 -5 0 -5 1 -5-1 -5 0 -5 0 -5 1 -5-1 -5 1 -5-1 -5 0 -5 0 -5 0 -5-1 -5 2 -5-1 -5 0 -5 0 -5 1 -5-1 -5 0 -5 0 -5 1 -5-1 -4 0 -5 1 -5 1 -5-1 -5 0 -5-1 -5 0 -5 1 -5-1 -5 1 -5-1 -5 0 -5 0 -5 1 -5-1 -5 0 -5 0 -5 2 -5-2 -5 0 -5 0 -5 1 -5-1 -5 0 -5 2 -5-1 -5-1 -5 0 -5 0 -5 0 -5 0 -5 0 -5 0 -5 0 -5 0 -5 0 -5 0 -5 0 -5 2 -5-2 -5 2 -5-2 -5 1 -5-1 -5 0 -5 1 -5 0 -5-1 -5 1 -5-1 -5 0 -5 0 -5 0 -5 2 -5-2 -5 0 -5 0 -5 0 -5 0 -5 1 -5-1 -5 0 -5 0 -5 0 -5 0 -5 1 -5-1 -5 0 -5 0 -5 2 -5-2 -5 0 -5 0 -5 0 -5 0 -5 0 -5 1 -5 0 -5 0 -5 1 -5-2 -5 0 -5 0 -5 1 -5 1 -5-1 -5-1 -5 1 -5-1 -5 1 -5 1 -5-1 -5-3 -5 2 -5 0 -5-11 -5-17 -5 16 -5 12 -5-51 -5-58 -5-21 -5-34 -5 1 -5 17 -5-74 -5 4 -5-55 -5 23 -5-49 -5-15 -5-20 -5 9 -5 8 -5-28 -5-22 -5-14 -5-10 -5 40 -5-32 -5 9 -5-39 -5-17 -5 20 -5-20 -5-19 -5-10 -5 44 -5-37 -5-22 -5 5 -5 17 -5-19 -5 17 -5 12 -5-37 -5-14 -5 19 -5-12 -5-2 -5-9 -5-11 -5-5 -5 5 -5-2 -5-9 -5 2 -5-2 -5-4 -5 9 -5-4 -5-10 -5 9 -5 34 -5-40 -5 17 -5-6 -5-12 -5 30 -5 13 -5-32 -5 13 -5-29 -5 34 -5-34 -5 6 -5-10 -5-1 -5-1 -5 10 -5 26 -5 18 -5-54 -5 24 -5 0 -5-11 -5 17 -5 35 -5-65 -5-3 -5 34 -5-35 -5 24 -5 16 -5 15 -5-56 -5-1z"/>
<path transform="scale(0.1)" vector-effect="non-scaling-stroke" fill="#f86cc8" stroke="#f86cc8" stroke-width="0.5" d="M4904 3388l5 2 5 2 5-1 5-5 5 5 5-1 5-4 5 1 5 3 5-3 5-3 5 2 5-5 5 4 5 3 5 1 5-18 5 15 5 2 5-5 5 1 5 2 5 1 5-1 5-4 5-1 5 2 5 1 5-5 5 4 5 0 5-1 5-5 5 5 5 2 5-5 5-1 5 2 5 3 5-6 5 2 5-4 5-3 5-11 5 15 5-3 5-2 5 5 5 0 5-5 5 2 5-2 5 1 5-1 5 0 5-4 5-1 5-1 5-1 5-7 5 5 5-7 5 8 5 2 5-7 5 2 5-9 5 9 5 3 5-1 5-8 5 9 5 3 5-7 5 10 5-4 5-12 5 18 5-5 5 9 5-3 5 6 5-6 5 7 5 6 5-10 5 15 5 0 5-1 5-2 5-1 5-1 5 5 5-1 5-1 5 0 5 2 5-2 5-10 5 13 5 0 5 2 5 0 5-6 5 5 5 0 5-4 5 4 5-1 5-2 5 2 5 0 5-1 5-15 5 14 5 2 5 2 5-1 5 1 5-2 5 1 5 0 5 1 5-8 5 4 5 5 5-1 5 0 5-2 5-14 5 12 5 5 5-1 5 0 5-3 5-3 5 5 5-2 5 0 5-7 5 5 5-9 5 14 5-7 5 4 5 3 5 0 5-2 5-4 5 6 5-11 5 8 5 4 5 1 5 0 5-7 5 4 5-3 5-1 5 3 5 1 5 0 5-10 5 9 5-1 5 3 5-11 5 10 5 1 5-1 5 2 5-2 5 2 5-2 5 1 5-10 5 8 5 1 5-2 5-1 5 3 5 2 5 0 5 0 5 0 5-2 4 1 5-2 5-2 5 0 5 4 5-4 5 1 5 4 5 0 5-3 5 2 5-2 5-7 5 10 5 0 5-5 5 5 5-1 5-3 5-5 5 9 5 1 5-2 5 2 5-2 5 2 5-1 5 0 5-4 5 3 5 1 5-3 5 0 5 3 5-4 5 4 5 0 5 0 5 0 5-6 5 6 5 1 5-1 5-2 5-4 5-1 5 7 5-2 5 2 5-1 5-3 5 5 5-3 5 3 5-3 5 3 5-1 5 2 5-2 5 1 5 0 5-2 5-5 5 6 5 1 5 0 5 1 5-2 5 1 5 0 5-1 5 0 5-4 5 4 5 1 5-2 5-1 5 3 5-2 5 3 5-2 5 1 5 2 5-3 5 2 5 0 5-1 5 0 5 1 5 1 5-1 5-1 5 2 5-1 5 2 5-1 5-1 5 1 5 1 5 0 5-1 5 0 5 0 5 1 5-4 5 4 5-1 5-2 5-2 5 3 5 2 5 0 5-1 5 1 5 1 5-1 5 0 5-2 5 2 5 1 5-3 5 1 5 1 5-2 5 2 5-2 5-6 5 7 5 0 5 1 5-5 5 1 5 4 5-9 5 3 5 3 5 3 5 0 5-1 5-1 5 0 5 2 5 1 5-1 5-1 5-3 5 0 5 3 5 1 5-5 5 5 5 0 5 1 5-1 5-3 5 3 5 0 5 0 5 0 5-3 5 3 5 1 5 0 5 0 5-2 5 1 5 1 5-7 5 6 5-1 5-1 5 3 5-2 5 0 5-1 5 1 5 2 5-4 5 2 5 2 5 0 5-4 5 2 5 2 5 0 5-3 5 0 5 1L6773 3402l-5 0 -5 2 -5-2 -5-1 -5 2 -5-2 -5 1 -5 2 -5-2 -5 0 -5 0 -5 1 -5-1 -5 1 -5 0 -5 1 -5-2 -5 0 -5 2 -5-1 -5 0 -5 1 -5 0 -5-2 -5 2 -5-1 -5 0 -5-1 -5 2 -5-2 -5 2 -5-1 -5 1 -5 0 -5-1 -5 1 -5-3 -5 1 -5 2 -5-2 -5 1 -5 1 -5-2 -5 1 -5 1 -5-2 -5 0 -5 2 -5-3 -5 1 -5 2 -5-2 -5 0 -5 2 -5-3 -5 3 -5-3 -5 1 -5 1 -5-1 -5 2 -5-1 -5 1 -5-2 -5 2 -5-2 -5 2 -5 0 -5 0 -5-2 -5 1 -5 1 -5 0 -5-1 -5-1 -5 1 -5 1 -5 0 -5-2 -5 2 -5-3 -5 2 -5-1 -5 0 -5-1 -5 3 -5-1 -5-1 -5 2 -5-2 -5 1 -5 1 -5-3 -5 1 -5 1 -5-2 -5 1 -5 2 -5-2 -5 1 -5-2 -5 3 -5-4 -5 0 -5 1 -5-1 -5 0 -5 0 -5 0 -5 2 -5-2 -5-1 -5 0 -5 0 -5 3 -5-1 -5-2 -5 1 -5-1 -5 2 -5 3 -5-4 -5 2 -5-2 -5 2 -5-2 -5 2 -5 1 -5 1 -5-2 -5-1 -5 2 -5-4 -5 3 -5-1 -5 0 -5-1 -5 0 -5 0 -5 0 -5 1 -5 0 -5 3 -5-5 -5 0 -5 3 -5 2 -5 0 -5 0 -5-4 -5 1 -5 1 -5 1 -5-5 -5 4 -5-3 -5 2 -5-2 -5 0 -5 2 -5-1 -5-1 -5 2 -5 3 -5-4 -5 0 -5 0 -5 0 -5-1 -5 1 -5-1 -5 0 -5 4 -5-3 -5 4 -5-2 -5 2 -5-5 -5 0 -5 1 -5-1 -5 0 -5 0 -5 2 -5 2 -5-1 -5-2 -4-1 -5 1 -5 1 -5-1 -5-1 -5 0 -5 5 -5-3 -5 0 -5 0 -5 3 -5-3 -5 3 -5-3 -5 2 -5 0 -5-4 -5 2 -5-2 -5 0 -5 0 -5-1 -5 1 -5 1 -5 0 -5-1 -5 0 -5 4 -5 0 -5-3 -5 2 -5 2 -5 0 -5 0 -5-2 -5 2 -5 0 -5 0 -5-4 -5 0 -5 0 -5 0 -5-1 -5 2 -5 3 -5 0 -5-4 -5 2 -5-3 -5-1 -5 6 -5-3 -5 0 -5-1 -5 0 -5 1 -5-1 -5 0 -5 3 -5 1 -5 0 -5-3 -5 0 -5-2 -5 4 -5-4 -5 5 -5-1 -5-2 -5 2 -5 1 -5-3 -5-1 -5 1 -5 1 -5-4 -5 6 -5-4 -5 1 -5-2 -5 2 -5-3 -5 2 -5 1 -5 0 -5 1 -5-5 -5 7 -5-3 -5-3 -5-1 -5 0 -5 6 -5 1 -5-5 -5-1 -5 1 -5 5 -5-4 -5-4 -5 8 -5 0 -5-12 -5 1 -5 2 -5-7 -5 13 -5 3 -5-20 -5 2 -5 18 -5-21 -5 5 -5-7 -5 1 -5 6 -5-3 -5-5 -5-4 -5 17 -5-17 -5 2 -5 4 -5-3 -5 17 -5-9 -5-5 -5 5 -5-1 -5-1 -5 6 -5 3 -5-6 -5-4 -5 2 -5 12 -5-11 -5-1 -5 5 -5-2 -5 7 -5-10 -5 1 -5 0 -5 5 -5-1 -5 5 -5-4 -5-1 -5 1 -5 0 -5 4 -5-3 -5-2 -5 0 -5-1 -5 3 -5-1 -5 4 -5 2 -5-4 -5 0 -5 5 -5-3 -5 2 -5-3 -5 1 -5 8 -5-9 -5 1 -5-1 -5 3 -5-3 -5 0 -5 9 -5-7 -5 7 -5-5 -5 0 -5-2 -5 0 -5 7 -5-2 -5-6 -5 2 -5-1 -5 1z"/>
<path transform="scale(0.1)" vector-effect="non-scaling-stroke" fill="#3eb2f2" stroke="#3eb2f2" stroke-width="0.5" d="M4904 3399l5 0 5 0 5 1 5-1 5 0 5 0 5 1 5-1 5 1 5 0 5-1 5 0 5 0 5 0 5 0 5 0 5 0 5 0 5 0 5 0 5 0 5 0 5 0 5 0 5 1 5 0 5-1 5 1 5-1 5 1 5-1 5 1 5-1 5 0 5 0 5 0 5 0 5 0 5 0 5 0 5 0 5 0 5 0 5 0 5 0 5 0 5 0 5 0 5 0 5-1 5 1 5 0 5 0 5 0 5 0 5-1 5 1 5 0 5 0 5-1 5 0 5 1 5 0 5-1 5 1 5 0 5 0 5-1 5 1 5 0 5 0 5 0 5 0 5-1 5 1 5-1 5 1 5 0 5 0 5-1 5 1 5 0 5-1 5 0 5 1 5-1 5 0 5 1 5-1 5 0 5 0 5-1 5 2 5-1 5 1 5 0 5 0 5 0 5 0 5-1 5 1 5 0 5 0 5-1 5 0 5 0 5 1 5-1 5 0 5 0 5 0 5 1 5-1 5 0 5 0 5 0 5 0 5 0 5 0 5 0 5 1 5-1 5 0 5 0 5-8 5-7 5-17 5-12 5-24 5 5 5-23 5 4 5-22 5-6 5-4 5-12 5-23 5-15 5 3 5-18 5 2 5-23 5-9 5-5 5 1 5-12 5-2 5-18 5-45 5 20 5-10 5-53 5 23 5 8 5-29 5-14 5 25 5-10 5-8 5 15 5-11 5-6 5-5 5 1 5-6 5 2 5-38 5 14 5-19 5 12 5-40 5 27 5 5 5-7 5-10 5-18 5 0 5 10 5-26 5 15 5-3 5 6 5 13 5-7 5 12 5 8 4-53 5 9 5 36 5-8 5-2 5-37 5 32 5-17 5 4 5-11 5-56 5-40 5 87 5 11 5 21 5-9 5-19 5 18 5 21 5-8 5-30 5 39 5-26 5 8 5 0 5-42 5 30 5 26 5 3 5-9 5-4 5-7 5-36 5 32 5-17 5-3 5-8 5 11 5 3 5 20 5-9 5-2 5 9 5-14 5 13 5-18 5-13 5 23 5 12 5 1 5-1 5 9 5 8 5-8 5 24 5-32 5 24 5-24 5 29 5-1 5-32 5 2 5 14 5-10 5 25 5-62 5 69 5 8 5-7 5-2 5-29 5 2 5 15 5-47 5-29 5 59 5-17 5 11 5 13 5 4 5-29 5 31 5-42 5 61 5-4 5-46 5 19 5 24 5-4 5-4 5-11 5 21 5-22 5 5 5-17 5 3 5-8 5 6 5-3 5 10 5-8 5 23 5-14 5 17 5 11 5-4 5-9 5 15 5-22 5 15 5-3 5 13 5 20 5-27 5-5 5 30 5 14 5-32 5-8 5 5 5 6 5-19 5-14 5-14 5 31 5-21 5-3 5 6 5 4 5 3 5-11 5 13 5 12 5 10 5-12 5-3 5 7 5-2 5-31 5-11 5-19 5-7 5 15 5 39 5 5 5-82 5 79 5-42 5 24 5 26 5-18 5 6 5 12 5 2 5-15 5-16 5 31 5-29 5 41 5 14 5-17 5-5 5-30 5 2 5 16 5 6 5-68 5 18 5 27 5-12 5 4 5 10 5-16 5-2 5-4 5-7 5-4 5 18 5 9 5 7 5-29 5 19 5 8 5 8 5 4 5-5 5 19 5-5L6773 3192l-5 33 -5-50 -5 1 -5 5 -5-8 -5-6 -5 40 -5-55 -5 13 -5 47 -5-38 -5-43 -5 49 -5-33 -5 3 -5 24 -5 24 -5-31 -5-5 -5 4 -5 77 -5-31 -5-29 -5-8 -5 3 -5 18 -5-4 -5 16 -5 23 -5-39 -5 11 -5 16 -5-45 -5 18 -5-2 -5-3 -5-7 -5-7 -5 90 -5-83 -5 23 -5 6 -5 4 -5-26 -5 21 -5-42 -5 3 -5 3 -5 33 -5-4 -5 0 -5-3 -5 13 -5-14 -5-4 -5 4 -5 12 -5-31 -5-4 -5-1 -5 9 -5-22 -5 23 -5 6 -5-13 -5 68 -5-13 -5-27 -5 22 -5-16 -5 11 -5 88 -5 80 -5-176 -5 14 -5-16 -5-12 -5 9 -5-17 -5 12 -5-3 -5 8 -5 26 -5-35 -5-32 -5 9 -5-13 -5-4 -5-3 -5 44 -5-35 -5 14 -5 13 -5 8 -5-17 -5 18 -5-25 -5 17 -5-8 -5 20 -5 9 -5-29 -5 13 -5-4 -5-22 -5 63 -5-24 -5-8 -5-22 -5-4 -5 5 -5 19 -5-28 -5 10 -5 88 -5-81 -5 36 -5-10 -5-33 -5 8 -5-6 -5 4 -5 24 -5-36 -5 56 -5 41 -5-69 -5-11 -5 10 -5 15 -5-37 -5 41 -5-32 -5-7 -5 9 -5-13 -5-17 -5-11 -5 6 -5-14 -5 13 -5 4 -5-21 -5 17 -5 15 -5-22 -5 8 -5-9 -5 67 -5-74 -5 16 -5-12 -5 2 -5 18 -5 7 -5-4 -5-2 -5 11 -5 20 -5-10 -5-34 -5 15 -5-6 -5 8 -5 14 -5-4 -5-14 -5 18 -5-23 -5-3 -5 3 -5-9 -5 1 -5 22 -5-41 -5 31 -5-8 -5-28 -5 18 -5-11 -5 19 -5 29 -5-10 -5 2 -5-11 -5 10 -5 1 -4 20 -5-32 -5-8 -5 28 -5 18 -5-41 -5 58 -5-28 -5-30 -5-12 -5 23 -5 2 -5 57 -5-56 -5-8 -5 16 -5 21 -5-4 -5 1 -5 13 -5 36 -5-27 -5 24 -5-14 -5 4 -5-7 -5 21 -5-10 -5 23 -5-15 -5-8 -5 6 -5 16 -5 9 -5 32 -5-36 -5 15 -5 7 -5-7 -5 29 -5 40 -5-42 -5 15 -5-18 -5 3 -5 24 -5-14 -5 10 -5-3 -5 5 -5 15 -5 33 -5 22 -5-21 -5 18 -5-1 -5 5 -5-1 -5 1 -5-1 -5-2 -5 0 -5 0 -5 0 -5 0 -5 0 -5 0 -5 0 -5 1 -5 0 -5-1 -5 0 -5 0 -5 1 -5-1 -5 0 -5 0 -5 0 -5 0 -5 0 -5 0 -5 0 -5 0 -5 0 -5 0 -5 1 -5-1 -5 0 -5 0 -5 0 -5 2 -5-2 -5 0 -5 0 -5 0 -5 0 -5 1 -5-1 -5 0 -5 0 -5 1 -5-1 -5 0 -5 0 -5 0 -5 0 -5 0 -5 0 -5 0 -5 0 -5 0 -5 0 -5 0 -5 1 -5-1 -5 0 -5 1 -5-1 -5 0 -5 0 -5 1 -5-1 -5 0 -5 1 -5 0 -5 0 -5-1 -5 0 -5 1 -5 0 -5-1 -5 1 -5-1 -5 0 -5 1 -5-1 -5 1 -5 0 -5 0 -5 0 -5 0 -5 0 -5 0 -5 0 -5 0 -5 0 -5 0 -5 0 -5 0 -5 0 -5 0 -5 0 -5 0 -5 0 -5 0 -5 0 -5 0 -5 0 -5 0 -5 1 -5-1 -5 1 -5-1 -5 0 -5 1 -5-1 -5 0 -5 0 -5 0 -5 0 -5 0 -5 0 -5 0 -5 0 -5 0 -5 0 -5 1 -5-1 -5 0 -5 0 -5 0 -5 0 -5 1 -5-1 -5 2 -5-2 -5 0z"/>
<path transform="scale(0.1)" vector-effect="non-scaling-stroke" fill="#acb5f4" stroke="#acb5f4" stroke-width="0.5" d="M4904 3401l5 0 5 0 5-1 5 0 5-1 5 2 5-1 5 0 5-1 5 0 5-2 5 2 5 0 5 0 5 0 5 0 5 0 5-1 5 1 5 0 5-1 5 0 5 0 5-1 5 1 5 0 5-1 5 1 5-3 5 2 5 1 5-1 5 1 5-3 5 1 5 0 5 1 5-1 5 0 5 0 5-2 5-1 5 2 5 0 5 0 5 0 5 0 5 0 5-4 5 0 5 3 5-2 5 1 5 0 5-1 5 1 5 0 5-2 5 3 5-2 5 0 5 1 5-1 5 2 5-1 5-2 5 2 5-6 5 3 5 3 5-6 5 3 5 2 5 0 5-1 5 1 5 0 5-1 5 1 5-1 5-3 5 4 5-2 5 0 5-1 5-2 5-1 5 4 5-4 5 4 5-1 5 1 5-2 5 2 5-2 5 2 5-4 5 3 5 0 5-2 5-5 5 2 5-3 5 8 5-2 5-1 5 3 5 0 5-1 5-2 5 0 5 3 5-6 5-1 5 5 5-5 5 4 5 0 5-5 5 6 5 1 5-12 5 3 5 9 5-1 5 0 5-2 5 0 5-4 5 4 5-5 5-4 5 5 5 5 5-1 5-1 5 0 5-4 5-4 5-7 5-6 5-5 5-4 5-20 5 7 5 9 5-10 5-1 5-4 5-4 5 2 5-30 5 6 5-13 5 22 5-4 5-5 5-3 5-7 5-4 5-9 5 4 5-6 5-30 5 23 5-41 5 13 5 19 5 1 5-27 5 23 5-11 5-1 5-19 5-8 5 13 5-21 5 20 5-8 5-6 5-8 5 8 5-2 5 3 5-4 5 3 4 1 5-5 5-1 5-12 5 1 5-33 5 28 5 4 5-9 5-23 5 22 5-48 5 32 5 9 5 3 5-1 5 1 5-14 5-56 5 74 5-48 5 47 5-37 5 33 5-8 5-35 5 37 5-10 5-23 5 32 5 6 5 0 5 1 5-36 5 6 5 22 5-20 5 25 5-36 5 13 5 13 5-24 5 21 5-5 5 9 5-16 5-21 5 23 5 16 5-41 5 21 5 7 5-137 5 95 5-23 5 38 5 23 5 2 5-26 5 18 5 5 5-7 5-37 5 51 5 15 5-21 5-82 5 68 5-87 5 112 5-9 5 15 5-13 5-55 5 63 5-9 5 27 5-1 5-15 5-99 5 114 5-66 5 58 5-6 5-20 5 29 5-11 5 10 5-128 5 128 5-12 5-32 5-41 5 68 5-2 5-143 5 130 5-49 5 37 5 24 5-3 5-18 5 5 5 17 5-85 5 90 5-21 5 22 5-48 5-6 5 52 5-19 5-45 5 57 5-19 5-11 5 11 5-4 5 6 5-4 5 7 5-9 5-37 5 27 5 17 5 6 5-10 5 25 5-16 5 6 5 15 5-7 5 2 5-23 5 17 5-33 5 44 5-17 5 14 5-53 5 46 5-6 5-13 5 9 5-36 5-68 5 86 5-2 5-7 5-7 5 17 5-19 5-1 5 44 5-22 5 24 5-11 5-12 5 8 5-55 5 32 5-38 5 67 5-15 5 16 5-52 5 50 5 5 5-3 5 6 5-47 5 43 5-39 5 44 5-27 5-8 5-39 5 50 5 13 5-4 5-10 5-10 5 19 5-4 5-6 5-27 5-24 5 58L6773 3257l-5 29 -5-36 -5 1 -5-2 -5 6 -5 25 -5-16 -5 4 -5 8 -5 17 -5-9 -5-36 -5 22 -5 6 -5 23 -5-28 -5 69 -5-58 -5-12 -5 41 -5-42 -5 4 -5-3 -5-2 -5 16 -5-30 -5 5 -5 10 -5 48 -5-20 -5-22 -5-9 -5-2 -5 18 -5 61 -5-90 -5 15 -5 73 -5-67 -5-31 -5 5 -5 18 -5-8 -5 30 -5 18 -5-13 -5-24 -5 6 -5-2 -5 13 -5-6 -5 11 -5 9 -5-11 -5 9 -5-3 -5 70 -5-61 -5-26 -5 4 -5 28 -5-36 -5 16 -5-31 -5 41 -5-28 -5-20 -5 19 -5-11 -5 0 -5 21 -5-24 -5 16 -5-1 -5 27 -5 13 -5-24 -5 20 -5-35 -5 1 -5 36 -5-26 -5-2 -5-2 -5 64 -5-76 -5 136 -5-80 -5-35 -5 48 -5-64 -5 6 -5 11 -5-20 -5 8 -5 18 -5 63 -5-12 -5-56 -5 8 -5-1 -5-9 -5 42 -5-24 -5 0 -5-3 -5-9 -5 0 -5 18 -5-9 -5-8 -5 29 -5-3 -5-26 -5 19 -5-7 -5 12 -5-6 -5 16 -5-29 -5 17 -5-31 -5 12 -5 29 -5-19 -5-19 -5-19 -5 1 -5 4 -5 78 -5-90 -5 17 -5 7 -5 1 -5-10 -5 102 -5-104 -5 14 -5 0 -5 0 -5-21 -5 30 -5-27 -5 36 -5-26 -5-9 -5 8 -5 5 -5 8 -5 16 -5-5 -5-8 -5 25 -5 19 -5-23 -5-6 -5 11 -5-34 -5 6 -5-19 -5 30 -5-14 -5-17 -5 23 -5-22 -5 13 -5 11 -5-6 -5 11 -5 39 -5 28 -5-92 -5 22 -5 8 -5-33 -5 43 -5-42 -5 21 -5-14 -5 2 -5 3 -5 32 -5-8 -5-15 -5 14 -5-12 -5 7 -4 16 -5-7 -5 30 -5 24 -5-60 -5 92 -5-71 -5 28 -5-38 -5 17 -5-16 -5 14 -5-8 -5 30 -5-27 -5 4 -5-6 -5 23 -5-12 -5 3 -5-4 -5 2 -5 21 -5 14 -5-28 -5 3 -5 1 -5 2 -5 20 -5-20 -5 7 -5-4 -5 1 -5 10 -5 3 -5-4 -5 9 -5-2 -5 0 -5 4 -5-1 -5 5 -5 7 -5-4 -5 5 -5-4 -5 1 -5 11 -5 4 -5-6 -5 1 -5 0 -5 0 -5 2 -5-1 -5-2 -5 0 -5 6 -5-4 -5 4 -5-4 -5-1 -5 0 -5 1 -5 4 -5 0 -5-5 -5 2 -5 3 -5-4 -5 2 -5-2 -5 0 -5 1 -5 0 -5 2 -5-2 -5 1 -5-2 -5 1 -5-1 -5 0 -5 1 -5 1 -5 2 -5-3 -5 2 -5-1 -5-2 -5 1 -5 2 -5 0 -5-3 -5 2 -5 2 -5-4 -5 1 -5 1 -5-3 -5 3 -5-3 -5 0 -5 1 -5 0 -5 4 -5-2 -5 2 -5-2 -5 1 -5-3 -5 1 -5 0 -5-1 -5 4 -5-1 -5-2 -5 0 -5 0 -5 2 -5 0 -5 1 -5-3 -5 1 -5 2 -5-2 -5 0 -5-1 -5 0 -5 2 -5-2 -5 3 -5-4 -5 3 -5-2 -5-1 -5 4 -5-2 -5-2 -5 1 -5 1 -5 1 -5-1 -5 0 -5 1 -5 0 -5 0 -5-1 -5 2 -5-1 -5 0 -5 1 -5 0 -5 0 -5 0 -5-1 -5 1 -5 0 -5 0 -5 0 -5-1 -5 0 -5 0 -5 0 -5 1 -5-1 -5 1 -5 0 -5-1 -5 1 -5-1 -5 0 -5 0 -5 0 -5 0 -5 0 -5 1 -5 0 -5-1 -5 1 -5 0 -5 0 -5 0 -5 0 -5 0 -5 0 -5 0 -5 0z"/>
<path transform="scale(0.1)" vector-effect="non-scaling-stroke" fill="#bfef8c" stroke="#bfef8c" stroke-width="0.5" d="M4904 3401l5 0 5-1 5 1 5 0 5 0 5-1 5 0 5 0 5 1 5-1 5 0 5 0 5-2 5 2 5 0 5-1 5 1 5-1 5 1 5-3 5-1 5 3 5-1 5 0 5 0 5 1 5 0 5-1 5-3 5 4 5-1 5 0 5 0 5-1 5 1 5 0 5-2 5 2 5-1 5 1 5-1 5 0 5-1 5 0 5 0 5 0 5 0 5 1 5 1 5-2 5-1 5 1 5 1 5-1 5-2 5 2 5 0 5-1 5-3 5 4 5-2 5 0 5 0 5 2 5 0 5 0 5-1 5-3 5-2 5 4 5 0 5 1 5-1 5 0 5-1 5 1 5 0 5-2 5 1 5-6 5-1 5-3 5-2 5-6 5-4 5-19 5 13 5-4 5-3 5-14 5 8 5-13 5 0 5-12 5 7 5-6 5-13 5 7 5-3 5 4 5-8 5 0 5 4 5-25 5 16 5 7 5 8 5-17 5 1 5 1 5-13 5 20 5-1 5-29 5 24 5-4 5-39 5 16 5 14 5-7 5 0 5 12 5-2 5-17 5-18 5 32 5-2 5 2 5 8 5-14 5 2 5 12 5-4 5 2 5 3 5-20 5-4 5 26 5-23 5 4 5-20 5 40 5-16 5 15 5 0 5 1 5-19 5 12 5 6 5 5 5 0 5-35 5-8 5 41 5-3 5 6 5-10 5-11 5 25 5-28 5 28 5 1 5-19 5 17 5-13 5 0 5 1 5 5 5-7 5 3 5-8 5 6 5-2 5-1 5 6 5-5 5 7 5-2 5 0 5 0 5-4 5-6 5 5 5 4 5-15 5 5 4 5 5 1 5 4 5-1 5-11 5 10 5-2 5-8 5-1 5 3 5 3 5 10 5-5 5 5 5-16 5 15 5-17 5 7 5-6 5-7 5 14 5 5 5-10 5 7 5 0 5-31 5 12 5 17 5 3 5-1 5-26 5 25 5-4 5 5 5-17 5 0 5 5 5-16 5 14 5 10 5 11 5-10 5 5 5-7 5 17 5-7 5-4 5 7 5-3 5 8 5 0 5-31 5 14 5 0 5 10 5-3 5-7 5-22 5 32 5-8 5 4 5 4 5-28 5 23 5-17 5 20 5 1 5-2 5-14 5-1 5 7 5 2 5-10 5 14 5-39 5 6 5 28 5 5 5-5 5 11 5-44 5 37 5 0 5-64 5 22 5 40 5-2 5-11 5 6 5 4 5-1 5 4 5 11 5-31 5 24 5 1 5-40 5 4 5 41 5-10 5 6 5 0 5-5 5 3 5-13 5 13 5-9 5 8 5-3 5 2 5-22 5 17 5-5 5 1 5 8 5-4 5 5 5-16 5 16 5 0 5-7 5-8 5-2 5 10 5 10 5-12 5 8 5 4 5 2 5-3 5-1 5 2 5 2 5-30 5 28 5-3 5-10 5-3 5 16 5-16 5 20 5 2 5-4 5-8 5 10 5-12 5 1 5 1 5 10 5 3 5-14 5 7 5-8 5-15 5 19 5-1 5 9 5 0 5-11 5 6 5-3 5-6 5 20 5-6 5 9 5-9 5-57 5 44 5 9 5-4 5 16 5-10 5-16 5-11 5 27 5 4 5-12 5 15 5-3 5-5 5-1 5 4 5-6 5-9 5 8 5-28 5 28 5-6L6773 3356l-5 33 -5-50 -5 8 -5 3 -5 9 -5-13 -5 4 -5 1 -5 12 -5-10 -5 0 -5 3 -5 38 -5-35 -5-6 -5 2 -5 1 -5 14 -5 11 -5-26 -5 3 -5 1 -5-4 -5 4 -5 8 -5-15 -5 9 -5 12 -5-14 -5-10 -5 2 -5-4 -5 4 -5-2 -5-2 -5 9 -5 17 -5 31 -5-50 -5-4 -5 11 -5-10 -5 10 -5-12 -5-1 -5 11 -5 19 -5-32 -5 13 -5 6 -5-15 -5 4 -5 8 -5-19 -5 13 -5 1 -5 13 -5 10 -5-26 -5-6 -5 7 -5-7 -5-8 -5 1 -5 2 -5-2 -5 4 -5 7 -5-7 -5 16 -5-14 -5 3 -5 5 -5-7 -5-3 -5 12 -5-3 -5-9 -5-8 -5 9 -5 2 -5-7 -5 3 -5 6 -5-7 -5 20 -5-6 -5-9 -5 8 -5 10 -5-3 -5 15 -5-25 -5 1 -5-3 -5-7 -5-4 -5 6 -5 16 -5-5 -5-8 -5 12 -5-20 -5 35 -5-22 -5-9 -5 4 -5 22 -5-20 -5 0 -5-10 -5-4 -5 2 -5 9 -5-7 -5 0 -5 6 -5-4 -5 22 -5-18 -5-3 -5 2 -5 9 -5 2 -5-5 -5 3 -5-5 -5 13 -5-10 -5-7 -5 3 -5-5 -5 19 -5-9 -5 9 -5-3 -5-4 -5 2 -5 25 -5-25 -5 0 -5-4 -5 0 -5 11 -5-8 -5 5 -5 4 -5-17 -5 2 -5-7 -5 1 -5 8 -5-13 -5 5 -5-3 -5 1 -5 4 -5-5 -5 4 -5 8 -5-12 -5 4 -5-3 -5-2 -5 13 -5-11 -5 5 -5 0 -5 6 -5-7 -5 23 -5-24 -5 1 -5 8 -5 6 -5-10 -5 6 -5 3 -5-15 -5 0 -5 3 -5 2 -5-2 -5-2 -5 15 -5-12 -5-1 -4-3 -5 1 -5 1 -5 1 -5 15 -5-11 -5 19 -5-5 -5-4 -5 1 -5-14 -5 1 -5 19 -5-7 -5-17 -5-1 -5 11 -5-6 -5 17 -5-13 -5-2 -5 7 -5 15 -5-18 -5 10 -5 3 -5-4 -5-5 -5 7 -5-9 -5 7 -5 0 -5 19 -5-22 -5-4 -5 8 -5 3 -5 5 -5-10 -5 8 -5-23 -5 9 -5-4 -5 11 -5-17 -5 17 -5-8 -5 8 -5-17 -5 29 -5-30 -5 24 -5-21 -5 1 -5 16 -5-15 -5-1 -5 3 -5-1 -5-1 -5 17 -5 27 -5-51 -5 13 -5-6 -5-2 -5-9 -5-3 -5 4 -5 7 -5-3 -5 11 -5 15 -5-16 -5 8 -5-12 -5 2 -5 2 -5 43 -5-36 -5-4 -5 9 -5 0 -5-7 -5 10 -5-15 -5 7 -5-1 -5-5 -5 34 -5-29 -5 5 -5 0 -5 2 -5 11 -5-3 -5 9 -5-6 -5 2 -5 8 -5-5 -5 7 -5 4 -5-3 -5 5 -5 3 -5-3 -5 2 -5 0 -5 1 -5 0 -5 1 -5 2 -5 0 -5-3 -5 0 -5 0 -5 4 -5-2 -5-1 -5 1 -5 0 -5-1 -5 0 -5 0 -5 1 -5 2 -5-3 -5 2 -5-1 -5 0 -5 0 -5 2 -5-2 -5 0 -5 0 -5 1 -5-1 -5 2 -5-2 -5 0 -5 2 -5-1 -5 1 -5-1 -5 1 -5-2 -5 0 -5 2 -5-1 -5 1 -5-2 -5 1 -5-1 -5 2 -5 0 -5-1 -5 0 -5 0 -5 1 -5 0 -5 0 -5 0 -5 0 -5-1 -5 1 -5 0 -5-1 -5 1 -5 0 -5 0 -5 0 -5 0 -5 0 -5 0 -5 0 -5 0 -5 0 -5 0 -5 0 -5 0 -5 0 -5 0 -5 0 -5 0 -5 0 -5 0z"/>
<path transform="scale(0.1)" vector-effect="non-scaling-stroke" fill="#c3f09a" stroke="#c3f09a" stroke-width="0.5" d="M4904 3399l5 1 5 0 5 1 5-1 5 1 5-1 5 1 5 0 5-1 5 1 5 0 5 0 5 0 5-3 5 1 5 0 5 1 5 0 5-1 5-3 5 4 5 0 5-1 5 1 5 0 5-1 5-2 5 2 5 0 5 0 5-1 5-1 5 0 5 0 5 2 5-2 5 1 5 0 5 0 5 0 5 0 5 0 5 0 5-3 5 3 5 0 5-3 5 1 5 2 5 0 5-1 5-1 5 1 5 0 5 0 5 0 5 0 5 0 5 0 5-4 5 3 5 0 5 0 5 0 5 0 5-1 5-1 5 0 5-1 5 1 5 2 5-1 5-1 5-1 5 2 5 0 5-1 5 0 5 0 5 0 5 0 5-1 5-1 5 2 5-1 5 1 5 1 5-1 5 1 5-2 5 0 5-1 5-4 5 2 5-5 5 1 5-2 5-1 5-1 5 0 5-2 5-5 5 1 5-2 5 0 5-4 5-7 5 6 5-2 5-1 5-3 5-7 5-1 5 3 5 2 5-11 5 7 5-3 5 0 5-4 5 0 5 0 5-2 5-5 5 4 5-1 5-33 5 32 5-3 5 0 5-3 5 1 5 0 5-13 5-9 5 17 5-16 5 10 5 0 5 6 5-3 5-6 5 8 5-4 5 0 5 2 5-4 5 4 5-3 5-2 5-3 5 2 5 1 5-11 5-24 5 9 5 12 5-11 5 14 5-23 5 8 5 15 5 0 5 0 5-2 5-4 5-2 5 7 5 1 5 5 5 1 5-2 5-12 5-31 5 25 5 12 5-15 5-9 5 26 5-23 5 14 5-19 5 23 5-11 5 4 5 7 4-6 5 6 5-7 5 1 5-6 5-53 5 55 5 4 5-17 5-12 5 30 5-9 5 3 5-24 5 17 5-10 5 8 5-43 5 53 5 4 5-7 5-1 5 0 5 6 5-7 5 11 5-25 5 16 5-32 5 33 5 2 5 7 5-11 5 8 5-17 5-10 5 32 5-10 5 7 5-14 5-4 5 18 5 0 5-17 5 0 5 18 5-1 5-11 5 13 5 2 5-4 5 2 5-17 5 5 5-20 5 18 5 4 5 5 5-11 5 4 5-48 5 49 5 0 5 6 5 2 5-12 5-13 5 21 5-10 5 11 5-9 5 7 5-6 5 0 5-17 5 13 5 11 5 1 5 2 5 2 5 1 5 0 5-43 5 40 5-9 5 8 5-20 5 24 5-3 5-10 5 8 5-3 5 1 5-4 5-2 5-11 5 7 5-16 5 9 5 12 5 1 5-2 5-44 5 27 5 12 5-23 5 1 5 14 5 11 5-2 5 0 5 0 5-14 5 16 5 0 5-18 5 13 5 10 5-15 5 18 5-1 5-6 5-14 5-3 5 21 5-33 5 32 5-5 5-4 5 0 5 3 5-8 5 8 5-1 5 0 5 3 5-1 5-1 5 3 5 2 5-12 5-3 5 11 5-16 5-17 5 27 5-34 5-6 5 32 5 6 5 4 5-8 5 6 5-34 5 42 5-1 5-10 5 13 5-5 5 0 5 1 5 5 5 0 5-24 5 28 5-3 5 3 5-8 5-1 5 9 5-29 5 22 5 4 5-5 5 4 5-7 5 4 5 0 5-7 5-22 5 27 5 1 5-7 5 6 5-9 5-9 5 12 5 4L6773 3335l-5-5 -5 5 -5-1 -5 13 -5-15 -5 9 -5 18 -5-18 -5 16 -5-3 -5-9 -5 8 -5-6 -5-12 -5 3 -5-2 -5 2 -5 6 -5 17 -5-24 -5 24 -5-25 -5 9 -5-1 -5-1 -5-2 -5-4 -5 16 -5-6 -5-10 -5 6 -5 0 -5-3 -5-12 -5-1 -5-1 -5 24 -5-24 -5 56 -5-44 -5-9 -5 4 -5 40 -5-28 -5-8 -5-9 -5 3 -5 12 -5-9 -5-3 -5 21 -5-5 -5-21 -5-2 -5 31 -5-27 -5 4 -5 7 -5 8 -5-16 -5 3 -5 4 -5-5 -5 8 -5-6 -5 2 -5 10 -5 7 -5-5 -5-9 -5 0 -5-6 -5 8 -5 19 -5-29 -5-2 -5 0 -5-4 -5 4 -5 0 -5 16 -5-12 -5 12 -5-1 -5-10 -5 7 -5-5 -5-5 -5 5 -5 5 -5-12 -5 1 -5 4 -5 0 -5 9 -5-3 -5-1 -5 11 -5-1 -5-7 -5 31 -5-27 -5-5 -5 5 -5 13 -5-11 -5 4 -5-2 -5 8 -5 2 -5-14 -5-1 -5 24 -5-18 -5 25 -5-32 -5 5 -5-3 -5 6 -5-1 -5 11 -5-13 -5 4 -5 10 -5 5 -5-12 -5-10 -5 3 -5 2 -5-1 -5 8 -5 12 -5-15 -5 21 -5 17 -5-13 -5-18 -5 1 -5-1 -5-15 -5 7 -5-8 -5-4 -5 17 -5 30 -5 1 -5-45 -5 16 -5-10 -5-7 -5 14 -5-9 -5 28 -5-27 -5 0 -5 0 -5-4 -5 8 -5 11 -5-25 -5 4 -5 14 -5-10 -5-5 -5 3 -5-6 -5 7 -5 16 -5-10 -5-4 -5 26 -5-31 -5 4 -5-11 -5 12 -5 0 -5-7 -5 6 -5 9 -5 4 -5 20 -5-33 -5 51 -5-52 -5 1 -5 5 -5-2 -4 41 -5-9 -5-10 -5-9 -5 27 -5-37 -5-5 -5-3 -5 1 -5 3 -5 1 -5 15 -5 18 -5-33 -5 14 -5-8 -5-2 -5 28 -5-32 -5 9 -5-11 -5 5 -5-4 -5-3 -5 2 -5-4 -5 7 -5-4 -5 1 -5 14 -5-12 -5-1 -5 3 -5 8 -5-3 -5-2 -5-1 -5 20 -5 5 -5-1 -5 4 -5-22 -5-2 -5 6 -5 0 -5-2 -5-1 -5 6 -5 14 -5-11 -5-5 -5 11 -5-13 -5 15 -5-13 -5 7 -5 3 -5 27 -5-29 -5-4 -5 10 -5-11 -5-4 -5 1 -5 5 -5-3 -5 8 -5-2 -5 0 -5 3 -5 21 -5-22 -5 13 -5-8 -5 4 -5-4 -5 4 -5 4 -5-6 -5 3 -5 7 -5-6 -5 3 -5-3 -5 1 -5 5 -5 5 -5-3 -5-3 -5 1 -5 1 -5 2 -5 1 -5-1 -5 2 -5 0 -5 5 -5-1 -5-1 -5-2 -5-1 -5 0 -5 0 -5 2 -5-1 -5 1 -5-2 -5 0 -5 3 -5 2 -5-4 -5 3 -5-3 -5 0 -5 4 -5-4 -5 2 -5-1 -5-1 -5 0 -5 2 -5 0 -5 1 -5 1 -5 0 -5-1 -5-2 -5 1 -5 0 -5 0 -5 2 -5-3 -5 0 -5 1 -5 0 -5 0 -5 0 -5 1 -5 1 -5 0 -5-2 -5 1 -5-1 -5 2 -5-1 -5 1 -5-1 -5 0 -5-1 -5 2 -5-2 -5 2 -5 0 -5-1 -5 0 -5 1 -5 0 -5-1 -5 0 -5 0 -5 1 -5 0 -5-1 -5 1 -5 0 -5 0 -5 0 -5 0 -5 0 -5 0 -5 0 -5 0 -5 0 -5 0 -5 0 -5 0 -5 0 -5 0 -5 0 -5 0 -5 0 -5 0 -5 0 -5 0 -5 0 -5 0 -5 0z"/>
<path transform="scale(0.1)" vector-effect="non-scaling-stroke" fill="#f8d4ae" stroke="#f8d4ae" stroke-width="0.5" d="M4904 3399l5 0 5 0 5 1 5-1 5 0 5-2 5 2 5 0 5 0 5 0 5-1 5 0 5 1 5-3 5 1 5 2 5 0 5-1 5-2 5 2 5 0 5-1 5 1 5 0 5 0 5 0 5 0 5 1 5-1 5 0 5-1 5 2 5 0 5 0 5-2 5 1 5 0 5 0 5 0 5 0 5 1 5-1 5 0 5-1 5 1 5-1 5 0 5 1 5-1 5-1 5 0 5 1 5 0 5-2 5 1 5 1 5 0 5-3 5 3 5 0 5 0 5 0 5 0 5-2 5 2 5-1 5 1 5-1 5-2 5 0 5 2 5-2 5 2 5-1 5 0 5-1 5 2 5-1 5 1 5-2 5 1 5 0 5-1 5 1 5-2 5 1 5 0 5 0 5-1 5-1 5 0 5-1 5-3 5 1 5-1 5 0 5-1 5-3 5 0 5-3 5-2 5 0 5 4 5-6 5 4 5-1 5-1 5 1 5-4 5 1 5-3 5 5 5-5 5 3 5 0 5-2 5 0 5 2 5-2 5-3 5 1 5-6 5 4 5-3 5-2 5-5 5 6 5-2 5 1 5 0 5 0 5-2 5 6 5 0 5-10 5 9 5-4 5 4 5-1 5-1 5-2 5-4 5 4 5-5 5 0 5-2 5 3 5 2 5-5 5 4 5-1 5-6 5 0 5 3 5 0 5 2 5-3 5-9 5 4 5 1 5 5 5-1 5 2 5-3 5 0 5 0 5-1 5 0 5 1 5 0 5 1 5-4 5 0 5 0 5 0 5-1 5 0 5-5 5 5 5-7 5 3 5 3 5-1 5-9 5 14 5 1 4-2 5 1 5 3 5-12 5 3 5 7 5 0 5-4 5 6 5-6 5-1 5 8 5 0 5-4 5 1 5-9 5 8 5 0 5-2 5 4 5-4 5 5 5 1 5 0 5-3 5 1 5 1 5 1 5-9 5 6 5-3 5 0 5-8 5-7 5 16 5-6 5 8 5-11 5 11 5 0 5 3 5-1 5-2 5-2 5 0 5 1 5 3 5-3 5 1 5-10 5 10 5-1 5-6 5 3 5 3 5 1 5 0 5-5 5 4 5-8 5 9 5-4 5 4 5 1 5-8 5 7 5-6 5 6 5-9 5 9 5-5 5 0 5-1 5-16 5 20 5-5 5 7 5-2 5 0 5-8 5-1 5 8 5-2 5 3 5-20 5 18 5-6 5 4 5-7 5 6 5-3 5 4 5-5 5 5 5 0 5-4 5-1 5 3 5 0 5-2 5 0 5 1 5-5 5 5 5-7 5 9 5-1 5 1 5-6 5 5 5-1 5 0 5-4 5-2 5-6 5 12 5-5 5 4 5-5 5 4 5 3 5-8 5 8 5 1 5-11 5 4 5 4 5-1 5-3 5-4 5 9 5 1 5 0 5 6 5-1 5-11 5 11 5-1 5-2 5-2 5 6 5-7 5-4 5 7 5 1 5 1 5-1 5 5 5-3 5 1 5 3 5 0 5-2 5-5 5-2 5 9 5-6 5-2 5 5 5-8 5 6 5 0 5 2 5 0 5 3 5-1 5 4 5 1 5-4 5 6 5 2 5 2 5-1 5-5 5-2 5 6 5-5 5 9 5-6 5 4 5-3 5 0 5-1 5-9 5 7 5-10 5 11 5 3L6773 3404l-5-1 -5 1 -5-1 -5 1 -5 0 -5 0 -5 0 -5 0 -5 0 -5 0 -5 0 -5-2 -5 0 -5 2 -5 0 -5 0 -5 0 -5 0 -5-3 -5 1 -5-2 -5 4 -5-4 -5-1 -5-7 -5-1 -5 0 -5 3 -5-1 -5 2 -5 4 -5-3 -5 5 -5-2 -5-5 -5 3 -5 0 -5-4 -5 6 -5 2 -5-10 -5 4 -5 7 -5-7 -5-3 -5 0 -5 1 -5 11 -5-11 -5 1 -5 3 -5-1 -5 0 -5 0 -5 6 -5-11 -5 0 -5-3 -5-2 -5 3 -5 1 -5 0 -5-3 -5-2 -5 3 -5 12 -5-10 -5-5 -5 7 -5-3 -5-5 -5 4 -5-2 -5 2 -5 13 -5-13 -5 9 -5-8 -5 3 -5-6 -5 6 -5-3 -5 13 -5-13 -5-1 -5-2 -5 12 -5-10 -5 2 -5-3 -5 2 -5-3 -5 5 -5-2 -5 0 -5 1 -5 0 -5-4 -5 18 -5-11 -5 8 -5-10 -5-2 -5 6 -5 7 -5-5 -5-2 -5 0 -5 0 -5 7 -5-9 -5 0 -5-1 -5 5 -5-6 -5 2 -5 6 -5-5 -5 1 -5 1 -5 4 -5 1 -5-1 -5-2 -5 6 -5 0 -5-9 -5 9 -5-3 -5-1 -5-6 -5 3 -5-2 -5-2 -5 3 -5-2 -5-1 -5 8 -5-3 -5 5 -5-3 -5-4 -5 5 -5-6 -5 0 -5 5 -5-2 -5-1 -5-1 -5 3 -5-5 -5 2 -5 1 -5-4 -5 3 -5 0 -5 8 -5-4 -5 1 -5-1 -5-4 -5 8 -5-10 -5 10 -5-4 -5 2 -5 2 -5-3 -5 2 -5 0 -5-2 -5-5 -5 1 -5 3 -5 4 -5-5 -5 1 -5-1 -5 5 -5-5 -5-1 -5 4 -5-5 -5 7 -5-8 -5 5 -5-5 -4 8 -5-1 -5-11 -5-3 -5 5 -5-1 -5 5 -5-7 -5-1 -5 0 -5 3 -5 1 -5 5 -5-6 -5 0 -5 2 -5 0 -5 2 -5-3 -5 2 -5 5 -5-4 -5 7 -5-4 -5 0 -5-3 -5 1 -5-3 -5 5 -5-3 -5 0 -5 7 -5-5 -5-1 -5 2 -5 4 -5-6 -5 6 -5-2 -5-5 -5 3 -5-4 -5 0 -5 4 -5 4 -5-6 -5 3 -5 3 -5-3 -5 2 -5 1 -5 0 -5-1 -5 0 -5-3 -5 4 -5-5 -5 2 -5 3 -5-3 -5 0 -5-1 -5-1 -5 5 -5-4 -5 1 -5 2 -5 0 -5 1 -5-1 -5 0 -5-2 -5 2 -5-1 -5 0 -5 2 -5-3 -5 2 -5-2 -5-1 -5 3 -5-1 -5 1 -5-3 -5-1 -5 1 -5 1 -5 3 -5-3 -5 3 -5-3 -5 1 -5 0 -5 0 -5 1 -5 1 -5-2 -5 0 -5 1 -5-1 -5 0 -5 2 -5-2 -5 2 -5 0 -5 0 -5-1 -5 0 -5 1 -5-1 -5-1 -5 1 -5 0 -5 1 -5-1 -5 1 -5-1 -5 0 -5 1 -5 0 -5 0 -5 0 -5 0 -5 0 -5 0 -5 0 -5 0 -5 0 -5 0 -5 0 -5 0 -5 0 -5 0 -5 0 -5-1 -5 1 -5 0 -5 0 -5 0 -5 0 -5 0 -5 0 -5 0 -5 0 -5 0 -5 0 -5 0 -5 0 -5 0 -5 0 -5 0 -5 0 -5 0 -5 0 -5 0 -5 0 -5 0 -5 0 -5 0 -5 0 -5 0 -5 0 -5 0 -5 0 -5 0 -5 0 -5 0 -5 0 -5 0 -5 0 -5 0 -5 0 -5 0 -5 0 -5 0 -5 0 -5-1 -5 1 -5 0 -5 0 -5 0 -5 0 -5 0 -5 0 -5 0 -5 0 -5 0z"/>
<path transform="scale(0.1)" vector-effect="non-scaling-stroke" fill="#3f5fe6" stroke="#3f5fe6" stroke-width="0.5" opacity="0.85" d="M4904 3402l5-1 5-4 5 4 5-2 5 2 5-2 5 0 5-3 5 2 5-2 5 1 5 0 5 3 5 0 5-2 5 2 5-3 5-12 5 14 5 1 5-1 5 1 5-3 5 2 5-8 5 7 5 0 5-1 5 0 5-1 5-3 5-3 5 5 5 3 5 1 5 1 5-1 5 0 5 0 5-8 5 8 5 1 5 0 5 0 5-6 5 2 5 3 5-1 5 2 5-1 5-4 5-2 5 4 5 0 5-10 5 7 5 5 5-5 5 2 5 2 5 0 5 0 5-3 5 1 5 0 5 1 5 1 5 0 5 1 5-3 5 0 5-3 5 6 5 0 5-12 5 10 5 1 5 0 5-1 5-4 5 4 5 1 5-4 5 4 5-4 5 5 5-12 5 13 5-1 5-2 5-2 5-10 5 7 5 6 5-6 5 6 5-5 5 1 5 2 5-3 5 3 5-3 5 3 5-13 5 5 5 8 5-3 5-5 5 8 5-2 5 0 5 1 5 0 5 1 5 0 5-17 5-1 5 10 5 3 5 4 5-5 5 6 5-2 5 2 5-1 5 0 5-2 5 3 5-2 5-1 5-3 5 6 5-8 5 6 5 1 5-1 5 1 5-3 5 0 5-1 5 2 5 2 5-1 5-2 5 0 5-3 5 4 5-1 5 2 5-4 5 0 5 3 5-1 5-5 5-10 5-4 5 17 5-9 5-8 5 15 5 5 5-2 5-5 5 2 5-1 5 4 5-11 5 2 5 9 5 1 5 0 5-3 5 3 5 1 5-3 5-2 5 4 5-5 5 3 5 2 5-4 5 1 5 1 5-3 5-15 5 17 4 1 5-4 5-7 5 10 5 0 5-7 5 7 5-5 5 3 5 1 5 1 5-2 5 1 5-10 5 0 5 8 5-3 5 6 5-7 5-6 5 8 5 4 5-2 5 3 5-3 5 1 5-3 5 3 5-14 5-3 5 16 5 1 5-1 5-14 5 16 5-1 5 0 5-2 5-1 5-5 5 8 5-10 5 10 5-3 5 0 5-1 5 1 5-8 5-22 5 30 5-11 5 10 5 0 5-1 5-10 5 11 5-8 5 5 5 0 5-9 5 11 5 1 5-7 5 0 5 3 5 5 5-3 5 3 5-41 5 30 5 11 5-3 5 0 5-27 5 27 5 1 5-1 5 0 5 1 5-10 5-6 5 12 5 1 5 1 5 1 5-6 5 6 5-9 5 1 5-1 5 10 5-3 5 1 5-8 5 4 5-1 5-2 5 4 5-6 5 10 5 1 5 1 5 0 5-12 5-2 5 2 5 7 5 3 5 0 5 2 5-4 5 2 5 2 5-7 5 6 5-36 5 39 5-1 5 1 5-2 5-16 5 8 5 9 5-1 5-8 5-2 5-36 5 29 5 13 5 3 5 0 5 0 5-1 5-8 5 12 5-7 5 6 5-7 5-3 5 9 5 3 5-15 5 13 5-2 5 2 5 1 5-7 5 2 5-5 5 10 5-9 5 7 5-14 5 10 5-1 5 1 5 4 5-5 5 1 5-9 5 4 5 1 5 2 5 0 5-11 5 7 5-12 5 21 5 0 5-4 5-3 5 1 5-7 5 11 5-13 5 6 5 2 5 1 5 2 5-7 5 9 5-1 5 0 5 0 5-8 5 3 5 1 5 5L6773 3393l-5-10 -5 0 -5 14 -5-9 -5 0 -5 6 -5 10 -5-20 -5 0 -5 0 -5 16 -5-13 -5 9 -5-11 -5 6 -5 2 -5 0 -5-7 -5 2 -5 12 -5-14 -5 10 -5-11 -5 1 -5 1 -5 1 -5 4 -5-6 -5 15 -5-12 -5 15 -5-10 -5-6 -5-2 -5 8 -5-7 -5 3 -5 13 -5-1 -5-10 -5 12 -5-14 -5 2 -5-1 -5 1 -5 9 -5-12 -5-2 -5 12 -5-8 -5-2 -5 3 -5-3 -5 15 -5-16 -5 1 -5 2 -5 8 -5-9 -5-3 -5 9 -5-5 -5 5 -5-1 -5-2 -5 5 -5-5 -5-4 -5 1 -5 10 -5-11 -5 9 -5-11 -5 4 -5-4 -5 0 -5 3 -5 5 -5-8 -5 2 -5 3 -5-1 -5-5 -5 18 -5-18 -5 18 -5-19 -5 1 -5 4 -5-2 -5-3 -5 1 -5 2 -5 7 -5-5 -5 14 -5 0 -5-3 -5 3 -5-16 -5-1 -5 3 -5 1 -5-6 -5 10 -5-11 -5 2 -5 4 -5-3 -5-3 -5 8 -5-1 -5-2 -5 3 -5 12 -5-17 -5 14 -5-11 -5 5 -5-7 -5 5 -5 3 -5-10 -5 16 -5-14 -5 16 -5-8 -5-7 -5 1 -5 3 -5-8 -5 14 -5-14 -5 3 -5 16 -5-15 -5 3 -5-2 -5-3 -5 1 -5 2 -5 5 -5-1 -5-4 -5 4 -5-1 -5 3 -5-6 -5 2 -5-1 -5 12 -5-6 -5-2 -5 2 -5-4 -5 11 -5-9 -5 5 -5 4 -5-13 -5 1 -5-1 -5 9 -5-2 -5 2 -5-7 -5 0 -5 6 -5-7 -5 3 -5-2 -5 3 -5-6 -5 6 -5-4 -5 5 -5-4 -5 1 -5 3 -5-2 -5 3 -5-5 -5-1 -5 2 -5-1 -5-1 -5 2 -4 2 -5-4 -5 4 -5 4 -5-5 -5 9 -5-7 -5-3 -5 2 -5 0 -5-1 -5 9 -5-7 -5 1 -5 2 -5-1 -5-5 -5 0 -5 2 -5 4 -5-4 -5 5 -5 1 -5 2 -5-8 -5 7 -5 1 -5-9 -5 1 -5 7 -5-4 -5-3 -5-2 -5 2 -5 0 -5 8 -5-7 -5-1 -5 2 -5 3 -5-4 -5 2 -5 0 -5 1 -5 2 -5-4 -5-1 -5 1 -5 0 -5 0 -5 2 -5 4 -5-4 -5-2 -5 1 -5 0 -5 0 -5 0 -5 1 -5-1 -5 0 -5-2 -5 4 -5 0 -5-2 -5-1 -5 3 -5-2 -5 2 -5 3 -5-5 -5 5 -5 0 -5-3 -5 0 -5-1 -5 4 -5-5 -5 5 -5-5 -5 2 -5-2 -5 1 -5 2 -5-1 -5 1 -5-1 -5 3 -5-1 -5-2 -5 1 -5 1 -5 1 -5-3 -5 3 -5-3 -5 3 -5 0 -5 0 -5-3 -5 1 -5 2 -5-2 -5-2 -5 4 -5-3 -5 3 -5 0 -5-4 -5 1 -5 3 -5 0 -5 0 -5 0 -5-3 -5 1 -5 1 -5-2 -5 0 -5 3 -5 0 -5 0 -5-4 -5 2 -5 2 -5-1 -5 1 -5 0 -5-3 -5 0 -5 2 -5-1 -5 1 -5 1 -5-2 -5 0 -5 2 -5-2 -5 2 -5-1 -5 1 -5-1 -5-1 -5 2 -5 0 -5-2 -5 2 -5-1 -5-1 -5 2 -5-2 -5 1 -5 1 -5 0 -5-1 -5 1 -5-1 -5-1 -5 1 -5-2 -5 3 -5 0 -5-3 -5 1 -5 0 -5 0 -5 0 -5 0 -5 1 -5 1 -5 0 -5-2 -5 1 -5-1 -5 2 -5-2 -5 2 -5 0 -5 0 -5-1 -5 1 -5 0 -5-1 -5 0 -5 0 -5 1 -5 0z"/>
<path transform="scale(0.1)" vector-effect="non-scaling-stroke" fill="#d52cf0" stroke="#d52cf0" stroke-width="0.5" d="M4904 3400l5 0 5 0 5 0 5 0 5-1 5 1 5 0 5 0 5-1 5 1 5-1 5 0 5 0 5 0 5 0 5 0 5 0 5 0 5 0 5 0 5 0 5 0 5 0 5 0 5-1 5 1 5 0 5 0 5 0 5 0 5 0 5 0 5 0 5 0 5-1 5 1 5-1 5 1 5-1 5 1 5 0 5 0 5-1 5 0 5 0 5 0 5 0 5 0 5 0 5 0 5-1 5 1 5 0 5 0 5 0 5 0 5 0 5 0 5 0 5 0 5 0 5 0 5 0 5 0 5-1 5 1 5 0 5 0 5-1 5 1 5 0 5 0 5 0 5-1 5 1 5 0 5 0 5-6 5-9 5-16 5-2 5-9 5-24 5-3 5-29 5-1 5-38 5 5 5-17 5-6 5-14 5-12 5-23 5-9 5-5 5-14 5-25 5 0 5-22 5-20 5-5 5-24 5-23 5-29 5-4 5-30 5-17 5-15 5-16 5-65 5 26 5-30 5-18 5-13 5-31 5-26 5-31 5-15 5 8 5-19 5-9 5 4 5 0 5-12 5 11 5 5 5-14 5 4 5 1 5 8 5-7 5-24 5 3 5 27 5-16 5-2 5 21 5-45 5 43 5 3 5-3 5 0 5 4 5 2 5 8 5-25 5 5 5-9 5-10 5 37 5 10 5-62 5 62 5 4 5-20 5-3 5 24 5 3 5-8 5 16 5-23 5 33 5-32 5 25 5-4 5-5 5 14 5-12 5-1 5-2 5 24 5-10 5 12 5 8 5-6 5-43 5 36 5-1 5 8 5 8 5-10 5 16 5-16 5-17 5 28 5 8 4 6 5 12 5-12 5 4 5-39 5 21 5 3 5 27 5 7 5-7 5-8 5-18 5 24 5 20 5 3 5-19 5 16 5-23 5 28 5-2 5-22 5 15 5 1 5 8 5-21 5 11 5-5 5 11 5-14 5-12 5 18 5 0 5-15 5 0 5-30 5 37 5-68 5 49 5-37 5 21 5 17 5-8 5-15 5 37 5 11 5-3 5-2 5 3 5-41 5 19 5-72 5 82 5 10 5-4 5-44 5 22 5-11 5 11 5 4 5 11 5-27 5 14 5-10 5-12 5 29 5 1 5-30 5-10 5-18 5 49 5 7 5-5 5-18 5 0 5 3 5-43 5-10 5 53 5-2 5 8 5 1 5-46 5 15 5-6 5 29 5 16 5-17 5-22 5 26 5-4 5-14 5 8 5-22 5 14 5 11 5 5 5-37 5 11 5 19 5 8 5-21 5-3 5 17 5 32 5-27 5 30 5-10 5-20 5 19 5-3 5-59 5 32 5 30 5-2 5-7 5 21 5-29 5 0 5 6 5-3 5 1 5 9 5-23 5 39 5-5 5 9 5-2 5-10 5 15 5 11 5-5 5 13 5 1 5-2 5-58 5 52 5-15 5 20 5-13 5-8 5 0 5-4 5 5 5-23 5-65 5 79 5-1 5 4 5 12 5-19 5 5 5 15 5-9 5 23 5 7 5-5 5 0 5-15 5 1 5 11 5-2 5-10 5 8 5-105 5 85 5-12 5-14 5 25 5 3 5 3 5-10 5-14 5 17 5-1 5-4 5 3 5 3 5 1 5-2 5 9 5-2 5-1 5-8 5 9 5 1 5-6 5-28 5 7L6773 2968l-5-11 -5-12 -5-8 -5 1 -5 0 -5 2 -5-6 -5 37 -5-25 -5-5 -5-4 -5 12 -5-13 -5 7 -5-7 -5 3 -5 3 -5 1 -5 33 -5-45 -5 0 -5 49 -5-37 -5 25 -5 15 -5-5 -5-12 -5 8 -5-10 -5 1 -5-4 -5 63 -5-49 -5 20 -5-26 -5-17 -5 24 -5-27 -5 1 -5-4 -5 6 -5 19 -5-37 -5 18 -5 10 -5-6 -5-1 -5 28 -5-8 -5-4 -5 29 -5-29 -5 11 -5 1 -5-4 -5 26 -5-35 -5 11 -5-9 -5-3 -5-10 -5 6 -5 25 -5-21 -5 9 -5-19 -5-8 -5 26 -5-26 -5 42 -5-35 -5 13 -5-8 -5 23 -5-34 -5 9 -5 41 -5-51 -5 31 -5-15 -5-1 -5 6 -5 1 -5-14 -5 4 -5 1 -5 1 -5 16 -5-25 -5 1 -5-11 -5 4 -5 23 -5-19 -5 5 -5-11 -5 23 -5-19 -5-15 -5 37 -5-14 -5 27 -5-36 -5 6 -5-11 -5-2 -5 25 -5 0 -5-13 -5-8 -5 37 -5-13 -5-4 -5-19 -5 45 -5-19 -5 8 -5-32 -5 1 -5 20 -5-1 -5 71 -5-81 -5 25 -5-31 -5 67 -5-57 -5 9 -5-10 -5-2 -5 9 -5-5 -5 4 -5 7 -5 9 -5 7 -5-17 -5 6 -5 7 -5 17 -5-23 -5-7 -5 41 -5-53 -5 1 -5 16 -5-30 -5 4 -5 36 -5-32 -5-5 -5 23 -5-17 -5 13 -5 46 -5-38 -5 20 -5 17 -5-47 -5 14 -5-5 -5-5 -5 4 -5-3 -5 32 -5-39 -5-5 -5 16 -5 2 -5-5 -5 11 -5-6 -5 11 -5 10 -5-32 -5-12 -5 0 -5 3 -5-8 -5 20 -5-30 -5-3 -5 6 -5-8 -5 11 -5-8 -5 25 -4-7 -5-18 -5-17 -5 2 -5-1 -5-6 -5-3 -5-6 -5-6 -5 7 -5-9 -5 5 -5 53 -5-53 -5 17 -5 7 -5-16 -5 19 -5-19 -5-1 -5-10 -5 23 -5-8 -5 9 -5-35 -5-3 -5 33 -5-32 -5 9 -5 25 -5-30 -5-4 -5-8 -5-7 -5 24 -5-24 -5 34 -5-19 -5-13 -5-11 -5 19 -5-44 -5-18 -5 29 -5-41 -5 5 -5-7 -5-3 -5 2 -5 2 -5 8 -5 4 -5-21 -5 11 -5 8 -5-16 -5 6 -5 8 -5-10 -5-2 -5 8 -5-7 -5-3 -5 5 -5 11 -5-12 -5 1 -5 13 -5 28 -5 16 -5 7 -5 18 -5 29 -5 15 -5 18 -5 29 -5 18 -5 30 -5 0 -5 22 -5 16 -5 34 -5 44 -5-19 -5 16 -5 35 -5 1 -5 10 -5 7 -5 24 -5 2 -5 15 -5 13 -5 19 -5 27 -5 17 -5-17 -5 19 -5 12 -5 20 -5 29 -5-8 -5 17 -5 5 -5 10 -5 2 -5-3 -5-1 -5 0 -5 0 -5 1 -5 0 -5 0 -5-1 -5 0 -5 1 -5 0 -5 0 -5-1 -5 1 -5 0 -5 0 -5 0 -5 0 -5 0 -5 0 -5 0 -5 0 -5 0 -5 0 -5 0 -5 0 -5 0 -5 0 -5 0 -5-1 -5 1 -5-1 -5 0 -5 1 -5 0 -5 0 -5 1 -5-1 -5 1 -5 0 -5 0 -5 1 -5-1 -5-1 -5 1 -5 0 -5-1 -5 0 -5 0 -5 0 -5 1 -5 0 -5-1 -5 2 -5-2 -5 1 -5-1 -5 0 -5 2 -5-1 -5 0 -5 0 -5 0 -5 0 -5 0 -5 0 -5 0 -5 0 -5 0 -5 0 -5 0 -5 1 -5-1 -5 0 -5 1 -5 0 -5-1 -5 0 -5 0 -5 0 -5 0z"/>
<path transform="scale(0.1)" vector-effect="non-scaling-stroke" fill="#e6df62" stroke="#e6df62" stroke-width="0.5" d="M4904 3400l5 0 5 0 5 0 5 0 5 0 5-1 5 1 5 0 5 0 5 0 5-1 5 1 5 0 5 0 5 0 5 0 5 0 5-1 5 1 5-1 5 0 5 0 5 0 5 1 5 0 5-1 5 0 5 0 5 0 5 0 5 0 5 0 5 0 5 0 5-1 5 1 5 0 5 0 5 0 5 0 5 0 5 0 5 0 5 0 5 0 5 0 5 0 5 0 5 0 5-1 5 1 5 0 5 0 5-1 5 1 5-1 5 0 5 1 5-1 5 1 5-1 5 0 5 0 5 0 5 1 5-1 5 1 5-1 5 1 5-2 5 1 5 1 5-1 5 0 5 0 5 0 5 0 5 0 5 0 5 0 5 0 5 0 5 0 5 0 5 0 5 0 5 0 5 0 5 0 5-1 5 0 5 1 5 0 5 0 5 0 5-1 5 1 5-14 5-23 5-9 5-19 5-20 5-38 5-34 5 4 5-77 5 30 5-65 5-2 5-8 5-19 5-38 5-12 5-64 5-9 5-8 5-54 5-9 5-23 5-23 5-15 5-24 5-21 5-32 5-6 5-17 5-17 5-10 5-27 5-20 5 0 5-20 5-11 5-22 5-6 5-19 5-13 5-43 5-22 5 20 5-1 5-9 5 0 5-37 5-9 5 19 5-12 5 4 5-16 5-2 5-3 5 0 5-9 5-2 5-5 5 18 5-16 5 9 5-12 5-1 5-5 5 22 5 6 5 4 5-44 5 60 5 0 5-43 5 48 5 0 5 3 5-1 5-24 5 4 5-70 5 69 5-11 5 11 5 12 5-1 5-41 5 36 5-13 5 46 5-14 5 23 4-1 5-15 5 22 5 14 5-2 5-15 5 3 5 5 5 11 5 2 5 0 5-89 5 74 5-58 5 28 5 24 5-10 5-18 5-9 5 21 5-27 5-68 5 116 5-1 5-8 5-16 5 22 5 17 5-17 5 8 5 0 5-7 5-18 5 2 5-96 5 100 5 9 5-70 5 22 5 42 5-13 5-47 5 28 5-5 5 8 5 6 5 14 5-6 5 1 5-8 5 8 5 8 5-16 5-91 5 91 5 10 5-8 5-80 5 81 5-13 5 2 5 4 5 11 5-24 5 2 5-39 5 68 5-5 5 6 5-60 5 46 5-11 5 18 5 7 5-19 5-8 5-22 5 6 5 22 5 22 5-6 5-110 5 92 5 7 5-10 5-22 5 30 5-31 5 14 5 58 5-46 5 17 5 39 5-74 5 77 5-20 5 18 5-8 5-17 5 2 5 8 5-45 5 24 5 14 5-16 5-28 5 20 5-24 5 6 5 10 5 10 5-18 5-42 5-44 5 101 5 12 5-51 5 55 5-4 5-59 5 63 5 2 5 6 5-11 5 9 5-3 5-3 5-23 5 24 5 3 5-5 5-10 5-6 5-1 5-19 5 28 5-21 5-36 5-18 5 43 5 6 5-32 5 37 5-28 5-12 5 26 5 20 5 6 5-2 5-10 5 30 5-5 5-57 5 36 5 14 5-28 5-14 5-4 5 11 5 27 5 12 5-11 5-6 5 4 5-21 5-25 5 19 5 34 5-6 5-15 5-18 5 16 5-8 5-1 5 12 5-45 5 41 5-9 5-41 5-9 5 25 5-25 5 36 5-70 5 87 5 7 5 7 5-6L6773 2690l-5-12 -5 28 -5-46 -5 2 -5 9 -5-11 -5 10 -5-10 -5 6 -5 63 -5-50 -5-1 -5-6 -5 54 -5-51 -5 34 -5-20 -5 27 -5-17 -5 8 -5-1 -5-5 -5-16 -5 4 -5 12 -5 0 -5-5 -5-5 -5-10 -5-4 -5 17 -5 1 -5 14 -5-13 -5 91 -5-62 -5 2 -5-15 -5-8 -5-12 -5 44 -5-11 -5-18 -5-19 -5-7 -5 22 -5-31 -5 95 -5-81 -5 8 -5-4 -5 8 -5 2 -5 54 -5 17 -5-54 -5 28 -5-26 -5 44 -5-36 -5 54 -5-50 -5-10 -5 27 -5-26 -5-2 -5-11 -5 7 -5 1 -5 5 -5-17 -5 18 -5 11 -5-17 -5-16 -5-6 -5 39 -5-2 -5-5 -5-23 -5 64 -5-55 -5 10 -5 18 -5-4 -5-16 -5-1 -5 23 -5-11 -5 1 -5 6 -5-2 -5 103 -5-94 -5 12 -5-20 -5 4 -5 27 -5-51 -5 3 -5-11 -5 8 -5 23 -5-20 -5-22 -5 12 -5 16 -5-13 -5-18 -5 39 -5-10 -5-4 -5-22 -5 20 -5-2 -5-2 -5-9 -5 0 -5 34 -5 19 -5-43 -5-18 -5 16 -5 5 -5-14 -5-1 -5 13 -5 25 -5-38 -5 12 -5-12 -5 0 -5 26 -5-22 -5 10 -5-13 -5-1 -5 26 -5-28 -5 11 -5 31 -5-47 -5 0 -5 16 -5-3 -5 11 -5-21 -5 39 -5-19 -5 0 -5 91 -5-77 -5-17 -5 30 -5-12 -5-11 -5 2 -5 10 -5 0 -5 66 -5-65 -5-4 -5-6 -5 1 -5-11 -5 6 -5-4 -5 4 -5-16 -5 45 -5-12 -5 9 -5-22 -5 7 -5 16 -5 1 -5 2 -5-8 -5 43 -5-48 -5-6 -5 25 -5 2 -5-32 -5 14 -5 1 -5-19 -4 7 -5-23 -5 5 -5-10 -5-17 -5-9 -5-1 -5 63 -5-51 -5 1 -5-7 -5 8 -5-7 -5 0 -5 33 -5 12 -5 46 -5-76 -5-17 -5 1 -5 70 -5-80 -5 12 -5 21 -5-44 -5 28 -5 38 -5-45 -5 17 -5-33 -5-9 -5 2 -5-14 -5-16 -5 3 -5 6 -5 29 -5-29 -5 3 -5-32 -5 3 -5 4 -5 16 -5 3 -5 48 -5-38 -5 14 -5-1 -5 17 -5 64 -5-37 -5 24 -5 13 -5 2 -5 29 -5-5 -5 12 -5 23 -5 17 -5 18 -5 4 -5 16 -5 25 -5 12 -5 48 -5 28 -5 11 -5 20 -5 30 -5 27 -5 45 -5 12 -5 29 -5 26 -5 21 -5 51 -5-5 -5 38 -5 31 -5 7 -5 20 -5 28 -5 6 -5 22 -5 16 -5-5 -5-3 -5 5 -5-2 -5 1 -5 0 -5 0 -5 0 -5 1 -5-1 -5 1 -5-1 -5 0 -5 1 -5 0 -5-1 -5 0 -5 0 -5 1 -5 0 -5 0 -5 0 -5 0 -5 0 -5 0 -5 0 -5 0 -5 0 -5 0 -5 0 -5 0 -5 0 -5 0 -5 0 -5 0 -5 0 -5 0 -5 0 -5 0 -5 0 -5 0 -5 0 -5 0 -5 1 -5-1 -5 0 -5 0 -5 0 -5 0 -5 0 -5 0 -5 0 -5 0 -5 1 -5-1 -5 0 -5 0 -5 1 -5 0 -5 0 -5 0 -5 0 -5 0 -5 0 -5 0 -5-1 -5 1 -5-1 -5 0 -5 1 -5 0 -5 0 -5 0 -5 0 -5 0 -5 0 -5 0 -5 0 -5 0 -5 0 -5 0 -5 0 -5 0 -5 1 -5-1 -5 0 -5 1 -5-1 -5 0 -5 0 -5 1 -5-1 -5 1 -5-1 -5 0 -5 0 -5 0 -5 0 -5 0 -5 0 -5 2 -5-1z"/>
</g>
<rect x="490.40" y="194.30" width="186.90" height="150.80" fill="none" stroke="#484848" stroke-width="0.9"/>
<path d="M490.40 345.10v-3.0 M505.97 345.10v-1.6 M521.55 345.10v-3.0 M537.12 345.10v-1.6 M552.70 345.10v-3.0 M568.27 345.10v-1.6 M583.85 345.10v-3.0 M599.42 345.10v-1.6 M615.00 345.10v-3.0 M630.57 345.10v-1.6 M646.15 345.10v-3.0 M661.72 345.10v-1.6 M677.30 345.10v-3.0 M490.40 345.10h3.0 M490.40 325.64h1.6 M490.40 306.18h3.0 M490.40 286.73h1.6 M490.40 267.27h3.0 M490.40 247.81h1.6 M490.40 228.35h3.0 M490.40 208.89h1.6" stroke="#484848" stroke-width="0.9" fill="none"/>
<g font-family='"Liberation Serif", serif' fill="#1a1a1a" stroke="#1a1a1a" stroke-width="0.2"><text transform="translate(490.40,355.40) scale(0.84,1)" font-size="10.35" text-anchor="middle" >0</text><text transform="translate(521.55,355.40) scale(0.84,1)" font-size="10.35" text-anchor="middle" >50</text><text transform="translate(552.70,355.40) scale(0.84,1)" font-size="10.35" text-anchor="middle" >100</text><text transform="translate(583.85,355.40) scale(0.84,1)" font-size="10.35" text-anchor="middle" >150</text><text transform="translate(615.00,355.40) scale(0.84,1)" font-size="10.35" text-anchor="middle" >200</text><text transform="translate(646.15,355.40) scale(0.84,1)" font-size="10.35" text-anchor="middle" >250</text><text transform="translate(677.30,355.40) scale(0.84,1)" font-size="10.35" text-anchor="middle" >300</text><text transform="translate(486.80,348.10) scale(0.84,1)" font-size="10.35" text-anchor="end" >-5</text><text transform="translate(486.80,309.18) scale(0.84,1)" font-size="10.35" text-anchor="end" >35</text><text transform="translate(486.80,270.27) scale(0.84,1)" font-size="10.35" text-anchor="end" >75</text><text transform="translate(486.80,231.35) scale(0.84,1)" font-size="10.35" text-anchor="end" >115</text><text transform="translate(583.85,370.10) scale(0.84,1)" font-size="10.35" text-anchor="middle" >t (ps)</text><text x="0" y="0" font-size="8.3" text-anchor="middle" transform="translate(469.70,270.45) rotate(-90) scale(1.06,1)">Population of fragments</text><text transform="translate(471.10,206.10) scale(0.84,1)" font-size="10.35" text-anchor="middle" >(e)</text><text transform="translate(496.10,204.70) scale(0.84,1)" font-size="10.35" text-anchor="start" >3750K</text><path d="M533.99 204.10h18.7" stroke="#7b7b7b" stroke-width="0.9"/><text transform="translate(555.49,207.80) scale(0.84,1)" font-size="10.35"><tspan y="0">C</tspan><tspan font-size="6.67" y="2.2">2</tspan><tspan y="0">H</tspan><tspan font-size="6.67" y="2.2">4</tspan><tspan y="0">N</tspan><tspan font-size="6.67" y="2.2">4</tspan><tspan y="0">O</tspan><tspan font-size="6.67" y="2.2">4</tspan></text><path d="M593.45 204.10h18.7" stroke="#f86cc8" stroke-width="0.9"/><text transform="translate(614.95,207.80) scale(0.84,1)" font-size="10.35"><tspan y="0">NO</tspan><tspan font-size="6.67" y="2.2">2</tspan></text><path d="M631.95 204.10h18.7" stroke="#bfef8c" stroke-width="0.9"/><text transform="translate(653.45,207.80) scale(0.84,1)" font-size="10.35"><tspan y="0">NO</tspan></text><path d="M533.99 217.00h18.7" stroke="#3eb2f2" stroke-width="0.9"/><text transform="translate(555.49,220.70) scale(0.84,1)" font-size="10.35"><tspan y="0">CO</tspan><tspan font-size="6.67" y="2.2">2</tspan></text><path d="M593.45 217.00h18.7" stroke="#3f5fe6" stroke-width="0.9"/><text transform="translate(614.95,220.70) scale(0.84,1)" font-size="10.35"><tspan y="0">CO</tspan></text><path d="M631.95 217.00h18.7" stroke="#d52cf0" stroke-width="0.9"/><text transform="translate(653.45,220.70) scale(0.84,1)" font-size="10.35"><tspan y="0">H</tspan><tspan font-size="6.67" y="2.2">2</tspan><tspan y="0">O</tspan></text><path d="M533.99 229.60h18.7" stroke="#e6df62" stroke-width="0.9"/><text transform="translate(555.49,233.30) scale(0.84,1)" font-size="10.35"><tspan y="0">N</tspan><tspan font-size="6.67" y="2.2">2</tspan></text><path d="M593.45 229.60h18.7" stroke="#acb5f4" stroke-width="0.9"/><text transform="translate(614.95,233.30) scale(0.84,1)" font-size="10.35"><tspan y="0">H</tspan><tspan font-size="6.67" y="2.2">2</tspan></text><path d="M631.95 229.60h18.7" stroke="#c3f09a" stroke-width="0.9"/><text transform="translate(653.45,233.30) scale(0.84,1)" font-size="10.35"><tspan y="0">NH</tspan><tspan font-size="6.67" y="2.2">3</tspan></text><path d="M533.99 242.40h18.7" stroke="#f8d4ae" stroke-width="0.9"/><text transform="translate(555.49,246.10) scale(0.84,1)" font-size="10.35"><tspan y="0">HNCO</tspan></text></g>
</svg></body></html>
